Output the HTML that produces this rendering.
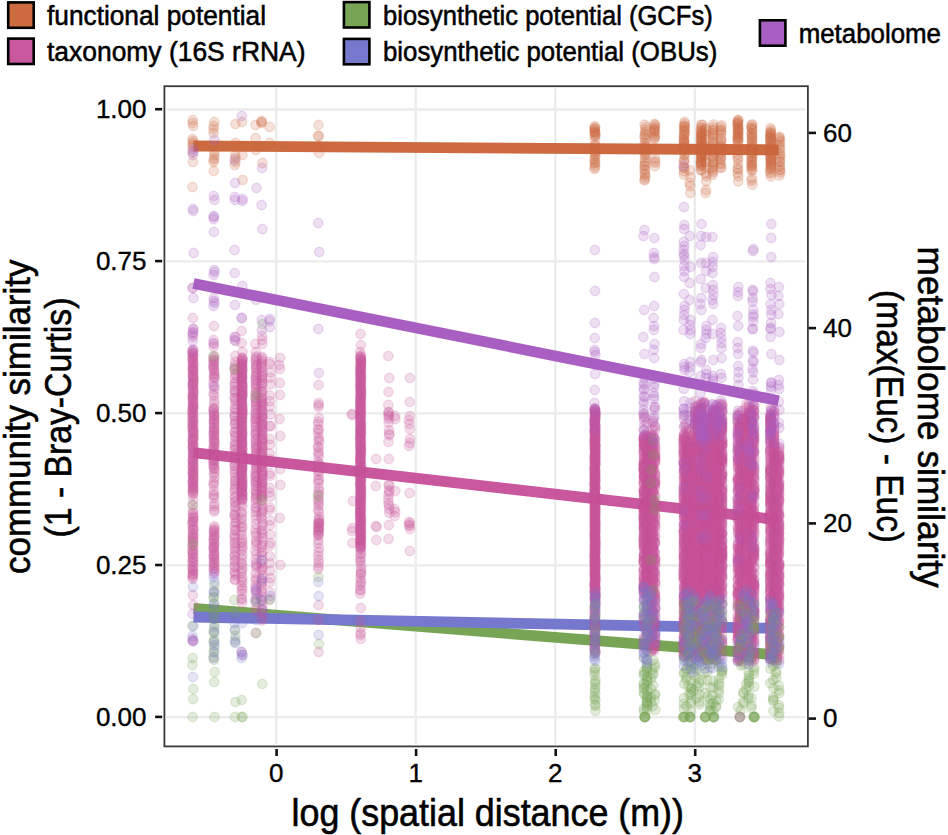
<!DOCTYPE html>
<html><head><meta charset="utf-8"><style>
html,body{margin:0;padding:0;background:#fff;width:948px;height:835px;overflow:hidden}
svg{display:block;font-family:"Liberation Sans",sans-serif}
circle{stroke-width:1.4px;}
.o circle{fill:#CB6B3F;stroke:#CB6B3F}
.m circle{fill:#C8579D;stroke:#C8579D}
.g circle{fill:#78A456;stroke:#78A456}
.b circle{fill:#7678CE;stroke:#7678CE}
.p circle{fill:#A95EC1;stroke:#A95EC1}
.pt{fill-opacity:.2;stroke-opacity:.2}
</style></head><body>
<svg width="948" height="835" viewBox="0 0 948 835">
<rect width="948" height="835" fill="#fff"/>
<g stroke="#EBEBEB" stroke-width="2.3"><line x1="276.2" y1="88.5" x2="276.2" y2="743.5"/><line x1="415.7" y1="88.5" x2="415.7" y2="743.5"/><line x1="555.3" y1="88.5" x2="555.3" y2="743.5"/><line x1="694.8" y1="88.5" x2="694.8" y2="743.5"/><line x1="166.5" y1="717.2" x2="805.5" y2="717.2"/><line x1="166.5" y1="565.3" x2="805.5" y2="565.3"/><line x1="166.5" y1="413.4" x2="805.5" y2="413.4"/><line x1="166.5" y1="261.4" x2="805.5" y2="261.4"/><line x1="166.5" y1="109.5" x2="805.5" y2="109.5"/></g>
<g><line x1="193.5" y1="146.0" x2="778.7" y2="149.86" stroke="#CB6B3F" stroke-width="10.8"/><line x1="193.5" y1="452.68" x2="778.7" y2="519.86" stroke="#C8579D" stroke-width="10.8"/><line x1="193.5" y1="608.48" x2="778.7" y2="655.12" stroke="#78A456" stroke-width="10.8"/><line x1="193.5" y1="617.0" x2="778.7" y2="628.47" stroke="#7678CE" stroke-width="10.8"/></g>
<g class="pt o"><circle cx="192.8" cy="120.0" r="4.75"/><circle cx="192.6" cy="123.0" r="4.75"/><circle cx="193.2" cy="126.0" r="4.75"/><circle cx="192.5" cy="139.0" r="4.75"/><circle cx="193.0" cy="141.0" r="4.75"/><circle cx="192.8" cy="143.0" r="4.75"/><circle cx="192.5" cy="145.0" r="4.75"/><circle cx="193.0" cy="147.0" r="4.75"/><circle cx="192.4" cy="152.0" r="4.75"/><circle cx="192.9" cy="162.0" r="4.75"/><circle cx="192.5" cy="187.0" r="4.75"/><circle cx="214.3" cy="122.0" r="4.75"/><circle cx="213.7" cy="126.0" r="4.75"/><circle cx="213.6" cy="129.0" r="4.75"/><circle cx="213.5" cy="133.0" r="4.75"/><circle cx="214.4" cy="152.0" r="4.75"/><circle cx="214.4" cy="155.0" r="4.75"/><circle cx="214.2" cy="158.0" r="4.75"/><circle cx="213.7" cy="160.0" r="4.75"/><circle cx="213.7" cy="162.0" r="4.75"/><circle cx="213.8" cy="171.0" r="4.75"/><circle cx="235.5" cy="124.0" r="4.75"/><circle cx="235.5" cy="143.0" r="4.75"/><circle cx="235.3" cy="155.0" r="4.75"/><circle cx="235.6" cy="158.0" r="4.75"/><circle cx="235.5" cy="162.0" r="4.75"/><circle cx="234.8" cy="165.0" r="4.75"/><circle cx="242.0" cy="122.0" r="4.75"/><circle cx="242.4" cy="155.0" r="4.75"/><circle cx="242.6" cy="180.0" r="4.75"/><circle cx="255.5" cy="125.0" r="4.75"/><circle cx="255.6" cy="138.0" r="4.75"/><circle cx="255.9" cy="150.0" r="4.75"/><circle cx="261.8" cy="121.0" r="4.75"/><circle cx="261.4" cy="122.0" r="4.75"/><circle cx="261.6" cy="123.0" r="4.75"/><circle cx="262.5" cy="163.0" r="4.75"/><circle cx="269.6" cy="127.0" r="4.75"/><circle cx="269.7" cy="143.0" r="4.75"/><circle cx="318.5" cy="125.0" r="4.75"/><circle cx="318.9" cy="136.0" r="4.75"/><circle cx="318.1" cy="136.0" r="4.75"/><circle cx="319.0" cy="146.0" r="4.75"/><circle cx="319.1" cy="153.0" r="4.75"/><circle cx="594.7" cy="126.3" r="4.75"/><circle cx="595.3" cy="127.4" r="4.75"/><circle cx="594.6" cy="128.6" r="4.75"/><circle cx="594.6" cy="129.0" r="4.75"/><circle cx="594.7" cy="130.8" r="4.75"/><circle cx="594.8" cy="131.6" r="4.75"/><circle cx="594.9" cy="132.7" r="4.75"/><circle cx="595.4" cy="133.1" r="4.75"/><circle cx="595.2" cy="134.5" r="4.75"/><circle cx="595.4" cy="135.8" r="4.75"/><circle cx="594.8" cy="136.0" r="4.75"/><circle cx="595.0" cy="139.7" r="4.75"/><circle cx="595.3" cy="145.2" r="4.75"/><circle cx="594.7" cy="145.7" r="4.75"/><circle cx="595.2" cy="151.4" r="4.75"/><circle cx="595.0" cy="152.7" r="4.75"/><circle cx="595.3" cy="154.1" r="4.75"/><circle cx="595.4" cy="156.3" r="4.75"/><circle cx="594.6" cy="158.5" r="4.75"/><circle cx="594.7" cy="159.8" r="4.75"/><circle cx="595.1" cy="162.6" r="4.75"/><circle cx="594.7" cy="162.9" r="4.75"/><circle cx="595.0" cy="165.2" r="4.75"/><circle cx="594.9" cy="167.4" r="4.75"/><circle cx="594.5" cy="168.8" r="4.75"/><circle cx="739.8" cy="717.0" r="4.75"/><circle cx="644.6" cy="124.7" r="4.75"/><circle cx="645.5" cy="127.0" r="4.75"/><circle cx="645.4" cy="129.5" r="4.75"/><circle cx="645.3" cy="131.8" r="4.75"/><circle cx="645.3" cy="134.3" r="4.75"/><circle cx="644.7" cy="134.9" r="4.75"/><circle cx="644.5" cy="137.3" r="4.75"/><circle cx="645.4" cy="139.0" r="4.75"/><circle cx="644.8" cy="142.5" r="4.75"/><circle cx="645.3" cy="144.2" r="4.75"/><circle cx="645.3" cy="146.6" r="4.75"/><circle cx="644.6" cy="147.9" r="4.75"/><circle cx="644.8" cy="150.6" r="4.75"/><circle cx="644.9" cy="152.2" r="4.75"/><circle cx="645.5" cy="154.1" r="4.75"/><circle cx="645.0" cy="155.4" r="4.75"/><circle cx="645.0" cy="158.5" r="4.75"/><circle cx="644.9" cy="161.2" r="4.75"/><circle cx="645.2" cy="163.2" r="4.75"/><circle cx="644.6" cy="165.4" r="4.75"/><circle cx="644.8" cy="165.9" r="4.75"/><circle cx="644.5" cy="169.4" r="4.75"/><circle cx="645.2" cy="170.1" r="4.75"/><circle cx="644.7" cy="173.7" r="4.75"/><circle cx="645.2" cy="174.6" r="4.75"/><circle cx="645.2" cy="177.2" r="4.75"/><circle cx="644.7" cy="179.4" r="4.75"/><circle cx="644.5" cy="180.5" r="4.75"/><circle cx="654.4" cy="124.0" r="4.75"/><circle cx="655.2" cy="124.8" r="4.75"/><circle cx="654.8" cy="126.7" r="4.75"/><circle cx="654.8" cy="128.2" r="4.75"/><circle cx="654.5" cy="129.7" r="4.75"/><circle cx="654.3" cy="130.2" r="4.75"/><circle cx="654.6" cy="131.5" r="4.75"/><circle cx="654.3" cy="133.1" r="4.75"/><circle cx="655.2" cy="135.0" r="4.75"/><circle cx="654.5" cy="136.7" r="4.75"/><circle cx="654.4" cy="138.3" r="4.75"/><circle cx="654.5" cy="138.7" r="4.75"/><circle cx="654.9" cy="158.1" r="4.75"/><circle cx="654.9" cy="161.0" r="4.75"/><circle cx="655.1" cy="162.8" r="4.75"/><circle cx="655.0" cy="166.2" r="4.75"/><circle cx="684.6" cy="122.0" r="4.75"/><circle cx="684.7" cy="123.6" r="4.75"/><circle cx="684.5" cy="125.6" r="4.75"/><circle cx="683.8" cy="126.2" r="4.75"/><circle cx="684.7" cy="127.3" r="4.75"/><circle cx="684.5" cy="128.6" r="4.75"/><circle cx="684.5" cy="130.4" r="4.75"/><circle cx="683.9" cy="131.1" r="4.75"/><circle cx="684.8" cy="132.3" r="4.75"/><circle cx="684.5" cy="133.9" r="4.75"/><circle cx="684.0" cy="135.5" r="4.75"/><circle cx="683.8" cy="136.1" r="4.75"/><circle cx="683.9" cy="138.4" r="4.75"/><circle cx="684.2" cy="139.8" r="4.75"/><circle cx="683.9" cy="140.7" r="4.75"/><circle cx="684.1" cy="142.1" r="4.75"/><circle cx="684.3" cy="142.8" r="4.75"/><circle cx="684.0" cy="143.8" r="4.75"/><circle cx="684.1" cy="145.9" r="4.75"/><circle cx="684.6" cy="146.7" r="4.75"/><circle cx="684.0" cy="147.7" r="4.75"/><circle cx="684.2" cy="149.0" r="4.75"/><circle cx="684.4" cy="150.9" r="4.75"/><circle cx="684.7" cy="153.8" r="4.75"/><circle cx="684.5" cy="155.3" r="4.75"/><circle cx="684.0" cy="160.0" r="4.75"/><circle cx="684.2" cy="160.5" r="4.75"/><circle cx="684.3" cy="163.3" r="4.75"/><circle cx="683.9" cy="167.4" r="4.75"/><circle cx="684.3" cy="168.5" r="4.75"/><circle cx="684.0" cy="171.3" r="4.75"/><circle cx="683.9" cy="174.5" r="4.75"/><circle cx="689.9" cy="170.3" r="4.75"/><circle cx="690.4" cy="177.3" r="4.75"/><circle cx="689.6" cy="182.8" r="4.75"/><circle cx="690.2" cy="186.1" r="4.75"/><circle cx="690.4" cy="192.8" r="4.75"/><circle cx="701.8" cy="124.7" r="4.75"/><circle cx="701.8" cy="124.9" r="4.75"/><circle cx="701.1" cy="127.4" r="4.75"/><circle cx="701.8" cy="128.5" r="4.75"/><circle cx="701.0" cy="130.2" r="4.75"/><circle cx="701.8" cy="131.1" r="4.75"/><circle cx="701.6" cy="132.2" r="4.75"/><circle cx="701.4" cy="132.8" r="4.75"/><circle cx="701.1" cy="133.9" r="4.75"/><circle cx="701.3" cy="135.1" r="4.75"/><circle cx="701.9" cy="135.5" r="4.75"/><circle cx="701.1" cy="136.7" r="4.75"/><circle cx="701.6" cy="137.2" r="4.75"/><circle cx="700.9" cy="138.6" r="4.75"/><circle cx="701.6" cy="139.4" r="4.75"/><circle cx="701.1" cy="140.4" r="4.75"/><circle cx="701.5" cy="141.2" r="4.75"/><circle cx="701.0" cy="142.3" r="4.75"/><circle cx="701.8" cy="143.3" r="4.75"/><circle cx="701.8" cy="144.2" r="4.75"/><circle cx="701.8" cy="144.7" r="4.75"/><circle cx="701.1" cy="145.5" r="4.75"/><circle cx="701.8" cy="146.7" r="4.75"/><circle cx="701.1" cy="147.2" r="4.75"/><circle cx="701.3" cy="148.0" r="4.75"/><circle cx="701.1" cy="149.0" r="4.75"/><circle cx="701.5" cy="150.5" r="4.75"/><circle cx="701.3" cy="151.5" r="4.75"/><circle cx="700.9" cy="152.2" r="4.75"/><circle cx="701.1" cy="153.4" r="4.75"/><circle cx="701.4" cy="153.8" r="4.75"/><circle cx="701.4" cy="155.2" r="4.75"/><circle cx="701.5" cy="156.1" r="4.75"/><circle cx="701.7" cy="156.3" r="4.75"/><circle cx="701.9" cy="157.2" r="4.75"/><circle cx="701.1" cy="158.3" r="4.75"/><circle cx="701.2" cy="159.7" r="4.75"/><circle cx="701.2" cy="160.1" r="4.75"/><circle cx="700.9" cy="161.2" r="4.75"/><circle cx="701.1" cy="161.8" r="4.75"/><circle cx="700.9" cy="163.1" r="4.75"/><circle cx="701.2" cy="163.8" r="4.75"/><circle cx="701.5" cy="164.6" r="4.75"/><circle cx="701.0" cy="165.7" r="4.75"/><circle cx="701.0" cy="166.5" r="4.75"/><circle cx="701.0" cy="169.9" r="4.75"/><circle cx="701.4" cy="170.3" r="4.75"/><circle cx="706.4" cy="128.3" r="4.75"/><circle cx="705.7" cy="130.2" r="4.75"/><circle cx="706.1" cy="134.7" r="4.75"/><circle cx="705.9" cy="139.8" r="4.75"/><circle cx="706.2" cy="145.6" r="4.75"/><circle cx="706.5" cy="149.4" r="4.75"/><circle cx="706.4" cy="151.1" r="4.75"/><circle cx="705.6" cy="155.6" r="4.75"/><circle cx="705.6" cy="161.7" r="4.75"/><circle cx="705.8" cy="162.1" r="4.75"/><circle cx="706.5" cy="167.2" r="4.75"/><circle cx="705.9" cy="173.5" r="4.75"/><circle cx="706.3" cy="176.1" r="4.75"/><circle cx="706.2" cy="181.2" r="4.75"/><circle cx="706.0" cy="190.0" r="4.75"/><circle cx="705.5" cy="193.0" r="4.75"/><circle cx="713.2" cy="124.5" r="4.75"/><circle cx="713.3" cy="127.2" r="4.75"/><circle cx="713.5" cy="129.8" r="4.75"/><circle cx="712.6" cy="130.4" r="4.75"/><circle cx="713.1" cy="133.8" r="4.75"/><circle cx="713.2" cy="134.4" r="4.75"/><circle cx="712.7" cy="136.5" r="4.75"/><circle cx="713.0" cy="138.7" r="4.75"/><circle cx="712.6" cy="141.4" r="4.75"/><circle cx="713.1" cy="143.5" r="4.75"/><circle cx="713.2" cy="144.9" r="4.75"/><circle cx="712.5" cy="147.6" r="4.75"/><circle cx="713.2" cy="149.0" r="4.75"/><circle cx="713.1" cy="151.4" r="4.75"/><circle cx="713.5" cy="152.4" r="4.75"/><circle cx="712.7" cy="155.6" r="4.75"/><circle cx="713.5" cy="156.9" r="4.75"/><circle cx="712.9" cy="158.4" r="4.75"/><circle cx="713.4" cy="161.9" r="4.75"/><circle cx="713.2" cy="162.5" r="4.75"/><circle cx="713.2" cy="164.7" r="4.75"/><circle cx="712.6" cy="167.5" r="4.75"/><circle cx="712.7" cy="168.4" r="4.75"/><circle cx="712.5" cy="170.5" r="4.75"/><circle cx="712.9" cy="172.3" r="4.75"/><circle cx="712.6" cy="174.8" r="4.75"/><circle cx="721.4" cy="125.2" r="4.75"/><circle cx="720.9" cy="127.3" r="4.75"/><circle cx="720.9" cy="129.7" r="4.75"/><circle cx="721.0" cy="130.6" r="4.75"/><circle cx="721.2" cy="132.4" r="4.75"/><circle cx="720.9" cy="134.8" r="4.75"/><circle cx="721.3" cy="138.6" r="4.75"/><circle cx="721.1" cy="140.4" r="4.75"/><circle cx="721.2" cy="142.1" r="4.75"/><circle cx="720.7" cy="144.8" r="4.75"/><circle cx="720.8" cy="146.5" r="4.75"/><circle cx="721.3" cy="147.5" r="4.75"/><circle cx="721.3" cy="150.3" r="4.75"/><circle cx="721.1" cy="153.0" r="4.75"/><circle cx="720.5" cy="153.7" r="4.75"/><circle cx="721.2" cy="156.5" r="4.75"/><circle cx="720.6" cy="158.0" r="4.75"/><circle cx="720.7" cy="159.6" r="4.75"/><circle cx="720.5" cy="163.1" r="4.75"/><circle cx="720.8" cy="164.2" r="4.75"/><circle cx="721.5" cy="167.3" r="4.75"/><circle cx="720.6" cy="167.9" r="4.75"/><circle cx="738.5" cy="120.0" r="4.75"/><circle cx="737.8" cy="120.2" r="4.75"/><circle cx="737.8" cy="121.6" r="4.75"/><circle cx="738.0" cy="122.6" r="4.75"/><circle cx="737.6" cy="123.5" r="4.75"/><circle cx="737.7" cy="124.3" r="4.75"/><circle cx="738.1" cy="125.4" r="4.75"/><circle cx="737.8" cy="127.0" r="4.75"/><circle cx="738.2" cy="128.2" r="4.75"/><circle cx="738.0" cy="128.8" r="4.75"/><circle cx="738.4" cy="129.7" r="4.75"/><circle cx="737.6" cy="131.1" r="4.75"/><circle cx="738.2" cy="131.7" r="4.75"/><circle cx="738.2" cy="133.0" r="4.75"/><circle cx="738.3" cy="133.9" r="4.75"/><circle cx="737.6" cy="135.5" r="4.75"/><circle cx="737.7" cy="136.3" r="4.75"/><circle cx="738.3" cy="137.5" r="4.75"/><circle cx="737.7" cy="138.6" r="4.75"/><circle cx="738.2" cy="139.0" r="4.75"/><circle cx="737.6" cy="140.5" r="4.75"/><circle cx="738.1" cy="141.2" r="4.75"/><circle cx="738.1" cy="142.4" r="4.75"/><circle cx="737.8" cy="146.1" r="4.75"/><circle cx="738.0" cy="150.1" r="4.75"/><circle cx="737.5" cy="154.4" r="4.75"/><circle cx="737.7" cy="157.7" r="4.75"/><circle cx="738.1" cy="159.6" r="4.75"/><circle cx="738.1" cy="164.3" r="4.75"/><circle cx="737.7" cy="168.3" r="4.75"/><circle cx="738.2" cy="169.7" r="4.75"/><circle cx="737.7" cy="172.9" r="4.75"/><circle cx="738.3" cy="176.1" r="4.75"/><circle cx="738.2" cy="181.4" r="4.75"/><circle cx="752.3" cy="124.4" r="4.75"/><circle cx="751.8" cy="124.9" r="4.75"/><circle cx="751.6" cy="126.9" r="4.75"/><circle cx="751.6" cy="128.2" r="4.75"/><circle cx="752.0" cy="128.8" r="4.75"/><circle cx="752.4" cy="130.4" r="4.75"/><circle cx="752.0" cy="132.9" r="4.75"/><circle cx="751.6" cy="133.4" r="4.75"/><circle cx="752.0" cy="135.3" r="4.75"/><circle cx="752.2" cy="136.5" r="4.75"/><circle cx="752.3" cy="138.2" r="4.75"/><circle cx="751.6" cy="139.0" r="4.75"/><circle cx="752.0" cy="140.9" r="4.75"/><circle cx="752.2" cy="142.1" r="4.75"/><circle cx="751.8" cy="143.5" r="4.75"/><circle cx="752.2" cy="145.3" r="4.75"/><circle cx="751.9" cy="147.2" r="4.75"/><circle cx="752.4" cy="148.1" r="4.75"/><circle cx="752.1" cy="150.3" r="4.75"/><circle cx="752.0" cy="150.5" r="4.75"/><circle cx="751.8" cy="152.7" r="4.75"/><circle cx="752.5" cy="153.3" r="4.75"/><circle cx="751.6" cy="156.0" r="4.75"/><circle cx="752.1" cy="156.8" r="4.75"/><circle cx="751.6" cy="158.0" r="4.75"/><circle cx="752.3" cy="160.1" r="4.75"/><circle cx="751.6" cy="161.1" r="4.75"/><circle cx="751.6" cy="162.5" r="4.75"/><circle cx="751.6" cy="164.7" r="4.75"/><circle cx="752.3" cy="165.2" r="4.75"/><circle cx="751.6" cy="166.4" r="4.75"/><circle cx="751.7" cy="167.8" r="4.75"/><circle cx="752.3" cy="169.9" r="4.75"/><circle cx="751.7" cy="170.8" r="4.75"/><circle cx="751.9" cy="178.3" r="4.75"/><circle cx="751.6" cy="180.8" r="4.75"/><circle cx="752.5" cy="184.7" r="4.75"/><circle cx="770.4" cy="128.2" r="4.75"/><circle cx="771.0" cy="130.3" r="4.75"/><circle cx="770.6" cy="131.9" r="4.75"/><circle cx="770.7" cy="133.0" r="4.75"/><circle cx="770.6" cy="133.4" r="4.75"/><circle cx="770.8" cy="134.9" r="4.75"/><circle cx="770.3" cy="135.3" r="4.75"/><circle cx="770.2" cy="137.2" r="4.75"/><circle cx="770.4" cy="138.1" r="4.75"/><circle cx="770.4" cy="138.6" r="4.75"/><circle cx="771.1" cy="139.9" r="4.75"/><circle cx="771.0" cy="140.6" r="4.75"/><circle cx="770.3" cy="141.8" r="4.75"/><circle cx="770.4" cy="143.3" r="4.75"/><circle cx="770.5" cy="143.8" r="4.75"/><circle cx="771.0" cy="145.5" r="4.75"/><circle cx="770.1" cy="146.3" r="4.75"/><circle cx="770.7" cy="147.6" r="4.75"/><circle cx="771.1" cy="148.8" r="4.75"/><circle cx="770.9" cy="149.2" r="4.75"/><circle cx="770.4" cy="150.8" r="4.75"/><circle cx="770.5" cy="151.4" r="4.75"/><circle cx="770.5" cy="152.4" r="4.75"/><circle cx="770.3" cy="153.2" r="4.75"/><circle cx="770.5" cy="155.1" r="4.75"/><circle cx="771.0" cy="155.9" r="4.75"/><circle cx="770.3" cy="157.1" r="4.75"/><circle cx="770.9" cy="158.3" r="4.75"/><circle cx="770.8" cy="159.4" r="4.75"/><circle cx="770.9" cy="160.2" r="4.75"/><circle cx="770.8" cy="160.8" r="4.75"/><circle cx="770.9" cy="162.0" r="4.75"/><circle cx="770.6" cy="162.8" r="4.75"/><circle cx="770.9" cy="164.0" r="4.75"/><circle cx="770.9" cy="165.1" r="4.75"/><circle cx="771.0" cy="166.7" r="4.75"/><circle cx="771.0" cy="167.0" r="4.75"/><circle cx="770.8" cy="168.7" r="4.75"/><circle cx="770.1" cy="169.6" r="4.75"/><circle cx="770.6" cy="172.0" r="4.75"/><circle cx="770.4" cy="173.4" r="4.75"/><circle cx="770.9" cy="176.5" r="4.75"/><circle cx="779.5" cy="136.8" r="4.75"/><circle cx="779.5" cy="137.7" r="4.75"/><circle cx="779.6" cy="139.3" r="4.75"/><circle cx="780.1" cy="141.2" r="4.75"/><circle cx="779.4" cy="143.7" r="4.75"/><circle cx="780.0" cy="145.4" r="4.75"/><circle cx="779.8" cy="147.7" r="4.75"/><circle cx="780.1" cy="150.2" r="4.75"/><circle cx="779.6" cy="153.4" r="4.75"/><circle cx="780.2" cy="154.7" r="4.75"/><circle cx="780.2" cy="156.5" r="4.75"/><circle cx="779.6" cy="159.1" r="4.75"/><circle cx="779.9" cy="161.4" r="4.75"/><circle cx="779.9" cy="161.9" r="4.75"/><circle cx="779.8" cy="165.4" r="4.75"/><circle cx="779.7" cy="166.7" r="4.75"/><circle cx="780.0" cy="169.6" r="4.75"/><circle cx="779.7" cy="170.3" r="4.75"/><circle cx="780.3" cy="172.6" r="4.75"/><circle cx="779.4" cy="175.4" r="4.75"/></g>
<g class="pt m"><circle cx="192.5" cy="288.0" r="4.75"/><circle cx="192.9" cy="318.0" r="4.75"/><circle cx="193.4" cy="329.0" r="4.75"/><circle cx="192.5" cy="333.0" r="4.75"/><circle cx="192.7" cy="337.0" r="4.75"/><circle cx="193.4" cy="349.7" r="4.75"/><circle cx="192.9" cy="350.8" r="4.75"/><circle cx="192.5" cy="352.3" r="4.75"/><circle cx="192.8" cy="353.3" r="4.75"/><circle cx="192.6" cy="353.7" r="4.75"/><circle cx="193.3" cy="355.0" r="4.75"/><circle cx="193.1" cy="355.9" r="4.75"/><circle cx="192.9" cy="357.6" r="4.75"/><circle cx="192.6" cy="358.6" r="4.75"/><circle cx="192.7" cy="359.2" r="4.75"/><circle cx="192.9" cy="361.0" r="4.75"/><circle cx="193.1" cy="361.7" r="4.75"/><circle cx="192.8" cy="363.0" r="4.75"/><circle cx="193.2" cy="364.5" r="4.75"/><circle cx="193.1" cy="365.0" r="4.75"/><circle cx="193.4" cy="366.4" r="4.75"/><circle cx="192.8" cy="367.8" r="4.75"/><circle cx="192.6" cy="369.2" r="4.75"/><circle cx="193.3" cy="369.7" r="4.75"/><circle cx="193.0" cy="370.5" r="4.75"/><circle cx="193.2" cy="371.5" r="4.75"/><circle cx="193.1" cy="373.4" r="4.75"/><circle cx="192.8" cy="374.7" r="4.75"/><circle cx="193.1" cy="375.6" r="4.75"/><circle cx="193.0" cy="376.6" r="4.75"/><circle cx="193.4" cy="378.0" r="4.75"/><circle cx="193.2" cy="378.7" r="4.75"/><circle cx="193.2" cy="379.4" r="4.75"/><circle cx="193.5" cy="381.2" r="4.75"/><circle cx="192.8" cy="382.5" r="4.75"/><circle cx="193.2" cy="383.1" r="4.75"/><circle cx="193.0" cy="383.8" r="4.75"/><circle cx="192.6" cy="385.1" r="4.75"/><circle cx="193.3" cy="386.1" r="4.75"/><circle cx="192.7" cy="387.3" r="4.75"/><circle cx="193.4" cy="388.7" r="4.75"/><circle cx="192.9" cy="389.5" r="4.75"/><circle cx="193.4" cy="391.2" r="4.75"/><circle cx="193.4" cy="392.6" r="4.75"/><circle cx="192.9" cy="393.1" r="4.75"/><circle cx="193.4" cy="394.3" r="4.75"/><circle cx="192.7" cy="396.1" r="4.75"/><circle cx="192.7" cy="396.4" r="4.75"/><circle cx="193.0" cy="397.6" r="4.75"/><circle cx="192.8" cy="399.1" r="4.75"/><circle cx="192.9" cy="399.5" r="4.75"/><circle cx="193.1" cy="401.1" r="4.75"/><circle cx="193.2" cy="402.9" r="4.75"/><circle cx="193.1" cy="403.5" r="4.75"/><circle cx="192.6" cy="404.8" r="4.75"/><circle cx="193.3" cy="406.2" r="4.75"/><circle cx="193.3" cy="407.3" r="4.75"/><circle cx="192.9" cy="407.8" r="4.75"/><circle cx="193.1" cy="408.6" r="4.75"/><circle cx="192.6" cy="409.7" r="4.75"/><circle cx="192.7" cy="411.0" r="4.75"/><circle cx="192.6" cy="412.3" r="4.75"/><circle cx="192.7" cy="413.0" r="4.75"/><circle cx="192.9" cy="414.3" r="4.75"/><circle cx="193.4" cy="415.3" r="4.75"/><circle cx="192.6" cy="417.1" r="4.75"/><circle cx="192.8" cy="417.8" r="4.75"/><circle cx="192.6" cy="419.0" r="4.75"/><circle cx="193.5" cy="420.7" r="4.75"/><circle cx="193.0" cy="421.4" r="4.75"/><circle cx="192.6" cy="422.1" r="4.75"/><circle cx="192.8" cy="423.5" r="4.75"/><circle cx="192.7" cy="425.2" r="4.75"/><circle cx="193.5" cy="425.4" r="4.75"/><circle cx="192.6" cy="427.1" r="4.75"/><circle cx="192.5" cy="428.2" r="4.75"/><circle cx="193.5" cy="429.3" r="4.75"/><circle cx="193.2" cy="430.8" r="4.75"/><circle cx="192.9" cy="431.3" r="4.75"/><circle cx="193.3" cy="432.3" r="4.75"/><circle cx="193.3" cy="433.8" r="4.75"/><circle cx="192.7" cy="434.7" r="4.75"/><circle cx="193.5" cy="436.4" r="4.75"/><circle cx="193.3" cy="437.6" r="4.75"/><circle cx="193.2" cy="438.6" r="4.75"/><circle cx="193.0" cy="439.1" r="4.75"/><circle cx="192.5" cy="440.4" r="4.75"/><circle cx="192.8" cy="441.1" r="4.75"/><circle cx="193.2" cy="442.5" r="4.75"/><circle cx="192.9" cy="444.4" r="4.75"/><circle cx="193.5" cy="445.5" r="4.75"/><circle cx="192.9" cy="446.7" r="4.75"/><circle cx="192.7" cy="447.0" r="4.75"/><circle cx="192.7" cy="448.1" r="4.75"/><circle cx="193.4" cy="449.7" r="4.75"/><circle cx="193.0" cy="451.0" r="4.75"/><circle cx="193.3" cy="451.9" r="4.75"/><circle cx="193.2" cy="452.4" r="4.75"/><circle cx="193.3" cy="454.5" r="4.75"/><circle cx="193.0" cy="455.4" r="4.75"/><circle cx="193.3" cy="455.9" r="4.75"/><circle cx="193.3" cy="457.2" r="4.75"/><circle cx="192.9" cy="459.0" r="4.75"/><circle cx="193.4" cy="459.5" r="4.75"/><circle cx="192.7" cy="461.0" r="4.75"/><circle cx="192.7" cy="461.5" r="4.75"/><circle cx="193.3" cy="463.4" r="4.75"/><circle cx="193.3" cy="463.7" r="4.75"/><circle cx="193.2" cy="465.8" r="4.75"/><circle cx="193.0" cy="466.2" r="4.75"/><circle cx="192.5" cy="467.1" r="4.75"/><circle cx="193.1" cy="469.1" r="4.75"/><circle cx="193.4" cy="469.8" r="4.75"/><circle cx="193.4" cy="470.8" r="4.75"/><circle cx="192.7" cy="472.3" r="4.75"/><circle cx="192.8" cy="472.8" r="4.75"/><circle cx="193.1" cy="473.9" r="4.75"/><circle cx="192.9" cy="475.1" r="4.75"/><circle cx="193.4" cy="476.1" r="4.75"/><circle cx="193.0" cy="477.4" r="4.75"/><circle cx="193.4" cy="478.8" r="4.75"/><circle cx="193.4" cy="479.7" r="4.75"/><circle cx="193.0" cy="481.0" r="4.75"/><circle cx="192.5" cy="482.1" r="4.75"/><circle cx="192.7" cy="483.1" r="4.75"/><circle cx="193.3" cy="483.8" r="4.75"/><circle cx="193.0" cy="485.1" r="4.75"/><circle cx="193.1" cy="486.8" r="4.75"/><circle cx="193.0" cy="487.5" r="4.75"/><circle cx="193.3" cy="488.9" r="4.75"/><circle cx="193.1" cy="489.5" r="4.75"/><circle cx="192.8" cy="490.8" r="4.75"/><circle cx="193.0" cy="492.5" r="4.75"/><circle cx="193.3" cy="493.4" r="4.75"/><circle cx="192.9" cy="494.9" r="4.75"/><circle cx="193.1" cy="500.0" r="4.75"/><circle cx="193.0" cy="505.0" r="4.75"/><circle cx="193.0" cy="510.0" r="4.75"/><circle cx="193.0" cy="513.0" r="4.75"/><circle cx="193.0" cy="514.3" r="4.75"/><circle cx="193.2" cy="516.4" r="4.75"/><circle cx="193.4" cy="517.9" r="4.75"/><circle cx="193.1" cy="518.4" r="4.75"/><circle cx="193.3" cy="521.0" r="4.75"/><circle cx="192.6" cy="521.3" r="4.75"/><circle cx="192.6" cy="523.2" r="4.75"/><circle cx="192.6" cy="524.5" r="4.75"/><circle cx="193.3" cy="526.6" r="4.75"/><circle cx="192.7" cy="528.5" r="4.75"/><circle cx="193.2" cy="529.7" r="4.75"/><circle cx="193.4" cy="530.3" r="4.75"/><circle cx="192.7" cy="533.1" r="4.75"/><circle cx="192.9" cy="534.6" r="4.75"/><circle cx="193.5" cy="535.4" r="4.75"/><circle cx="192.7" cy="537.4" r="4.75"/><circle cx="193.0" cy="538.3" r="4.75"/><circle cx="192.7" cy="539.7" r="4.75"/><circle cx="193.2" cy="541.2" r="4.75"/><circle cx="193.1" cy="542.3" r="4.75"/><circle cx="192.5" cy="544.4" r="4.75"/><circle cx="193.1" cy="545.7" r="4.75"/><circle cx="192.6" cy="547.5" r="4.75"/><circle cx="193.3" cy="549.8" r="4.75"/><circle cx="192.6" cy="551.2" r="4.75"/><circle cx="192.5" cy="551.7" r="4.75"/><circle cx="192.8" cy="554.0" r="4.75"/><circle cx="192.9" cy="554.5" r="4.75"/><circle cx="193.3" cy="557.2" r="4.75"/><circle cx="192.6" cy="557.7" r="4.75"/><circle cx="193.1" cy="560.2" r="4.75"/><circle cx="192.6" cy="561.4" r="4.75"/><circle cx="193.2" cy="562.0" r="4.75"/><circle cx="192.6" cy="564.0" r="4.75"/><circle cx="193.1" cy="566.3" r="4.75"/><circle cx="192.6" cy="567.6" r="4.75"/><circle cx="192.6" cy="569.2" r="4.75"/><circle cx="193.0" cy="570.7" r="4.75"/><circle cx="193.1" cy="571.4" r="4.75"/><circle cx="192.8" cy="573.8" r="4.75"/><circle cx="193.0" cy="574.2" r="4.75"/><circle cx="192.6" cy="575.8" r="4.75"/><circle cx="192.6" cy="577.2" r="4.75"/><circle cx="192.8" cy="578.8" r="4.75"/><circle cx="192.8" cy="595.0" r="4.75"/><circle cx="193.3" cy="605.0" r="4.75"/><circle cx="192.7" cy="639.0" r="4.75"/><circle cx="193.0" cy="641.0" r="4.75"/><circle cx="214.0" cy="326.0" r="4.75"/><circle cx="213.6" cy="340.0" r="4.75"/><circle cx="213.9" cy="344.0" r="4.75"/><circle cx="213.7" cy="347.0" r="4.75"/><circle cx="214.5" cy="356.5" r="4.75"/><circle cx="213.7" cy="357.4" r="4.75"/><circle cx="213.8" cy="359.6" r="4.75"/><circle cx="213.5" cy="360.2" r="4.75"/><circle cx="214.0" cy="361.8" r="4.75"/><circle cx="213.7" cy="363.6" r="4.75"/><circle cx="213.5" cy="365.2" r="4.75"/><circle cx="213.6" cy="366.4" r="4.75"/><circle cx="213.5" cy="368.1" r="4.75"/><circle cx="213.8" cy="369.1" r="4.75"/><circle cx="214.1" cy="371.0" r="4.75"/><circle cx="214.3" cy="373.0" r="4.75"/><circle cx="214.2" cy="374.8" r="4.75"/><circle cx="213.9" cy="376.7" r="4.75"/><circle cx="214.5" cy="377.4" r="4.75"/><circle cx="214.2" cy="378.7" r="4.75"/><circle cx="213.5" cy="382.3" r="4.75"/><circle cx="214.4" cy="386.4" r="4.75"/><circle cx="214.2" cy="389.2" r="4.75"/><circle cx="213.6" cy="393.3" r="4.75"/><circle cx="214.0" cy="395.8" r="4.75"/><circle cx="214.3" cy="400.4" r="4.75"/><circle cx="214.1" cy="403.9" r="4.75"/><circle cx="214.2" cy="407.6" r="4.75"/><circle cx="213.7" cy="409.0" r="4.75"/><circle cx="213.6" cy="409.4" r="4.75"/><circle cx="213.6" cy="411.3" r="4.75"/><circle cx="214.1" cy="413.3" r="4.75"/><circle cx="214.1" cy="414.4" r="4.75"/><circle cx="214.0" cy="415.8" r="4.75"/><circle cx="214.3" cy="416.3" r="4.75"/><circle cx="214.0" cy="418.7" r="4.75"/><circle cx="214.2" cy="419.8" r="4.75"/><circle cx="214.2" cy="420.5" r="4.75"/><circle cx="213.6" cy="422.1" r="4.75"/><circle cx="214.2" cy="423.5" r="4.75"/><circle cx="214.2" cy="424.8" r="4.75"/><circle cx="214.0" cy="427.3" r="4.75"/><circle cx="214.0" cy="427.8" r="4.75"/><circle cx="214.3" cy="429.6" r="4.75"/><circle cx="214.1" cy="430.9" r="4.75"/><circle cx="213.6" cy="431.5" r="4.75"/><circle cx="214.2" cy="433.1" r="4.75"/><circle cx="214.1" cy="434.6" r="4.75"/><circle cx="213.6" cy="435.6" r="4.75"/><circle cx="214.2" cy="437.3" r="4.75"/><circle cx="214.2" cy="439.3" r="4.75"/><circle cx="214.0" cy="440.1" r="4.75"/><circle cx="214.0" cy="441.7" r="4.75"/><circle cx="214.4" cy="442.6" r="4.75"/><circle cx="214.5" cy="444.1" r="4.75"/><circle cx="213.5" cy="446.5" r="4.75"/><circle cx="214.3" cy="447.2" r="4.75"/><circle cx="213.9" cy="449.3" r="4.75"/><circle cx="213.7" cy="449.7" r="4.75"/><circle cx="213.7" cy="452.0" r="4.75"/><circle cx="213.6" cy="452.9" r="4.75"/><circle cx="214.5" cy="454.2" r="4.75"/><circle cx="214.3" cy="455.0" r="4.75"/><circle cx="214.4" cy="456.9" r="4.75"/><circle cx="213.7" cy="458.6" r="4.75"/><circle cx="214.0" cy="460.2" r="4.75"/><circle cx="213.5" cy="460.4" r="4.75"/><circle cx="214.0" cy="462.4" r="4.75"/><circle cx="213.6" cy="463.5" r="4.75"/><circle cx="213.8" cy="465.0" r="4.75"/><circle cx="213.5" cy="467.0" r="4.75"/><circle cx="214.3" cy="468.3" r="4.75"/><circle cx="214.4" cy="468.8" r="4.75"/><circle cx="214.4" cy="472.2" r="4.75"/><circle cx="213.9" cy="474.0" r="4.75"/><circle cx="214.5" cy="477.3" r="4.75"/><circle cx="213.9" cy="481.0" r="4.75"/><circle cx="213.8" cy="483.6" r="4.75"/><circle cx="213.6" cy="485.5" r="4.75"/><circle cx="213.8" cy="491.0" r="4.75"/><circle cx="213.7" cy="494.4" r="4.75"/><circle cx="214.0" cy="495.4" r="4.75"/><circle cx="213.9" cy="498.2" r="4.75"/><circle cx="214.4" cy="503.7" r="4.75"/><circle cx="214.1" cy="506.3" r="4.75"/><circle cx="214.4" cy="509.7" r="4.75"/><circle cx="214.2" cy="511.6" r="4.75"/><circle cx="214.2" cy="526.1" r="4.75"/><circle cx="214.3" cy="528.1" r="4.75"/><circle cx="213.8" cy="529.9" r="4.75"/><circle cx="214.4" cy="530.5" r="4.75"/><circle cx="214.0" cy="532.1" r="4.75"/><circle cx="213.8" cy="533.8" r="4.75"/><circle cx="214.5" cy="535.9" r="4.75"/><circle cx="214.2" cy="536.7" r="4.75"/><circle cx="214.1" cy="538.2" r="4.75"/><circle cx="213.7" cy="539.8" r="4.75"/><circle cx="213.7" cy="540.9" r="4.75"/><circle cx="214.0" cy="543.5" r="4.75"/><circle cx="214.4" cy="543.9" r="4.75"/><circle cx="213.9" cy="546.6" r="4.75"/><circle cx="213.7" cy="546.8" r="4.75"/><circle cx="213.8" cy="548.2" r="4.75"/><circle cx="213.7" cy="549.6" r="4.75"/><circle cx="214.1" cy="551.3" r="4.75"/><circle cx="214.2" cy="553.7" r="4.75"/><circle cx="213.9" cy="554.5" r="4.75"/><circle cx="213.9" cy="556.1" r="4.75"/><circle cx="213.6" cy="557.3" r="4.75"/><circle cx="214.5" cy="558.7" r="4.75"/><circle cx="214.0" cy="560.0" r="4.75"/><circle cx="214.4" cy="562.2" r="4.75"/><circle cx="213.8" cy="563.0" r="4.75"/><circle cx="213.9" cy="564.6" r="4.75"/><circle cx="214.5" cy="566.3" r="4.75"/><circle cx="214.4" cy="568.4" r="4.75"/><circle cx="213.5" cy="568.6" r="4.75"/><circle cx="214.4" cy="571.1" r="4.75"/><circle cx="214.1" cy="572.2" r="4.75"/><circle cx="234.6" cy="337.0" r="4.75"/><circle cx="235.5" cy="341.0" r="4.75"/><circle cx="235.3" cy="356.0" r="4.75"/><circle cx="235.2" cy="362.1" r="4.75"/><circle cx="234.9" cy="365.6" r="4.75"/><circle cx="234.7" cy="368.0" r="4.75"/><circle cx="234.8" cy="369.8" r="4.75"/><circle cx="235.5" cy="373.3" r="4.75"/><circle cx="235.5" cy="375.3" r="4.75"/><circle cx="234.9" cy="378.1" r="4.75"/><circle cx="235.3" cy="382.2" r="4.75"/><circle cx="234.5" cy="383.8" r="4.75"/><circle cx="234.9" cy="386.5" r="4.75"/><circle cx="234.7" cy="390.3" r="4.75"/><circle cx="235.4" cy="391.4" r="4.75"/><circle cx="234.9" cy="393.1" r="4.75"/><circle cx="235.3" cy="397.7" r="4.75"/><circle cx="234.5" cy="398.3" r="4.75"/><circle cx="235.4" cy="401.0" r="4.75"/><circle cx="235.2" cy="404.1" r="4.75"/><circle cx="234.8" cy="408.3" r="4.75"/><circle cx="235.5" cy="409.3" r="4.75"/><circle cx="234.8" cy="412.8" r="4.75"/><circle cx="234.8" cy="415.6" r="4.75"/><circle cx="234.5" cy="417.1" r="4.75"/><circle cx="235.4" cy="420.9" r="4.75"/><circle cx="235.4" cy="423.2" r="4.75"/><circle cx="234.7" cy="424.2" r="4.75"/><circle cx="235.5" cy="427.9" r="4.75"/><circle cx="234.9" cy="431.8" r="4.75"/><circle cx="234.9" cy="432.5" r="4.75"/><circle cx="235.4" cy="435.7" r="4.75"/><circle cx="235.3" cy="437.5" r="4.75"/><circle cx="235.3" cy="441.6" r="4.75"/><circle cx="235.1" cy="444.2" r="4.75"/><circle cx="234.8" cy="445.7" r="4.75"/><circle cx="235.3" cy="448.3" r="4.75"/><circle cx="234.7" cy="450.2" r="4.75"/><circle cx="234.7" cy="454.5" r="4.75"/><circle cx="234.5" cy="455.3" r="4.75"/><circle cx="234.8" cy="459.2" r="4.75"/><circle cx="235.4" cy="462.9" r="4.75"/><circle cx="234.8" cy="465.5" r="4.75"/><circle cx="234.6" cy="465.7" r="4.75"/><circle cx="235.2" cy="469.4" r="4.75"/><circle cx="234.7" cy="471.9" r="4.75"/><circle cx="235.1" cy="474.4" r="4.75"/><circle cx="235.2" cy="477.6" r="4.75"/><circle cx="235.2" cy="480.7" r="4.75"/><circle cx="235.3" cy="481.4" r="4.75"/><circle cx="235.1" cy="484.4" r="4.75"/><circle cx="235.2" cy="487.2" r="4.75"/><circle cx="234.7" cy="489.3" r="4.75"/><circle cx="234.7" cy="492.0" r="4.75"/><circle cx="235.1" cy="496.3" r="4.75"/><circle cx="234.9" cy="497.4" r="4.75"/><circle cx="235.0" cy="501.7" r="4.75"/><circle cx="235.3" cy="502.4" r="4.75"/><circle cx="235.5" cy="506.0" r="4.75"/><circle cx="235.0" cy="507.2" r="4.75"/><circle cx="235.3" cy="511.6" r="4.75"/><circle cx="234.5" cy="514.5" r="4.75"/><circle cx="234.6" cy="515.5" r="4.75"/><circle cx="235.5" cy="517.8" r="4.75"/><circle cx="235.4" cy="521.4" r="4.75"/><circle cx="235.4" cy="523.4" r="4.75"/><circle cx="234.8" cy="526.2" r="4.75"/><circle cx="235.4" cy="529.7" r="4.75"/><circle cx="235.1" cy="530.5" r="4.75"/><circle cx="234.7" cy="534.4" r="4.75"/><circle cx="234.6" cy="536.4" r="4.75"/><circle cx="234.8" cy="538.5" r="4.75"/><circle cx="235.2" cy="542.1" r="4.75"/><circle cx="234.5" cy="543.7" r="4.75"/><circle cx="235.2" cy="546.6" r="4.75"/><circle cx="234.8" cy="548.8" r="4.75"/><circle cx="235.3" cy="551.5" r="4.75"/><circle cx="234.6" cy="554.9" r="4.75"/><circle cx="234.9" cy="556.4" r="4.75"/><circle cx="235.1" cy="560.1" r="4.75"/><circle cx="234.7" cy="561.5" r="4.75"/><circle cx="234.9" cy="565.7" r="4.75"/><circle cx="234.8" cy="567.2" r="4.75"/><circle cx="234.8" cy="571.5" r="4.75"/><circle cx="234.9" cy="573.1" r="4.75"/><circle cx="235.4" cy="575.3" r="4.75"/><circle cx="234.9" cy="579.4" r="4.75"/><circle cx="235.2" cy="579.9" r="4.75"/><circle cx="241.6" cy="331.0" r="4.75"/><circle cx="241.6" cy="343.0" r="4.75"/><circle cx="242.5" cy="352.0" r="4.75"/><circle cx="242.0" cy="357.9" r="4.75"/><circle cx="242.4" cy="358.0" r="4.75"/><circle cx="242.4" cy="359.3" r="4.75"/><circle cx="242.3" cy="360.5" r="4.75"/><circle cx="242.3" cy="361.0" r="4.75"/><circle cx="241.9" cy="362.0" r="4.75"/><circle cx="242.3" cy="363.5" r="4.75"/><circle cx="241.7" cy="363.8" r="4.75"/><circle cx="242.0" cy="365.0" r="4.75"/><circle cx="241.6" cy="365.9" r="4.75"/><circle cx="242.2" cy="366.8" r="4.75"/><circle cx="241.5" cy="368.3" r="4.75"/><circle cx="242.3" cy="369.0" r="4.75"/><circle cx="242.3" cy="369.4" r="4.75"/><circle cx="242.1" cy="370.5" r="4.75"/><circle cx="242.1" cy="371.8" r="4.75"/><circle cx="241.9" cy="372.5" r="4.75"/><circle cx="241.9" cy="373.8" r="4.75"/><circle cx="241.9" cy="374.8" r="4.75"/><circle cx="241.5" cy="375.5" r="4.75"/><circle cx="242.0" cy="376.7" r="4.75"/><circle cx="242.3" cy="377.2" r="4.75"/><circle cx="242.0" cy="378.7" r="4.75"/><circle cx="242.0" cy="379.1" r="4.75"/><circle cx="241.6" cy="380.0" r="4.75"/><circle cx="241.6" cy="381.2" r="4.75"/><circle cx="242.0" cy="382.2" r="4.75"/><circle cx="242.1" cy="382.8" r="4.75"/><circle cx="242.2" cy="383.8" r="4.75"/><circle cx="242.0" cy="385.4" r="4.75"/><circle cx="242.0" cy="385.7" r="4.75"/><circle cx="242.5" cy="386.9" r="4.75"/><circle cx="242.4" cy="387.6" r="4.75"/><circle cx="242.2" cy="389.4" r="4.75"/><circle cx="241.7" cy="390.2" r="4.75"/><circle cx="242.0" cy="391.3" r="4.75"/><circle cx="242.4" cy="392.2" r="4.75"/><circle cx="242.3" cy="392.4" r="4.75"/><circle cx="241.6" cy="394.1" r="4.75"/><circle cx="242.3" cy="394.5" r="4.75"/><circle cx="242.4" cy="395.3" r="4.75"/><circle cx="242.3" cy="396.3" r="4.75"/><circle cx="242.0" cy="397.2" r="4.75"/><circle cx="241.7" cy="398.9" r="4.75"/><circle cx="242.0" cy="399.2" r="4.75"/><circle cx="241.5" cy="400.2" r="4.75"/><circle cx="241.7" cy="401.0" r="4.75"/><circle cx="242.2" cy="402.7" r="4.75"/><circle cx="241.7" cy="403.6" r="4.75"/><circle cx="241.6" cy="404.5" r="4.75"/><circle cx="242.1" cy="405.2" r="4.75"/><circle cx="242.4" cy="406.0" r="4.75"/><circle cx="242.1" cy="407.1" r="4.75"/><circle cx="241.6" cy="408.4" r="4.75"/><circle cx="242.1" cy="409.4" r="4.75"/><circle cx="242.3" cy="409.8" r="4.75"/><circle cx="242.5" cy="410.6" r="4.75"/><circle cx="241.9" cy="411.9" r="4.75"/><circle cx="241.9" cy="413.0" r="4.75"/><circle cx="242.2" cy="413.4" r="4.75"/><circle cx="242.3" cy="414.2" r="4.75"/><circle cx="242.1" cy="415.4" r="4.75"/><circle cx="242.1" cy="417.0" r="4.75"/><circle cx="241.8" cy="417.7" r="4.75"/><circle cx="241.5" cy="418.0" r="4.75"/><circle cx="242.1" cy="419.1" r="4.75"/><circle cx="242.0" cy="420.3" r="4.75"/><circle cx="241.6" cy="421.7" r="4.75"/><circle cx="242.2" cy="422.0" r="4.75"/><circle cx="241.5" cy="422.8" r="4.75"/><circle cx="241.6" cy="424.1" r="4.75"/><circle cx="241.7" cy="425.0" r="4.75"/><circle cx="242.1" cy="426.2" r="4.75"/><circle cx="242.1" cy="426.8" r="4.75"/><circle cx="241.6" cy="428.0" r="4.75"/><circle cx="241.7" cy="429.4" r="4.75"/><circle cx="241.6" cy="429.6" r="4.75"/><circle cx="242.4" cy="431.0" r="4.75"/><circle cx="241.9" cy="432.1" r="4.75"/><circle cx="241.5" cy="432.6" r="4.75"/><circle cx="242.1" cy="433.9" r="4.75"/><circle cx="242.1" cy="434.6" r="4.75"/><circle cx="242.4" cy="435.6" r="4.75"/><circle cx="241.7" cy="436.8" r="4.75"/><circle cx="241.5" cy="437.9" r="4.75"/><circle cx="241.9" cy="438.5" r="4.75"/><circle cx="241.6" cy="439.2" r="4.75"/><circle cx="241.5" cy="440.7" r="4.75"/><circle cx="242.4" cy="441.4" r="4.75"/><circle cx="241.7" cy="442.0" r="4.75"/><circle cx="242.0" cy="443.4" r="4.75"/><circle cx="242.3" cy="444.4" r="4.75"/><circle cx="241.8" cy="444.9" r="4.75"/><circle cx="241.5" cy="445.9" r="4.75"/><circle cx="242.3" cy="447.5" r="4.75"/><circle cx="241.5" cy="448.2" r="4.75"/><circle cx="242.2" cy="449.3" r="4.75"/><circle cx="242.2" cy="449.9" r="4.75"/><circle cx="241.7" cy="450.9" r="4.75"/><circle cx="241.7" cy="451.5" r="4.75"/><circle cx="241.8" cy="452.4" r="4.75"/><circle cx="242.2" cy="454.0" r="4.75"/><circle cx="242.2" cy="455.0" r="4.75"/><circle cx="242.1" cy="455.4" r="4.75"/><circle cx="242.3" cy="456.6" r="4.75"/><circle cx="241.8" cy="457.6" r="4.75"/><circle cx="242.5" cy="458.7" r="4.75"/><circle cx="242.4" cy="459.2" r="4.75"/><circle cx="241.8" cy="460.0" r="4.75"/><circle cx="242.2" cy="461.1" r="4.75"/><circle cx="242.2" cy="462.8" r="4.75"/><circle cx="242.4" cy="463.1" r="4.75"/><circle cx="241.7" cy="464.1" r="4.75"/><circle cx="242.1" cy="465.6" r="4.75"/><circle cx="242.2" cy="466.3" r="4.75"/><circle cx="242.0" cy="467.6" r="4.75"/><circle cx="242.2" cy="468.4" r="4.75"/><circle cx="241.9" cy="469.4" r="4.75"/><circle cx="242.1" cy="470.2" r="4.75"/><circle cx="241.7" cy="470.7" r="4.75"/><circle cx="241.6" cy="472.0" r="4.75"/><circle cx="241.6" cy="473.2" r="4.75"/><circle cx="241.6" cy="473.3" r="4.75"/><circle cx="241.8" cy="475.1" r="4.75"/><circle cx="241.5" cy="475.3" r="4.75"/><circle cx="242.2" cy="476.2" r="4.75"/><circle cx="242.2" cy="477.7" r="4.75"/><circle cx="241.6" cy="478.8" r="4.75"/><circle cx="241.9" cy="479.6" r="4.75"/><circle cx="242.3" cy="480.8" r="4.75"/><circle cx="241.6" cy="481.8" r="4.75"/><circle cx="242.4" cy="482.7" r="4.75"/><circle cx="241.6" cy="483.7" r="4.75"/><circle cx="241.6" cy="484.0" r="4.75"/><circle cx="242.3" cy="484.8" r="4.75"/><circle cx="242.1" cy="486.5" r="4.75"/><circle cx="242.1" cy="487.4" r="4.75"/><circle cx="241.6" cy="487.9" r="4.75"/><circle cx="242.3" cy="488.7" r="4.75"/><circle cx="241.8" cy="489.7" r="4.75"/><circle cx="241.5" cy="490.9" r="4.75"/><circle cx="241.8" cy="491.7" r="4.75"/><circle cx="241.9" cy="493.1" r="4.75"/><circle cx="242.5" cy="493.6" r="4.75"/><circle cx="242.4" cy="494.8" r="4.75"/><circle cx="241.5" cy="495.8" r="4.75"/><circle cx="241.9" cy="496.6" r="4.75"/><circle cx="241.8" cy="497.9" r="4.75"/><circle cx="242.0" cy="498.8" r="4.75"/><circle cx="242.4" cy="499.3" r="4.75"/><circle cx="242.3" cy="500.3" r="4.75"/><circle cx="241.5" cy="503.5" r="4.75"/><circle cx="242.3" cy="506.6" r="4.75"/><circle cx="241.5" cy="511.9" r="4.75"/><circle cx="242.0" cy="513.5" r="4.75"/><circle cx="241.7" cy="517.4" r="4.75"/><circle cx="241.8" cy="519.5" r="4.75"/><circle cx="241.8" cy="523.5" r="4.75"/><circle cx="241.8" cy="526.8" r="4.75"/><circle cx="242.2" cy="527.6" r="4.75"/><circle cx="241.6" cy="531.5" r="4.75"/><circle cx="241.6" cy="534.9" r="4.75"/><circle cx="242.2" cy="538.4" r="4.75"/><circle cx="242.1" cy="541.4" r="4.75"/><circle cx="241.9" cy="543.1" r="4.75"/><circle cx="242.4" cy="546.2" r="4.75"/><circle cx="242.4" cy="548.3" r="4.75"/><circle cx="241.7" cy="551.1" r="4.75"/><circle cx="242.4" cy="554.8" r="4.75"/><circle cx="241.9" cy="558.5" r="4.75"/><circle cx="241.7" cy="562.7" r="4.75"/><circle cx="242.0" cy="564.4" r="4.75"/><circle cx="242.3" cy="568.3" r="4.75"/><circle cx="241.8" cy="570.9" r="4.75"/><circle cx="241.7" cy="573.0" r="4.75"/><circle cx="242.2" cy="577.5" r="4.75"/><circle cx="241.7" cy="580.2" r="4.75"/><circle cx="242.3" cy="582.3" r="4.75"/><circle cx="241.6" cy="585.7" r="4.75"/><circle cx="242.4" cy="588.4" r="4.75"/><circle cx="241.7" cy="590.7" r="4.75"/><circle cx="242.2" cy="593.9" r="4.75"/><circle cx="241.7" cy="598.5" r="4.75"/><circle cx="241.7" cy="599.5" r="4.75"/><circle cx="242.0" cy="603.0" r="4.75"/><circle cx="241.6" cy="652.0" r="4.75"/><circle cx="255.4" cy="344.0" r="4.75"/><circle cx="255.9" cy="352.0" r="4.75"/><circle cx="256.2" cy="356.5" r="4.75"/><circle cx="256.1" cy="357.9" r="4.75"/><circle cx="255.6" cy="359.8" r="4.75"/><circle cx="255.9" cy="362.0" r="4.75"/><circle cx="256.4" cy="364.2" r="4.75"/><circle cx="256.1" cy="365.5" r="4.75"/><circle cx="255.9" cy="368.0" r="4.75"/><circle cx="256.2" cy="369.0" r="4.75"/><circle cx="256.3" cy="372.2" r="4.75"/><circle cx="256.4" cy="373.8" r="4.75"/><circle cx="256.1" cy="375.6" r="4.75"/><circle cx="255.8" cy="377.1" r="4.75"/><circle cx="255.6" cy="379.4" r="4.75"/><circle cx="256.3" cy="380.9" r="4.75"/><circle cx="256.1" cy="383.4" r="4.75"/><circle cx="255.9" cy="384.5" r="4.75"/><circle cx="256.1" cy="386.8" r="4.75"/><circle cx="256.2" cy="388.7" r="4.75"/><circle cx="255.7" cy="391.6" r="4.75"/><circle cx="256.3" cy="393.0" r="4.75"/><circle cx="256.0" cy="394.4" r="4.75"/><circle cx="255.5" cy="397.5" r="4.75"/><circle cx="255.7" cy="398.6" r="4.75"/><circle cx="256.4" cy="401.0" r="4.75"/><circle cx="255.6" cy="402.4" r="4.75"/><circle cx="256.0" cy="404.4" r="4.75"/><circle cx="256.0" cy="406.7" r="4.75"/><circle cx="256.3" cy="408.4" r="4.75"/><circle cx="255.9" cy="410.1" r="4.75"/><circle cx="255.7" cy="412.9" r="4.75"/><circle cx="255.9" cy="414.3" r="4.75"/><circle cx="255.6" cy="416.4" r="4.75"/><circle cx="255.9" cy="418.8" r="4.75"/><circle cx="255.8" cy="418.9" r="4.75"/><circle cx="255.5" cy="421.5" r="4.75"/><circle cx="255.9" cy="423.5" r="4.75"/><circle cx="255.9" cy="425.9" r="4.75"/><circle cx="255.7" cy="427.0" r="4.75"/><circle cx="256.4" cy="429.9" r="4.75"/><circle cx="255.7" cy="431.4" r="4.75"/><circle cx="255.9" cy="433.9" r="4.75"/><circle cx="255.6" cy="434.7" r="4.75"/><circle cx="256.3" cy="437.7" r="4.75"/><circle cx="256.0" cy="439.4" r="4.75"/><circle cx="255.7" cy="441.2" r="4.75"/><circle cx="255.9" cy="443.9" r="4.75"/><circle cx="256.3" cy="445.2" r="4.75"/><circle cx="256.0" cy="447.4" r="4.75"/><circle cx="256.0" cy="448.4" r="4.75"/><circle cx="256.3" cy="450.0" r="4.75"/><circle cx="256.4" cy="452.4" r="4.75"/><circle cx="255.9" cy="454.1" r="4.75"/><circle cx="255.9" cy="456.0" r="4.75"/><circle cx="255.5" cy="457.8" r="4.75"/><circle cx="255.8" cy="460.8" r="4.75"/><circle cx="255.8" cy="461.8" r="4.75"/><circle cx="255.9" cy="464.2" r="4.75"/><circle cx="256.2" cy="466.4" r="4.75"/><circle cx="256.4" cy="467.8" r="4.75"/><circle cx="255.6" cy="470.7" r="4.75"/><circle cx="256.4" cy="472.6" r="4.75"/><circle cx="255.6" cy="474.4" r="4.75"/><circle cx="256.1" cy="476.5" r="4.75"/><circle cx="255.5" cy="476.8" r="4.75"/><circle cx="256.2" cy="480.6" r="4.75"/><circle cx="255.6" cy="481.2" r="4.75"/><circle cx="255.7" cy="482.9" r="4.75"/><circle cx="255.8" cy="486.0" r="4.75"/><circle cx="256.4" cy="486.8" r="4.75"/><circle cx="255.7" cy="489.9" r="4.75"/><circle cx="256.1" cy="492.1" r="4.75"/><circle cx="256.2" cy="493.8" r="4.75"/><circle cx="256.3" cy="495.9" r="4.75"/><circle cx="255.7" cy="497.8" r="4.75"/><circle cx="256.0" cy="499.4" r="4.75"/><circle cx="255.9" cy="502.8" r="4.75"/><circle cx="256.1" cy="507.0" r="4.75"/><circle cx="255.7" cy="508.5" r="4.75"/><circle cx="256.0" cy="511.7" r="4.75"/><circle cx="256.0" cy="515.2" r="4.75"/><circle cx="256.0" cy="519.2" r="4.75"/><circle cx="256.0" cy="524.3" r="4.75"/><circle cx="255.5" cy="529.4" r="4.75"/><circle cx="256.0" cy="533.0" r="4.75"/><circle cx="256.2" cy="535.7" r="4.75"/><circle cx="255.9" cy="540.5" r="4.75"/><circle cx="256.5" cy="542.6" r="4.75"/><circle cx="256.1" cy="545.1" r="4.75"/><circle cx="255.5" cy="550.9" r="4.75"/><circle cx="256.2" cy="554.5" r="4.75"/><circle cx="255.8" cy="559.5" r="4.75"/><circle cx="256.0" cy="563.4" r="4.75"/><circle cx="256.4" cy="565.3" r="4.75"/><circle cx="256.2" cy="567.3" r="4.75"/><circle cx="255.8" cy="573.3" r="4.75"/><circle cx="255.9" cy="577.9" r="4.75"/><circle cx="256.0" cy="580.2" r="4.75"/><circle cx="255.7" cy="585.0" r="4.75"/><circle cx="255.9" cy="587.5" r="4.75"/><circle cx="256.3" cy="591.7" r="4.75"/><circle cx="256.3" cy="594.4" r="4.75"/><circle cx="256.0" cy="598.6" r="4.75"/><circle cx="256.0" cy="601.8" r="4.75"/><circle cx="256.2" cy="608.2" r="4.75"/><circle cx="255.8" cy="611.2" r="4.75"/><circle cx="255.8" cy="633.0" r="4.75"/><circle cx="262.1" cy="336.0" r="4.75"/><circle cx="262.2" cy="340.0" r="4.75"/><circle cx="262.3" cy="344.0" r="4.75"/><circle cx="262.1" cy="356.9" r="4.75"/><circle cx="262.1" cy="358.3" r="4.75"/><circle cx="262.1" cy="360.5" r="4.75"/><circle cx="261.7" cy="362.5" r="4.75"/><circle cx="262.0" cy="364.5" r="4.75"/><circle cx="261.6" cy="366.8" r="4.75"/><circle cx="261.5" cy="367.6" r="4.75"/><circle cx="262.4" cy="370.9" r="4.75"/><circle cx="261.9" cy="372.7" r="4.75"/><circle cx="262.3" cy="375.1" r="4.75"/><circle cx="261.8" cy="376.6" r="4.75"/><circle cx="261.9" cy="378.1" r="4.75"/><circle cx="261.9" cy="380.2" r="4.75"/><circle cx="262.4" cy="382.9" r="4.75"/><circle cx="262.1" cy="383.7" r="4.75"/><circle cx="261.6" cy="385.8" r="4.75"/><circle cx="262.1" cy="389.4" r="4.75"/><circle cx="261.9" cy="391.7" r="4.75"/><circle cx="261.9" cy="391.8" r="4.75"/><circle cx="262.4" cy="395.1" r="4.75"/><circle cx="262.0" cy="397.9" r="4.75"/><circle cx="261.6" cy="398.8" r="4.75"/><circle cx="261.7" cy="400.9" r="4.75"/><circle cx="261.5" cy="401.6" r="4.75"/><circle cx="262.2" cy="402.9" r="4.75"/><circle cx="262.5" cy="404.5" r="4.75"/><circle cx="262.4" cy="405.8" r="4.75"/><circle cx="261.5" cy="407.3" r="4.75"/><circle cx="261.7" cy="409.6" r="4.75"/><circle cx="261.7" cy="411.0" r="4.75"/><circle cx="262.3" cy="411.5" r="4.75"/><circle cx="262.4" cy="413.9" r="4.75"/><circle cx="261.6" cy="415.3" r="4.75"/><circle cx="262.2" cy="416.6" r="4.75"/><circle cx="262.4" cy="417.8" r="4.75"/><circle cx="262.5" cy="418.9" r="4.75"/><circle cx="261.5" cy="421.0" r="4.75"/><circle cx="262.2" cy="421.4" r="4.75"/><circle cx="261.6" cy="424.0" r="4.75"/><circle cx="262.2" cy="424.7" r="4.75"/><circle cx="262.4" cy="426.0" r="4.75"/><circle cx="261.6" cy="427.8" r="4.75"/><circle cx="262.1" cy="429.1" r="4.75"/><circle cx="262.2" cy="430.6" r="4.75"/><circle cx="262.3" cy="431.6" r="4.75"/><circle cx="262.1" cy="433.4" r="4.75"/><circle cx="261.9" cy="435.2" r="4.75"/><circle cx="262.3" cy="436.3" r="4.75"/><circle cx="262.3" cy="438.5" r="4.75"/><circle cx="261.8" cy="439.4" r="4.75"/><circle cx="262.5" cy="440.1" r="4.75"/><circle cx="262.3" cy="442.4" r="4.75"/><circle cx="262.1" cy="443.3" r="4.75"/><circle cx="262.3" cy="445.7" r="4.75"/><circle cx="261.8" cy="446.6" r="4.75"/><circle cx="262.4" cy="447.8" r="4.75"/><circle cx="262.2" cy="449.1" r="4.75"/><circle cx="262.4" cy="450.9" r="4.75"/><circle cx="261.8" cy="452.6" r="4.75"/><circle cx="261.8" cy="452.9" r="4.75"/><circle cx="262.1" cy="454.9" r="4.75"/><circle cx="262.4" cy="456.9" r="4.75"/><circle cx="262.3" cy="457.2" r="4.75"/><circle cx="262.4" cy="459.7" r="4.75"/><circle cx="261.8" cy="460.8" r="4.75"/><circle cx="262.3" cy="462.6" r="4.75"/><circle cx="262.4" cy="463.8" r="4.75"/><circle cx="261.6" cy="464.8" r="4.75"/><circle cx="262.3" cy="466.5" r="4.75"/><circle cx="262.3" cy="467.4" r="4.75"/><circle cx="261.7" cy="469.9" r="4.75"/><circle cx="262.2" cy="470.9" r="4.75"/><circle cx="261.7" cy="472.1" r="4.75"/><circle cx="262.3" cy="473.2" r="4.75"/><circle cx="262.0" cy="475.4" r="4.75"/><circle cx="262.3" cy="475.8" r="4.75"/><circle cx="261.7" cy="478.2" r="4.75"/><circle cx="262.4" cy="479.4" r="4.75"/><circle cx="262.0" cy="481.3" r="4.75"/><circle cx="262.1" cy="482.1" r="4.75"/><circle cx="261.7" cy="483.1" r="4.75"/><circle cx="262.2" cy="484.5" r="4.75"/><circle cx="262.1" cy="486.2" r="4.75"/><circle cx="262.0" cy="487.7" r="4.75"/><circle cx="261.5" cy="488.8" r="4.75"/><circle cx="261.9" cy="491.4" r="4.75"/><circle cx="262.1" cy="491.6" r="4.75"/><circle cx="261.7" cy="494.0" r="4.75"/><circle cx="261.8" cy="495.1" r="4.75"/><circle cx="261.5" cy="496.5" r="4.75"/><circle cx="262.5" cy="497.2" r="4.75"/><circle cx="262.0" cy="499.8" r="4.75"/><circle cx="261.8" cy="501.7" r="4.75"/><circle cx="261.9" cy="505.4" r="4.75"/><circle cx="262.3" cy="509.0" r="4.75"/><circle cx="262.5" cy="511.6" r="4.75"/><circle cx="261.5" cy="513.0" r="4.75"/><circle cx="261.7" cy="515.9" r="4.75"/><circle cx="261.6" cy="518.6" r="4.75"/><circle cx="262.4" cy="523.1" r="4.75"/><circle cx="262.4" cy="525.8" r="4.75"/><circle cx="261.6" cy="530.2" r="4.75"/><circle cx="261.9" cy="532.3" r="4.75"/><circle cx="262.5" cy="533.9" r="4.75"/><circle cx="262.1" cy="537.4" r="4.75"/><circle cx="262.5" cy="541.6" r="4.75"/><circle cx="261.9" cy="544.7" r="4.75"/><circle cx="261.7" cy="547.1" r="4.75"/><circle cx="262.5" cy="551.7" r="4.75"/><circle cx="261.5" cy="552.5" r="4.75"/><circle cx="261.9" cy="555.7" r="4.75"/><circle cx="262.4" cy="560.7" r="4.75"/><circle cx="261.5" cy="563.6" r="4.75"/><circle cx="262.2" cy="566.4" r="4.75"/><circle cx="262.5" cy="569.1" r="4.75"/><circle cx="261.6" cy="570.3" r="4.75"/><circle cx="262.4" cy="575.5" r="4.75"/><circle cx="261.8" cy="578.3" r="4.75"/><circle cx="262.3" cy="581.1" r="4.75"/><circle cx="261.8" cy="582.7" r="4.75"/><circle cx="261.6" cy="586.2" r="4.75"/><circle cx="261.7" cy="589.9" r="4.75"/><circle cx="261.6" cy="592.2" r="4.75"/><circle cx="261.5" cy="596.6" r="4.75"/><circle cx="261.7" cy="599.8" r="4.75"/><circle cx="262.4" cy="600.8" r="4.75"/><circle cx="262.4" cy="604.4" r="4.75"/><circle cx="262.4" cy="609.4" r="4.75"/><circle cx="261.9" cy="610.2" r="4.75"/><circle cx="262.4" cy="613.1" r="4.75"/><circle cx="262.1" cy="618.5" r="4.75"/><circle cx="261.8" cy="620.3" r="4.75"/><circle cx="269.8" cy="361.9" r="4.75"/><circle cx="270.0" cy="364.1" r="4.75"/><circle cx="270.4" cy="372.2" r="4.75"/><circle cx="270.5" cy="377.7" r="4.75"/><circle cx="270.4" cy="384.3" r="4.75"/><circle cx="269.7" cy="395.5" r="4.75"/><circle cx="269.8" cy="401.2" r="4.75"/><circle cx="269.7" cy="406.6" r="4.75"/><circle cx="270.5" cy="414.3" r="4.75"/><circle cx="270.4" cy="425.7" r="4.75"/><circle cx="269.8" cy="426.4" r="4.75"/><circle cx="269.6" cy="438.9" r="4.75"/><circle cx="269.8" cy="444.7" r="4.75"/><circle cx="269.5" cy="453.5" r="4.75"/><circle cx="269.8" cy="459.2" r="4.75"/><circle cx="269.5" cy="461.5" r="4.75"/><circle cx="270.0" cy="473.3" r="4.75"/><circle cx="269.9" cy="475.8" r="4.75"/><circle cx="269.7" cy="487.8" r="4.75"/><circle cx="269.6" cy="492.4" r="4.75"/><circle cx="270.3" cy="496.7" r="4.75"/><circle cx="269.7" cy="507.4" r="4.75"/><circle cx="269.6" cy="509.9" r="4.75"/><circle cx="270.0" cy="520.6" r="4.75"/><circle cx="269.7" cy="525.2" r="4.75"/><circle cx="270.2" cy="534.6" r="4.75"/><circle cx="270.1" cy="542.9" r="4.75"/><circle cx="269.6" cy="545.6" r="4.75"/><circle cx="269.9" cy="556.3" r="4.75"/><circle cx="269.6" cy="563.2" r="4.75"/><circle cx="269.8" cy="570.8" r="4.75"/><circle cx="270.4" cy="578.0" r="4.75"/><circle cx="269.5" cy="582.5" r="4.75"/><circle cx="270.0" cy="592.4" r="4.75"/><circle cx="269.8" cy="599.1" r="4.75"/><circle cx="280.1" cy="358.0" r="4.75"/><circle cx="279.4" cy="365.0" r="4.75"/><circle cx="280.0" cy="369.0" r="4.75"/><circle cx="279.9" cy="383.0" r="4.75"/><circle cx="280.0" cy="395.0" r="4.75"/><circle cx="279.5" cy="419.0" r="4.75"/><circle cx="280.3" cy="436.0" r="4.75"/><circle cx="280.4" cy="469.0" r="4.75"/><circle cx="280.4" cy="485.0" r="4.75"/><circle cx="279.8" cy="518.0" r="4.75"/><circle cx="280.3" cy="565.0" r="4.75"/><circle cx="318.6" cy="385.0" r="4.75"/><circle cx="318.6" cy="403.0" r="4.75"/><circle cx="318.6" cy="405.0" r="4.75"/><circle cx="318.6" cy="407.0" r="4.75"/><circle cx="319.1" cy="418.1" r="4.75"/><circle cx="318.3" cy="421.6" r="4.75"/><circle cx="318.4" cy="424.2" r="4.75"/><circle cx="318.1" cy="429.2" r="4.75"/><circle cx="318.8" cy="430.0" r="4.75"/><circle cx="318.1" cy="433.2" r="4.75"/><circle cx="318.7" cy="437.3" r="4.75"/><circle cx="318.8" cy="440.0" r="4.75"/><circle cx="319.0" cy="441.7" r="4.75"/><circle cx="318.1" cy="446.4" r="4.75"/><circle cx="318.6" cy="447.6" r="4.75"/><circle cx="318.4" cy="451.6" r="4.75"/><circle cx="318.5" cy="453.5" r="4.75"/><circle cx="318.7" cy="456.4" r="4.75"/><circle cx="318.2" cy="461.5" r="4.75"/><circle cx="318.8" cy="463.6" r="4.75"/><circle cx="318.9" cy="465.3" r="4.75"/><circle cx="318.5" cy="470.5" r="4.75"/><circle cx="318.9" cy="471.9" r="4.75"/><circle cx="318.5" cy="475.1" r="4.75"/><circle cx="318.9" cy="479.3" r="4.75"/><circle cx="318.3" cy="480.4" r="4.75"/><circle cx="318.5" cy="483.3" r="4.75"/><circle cx="318.9" cy="488.1" r="4.75"/><circle cx="318.9" cy="490.9" r="4.75"/><circle cx="318.2" cy="493.6" r="4.75"/><circle cx="319.1" cy="495.6" r="4.75"/><circle cx="318.3" cy="499.7" r="4.75"/><circle cx="318.7" cy="501.1" r="4.75"/><circle cx="318.6" cy="503.9" r="4.75"/><circle cx="318.5" cy="506.0" r="4.75"/><circle cx="318.1" cy="510.2" r="4.75"/><circle cx="319.1" cy="512.0" r="4.75"/><circle cx="319.0" cy="516.8" r="4.75"/><circle cx="318.9" cy="519.3" r="4.75"/><circle cx="319.0" cy="523.0" r="4.75"/><circle cx="318.7" cy="523.4" r="4.75"/><circle cx="318.8" cy="527.0" r="4.75"/><circle cx="318.6" cy="529.9" r="4.75"/><circle cx="318.7" cy="534.8" r="4.75"/><circle cx="318.6" cy="520.5" r="4.75"/><circle cx="319.1" cy="522.7" r="4.75"/><circle cx="318.4" cy="524.3" r="4.75"/><circle cx="318.2" cy="526.8" r="4.75"/><circle cx="319.1" cy="528.6" r="4.75"/><circle cx="318.4" cy="530.3" r="4.75"/><circle cx="318.6" cy="532.1" r="4.75"/><circle cx="318.2" cy="533.4" r="4.75"/><circle cx="318.4" cy="535.5" r="4.75"/><circle cx="318.4" cy="540.2" r="4.75"/><circle cx="318.2" cy="543.3" r="4.75"/><circle cx="318.9" cy="548.1" r="4.75"/><circle cx="318.7" cy="552.1" r="4.75"/><circle cx="318.3" cy="555.9" r="4.75"/><circle cx="318.6" cy="559.8" r="4.75"/><circle cx="318.7" cy="562.9" r="4.75"/><circle cx="318.4" cy="566.3" r="4.75"/><circle cx="318.3" cy="569.2" r="4.75"/><circle cx="318.6" cy="605.0" r="4.75"/><circle cx="318.5" cy="620.0" r="4.75"/><circle cx="318.7" cy="652.0" r="4.75"/><circle cx="352.1" cy="414.0" r="4.75"/><circle cx="352.0" cy="415.0" r="4.75"/><circle cx="352.9" cy="501.0" r="4.75"/><circle cx="352.4" cy="528.0" r="4.75"/><circle cx="352.0" cy="531.0" r="4.75"/><circle cx="352.4" cy="543.0" r="4.75"/><circle cx="360.5" cy="334.0" r="4.75"/><circle cx="360.9" cy="345.0" r="4.75"/><circle cx="360.1" cy="352.0" r="4.75"/><circle cx="361.1" cy="355.2" r="4.75"/><circle cx="360.3" cy="356.5" r="4.75"/><circle cx="360.5" cy="357.0" r="4.75"/><circle cx="360.7" cy="358.1" r="4.75"/><circle cx="360.9" cy="359.1" r="4.75"/><circle cx="360.8" cy="359.7" r="4.75"/><circle cx="360.9" cy="360.7" r="4.75"/><circle cx="360.9" cy="361.3" r="4.75"/><circle cx="361.0" cy="362.3" r="4.75"/><circle cx="361.0" cy="362.7" r="4.75"/><circle cx="360.9" cy="363.4" r="4.75"/><circle cx="360.6" cy="364.8" r="4.75"/><circle cx="360.7" cy="365.9" r="4.75"/><circle cx="360.9" cy="366.3" r="4.75"/><circle cx="360.7" cy="367.5" r="4.75"/><circle cx="360.6" cy="368.0" r="4.75"/><circle cx="360.8" cy="368.9" r="4.75"/><circle cx="360.5" cy="369.6" r="4.75"/><circle cx="360.5" cy="370.7" r="4.75"/><circle cx="360.9" cy="371.3" r="4.75"/><circle cx="360.6" cy="372.6" r="4.75"/><circle cx="360.3" cy="373.1" r="4.75"/><circle cx="360.2" cy="373.8" r="4.75"/><circle cx="360.7" cy="374.9" r="4.75"/><circle cx="361.0" cy="375.3" r="4.75"/><circle cx="360.9" cy="376.4" r="4.75"/><circle cx="361.1" cy="377.6" r="4.75"/><circle cx="360.5" cy="377.9" r="4.75"/><circle cx="360.1" cy="379.4" r="4.75"/><circle cx="360.7" cy="379.5" r="4.75"/><circle cx="361.0" cy="380.7" r="4.75"/><circle cx="360.6" cy="381.8" r="4.75"/><circle cx="360.6" cy="382.8" r="4.75"/><circle cx="360.8" cy="383.3" r="4.75"/><circle cx="360.5" cy="384.0" r="4.75"/><circle cx="360.5" cy="385.0" r="4.75"/><circle cx="360.8" cy="386.2" r="4.75"/><circle cx="360.2" cy="386.7" r="4.75"/><circle cx="360.5" cy="387.4" r="4.75"/><circle cx="360.7" cy="388.4" r="4.75"/><circle cx="361.1" cy="389.5" r="4.75"/><circle cx="360.5" cy="390.0" r="4.75"/><circle cx="361.1" cy="391.0" r="4.75"/><circle cx="360.6" cy="391.6" r="4.75"/><circle cx="360.3" cy="392.8" r="4.75"/><circle cx="361.1" cy="393.2" r="4.75"/><circle cx="360.6" cy="394.5" r="4.75"/><circle cx="361.0" cy="394.7" r="4.75"/><circle cx="360.9" cy="396.1" r="4.75"/><circle cx="361.0" cy="397.2" r="4.75"/><circle cx="360.3" cy="397.5" r="4.75"/><circle cx="360.6" cy="398.3" r="4.75"/><circle cx="360.3" cy="399.3" r="4.75"/><circle cx="360.7" cy="399.9" r="4.75"/><circle cx="360.5" cy="401.1" r="4.75"/><circle cx="360.7" cy="402.2" r="4.75"/><circle cx="360.5" cy="402.3" r="4.75"/><circle cx="360.4" cy="403.7" r="4.75"/><circle cx="360.1" cy="404.5" r="4.75"/><circle cx="360.9" cy="405.0" r="4.75"/><circle cx="360.8" cy="406.1" r="4.75"/><circle cx="360.6" cy="406.6" r="4.75"/><circle cx="360.4" cy="407.8" r="4.75"/><circle cx="360.6" cy="408.7" r="4.75"/><circle cx="360.7" cy="409.8" r="4.75"/><circle cx="360.2" cy="410.2" r="4.75"/><circle cx="360.9" cy="410.8" r="4.75"/><circle cx="360.2" cy="411.6" r="4.75"/><circle cx="360.6" cy="412.5" r="4.75"/><circle cx="360.7" cy="413.9" r="4.75"/><circle cx="360.2" cy="414.7" r="4.75"/><circle cx="360.9" cy="414.9" r="4.75"/><circle cx="360.8" cy="416.0" r="4.75"/><circle cx="360.3" cy="416.9" r="4.75"/><circle cx="360.2" cy="417.6" r="4.75"/><circle cx="360.7" cy="419.0" r="4.75"/><circle cx="360.5" cy="419.4" r="4.75"/><circle cx="360.2" cy="420.3" r="4.75"/><circle cx="360.7" cy="421.5" r="4.75"/><circle cx="360.5" cy="422.4" r="4.75"/><circle cx="360.3" cy="423.0" r="4.75"/><circle cx="361.0" cy="423.4" r="4.75"/><circle cx="360.4" cy="424.9" r="4.75"/><circle cx="360.9" cy="425.8" r="4.75"/><circle cx="360.7" cy="426.1" r="4.75"/><circle cx="360.6" cy="427.5" r="4.75"/><circle cx="360.3" cy="428.3" r="4.75"/><circle cx="360.8" cy="428.7" r="4.75"/><circle cx="360.4" cy="429.4" r="4.75"/><circle cx="360.6" cy="430.8" r="4.75"/><circle cx="360.3" cy="431.6" r="4.75"/><circle cx="360.5" cy="431.9" r="4.75"/><circle cx="361.1" cy="432.8" r="4.75"/><circle cx="360.7" cy="433.7" r="4.75"/><circle cx="360.6" cy="434.4" r="4.75"/><circle cx="360.5" cy="435.5" r="4.75"/><circle cx="360.2" cy="436.0" r="4.75"/><circle cx="360.5" cy="437.5" r="4.75"/><circle cx="360.3" cy="437.9" r="4.75"/><circle cx="360.3" cy="438.7" r="4.75"/><circle cx="360.8" cy="439.4" r="4.75"/><circle cx="360.3" cy="440.5" r="4.75"/><circle cx="360.2" cy="441.6" r="4.75"/><circle cx="360.9" cy="442.1" r="4.75"/><circle cx="360.5" cy="442.8" r="4.75"/><circle cx="360.9" cy="444.3" r="4.75"/><circle cx="360.5" cy="444.5" r="4.75"/><circle cx="360.5" cy="445.9" r="4.75"/><circle cx="360.3" cy="446.9" r="4.75"/><circle cx="360.6" cy="447.7" r="4.75"/><circle cx="360.6" cy="448.0" r="4.75"/><circle cx="360.8" cy="448.7" r="4.75"/><circle cx="361.0" cy="449.7" r="4.75"/><circle cx="360.5" cy="450.8" r="4.75"/><circle cx="360.7" cy="451.4" r="4.75"/><circle cx="361.0" cy="452.2" r="4.75"/><circle cx="360.6" cy="452.9" r="4.75"/><circle cx="360.4" cy="454.1" r="4.75"/><circle cx="360.5" cy="455.2" r="4.75"/><circle cx="360.7" cy="455.9" r="4.75"/><circle cx="360.5" cy="456.5" r="4.75"/><circle cx="360.3" cy="457.1" r="4.75"/><circle cx="360.4" cy="458.6" r="4.75"/><circle cx="360.2" cy="459.3" r="4.75"/><circle cx="360.5" cy="460.1" r="4.75"/><circle cx="360.4" cy="460.9" r="4.75"/><circle cx="360.4" cy="461.3" r="4.75"/><circle cx="360.2" cy="462.3" r="4.75"/><circle cx="360.4" cy="463.6" r="4.75"/><circle cx="361.0" cy="464.1" r="4.75"/><circle cx="361.0" cy="465.3" r="4.75"/><circle cx="360.2" cy="466.2" r="4.75"/><circle cx="360.1" cy="466.6" r="4.75"/><circle cx="360.8" cy="467.8" r="4.75"/><circle cx="360.5" cy="468.3" r="4.75"/><circle cx="360.8" cy="469.4" r="4.75"/><circle cx="360.9" cy="469.9" r="4.75"/><circle cx="360.7" cy="470.9" r="4.75"/><circle cx="360.2" cy="471.6" r="4.75"/><circle cx="360.8" cy="473.0" r="4.75"/><circle cx="360.1" cy="473.7" r="4.75"/><circle cx="360.3" cy="474.0" r="4.75"/><circle cx="360.4" cy="474.9" r="4.75"/><circle cx="360.1" cy="475.9" r="4.75"/><circle cx="360.7" cy="476.7" r="4.75"/><circle cx="360.9" cy="477.5" r="4.75"/><circle cx="360.8" cy="478.6" r="4.75"/><circle cx="360.5" cy="479.2" r="4.75"/><circle cx="360.4" cy="480.4" r="4.75"/><circle cx="360.9" cy="480.7" r="4.75"/><circle cx="360.4" cy="482.2" r="4.75"/><circle cx="361.0" cy="482.4" r="4.75"/><circle cx="360.1" cy="483.7" r="4.75"/><circle cx="360.2" cy="484.3" r="4.75"/><circle cx="360.3" cy="485.6" r="4.75"/><circle cx="360.8" cy="486.5" r="4.75"/><circle cx="360.8" cy="486.7" r="4.75"/><circle cx="360.8" cy="487.8" r="4.75"/><circle cx="360.4" cy="489.0" r="4.75"/><circle cx="361.0" cy="489.2" r="4.75"/><circle cx="361.0" cy="490.3" r="4.75"/><circle cx="360.8" cy="491.4" r="4.75"/><circle cx="360.7" cy="492.3" r="4.75"/><circle cx="360.2" cy="492.9" r="4.75"/><circle cx="360.5" cy="493.9" r="4.75"/><circle cx="361.0" cy="494.6" r="4.75"/><circle cx="360.9" cy="495.1" r="4.75"/><circle cx="360.8" cy="495.9" r="4.75"/><circle cx="360.4" cy="497.4" r="4.75"/><circle cx="361.1" cy="498.0" r="4.75"/><circle cx="360.6" cy="498.9" r="4.75"/><circle cx="360.2" cy="499.4" r="4.75"/><circle cx="360.5" cy="500.4" r="4.75"/><circle cx="360.4" cy="501.1" r="4.75"/><circle cx="360.8" cy="501.9" r="4.75"/><circle cx="360.3" cy="503.2" r="4.75"/><circle cx="360.6" cy="503.7" r="4.75"/><circle cx="361.0" cy="504.7" r="4.75"/><circle cx="360.4" cy="505.4" r="4.75"/><circle cx="360.2" cy="506.7" r="4.75"/><circle cx="360.4" cy="507.3" r="4.75"/><circle cx="360.6" cy="508.4" r="4.75"/><circle cx="360.3" cy="509.2" r="4.75"/><circle cx="360.7" cy="509.9" r="4.75"/><circle cx="360.9" cy="510.6" r="4.75"/><circle cx="360.2" cy="511.7" r="4.75"/><circle cx="360.5" cy="512.1" r="4.75"/><circle cx="360.2" cy="512.9" r="4.75"/><circle cx="360.3" cy="513.8" r="4.75"/><circle cx="360.5" cy="515.0" r="4.75"/><circle cx="360.4" cy="515.4" r="4.75"/><circle cx="360.5" cy="516.5" r="4.75"/><circle cx="360.2" cy="517.1" r="4.75"/><circle cx="361.1" cy="517.8" r="4.75"/><circle cx="360.2" cy="519.3" r="4.75"/><circle cx="361.1" cy="520.1" r="4.75"/><circle cx="360.2" cy="520.8" r="4.75"/><circle cx="360.5" cy="521.6" r="4.75"/><circle cx="360.6" cy="522.2" r="4.75"/><circle cx="361.0" cy="522.9" r="4.75"/><circle cx="360.7" cy="524.2" r="4.75"/><circle cx="360.8" cy="525.3" r="4.75"/><circle cx="360.3" cy="525.6" r="4.75"/><circle cx="360.1" cy="526.3" r="4.75"/><circle cx="360.9" cy="527.7" r="4.75"/><circle cx="360.3" cy="528.2" r="4.75"/><circle cx="360.9" cy="529.3" r="4.75"/><circle cx="360.3" cy="530.4" r="4.75"/><circle cx="360.9" cy="531.1" r="4.75"/><circle cx="360.4" cy="531.9" r="4.75"/><circle cx="360.9" cy="532.3" r="4.75"/><circle cx="360.5" cy="533.2" r="4.75"/><circle cx="360.5" cy="534.3" r="4.75"/><circle cx="360.3" cy="535.4" r="4.75"/><circle cx="360.7" cy="535.5" r="4.75"/><circle cx="360.9" cy="536.9" r="4.75"/><circle cx="361.0" cy="537.8" r="4.75"/><circle cx="360.6" cy="538.8" r="4.75"/><circle cx="360.3" cy="539.3" r="4.75"/><circle cx="360.7" cy="540.0" r="4.75"/><circle cx="360.8" cy="540.6" r="4.75"/><circle cx="360.5" cy="541.5" r="4.75"/><circle cx="360.2" cy="543.1" r="4.75"/><circle cx="360.5" cy="543.1" r="4.75"/><circle cx="360.8" cy="544.1" r="4.75"/><circle cx="360.9" cy="544.8" r="4.75"/><circle cx="360.9" cy="546.3" r="4.75"/><circle cx="360.4" cy="546.8" r="4.75"/><circle cx="360.6" cy="547.9" r="4.75"/><circle cx="360.4" cy="548.5" r="4.75"/><circle cx="360.8" cy="550.1" r="4.75"/><circle cx="361.0" cy="553.7" r="4.75"/><circle cx="360.4" cy="554.5" r="4.75"/><circle cx="360.7" cy="557.8" r="4.75"/><circle cx="360.3" cy="560.1" r="4.75"/><circle cx="360.4" cy="562.0" r="4.75"/><circle cx="361.1" cy="565.5" r="4.75"/><circle cx="361.0" cy="569.2" r="4.75"/><circle cx="361.1" cy="571.9" r="4.75"/><circle cx="360.9" cy="573.6" r="4.75"/><circle cx="360.8" cy="574.7" r="4.75"/><circle cx="360.4" cy="578.7" r="4.75"/><circle cx="361.1" cy="581.1" r="4.75"/><circle cx="360.7" cy="583.5" r="4.75"/><circle cx="360.4" cy="585.5" r="4.75"/><circle cx="360.1" cy="589.6" r="4.75"/><circle cx="360.8" cy="590.4" r="4.75"/><circle cx="360.2" cy="593.6" r="4.75"/><circle cx="360.8" cy="608.0" r="4.75"/><circle cx="360.4" cy="621.0" r="4.75"/><circle cx="360.7" cy="628.0" r="4.75"/><circle cx="360.5" cy="635.0" r="4.75"/><circle cx="360.6" cy="633.0" r="4.75"/><circle cx="360.7" cy="639.0" r="4.75"/><circle cx="376.1" cy="459.0" r="4.75"/><circle cx="375.7" cy="486.0" r="4.75"/><circle cx="375.8" cy="526.0" r="4.75"/><circle cx="376.7" cy="527.0" r="4.75"/><circle cx="376.3" cy="540.0" r="4.75"/><circle cx="388.3" cy="356.0" r="4.75"/><circle cx="389.2" cy="378.0" r="4.75"/><circle cx="388.5" cy="392.0" r="4.75"/><circle cx="388.3" cy="405.0" r="4.75"/><circle cx="388.8" cy="412.0" r="4.75"/><circle cx="388.5" cy="415.0" r="4.75"/><circle cx="388.8" cy="459.0" r="4.75"/><circle cx="388.9" cy="525.0" r="4.75"/><circle cx="388.5" cy="539.0" r="4.75"/><circle cx="388.4" cy="412.4" r="4.75"/><circle cx="388.9" cy="416.2" r="4.75"/><circle cx="388.7" cy="418.6" r="4.75"/><circle cx="388.7" cy="422.7" r="4.75"/><circle cx="388.9" cy="430.1" r="4.75"/><circle cx="389.1" cy="433.6" r="4.75"/><circle cx="389.3" cy="435.2" r="4.75"/><circle cx="388.4" cy="441.9" r="4.75"/><circle cx="388.7" cy="484.7" r="4.75"/><circle cx="389.3" cy="485.7" r="4.75"/><circle cx="389.1" cy="490.2" r="4.75"/><circle cx="389.1" cy="492.0" r="4.75"/><circle cx="388.5" cy="495.0" r="4.75"/><circle cx="388.3" cy="499.2" r="4.75"/><circle cx="388.5" cy="503.1" r="4.75"/><circle cx="389.0" cy="505.4" r="4.75"/><circle cx="389.2" cy="509.0" r="4.75"/><circle cx="389.2" cy="512.8" r="4.75"/><circle cx="395.0" cy="416.0" r="4.75"/><circle cx="395.4" cy="419.0" r="4.75"/><circle cx="395.3" cy="491.0" r="4.75"/><circle cx="394.5" cy="509.0" r="4.75"/><circle cx="395.2" cy="512.0" r="4.75"/><circle cx="394.7" cy="516.0" r="4.75"/><circle cx="409.8" cy="378.0" r="4.75"/><circle cx="409.7" cy="402.0" r="4.75"/><circle cx="409.9" cy="416.0" r="4.75"/><circle cx="409.0" cy="420.0" r="4.75"/><circle cx="409.3" cy="424.0" r="4.75"/><circle cx="409.8" cy="429.0" r="4.75"/><circle cx="410.0" cy="439.0" r="4.75"/><circle cx="409.8" cy="443.0" r="4.75"/><circle cx="409.0" cy="446.0" r="4.75"/><circle cx="409.6" cy="493.0" r="4.75"/><circle cx="409.0" cy="522.0" r="4.75"/><circle cx="409.6" cy="526.0" r="4.75"/><circle cx="409.9" cy="523.0" r="4.75"/><circle cx="409.0" cy="525.0" r="4.75"/><circle cx="410.0" cy="529.0" r="4.75"/><circle cx="409.7" cy="551.0" r="4.75"/><circle cx="594.8" cy="408.4" r="4.75"/><circle cx="595.0" cy="408.7" r="4.75"/><circle cx="594.5" cy="409.9" r="4.75"/><circle cx="595.2" cy="410.0" r="4.75"/><circle cx="594.8" cy="410.7" r="4.75"/><circle cx="594.8" cy="411.5" r="4.75"/><circle cx="595.0" cy="412.2" r="4.75"/><circle cx="595.5" cy="413.1" r="4.75"/><circle cx="595.1" cy="413.1" r="4.75"/><circle cx="595.4" cy="414.3" r="4.75"/><circle cx="595.1" cy="414.9" r="4.75"/><circle cx="594.9" cy="415.4" r="4.75"/><circle cx="595.3" cy="415.9" r="4.75"/><circle cx="595.4" cy="416.9" r="4.75"/><circle cx="594.8" cy="417.4" r="4.75"/><circle cx="595.2" cy="418.1" r="4.75"/><circle cx="595.1" cy="418.6" r="4.75"/><circle cx="595.1" cy="419.1" r="4.75"/><circle cx="594.6" cy="419.8" r="4.75"/><circle cx="594.8" cy="420.4" r="4.75"/><circle cx="595.0" cy="421.4" r="4.75"/><circle cx="594.7" cy="421.7" r="4.75"/><circle cx="594.8" cy="422.2" r="4.75"/><circle cx="594.5" cy="422.8" r="4.75"/><circle cx="595.0" cy="423.9" r="4.75"/><circle cx="595.1" cy="424.3" r="4.75"/><circle cx="594.7" cy="424.8" r="4.75"/><circle cx="594.8" cy="425.3" r="4.75"/><circle cx="595.2" cy="426.1" r="4.75"/><circle cx="595.4" cy="426.9" r="4.75"/><circle cx="595.4" cy="427.4" r="4.75"/><circle cx="594.6" cy="428.2" r="4.75"/><circle cx="595.1" cy="428.6" r="4.75"/><circle cx="594.9" cy="429.8" r="4.75"/><circle cx="594.9" cy="430.3" r="4.75"/><circle cx="594.6" cy="431.0" r="4.75"/><circle cx="595.4" cy="431.4" r="4.75"/><circle cx="594.8" cy="431.9" r="4.75"/><circle cx="594.7" cy="432.3" r="4.75"/><circle cx="595.2" cy="433.1" r="4.75"/><circle cx="594.9" cy="433.7" r="4.75"/><circle cx="595.1" cy="434.4" r="4.75"/><circle cx="595.1" cy="435.4" r="4.75"/><circle cx="595.2" cy="435.6" r="4.75"/><circle cx="595.1" cy="436.8" r="4.75"/><circle cx="595.3" cy="436.9" r="4.75"/><circle cx="594.8" cy="438.0" r="4.75"/><circle cx="594.7" cy="438.2" r="4.75"/><circle cx="595.4" cy="439.1" r="4.75"/><circle cx="595.4" cy="439.8" r="4.75"/><circle cx="594.8" cy="440.1" r="4.75"/><circle cx="595.1" cy="441.1" r="4.75"/><circle cx="595.2" cy="441.5" r="4.75"/><circle cx="594.6" cy="442.1" r="4.75"/><circle cx="594.5" cy="442.8" r="4.75"/><circle cx="594.8" cy="443.6" r="4.75"/><circle cx="595.1" cy="444.2" r="4.75"/><circle cx="595.0" cy="444.6" r="4.75"/><circle cx="595.4" cy="445.1" r="4.75"/><circle cx="595.5" cy="446.1" r="4.75"/><circle cx="595.1" cy="446.4" r="4.75"/><circle cx="594.8" cy="447.5" r="4.75"/><circle cx="594.7" cy="447.7" r="4.75"/><circle cx="595.3" cy="448.4" r="4.75"/><circle cx="595.3" cy="449.0" r="4.75"/><circle cx="595.0" cy="449.9" r="4.75"/><circle cx="595.1" cy="450.6" r="4.75"/><circle cx="595.1" cy="451.3" r="4.75"/><circle cx="595.2" cy="451.7" r="4.75"/><circle cx="595.2" cy="452.3" r="4.75"/><circle cx="595.3" cy="453.3" r="4.75"/><circle cx="595.3" cy="453.6" r="4.75"/><circle cx="595.0" cy="454.7" r="4.75"/><circle cx="595.0" cy="454.9" r="4.75"/><circle cx="594.6" cy="456.0" r="4.75"/><circle cx="595.0" cy="456.0" r="4.75"/><circle cx="595.3" cy="457.1" r="4.75"/><circle cx="595.5" cy="457.5" r="4.75"/><circle cx="595.3" cy="458.1" r="4.75"/><circle cx="594.5" cy="458.6" r="4.75"/><circle cx="594.6" cy="459.3" r="4.75"/><circle cx="595.1" cy="460.2" r="4.75"/><circle cx="595.4" cy="460.6" r="4.75"/><circle cx="594.6" cy="461.4" r="4.75"/><circle cx="595.2" cy="461.9" r="4.75"/><circle cx="594.7" cy="463.0" r="4.75"/><circle cx="595.3" cy="463.1" r="4.75"/><circle cx="595.5" cy="463.8" r="4.75"/><circle cx="595.1" cy="464.6" r="4.75"/><circle cx="595.3" cy="465.2" r="4.75"/><circle cx="594.8" cy="465.9" r="4.75"/><circle cx="594.6" cy="466.8" r="4.75"/><circle cx="594.6" cy="467.3" r="4.75"/><circle cx="594.9" cy="467.9" r="4.75"/><circle cx="594.6" cy="468.7" r="4.75"/><circle cx="594.9" cy="469.2" r="4.75"/><circle cx="595.4" cy="470.0" r="4.75"/><circle cx="594.7" cy="470.5" r="4.75"/><circle cx="594.8" cy="470.9" r="4.75"/><circle cx="594.7" cy="471.6" r="4.75"/><circle cx="595.3" cy="472.1" r="4.75"/><circle cx="594.8" cy="473.1" r="4.75"/><circle cx="594.7" cy="473.9" r="4.75"/><circle cx="594.7" cy="474.3" r="4.75"/><circle cx="595.4" cy="475.1" r="4.75"/><circle cx="595.3" cy="475.4" r="4.75"/><circle cx="594.8" cy="476.4" r="4.75"/><circle cx="595.0" cy="476.7" r="4.75"/><circle cx="594.7" cy="477.7" r="4.75"/><circle cx="595.1" cy="478.2" r="4.75"/><circle cx="595.1" cy="478.7" r="4.75"/><circle cx="594.7" cy="479.6" r="4.75"/><circle cx="594.9" cy="480.2" r="4.75"/><circle cx="595.4" cy="480.8" r="4.75"/><circle cx="595.4" cy="481.1" r="4.75"/><circle cx="594.8" cy="482.2" r="4.75"/><circle cx="594.6" cy="482.3" r="4.75"/><circle cx="594.5" cy="483.5" r="4.75"/><circle cx="594.7" cy="484.1" r="4.75"/><circle cx="594.6" cy="484.6" r="4.75"/><circle cx="595.2" cy="484.9" r="4.75"/><circle cx="594.8" cy="485.5" r="4.75"/><circle cx="595.2" cy="486.7" r="4.75"/><circle cx="595.5" cy="487.3" r="4.75"/><circle cx="594.7" cy="487.4" r="4.75"/><circle cx="595.2" cy="488.5" r="4.75"/><circle cx="595.0" cy="488.7" r="4.75"/><circle cx="594.9" cy="489.4" r="4.75"/><circle cx="594.5" cy="490.0" r="4.75"/><circle cx="594.8" cy="491.2" r="4.75"/><circle cx="594.6" cy="491.8" r="4.75"/><circle cx="594.6" cy="492.2" r="4.75"/><circle cx="594.7" cy="492.8" r="4.75"/><circle cx="594.6" cy="493.6" r="4.75"/><circle cx="595.0" cy="494.2" r="4.75"/><circle cx="594.9" cy="494.5" r="4.75"/><circle cx="595.4" cy="495.4" r="4.75"/><circle cx="594.7" cy="495.9" r="4.75"/><circle cx="595.4" cy="496.9" r="4.75"/><circle cx="594.8" cy="497.4" r="4.75"/><circle cx="594.8" cy="497.7" r="4.75"/><circle cx="594.5" cy="498.3" r="4.75"/><circle cx="594.9" cy="499.2" r="4.75"/><circle cx="594.9" cy="499.9" r="4.75"/><circle cx="595.2" cy="500.2" r="4.75"/><circle cx="595.0" cy="501.2" r="4.75"/><circle cx="595.2" cy="501.8" r="4.75"/><circle cx="595.4" cy="502.7" r="4.75"/><circle cx="594.9" cy="503.2" r="4.75"/><circle cx="594.9" cy="503.6" r="4.75"/><circle cx="594.9" cy="504.6" r="4.75"/><circle cx="594.9" cy="504.9" r="4.75"/><circle cx="595.5" cy="505.4" r="4.75"/><circle cx="595.1" cy="505.9" r="4.75"/><circle cx="594.8" cy="507.2" r="4.75"/><circle cx="594.9" cy="507.6" r="4.75"/><circle cx="594.7" cy="508.0" r="4.75"/><circle cx="595.3" cy="508.6" r="4.75"/><circle cx="595.4" cy="509.6" r="4.75"/><circle cx="595.2" cy="509.8" r="4.75"/><circle cx="595.1" cy="510.6" r="4.75"/><circle cx="594.8" cy="511.4" r="4.75"/><circle cx="594.5" cy="512.3" r="4.75"/><circle cx="595.4" cy="512.8" r="4.75"/><circle cx="595.1" cy="513.3" r="4.75"/><circle cx="594.7" cy="514.2" r="4.75"/><circle cx="595.2" cy="514.6" r="4.75"/><circle cx="595.2" cy="515.1" r="4.75"/><circle cx="595.0" cy="515.8" r="4.75"/><circle cx="595.2" cy="516.6" r="4.75"/><circle cx="595.1" cy="517.0" r="4.75"/><circle cx="594.7" cy="517.8" r="4.75"/><circle cx="594.8" cy="518.5" r="4.75"/><circle cx="595.0" cy="519.3" r="4.75"/><circle cx="595.0" cy="519.8" r="4.75"/><circle cx="594.7" cy="520.3" r="4.75"/><circle cx="595.4" cy="520.7" r="4.75"/><circle cx="595.0" cy="521.6" r="4.75"/><circle cx="595.3" cy="522.3" r="4.75"/><circle cx="594.7" cy="522.7" r="4.75"/><circle cx="595.0" cy="523.7" r="4.75"/><circle cx="595.3" cy="524.2" r="4.75"/><circle cx="595.4" cy="525.1" r="4.75"/><circle cx="594.9" cy="525.1" r="4.75"/><circle cx="595.3" cy="526.3" r="4.75"/><circle cx="594.7" cy="526.5" r="4.75"/><circle cx="594.6" cy="527.2" r="4.75"/><circle cx="595.3" cy="527.9" r="4.75"/><circle cx="595.0" cy="528.7" r="4.75"/><circle cx="594.9" cy="529.0" r="4.75"/><circle cx="595.2" cy="530.2" r="4.75"/><circle cx="595.0" cy="530.5" r="4.75"/><circle cx="595.3" cy="531.4" r="4.75"/><circle cx="595.2" cy="531.6" r="4.75"/><circle cx="595.0" cy="532.4" r="4.75"/><circle cx="594.9" cy="533.0" r="4.75"/><circle cx="594.9" cy="533.7" r="4.75"/><circle cx="594.7" cy="534.1" r="4.75"/><circle cx="594.6" cy="535.1" r="4.75"/><circle cx="595.2" cy="535.5" r="4.75"/><circle cx="594.8" cy="536.2" r="4.75"/><circle cx="595.3" cy="536.8" r="4.75"/><circle cx="595.1" cy="537.3" r="4.75"/><circle cx="594.7" cy="538.5" r="4.75"/><circle cx="595.3" cy="538.8" r="4.75"/><circle cx="594.9" cy="539.6" r="4.75"/><circle cx="594.9" cy="539.9" r="4.75"/><circle cx="595.2" cy="540.7" r="4.75"/><circle cx="594.9" cy="541.3" r="4.75"/><circle cx="595.3" cy="542.2" r="4.75"/><circle cx="594.9" cy="542.6" r="4.75"/><circle cx="595.4" cy="543.4" r="4.75"/><circle cx="595.5" cy="543.8" r="4.75"/><circle cx="594.9" cy="544.8" r="4.75"/><circle cx="594.8" cy="545.4" r="4.75"/><circle cx="595.3" cy="545.6" r="4.75"/><circle cx="595.0" cy="546.5" r="4.75"/><circle cx="595.4" cy="547.2" r="4.75"/><circle cx="594.5" cy="548.0" r="4.75"/><circle cx="595.0" cy="548.5" r="4.75"/><circle cx="595.3" cy="549.1" r="4.75"/><circle cx="595.0" cy="549.7" r="4.75"/><circle cx="594.9" cy="550.6" r="4.75"/><circle cx="595.0" cy="551.0" r="4.75"/><circle cx="595.2" cy="551.9" r="4.75"/><circle cx="594.9" cy="552.5" r="4.75"/><circle cx="595.2" cy="552.7" r="4.75"/><circle cx="595.3" cy="553.6" r="4.75"/><circle cx="594.6" cy="554.4" r="4.75"/><circle cx="594.6" cy="554.7" r="4.75"/><circle cx="594.6" cy="555.7" r="4.75"/><circle cx="595.3" cy="555.9" r="4.75"/><circle cx="594.6" cy="556.8" r="4.75"/><circle cx="595.2" cy="557.6" r="4.75"/><circle cx="594.6" cy="558.1" r="4.75"/><circle cx="594.9" cy="558.8" r="4.75"/><circle cx="595.5" cy="559.4" r="4.75"/><circle cx="595.4" cy="560.2" r="4.75"/><circle cx="594.8" cy="560.4" r="4.75"/><circle cx="594.5" cy="561.3" r="4.75"/><circle cx="594.8" cy="562.2" r="4.75"/><circle cx="594.8" cy="562.4" r="4.75"/><circle cx="595.4" cy="563.0" r="4.75"/><circle cx="595.0" cy="563.9" r="4.75"/><circle cx="594.6" cy="564.4" r="4.75"/><circle cx="595.4" cy="565.0" r="4.75"/><circle cx="595.4" cy="566.0" r="4.75"/><circle cx="594.7" cy="566.2" r="4.75"/><circle cx="595.0" cy="566.8" r="4.75"/><circle cx="595.0" cy="567.6" r="4.75"/><circle cx="595.1" cy="568.3" r="4.75"/><circle cx="595.3" cy="568.9" r="4.75"/><circle cx="595.4" cy="569.4" r="4.75"/><circle cx="594.6" cy="570.3" r="4.75"/><circle cx="595.0" cy="570.8" r="4.75"/><circle cx="595.1" cy="571.5" r="4.75"/><circle cx="594.8" cy="572.0" r="4.75"/><circle cx="594.8" cy="573.0" r="4.75"/><circle cx="595.3" cy="573.6" r="4.75"/><circle cx="595.0" cy="574.1" r="4.75"/><circle cx="594.9" cy="575.0" r="4.75"/><circle cx="594.6" cy="575.6" r="4.75"/><circle cx="595.1" cy="576.0" r="4.75"/><circle cx="595.4" cy="576.4" r="4.75"/><circle cx="595.1" cy="577.0" r="4.75"/><circle cx="595.4" cy="577.7" r="4.75"/><circle cx="595.3" cy="578.6" r="4.75"/><circle cx="595.2" cy="579.2" r="4.75"/><circle cx="594.8" cy="580.0" r="4.75"/><circle cx="595.3" cy="580.3" r="4.75"/><circle cx="595.4" cy="580.9" r="4.75"/><circle cx="594.6" cy="581.6" r="4.75"/><circle cx="595.3" cy="582.1" r="4.75"/><circle cx="594.9" cy="583.3" r="4.75"/><circle cx="594.8" cy="583.8" r="4.75"/><circle cx="595.2" cy="584.6" r="4.75"/><circle cx="594.6" cy="584.7" r="4.75"/><circle cx="594.5" cy="585.7" r="4.75"/><circle cx="594.8" cy="586.5" r="4.75"/><circle cx="595.1" cy="586.7" r="4.75"/><circle cx="595.1" cy="587.4" r="4.75"/><circle cx="595.4" cy="587.9" r="4.75"/><circle cx="595.3" cy="588.7" r="4.75"/><circle cx="595.3" cy="589.2" r="4.75"/><circle cx="594.9" cy="590.4" r="4.75"/><circle cx="594.9" cy="590.4" r="4.75"/><circle cx="594.7" cy="591.5" r="4.75"/><circle cx="594.6" cy="592.0" r="4.75"/><circle cx="595.2" cy="592.6" r="4.75"/><circle cx="595.2" cy="593.2" r="4.75"/><circle cx="595.3" cy="593.7" r="4.75"/><circle cx="595.4" cy="594.3" r="4.75"/><circle cx="595.4" cy="595.5" r="4.75"/><circle cx="594.8" cy="595.9" r="4.75"/><circle cx="595.3" cy="596.4" r="4.75"/><circle cx="595.4" cy="597.1" r="4.75"/><circle cx="595.0" cy="597.5" r="4.75"/><circle cx="595.1" cy="598.6" r="4.75"/><circle cx="594.6" cy="599.1" r="4.75"/><circle cx="594.8" cy="599.4" r="4.75"/><circle cx="595.3" cy="601.2" r="4.75"/><circle cx="595.4" cy="601.7" r="4.75"/><circle cx="595.1" cy="602.8" r="4.75"/><circle cx="594.8" cy="605.5" r="4.75"/><circle cx="595.2" cy="606.8" r="4.75"/><circle cx="594.8" cy="606.9" r="4.75"/><circle cx="594.7" cy="608.9" r="4.75"/><circle cx="594.7" cy="610.6" r="4.75"/><circle cx="594.8" cy="612.1" r="4.75"/><circle cx="595.1" cy="612.5" r="4.75"/><circle cx="595.1" cy="613.9" r="4.75"/><circle cx="595.1" cy="616.2" r="4.75"/><circle cx="594.5" cy="617.1" r="4.75"/><circle cx="594.6" cy="618.6" r="4.75"/><circle cx="594.6" cy="620.1" r="4.75"/><circle cx="594.9" cy="621.4" r="4.75"/><circle cx="595.2" cy="622.5" r="4.75"/><circle cx="594.7" cy="623.6" r="4.75"/><circle cx="594.8" cy="626.0" r="4.75"/><circle cx="595.4" cy="627.3" r="4.75"/><circle cx="594.6" cy="628.2" r="4.75"/><circle cx="595.4" cy="629.0" r="4.75"/><circle cx="595.0" cy="630.4" r="4.75"/><circle cx="594.6" cy="632.4" r="4.75"/><circle cx="594.7" cy="633.6" r="4.75"/><circle cx="595.0" cy="635.1" r="4.75"/><circle cx="594.7" cy="636.3" r="4.75"/><circle cx="594.7" cy="637.7" r="4.75"/><circle cx="594.7" cy="638.7" r="4.75"/><circle cx="595.0" cy="641.1" r="4.75"/><circle cx="594.5" cy="642.5" r="4.75"/><circle cx="595.0" cy="643.9" r="4.75"/><circle cx="595.1" cy="645.1" r="4.75"/><circle cx="594.7" cy="646.3" r="4.75"/><circle cx="594.7" cy="647.8" r="4.75"/><circle cx="594.5" cy="648.5" r="4.75"/><circle cx="595.0" cy="650.0" r="4.75"/><circle cx="595.4" cy="651.3" r="4.75"/><circle cx="595.1" cy="652.4" r="4.75"/><circle cx="595.1" cy="653.9" r="4.75"/><circle cx="644.0" cy="413.8" r="4.75"/><circle cx="644.1" cy="416.5" r="4.75"/><circle cx="643.8" cy="420.1" r="4.75"/><circle cx="646.8" cy="423.7" r="4.75"/><circle cx="643.8" cy="430.0" r="4.75"/><circle cx="646.8" cy="434.5" r="4.75"/><circle cx="644.3" cy="435.3" r="4.75"/><circle cx="647.3" cy="435.6" r="4.75"/><circle cx="644.0" cy="436.3" r="4.75"/><circle cx="644.1" cy="437.0" r="4.75"/><circle cx="647.3" cy="437.2" r="4.75"/><circle cx="643.8" cy="437.9" r="4.75"/><circle cx="644.2" cy="438.7" r="4.75"/><circle cx="643.8" cy="438.9" r="4.75"/><circle cx="644.0" cy="439.3" r="4.75"/><circle cx="643.8" cy="440.3" r="4.75"/><circle cx="644.0" cy="440.6" r="4.75"/><circle cx="647.1" cy="441.1" r="4.75"/><circle cx="644.0" cy="441.5" r="4.75"/><circle cx="644.2" cy="442.1" r="4.75"/><circle cx="644.1" cy="442.8" r="4.75"/><circle cx="646.8" cy="443.1" r="4.75"/><circle cx="644.1" cy="443.9" r="4.75"/><circle cx="644.3" cy="444.5" r="4.75"/><circle cx="644.1" cy="444.9" r="4.75"/><circle cx="643.9" cy="445.4" r="4.75"/><circle cx="644.0" cy="446.0" r="4.75"/><circle cx="644.2" cy="446.1" r="4.75"/><circle cx="646.8" cy="447.1" r="4.75"/><circle cx="644.3" cy="447.4" r="4.75"/><circle cx="644.3" cy="447.9" r="4.75"/><circle cx="646.9" cy="448.4" r="4.75"/><circle cx="646.8" cy="449.0" r="4.75"/><circle cx="643.8" cy="449.4" r="4.75"/><circle cx="644.0" cy="450.2" r="4.75"/><circle cx="647.2" cy="450.5" r="4.75"/><circle cx="647.0" cy="451.3" r="4.75"/><circle cx="644.0" cy="451.6" r="4.75"/><circle cx="643.8" cy="452.2" r="4.75"/><circle cx="647.3" cy="452.7" r="4.75"/><circle cx="647.1" cy="453.2" r="4.75"/><circle cx="647.1" cy="453.7" r="4.75"/><circle cx="643.7" cy="454.3" r="4.75"/><circle cx="646.9" cy="455.0" r="4.75"/><circle cx="647.3" cy="455.5" r="4.75"/><circle cx="644.0" cy="456.0" r="4.75"/><circle cx="644.3" cy="456.6" r="4.75"/><circle cx="647.1" cy="456.8" r="4.75"/><circle cx="647.1" cy="457.5" r="4.75"/><circle cx="647.2" cy="458.1" r="4.75"/><circle cx="647.1" cy="458.4" r="4.75"/><circle cx="644.2" cy="459.0" r="4.75"/><circle cx="644.1" cy="459.8" r="4.75"/><circle cx="647.0" cy="460.3" r="4.75"/><circle cx="643.9" cy="460.6" r="4.75"/><circle cx="647.1" cy="461.3" r="4.75"/><circle cx="646.9" cy="461.8" r="4.75"/><circle cx="646.7" cy="462.4" r="4.75"/><circle cx="643.9" cy="463.0" r="4.75"/><circle cx="643.9" cy="463.6" r="4.75"/><circle cx="646.8" cy="463.8" r="4.75"/><circle cx="643.7" cy="464.5" r="4.75"/><circle cx="643.8" cy="464.8" r="4.75"/><circle cx="644.0" cy="465.3" r="4.75"/><circle cx="644.3" cy="465.8" r="4.75"/><circle cx="644.2" cy="466.6" r="4.75"/><circle cx="643.7" cy="466.9" r="4.75"/><circle cx="647.0" cy="467.6" r="4.75"/><circle cx="644.1" cy="468.2" r="4.75"/><circle cx="643.8" cy="468.9" r="4.75"/><circle cx="643.7" cy="469.0" r="4.75"/><circle cx="643.8" cy="469.8" r="4.75"/><circle cx="643.8" cy="470.1" r="4.75"/><circle cx="643.9" cy="470.7" r="4.75"/><circle cx="646.9" cy="471.6" r="4.75"/><circle cx="646.8" cy="471.8" r="4.75"/><circle cx="643.8" cy="472.6" r="4.75"/><circle cx="647.1" cy="473.1" r="4.75"/><circle cx="647.0" cy="473.5" r="4.75"/><circle cx="644.2" cy="474.1" r="4.75"/><circle cx="644.0" cy="474.5" r="4.75"/><circle cx="647.1" cy="475.2" r="4.75"/><circle cx="644.2" cy="475.6" r="4.75"/><circle cx="644.0" cy="476.3" r="4.75"/><circle cx="644.1" cy="476.7" r="4.75"/><circle cx="644.2" cy="476.9" r="4.75"/><circle cx="644.0" cy="477.6" r="4.75"/><circle cx="646.9" cy="478.3" r="4.75"/><circle cx="643.9" cy="478.7" r="4.75"/><circle cx="647.3" cy="479.2" r="4.75"/><circle cx="644.3" cy="479.6" r="4.75"/><circle cx="647.1" cy="480.4" r="4.75"/><circle cx="646.8" cy="480.9" r="4.75"/><circle cx="647.3" cy="481.6" r="4.75"/><circle cx="644.0" cy="482.1" r="4.75"/><circle cx="643.8" cy="482.6" r="4.75"/><circle cx="647.2" cy="483.1" r="4.75"/><circle cx="647.1" cy="483.5" r="4.75"/><circle cx="643.8" cy="483.8" r="4.75"/><circle cx="644.1" cy="484.4" r="4.75"/><circle cx="646.7" cy="485.1" r="4.75"/><circle cx="646.8" cy="485.6" r="4.75"/><circle cx="646.8" cy="486.1" r="4.75"/><circle cx="647.2" cy="486.8" r="4.75"/><circle cx="647.2" cy="487.0" r="4.75"/><circle cx="647.0" cy="487.8" r="4.75"/><circle cx="647.1" cy="488.5" r="4.75"/><circle cx="643.7" cy="488.9" r="4.75"/><circle cx="646.7" cy="489.5" r="4.75"/><circle cx="643.9" cy="490.1" r="4.75"/><circle cx="643.9" cy="490.6" r="4.75"/><circle cx="647.0" cy="490.9" r="4.75"/><circle cx="643.8" cy="491.2" r="4.75"/><circle cx="644.1" cy="492.0" r="4.75"/><circle cx="644.3" cy="492.4" r="4.75"/><circle cx="644.1" cy="493.1" r="4.75"/><circle cx="646.9" cy="493.7" r="4.75"/><circle cx="644.0" cy="493.9" r="4.75"/><circle cx="646.9" cy="494.8" r="4.75"/><circle cx="644.2" cy="494.9" r="4.75"/><circle cx="644.1" cy="495.7" r="4.75"/><circle cx="646.8" cy="496.2" r="4.75"/><circle cx="647.2" cy="496.7" r="4.75"/><circle cx="646.8" cy="497.4" r="4.75"/><circle cx="644.3" cy="497.8" r="4.75"/><circle cx="644.0" cy="498.2" r="4.75"/><circle cx="644.2" cy="498.8" r="4.75"/><circle cx="647.0" cy="499.6" r="4.75"/><circle cx="646.8" cy="499.8" r="4.75"/><circle cx="646.8" cy="500.5" r="4.75"/><circle cx="646.9" cy="501.2" r="4.75"/><circle cx="644.0" cy="501.3" r="4.75"/><circle cx="646.9" cy="501.9" r="4.75"/><circle cx="647.2" cy="502.6" r="4.75"/><circle cx="646.8" cy="503.0" r="4.75"/><circle cx="647.0" cy="503.5" r="4.75"/><circle cx="647.0" cy="504.4" r="4.75"/><circle cx="644.0" cy="504.9" r="4.75"/><circle cx="643.9" cy="505.4" r="4.75"/><circle cx="646.9" cy="505.8" r="4.75"/><circle cx="644.0" cy="506.4" r="4.75"/><circle cx="643.8" cy="506.7" r="4.75"/><circle cx="644.2" cy="507.3" r="4.75"/><circle cx="644.1" cy="507.7" r="4.75"/><circle cx="644.1" cy="508.6" r="4.75"/><circle cx="643.9" cy="509.0" r="4.75"/><circle cx="644.3" cy="509.7" r="4.75"/><circle cx="644.0" cy="509.9" r="4.75"/><circle cx="643.7" cy="510.4" r="4.75"/><circle cx="644.2" cy="510.9" r="4.75"/><circle cx="644.3" cy="511.4" r="4.75"/><circle cx="647.1" cy="512.0" r="4.75"/><circle cx="643.7" cy="512.6" r="4.75"/><circle cx="646.8" cy="513.4" r="4.75"/><circle cx="647.0" cy="513.8" r="4.75"/><circle cx="644.3" cy="514.2" r="4.75"/><circle cx="647.1" cy="515.0" r="4.75"/><circle cx="643.9" cy="515.4" r="4.75"/><circle cx="643.9" cy="515.8" r="4.75"/><circle cx="647.0" cy="516.6" r="4.75"/><circle cx="643.8" cy="516.7" r="4.75"/><circle cx="643.8" cy="517.5" r="4.75"/><circle cx="644.0" cy="517.9" r="4.75"/><circle cx="644.1" cy="518.4" r="4.75"/><circle cx="643.8" cy="518.9" r="4.75"/><circle cx="644.2" cy="519.7" r="4.75"/><circle cx="644.2" cy="520.0" r="4.75"/><circle cx="646.9" cy="520.6" r="4.75"/><circle cx="644.3" cy="521.3" r="4.75"/><circle cx="644.0" cy="521.9" r="4.75"/><circle cx="644.1" cy="522.2" r="4.75"/><circle cx="643.9" cy="522.5" r="4.75"/><circle cx="643.9" cy="523.4" r="4.75"/><circle cx="646.7" cy="523.6" r="4.75"/><circle cx="646.8" cy="524.5" r="4.75"/><circle cx="647.0" cy="524.7" r="4.75"/><circle cx="644.1" cy="525.6" r="4.75"/><circle cx="644.1" cy="525.9" r="4.75"/><circle cx="644.2" cy="526.4" r="4.75"/><circle cx="647.0" cy="527.1" r="4.75"/><circle cx="644.0" cy="527.4" r="4.75"/><circle cx="644.0" cy="528.1" r="4.75"/><circle cx="644.0" cy="528.4" r="4.75"/><circle cx="643.8" cy="529.2" r="4.75"/><circle cx="644.1" cy="529.6" r="4.75"/><circle cx="646.8" cy="529.9" r="4.75"/><circle cx="646.9" cy="530.8" r="4.75"/><circle cx="646.8" cy="531.1" r="4.75"/><circle cx="646.7" cy="531.7" r="4.75"/><circle cx="644.0" cy="532.0" r="4.75"/><circle cx="643.9" cy="533.0" r="4.75"/><circle cx="646.8" cy="533.4" r="4.75"/><circle cx="647.0" cy="533.9" r="4.75"/><circle cx="644.3" cy="534.3" r="4.75"/><circle cx="646.8" cy="535.1" r="4.75"/><circle cx="646.8" cy="535.2" r="4.75"/><circle cx="644.0" cy="536.1" r="4.75"/><circle cx="644.2" cy="536.7" r="4.75"/><circle cx="643.8" cy="537.2" r="4.75"/><circle cx="643.8" cy="537.5" r="4.75"/><circle cx="646.9" cy="538.3" r="4.75"/><circle cx="646.9" cy="538.7" r="4.75"/><circle cx="644.3" cy="539.3" r="4.75"/><circle cx="643.8" cy="539.6" r="4.75"/><circle cx="647.2" cy="540.2" r="4.75"/><circle cx="644.1" cy="540.8" r="4.75"/><circle cx="643.8" cy="541.1" r="4.75"/><circle cx="643.7" cy="541.7" r="4.75"/><circle cx="646.8" cy="542.1" r="4.75"/><circle cx="647.2" cy="542.8" r="4.75"/><circle cx="647.3" cy="543.5" r="4.75"/><circle cx="643.9" cy="544.0" r="4.75"/><circle cx="646.8" cy="544.3" r="4.75"/><circle cx="644.1" cy="544.9" r="4.75"/><circle cx="644.0" cy="545.6" r="4.75"/><circle cx="643.7" cy="546.0" r="4.75"/><circle cx="644.2" cy="546.5" r="4.75"/><circle cx="647.0" cy="547.2" r="4.75"/><circle cx="647.0" cy="547.5" r="4.75"/><circle cx="644.2" cy="548.0" r="4.75"/><circle cx="644.1" cy="548.7" r="4.75"/><circle cx="647.0" cy="549.4" r="4.75"/><circle cx="647.1" cy="549.5" r="4.75"/><circle cx="644.3" cy="550.1" r="4.75"/><circle cx="647.1" cy="550.8" r="4.75"/><circle cx="647.0" cy="551.4" r="4.75"/><circle cx="646.7" cy="551.8" r="4.75"/><circle cx="647.2" cy="552.6" r="4.75"/><circle cx="647.0" cy="552.8" r="4.75"/><circle cx="644.0" cy="553.6" r="4.75"/><circle cx="647.2" cy="553.9" r="4.75"/><circle cx="644.2" cy="554.3" r="4.75"/><circle cx="646.9" cy="555.2" r="4.75"/><circle cx="644.3" cy="555.4" r="4.75"/><circle cx="643.9" cy="555.9" r="4.75"/><circle cx="643.9" cy="556.4" r="4.75"/><circle cx="644.0" cy="557.4" r="4.75"/><circle cx="647.0" cy="557.5" r="4.75"/><circle cx="647.0" cy="558.0" r="4.75"/><circle cx="647.3" cy="558.7" r="4.75"/><circle cx="643.9" cy="559.2" r="4.75"/><circle cx="646.8" cy="559.6" r="4.75"/><circle cx="644.1" cy="560.3" r="4.75"/><circle cx="643.8" cy="560.9" r="4.75"/><circle cx="643.9" cy="561.4" r="4.75"/><circle cx="643.8" cy="561.8" r="4.75"/><circle cx="646.8" cy="562.5" r="4.75"/><circle cx="644.0" cy="563.0" r="4.75"/><circle cx="644.0" cy="563.3" r="4.75"/><circle cx="646.7" cy="564.3" r="4.75"/><circle cx="647.3" cy="564.4" r="4.75"/><circle cx="646.8" cy="565.0" r="4.75"/><circle cx="647.1" cy="565.7" r="4.75"/><circle cx="646.9" cy="566.2" r="4.75"/><circle cx="647.0" cy="566.9" r="4.75"/><circle cx="647.0" cy="567.0" r="4.75"/><circle cx="644.2" cy="567.8" r="4.75"/><circle cx="646.8" cy="568.5" r="4.75"/><circle cx="647.2" cy="569.1" r="4.75"/><circle cx="643.9" cy="569.5" r="4.75"/><circle cx="643.7" cy="570.1" r="4.75"/><circle cx="643.9" cy="570.6" r="4.75"/><circle cx="646.9" cy="570.9" r="4.75"/><circle cx="647.3" cy="571.6" r="4.75"/><circle cx="646.8" cy="571.8" r="4.75"/><circle cx="643.8" cy="572.4" r="4.75"/><circle cx="647.1" cy="573.0" r="4.75"/><circle cx="646.9" cy="573.6" r="4.75"/><circle cx="647.2" cy="573.9" r="4.75"/><circle cx="646.8" cy="574.6" r="4.75"/><circle cx="643.9" cy="575.3" r="4.75"/><circle cx="646.8" cy="575.7" r="4.75"/><circle cx="644.1" cy="576.0" r="4.75"/><circle cx="646.9" cy="576.7" r="4.75"/><circle cx="646.8" cy="577.1" r="4.75"/><circle cx="643.7" cy="578.1" r="4.75"/><circle cx="647.1" cy="578.2" r="4.75"/><circle cx="647.0" cy="579.0" r="4.75"/><circle cx="643.7" cy="579.6" r="4.75"/><circle cx="643.9" cy="579.8" r="4.75"/><circle cx="644.1" cy="580.6" r="4.75"/><circle cx="646.9" cy="581.2" r="4.75"/><circle cx="647.1" cy="581.6" r="4.75"/><circle cx="646.9" cy="581.9" r="4.75"/><circle cx="644.1" cy="582.7" r="4.75"/><circle cx="647.0" cy="583.3" r="4.75"/><circle cx="647.0" cy="583.8" r="4.75"/><circle cx="644.2" cy="584.2" r="4.75"/><circle cx="643.7" cy="584.8" r="4.75"/><circle cx="643.9" cy="585.3" r="4.75"/><circle cx="644.2" cy="586.0" r="4.75"/><circle cx="643.7" cy="586.6" r="4.75"/><circle cx="646.8" cy="587.1" r="4.75"/><circle cx="647.0" cy="587.5" r="4.75"/><circle cx="643.9" cy="588.1" r="4.75"/><circle cx="643.8" cy="588.5" r="4.75"/><circle cx="643.7" cy="588.9" r="4.75"/><circle cx="643.8" cy="589.6" r="4.75"/><circle cx="646.9" cy="589.9" r="4.75"/><circle cx="644.2" cy="590.7" r="4.75"/><circle cx="647.1" cy="591.3" r="4.75"/><circle cx="644.2" cy="591.9" r="4.75"/><circle cx="643.9" cy="592.3" r="4.75"/><circle cx="647.1" cy="592.9" r="4.75"/><circle cx="643.9" cy="593.4" r="4.75"/><circle cx="647.2" cy="593.8" r="4.75"/><circle cx="644.3" cy="594.9" r="4.75"/><circle cx="647.1" cy="596.3" r="4.75"/><circle cx="643.8" cy="599.3" r="4.75"/><circle cx="643.8" cy="600.2" r="4.75"/><circle cx="647.0" cy="601.9" r="4.75"/><circle cx="646.7" cy="604.0" r="4.75"/><circle cx="646.9" cy="606.6" r="4.75"/><circle cx="647.1" cy="607.4" r="4.75"/><circle cx="646.8" cy="610.2" r="4.75"/><circle cx="647.3" cy="612.2" r="4.75"/><circle cx="644.2" cy="613.5" r="4.75"/><circle cx="643.9" cy="614.9" r="4.75"/><circle cx="643.9" cy="617.9" r="4.75"/><circle cx="644.0" cy="618.9" r="4.75"/><circle cx="643.9" cy="620.8" r="4.75"/><circle cx="646.9" cy="623.5" r="4.75"/><circle cx="644.1" cy="625.4" r="4.75"/><circle cx="644.2" cy="626.1" r="4.75"/><circle cx="647.0" cy="628.9" r="4.75"/><circle cx="646.8" cy="630.7" r="4.75"/><circle cx="646.8" cy="631.5" r="4.75"/><circle cx="646.8" cy="634.9" r="4.75"/><circle cx="646.9" cy="636.7" r="4.75"/><circle cx="643.8" cy="637.1" r="4.75"/><circle cx="644.0" cy="639.9" r="4.75"/><circle cx="643.7" cy="641.6" r="4.75"/><circle cx="644.0" cy="644.3" r="4.75"/><circle cx="644.0" cy="646.1" r="4.75"/><circle cx="647.1" cy="646.7" r="4.75"/><circle cx="644.1" cy="649.2" r="4.75"/><circle cx="655.1" cy="407.0" r="4.75"/><circle cx="653.1" cy="420.7" r="4.75"/><circle cx="652.8" cy="422.7" r="4.75"/><circle cx="655.2" cy="426.9" r="4.75"/><circle cx="652.7" cy="429.6" r="4.75"/><circle cx="655.1" cy="429.9" r="4.75"/><circle cx="651.2" cy="434.2" r="4.75"/><circle cx="653.2" cy="435.6" r="4.75"/><circle cx="652.9" cy="436.1" r="4.75"/><circle cx="651.2" cy="436.7" r="4.75"/><circle cx="650.8" cy="437.7" r="4.75"/><circle cx="654.8" cy="438.5" r="4.75"/><circle cx="651.0" cy="438.9" r="4.75"/><circle cx="654.8" cy="439.4" r="4.75"/><circle cx="653.3" cy="440.7" r="4.75"/><circle cx="650.9" cy="441.0" r="4.75"/><circle cx="651.3" cy="441.8" r="4.75"/><circle cx="652.7" cy="442.4" r="4.75"/><circle cx="653.2" cy="443.6" r="4.75"/><circle cx="650.9" cy="443.7" r="4.75"/><circle cx="654.8" cy="444.6" r="4.75"/><circle cx="655.1" cy="445.6" r="4.75"/><circle cx="652.9" cy="445.9" r="4.75"/><circle cx="653.0" cy="447.3" r="4.75"/><circle cx="651.2" cy="447.3" r="4.75"/><circle cx="655.1" cy="448.4" r="4.75"/><circle cx="655.0" cy="449.3" r="4.75"/><circle cx="652.8" cy="449.6" r="4.75"/><circle cx="652.9" cy="450.6" r="4.75"/><circle cx="651.1" cy="451.0" r="4.75"/><circle cx="655.1" cy="452.1" r="4.75"/><circle cx="651.2" cy="452.8" r="4.75"/><circle cx="652.7" cy="453.5" r="4.75"/><circle cx="654.8" cy="454.2" r="4.75"/><circle cx="655.1" cy="454.8" r="4.75"/><circle cx="653.1" cy="455.9" r="4.75"/><circle cx="655.0" cy="456.7" r="4.75"/><circle cx="654.9" cy="457.0" r="4.75"/><circle cx="654.8" cy="457.5" r="4.75"/><circle cx="655.1" cy="458.2" r="4.75"/><circle cx="650.8" cy="459.5" r="4.75"/><circle cx="654.9" cy="459.7" r="4.75"/><circle cx="655.0" cy="461.0" r="4.75"/><circle cx="655.2" cy="461.6" r="4.75"/><circle cx="650.8" cy="462.4" r="4.75"/><circle cx="652.7" cy="462.5" r="4.75"/><circle cx="654.9" cy="463.8" r="4.75"/><circle cx="652.8" cy="464.6" r="4.75"/><circle cx="651.1" cy="464.8" r="4.75"/><circle cx="653.1" cy="465.6" r="4.75"/><circle cx="651.1" cy="466.4" r="4.75"/><circle cx="652.7" cy="467.2" r="4.75"/><circle cx="652.8" cy="468.1" r="4.75"/><circle cx="650.7" cy="468.5" r="4.75"/><circle cx="653.2" cy="469.6" r="4.75"/><circle cx="653.3" cy="470.1" r="4.75"/><circle cx="654.9" cy="471.0" r="4.75"/><circle cx="653.1" cy="471.4" r="4.75"/><circle cx="651.0" cy="472.2" r="4.75"/><circle cx="651.0" cy="473.0" r="4.75"/><circle cx="651.0" cy="473.6" r="4.75"/><circle cx="655.1" cy="474.4" r="4.75"/><circle cx="655.0" cy="474.9" r="4.75"/><circle cx="652.7" cy="476.1" r="4.75"/><circle cx="655.1" cy="476.9" r="4.75"/><circle cx="651.2" cy="477.4" r="4.75"/><circle cx="650.9" cy="478.3" r="4.75"/><circle cx="650.9" cy="478.7" r="4.75"/><circle cx="654.7" cy="479.7" r="4.75"/><circle cx="651.3" cy="480.1" r="4.75"/><circle cx="655.2" cy="481.0" r="4.75"/><circle cx="653.0" cy="481.8" r="4.75"/><circle cx="655.0" cy="482.4" r="4.75"/><circle cx="655.0" cy="482.8" r="4.75"/><circle cx="654.7" cy="483.9" r="4.75"/><circle cx="654.7" cy="484.4" r="4.75"/><circle cx="654.7" cy="485.1" r="4.75"/><circle cx="651.2" cy="486.2" r="4.75"/><circle cx="652.8" cy="486.5" r="4.75"/><circle cx="651.1" cy="487.4" r="4.75"/><circle cx="655.2" cy="488.3" r="4.75"/><circle cx="651.3" cy="489.0" r="4.75"/><circle cx="650.8" cy="489.8" r="4.75"/><circle cx="653.3" cy="490.3" r="4.75"/><circle cx="652.8" cy="490.8" r="4.75"/><circle cx="653.3" cy="491.8" r="4.75"/><circle cx="653.2" cy="492.2" r="4.75"/><circle cx="650.8" cy="492.9" r="4.75"/><circle cx="653.2" cy="494.2" r="4.75"/><circle cx="654.7" cy="494.8" r="4.75"/><circle cx="650.9" cy="495.3" r="4.75"/><circle cx="655.1" cy="496.4" r="4.75"/><circle cx="651.2" cy="496.9" r="4.75"/><circle cx="651.0" cy="497.5" r="4.75"/><circle cx="650.8" cy="498.5" r="4.75"/><circle cx="652.8" cy="499.3" r="4.75"/><circle cx="652.8" cy="499.4" r="4.75"/><circle cx="653.1" cy="500.7" r="4.75"/><circle cx="653.3" cy="501.4" r="4.75"/><circle cx="650.9" cy="501.6" r="4.75"/><circle cx="654.8" cy="502.8" r="4.75"/><circle cx="652.9" cy="503.5" r="4.75"/><circle cx="654.8" cy="503.9" r="4.75"/><circle cx="653.2" cy="504.9" r="4.75"/><circle cx="654.7" cy="505.3" r="4.75"/><circle cx="651.2" cy="506.5" r="4.75"/><circle cx="652.9" cy="507.2" r="4.75"/><circle cx="655.0" cy="507.9" r="4.75"/><circle cx="651.0" cy="508.6" r="4.75"/><circle cx="653.2" cy="508.8" r="4.75"/><circle cx="651.3" cy="509.6" r="4.75"/><circle cx="654.9" cy="510.2" r="4.75"/><circle cx="653.1" cy="511.0" r="4.75"/><circle cx="653.1" cy="512.3" r="4.75"/><circle cx="652.9" cy="512.5" r="4.75"/><circle cx="653.1" cy="513.3" r="4.75"/><circle cx="654.9" cy="514.4" r="4.75"/><circle cx="652.7" cy="515.2" r="4.75"/><circle cx="653.1" cy="515.6" r="4.75"/><circle cx="653.0" cy="516.2" r="4.75"/><circle cx="655.2" cy="516.9" r="4.75"/><circle cx="655.3" cy="517.7" r="4.75"/><circle cx="652.7" cy="518.9" r="4.75"/><circle cx="652.9" cy="519.2" r="4.75"/><circle cx="650.8" cy="519.8" r="4.75"/><circle cx="654.8" cy="520.9" r="4.75"/><circle cx="651.0" cy="521.4" r="4.75"/><circle cx="652.9" cy="522.1" r="4.75"/><circle cx="655.1" cy="522.6" r="4.75"/><circle cx="653.1" cy="523.3" r="4.75"/><circle cx="654.8" cy="524.2" r="4.75"/><circle cx="652.9" cy="524.9" r="4.75"/><circle cx="655.0" cy="526.0" r="4.75"/><circle cx="650.8" cy="526.8" r="4.75"/><circle cx="655.2" cy="527.0" r="4.75"/><circle cx="650.9" cy="527.9" r="4.75"/><circle cx="652.9" cy="528.7" r="4.75"/><circle cx="651.0" cy="529.6" r="4.75"/><circle cx="653.1" cy="529.8" r="4.75"/><circle cx="655.1" cy="531.0" r="4.75"/><circle cx="650.9" cy="531.3" r="4.75"/><circle cx="653.0" cy="532.1" r="4.75"/><circle cx="653.1" cy="533.3" r="4.75"/><circle cx="650.8" cy="533.6" r="4.75"/><circle cx="651.0" cy="534.3" r="4.75"/><circle cx="653.1" cy="535.1" r="4.75"/><circle cx="654.8" cy="536.0" r="4.75"/><circle cx="655.0" cy="536.9" r="4.75"/><circle cx="652.9" cy="537.7" r="4.75"/><circle cx="653.1" cy="537.9" r="4.75"/><circle cx="653.0" cy="538.5" r="4.75"/><circle cx="651.2" cy="539.3" r="4.75"/><circle cx="653.2" cy="539.9" r="4.75"/><circle cx="651.0" cy="541.2" r="4.75"/><circle cx="654.9" cy="541.5" r="4.75"/><circle cx="654.7" cy="542.1" r="4.75"/><circle cx="654.8" cy="543.3" r="4.75"/><circle cx="655.2" cy="543.6" r="4.75"/><circle cx="650.8" cy="544.4" r="4.75"/><circle cx="652.8" cy="545.2" r="4.75"/><circle cx="652.9" cy="545.7" r="4.75"/><circle cx="653.1" cy="547.0" r="4.75"/><circle cx="653.3" cy="547.3" r="4.75"/><circle cx="652.8" cy="548.0" r="4.75"/><circle cx="653.3" cy="549.2" r="4.75"/><circle cx="651.1" cy="549.9" r="4.75"/><circle cx="653.2" cy="550.5" r="4.75"/><circle cx="653.3" cy="550.8" r="4.75"/><circle cx="654.8" cy="551.9" r="4.75"/><circle cx="654.9" cy="552.8" r="4.75"/><circle cx="652.7" cy="553.1" r="4.75"/><circle cx="653.2" cy="553.9" r="4.75"/><circle cx="653.0" cy="554.9" r="4.75"/><circle cx="650.9" cy="555.5" r="4.75"/><circle cx="653.0" cy="556.3" r="4.75"/><circle cx="653.2" cy="556.9" r="4.75"/><circle cx="652.7" cy="558.0" r="4.75"/><circle cx="655.2" cy="558.6" r="4.75"/><circle cx="655.1" cy="558.7" r="4.75"/><circle cx="654.9" cy="559.9" r="4.75"/><circle cx="655.0" cy="560.3" r="4.75"/><circle cx="653.3" cy="561.4" r="4.75"/><circle cx="650.9" cy="561.9" r="4.75"/><circle cx="654.9" cy="562.9" r="4.75"/><circle cx="651.1" cy="563.5" r="4.75"/><circle cx="655.1" cy="564.1" r="4.75"/><circle cx="653.0" cy="565.1" r="4.75"/><circle cx="655.2" cy="565.6" r="4.75"/><circle cx="652.9" cy="566.6" r="4.75"/><circle cx="653.2" cy="566.7" r="4.75"/><circle cx="650.8" cy="567.5" r="4.75"/><circle cx="650.9" cy="568.6" r="4.75"/><circle cx="650.9" cy="569.2" r="4.75"/><circle cx="652.9" cy="570.1" r="4.75"/><circle cx="653.2" cy="570.9" r="4.75"/><circle cx="654.9" cy="571.5" r="4.75"/><circle cx="654.7" cy="572.2" r="4.75"/><circle cx="653.2" cy="572.7" r="4.75"/><circle cx="653.2" cy="573.7" r="4.75"/><circle cx="654.9" cy="573.9" r="4.75"/><circle cx="652.8" cy="574.6" r="4.75"/><circle cx="654.9" cy="575.6" r="4.75"/><circle cx="651.0" cy="576.1" r="4.75"/><circle cx="653.0" cy="576.8" r="4.75"/><circle cx="655.2" cy="577.8" r="4.75"/><circle cx="653.0" cy="578.7" r="4.75"/><circle cx="653.0" cy="579.4" r="4.75"/><circle cx="653.2" cy="580.0" r="4.75"/><circle cx="653.1" cy="580.6" r="4.75"/><circle cx="651.2" cy="581.2" r="4.75"/><circle cx="655.0" cy="581.9" r="4.75"/><circle cx="655.2" cy="582.7" r="4.75"/><circle cx="652.9" cy="583.5" r="4.75"/><circle cx="655.1" cy="584.0" r="4.75"/><circle cx="652.8" cy="585.0" r="4.75"/><circle cx="650.8" cy="586.0" r="4.75"/><circle cx="652.8" cy="586.4" r="4.75"/><circle cx="651.3" cy="587.3" r="4.75"/><circle cx="655.1" cy="588.1" r="4.75"/><circle cx="650.9" cy="589.0" r="4.75"/><circle cx="653.0" cy="589.5" r="4.75"/><circle cx="653.2" cy="590.5" r="4.75"/><circle cx="652.7" cy="590.7" r="4.75"/><circle cx="652.8" cy="591.6" r="4.75"/><circle cx="651.1" cy="592.4" r="4.75"/><circle cx="654.8" cy="593.0" r="4.75"/><circle cx="653.3" cy="594.0" r="4.75"/><circle cx="655.1" cy="594.2" r="4.75"/><circle cx="654.7" cy="595.1" r="4.75"/><circle cx="654.7" cy="595.7" r="4.75"/><circle cx="653.2" cy="597.0" r="4.75"/><circle cx="653.2" cy="597.4" r="4.75"/><circle cx="655.2" cy="598.0" r="4.75"/><circle cx="650.7" cy="598.6" r="4.75"/><circle cx="655.0" cy="599.8" r="4.75"/><circle cx="655.3" cy="600.1" r="4.75"/><circle cx="651.0" cy="601.3" r="4.75"/><circle cx="651.1" cy="602.0" r="4.75"/><circle cx="653.0" cy="602.1" r="4.75"/><circle cx="652.9" cy="603.2" r="4.75"/><circle cx="654.9" cy="603.6" r="4.75"/><circle cx="651.0" cy="604.3" r="4.75"/><circle cx="650.8" cy="605.1" r="4.75"/><circle cx="655.1" cy="605.7" r="4.75"/><circle cx="651.0" cy="606.9" r="4.75"/><circle cx="651.0" cy="607.4" r="4.75"/><circle cx="655.3" cy="608.4" r="4.75"/><circle cx="655.2" cy="608.7" r="4.75"/><circle cx="650.9" cy="609.9" r="4.75"/><circle cx="652.8" cy="610.1" r="4.75"/><circle cx="653.2" cy="611.3" r="4.75"/><circle cx="652.9" cy="611.6" r="4.75"/><circle cx="651.0" cy="612.3" r="4.75"/><circle cx="654.8" cy="613.4" r="4.75"/><circle cx="655.0" cy="614.3" r="4.75"/><circle cx="650.8" cy="615.1" r="4.75"/><circle cx="650.9" cy="615.2" r="4.75"/><circle cx="652.8" cy="615.9" r="4.75"/><circle cx="653.0" cy="616.6" r="4.75"/><circle cx="655.2" cy="617.9" r="4.75"/><circle cx="652.9" cy="618.2" r="4.75"/><circle cx="650.8" cy="619.3" r="4.75"/><circle cx="653.2" cy="619.9" r="4.75"/><circle cx="653.0" cy="620.3" r="4.75"/><circle cx="653.3" cy="621.0" r="4.75"/><circle cx="651.0" cy="621.7" r="4.75"/><circle cx="655.1" cy="622.4" r="4.75"/><circle cx="655.0" cy="623.5" r="4.75"/><circle cx="655.1" cy="623.9" r="4.75"/><circle cx="654.7" cy="625.0" r="4.75"/><circle cx="653.0" cy="625.7" r="4.75"/><circle cx="653.1" cy="626.1" r="4.75"/><circle cx="651.0" cy="626.7" r="4.75"/><circle cx="652.8" cy="627.7" r="4.75"/><circle cx="653.3" cy="628.3" r="4.75"/><circle cx="650.9" cy="628.9" r="4.75"/><circle cx="653.0" cy="629.7" r="4.75"/><circle cx="652.7" cy="630.7" r="4.75"/><circle cx="651.2" cy="631.4" r="4.75"/><circle cx="653.2" cy="632.4" r="4.75"/><circle cx="651.2" cy="633.0" r="4.75"/><circle cx="654.8" cy="633.4" r="4.75"/><circle cx="655.2" cy="634.1" r="4.75"/><circle cx="652.9" cy="635.3" r="4.75"/><circle cx="652.8" cy="635.5" r="4.75"/><circle cx="655.1" cy="636.5" r="4.75"/><circle cx="651.3" cy="637.1" r="4.75"/><circle cx="650.7" cy="637.8" r="4.75"/><circle cx="655.0" cy="638.8" r="4.75"/><circle cx="654.8" cy="639.6" r="4.75"/><circle cx="651.0" cy="640.2" r="4.75"/><circle cx="655.1" cy="640.6" r="4.75"/><circle cx="651.0" cy="641.2" r="4.75"/><circle cx="652.8" cy="642.0" r="4.75"/><circle cx="651.1" cy="643.0" r="4.75"/><circle cx="655.3" cy="643.7" r="4.75"/><circle cx="654.7" cy="644.3" r="4.75"/><circle cx="654.8" cy="644.9" r="4.75"/><circle cx="651.0" cy="645.9" r="4.75"/><circle cx="650.8" cy="646.4" r="4.75"/><circle cx="654.8" cy="647.2" r="4.75"/><circle cx="652.9" cy="648.4" r="4.75"/><circle cx="653.0" cy="648.8" r="4.75"/><circle cx="652.9" cy="649.6" r="4.75"/><circle cx="654.8" cy="650.1" r="4.75"/><circle cx="651.2" cy="650.7" r="4.75"/><circle cx="650.9" cy="651.8" r="4.75"/><circle cx="684.1" cy="419.1" r="4.75"/><circle cx="685.8" cy="424.3" r="4.75"/><circle cx="684.0" cy="427.1" r="4.75"/><circle cx="686.2" cy="428.3" r="4.75"/><circle cx="686.1" cy="431.3" r="4.75"/><circle cx="683.9" cy="434.1" r="4.75"/><circle cx="684.3" cy="434.8" r="4.75"/><circle cx="684.1" cy="435.9" r="4.75"/><circle cx="686.3" cy="436.6" r="4.75"/><circle cx="685.8" cy="436.8" r="4.75"/><circle cx="683.7" cy="437.5" r="4.75"/><circle cx="684.3" cy="438.1" r="4.75"/><circle cx="683.9" cy="438.7" r="4.75"/><circle cx="683.8" cy="439.5" r="4.75"/><circle cx="684.0" cy="440.3" r="4.75"/><circle cx="683.8" cy="441.1" r="4.75"/><circle cx="686.2" cy="441.5" r="4.75"/><circle cx="683.8" cy="442.4" r="4.75"/><circle cx="683.7" cy="442.8" r="4.75"/><circle cx="686.1" cy="443.5" r="4.75"/><circle cx="685.9" cy="444.3" r="4.75"/><circle cx="683.7" cy="445.4" r="4.75"/><circle cx="683.9" cy="445.7" r="4.75"/><circle cx="686.3" cy="446.4" r="4.75"/><circle cx="683.7" cy="447.2" r="4.75"/><circle cx="685.7" cy="448.0" r="4.75"/><circle cx="685.9" cy="448.2" r="4.75"/><circle cx="686.2" cy="449.2" r="4.75"/><circle cx="683.9" cy="449.5" r="4.75"/><circle cx="683.9" cy="450.4" r="4.75"/><circle cx="683.9" cy="451.3" r="4.75"/><circle cx="686.2" cy="451.6" r="4.75"/><circle cx="683.9" cy="452.7" r="4.75"/><circle cx="683.7" cy="453.2" r="4.75"/><circle cx="685.9" cy="454.0" r="4.75"/><circle cx="685.8" cy="454.4" r="4.75"/><circle cx="684.1" cy="455.0" r="4.75"/><circle cx="683.8" cy="455.9" r="4.75"/><circle cx="683.9" cy="456.5" r="4.75"/><circle cx="686.3" cy="457.2" r="4.75"/><circle cx="686.0" cy="457.8" r="4.75"/><circle cx="685.7" cy="458.5" r="4.75"/><circle cx="685.9" cy="458.8" r="4.75"/><circle cx="683.8" cy="459.7" r="4.75"/><circle cx="685.9" cy="460.2" r="4.75"/><circle cx="683.8" cy="461.0" r="4.75"/><circle cx="686.1" cy="461.5" r="4.75"/><circle cx="683.7" cy="462.6" r="4.75"/><circle cx="684.1" cy="463.1" r="4.75"/><circle cx="684.1" cy="463.5" r="4.75"/><circle cx="683.8" cy="464.2" r="4.75"/><circle cx="683.9" cy="465.4" r="4.75"/><circle cx="685.9" cy="466.2" r="4.75"/><circle cx="685.7" cy="466.3" r="4.75"/><circle cx="686.2" cy="466.9" r="4.75"/><circle cx="685.8" cy="467.6" r="4.75"/><circle cx="684.2" cy="468.4" r="4.75"/><circle cx="684.2" cy="469.3" r="4.75"/><circle cx="684.2" cy="470.1" r="4.75"/><circle cx="686.3" cy="470.6" r="4.75"/><circle cx="683.9" cy="471.2" r="4.75"/><circle cx="684.0" cy="472.2" r="4.75"/><circle cx="686.1" cy="472.4" r="4.75"/><circle cx="686.3" cy="473.2" r="4.75"/><circle cx="683.8" cy="473.8" r="4.75"/><circle cx="686.1" cy="474.4" r="4.75"/><circle cx="686.0" cy="475.0" r="4.75"/><circle cx="685.8" cy="475.6" r="4.75"/><circle cx="684.2" cy="476.3" r="4.75"/><circle cx="684.3" cy="477.4" r="4.75"/><circle cx="686.0" cy="478.2" r="4.75"/><circle cx="683.7" cy="478.7" r="4.75"/><circle cx="685.9" cy="479.2" r="4.75"/><circle cx="686.0" cy="479.7" r="4.75"/><circle cx="684.1" cy="480.5" r="4.75"/><circle cx="686.3" cy="481.2" r="4.75"/><circle cx="685.8" cy="482.2" r="4.75"/><circle cx="686.0" cy="482.9" r="4.75"/><circle cx="684.1" cy="483.0" r="4.75"/><circle cx="685.9" cy="484.1" r="4.75"/><circle cx="683.9" cy="484.8" r="4.75"/><circle cx="686.0" cy="485.2" r="4.75"/><circle cx="686.0" cy="486.1" r="4.75"/><circle cx="685.7" cy="486.7" r="4.75"/><circle cx="684.0" cy="487.2" r="4.75"/><circle cx="686.2" cy="488.0" r="4.75"/><circle cx="683.9" cy="488.9" r="4.75"/><circle cx="685.9" cy="489.6" r="4.75"/><circle cx="683.8" cy="490.0" r="4.75"/><circle cx="684.3" cy="490.5" r="4.75"/><circle cx="686.3" cy="491.5" r="4.75"/><circle cx="684.1" cy="492.2" r="4.75"/><circle cx="683.7" cy="492.7" r="4.75"/><circle cx="683.9" cy="493.6" r="4.75"/><circle cx="686.0" cy="494.0" r="4.75"/><circle cx="685.8" cy="494.9" r="4.75"/><circle cx="684.0" cy="495.6" r="4.75"/><circle cx="686.0" cy="495.8" r="4.75"/><circle cx="683.8" cy="497.0" r="4.75"/><circle cx="683.9" cy="497.5" r="4.75"/><circle cx="683.8" cy="498.1" r="4.75"/><circle cx="686.2" cy="499.0" r="4.75"/><circle cx="686.1" cy="499.6" r="4.75"/><circle cx="684.2" cy="500.1" r="4.75"/><circle cx="686.2" cy="500.4" r="4.75"/><circle cx="686.0" cy="501.6" r="4.75"/><circle cx="683.7" cy="502.1" r="4.75"/><circle cx="684.0" cy="502.6" r="4.75"/><circle cx="685.9" cy="503.2" r="4.75"/><circle cx="684.1" cy="503.8" r="4.75"/><circle cx="686.2" cy="504.7" r="4.75"/><circle cx="686.3" cy="505.5" r="4.75"/><circle cx="684.2" cy="505.9" r="4.75"/><circle cx="683.9" cy="506.7" r="4.75"/><circle cx="684.3" cy="507.7" r="4.75"/><circle cx="686.0" cy="508.1" r="4.75"/><circle cx="686.0" cy="508.5" r="4.75"/><circle cx="686.2" cy="509.4" r="4.75"/><circle cx="684.3" cy="510.3" r="4.75"/><circle cx="684.2" cy="510.6" r="4.75"/><circle cx="684.1" cy="511.7" r="4.75"/><circle cx="685.8" cy="511.8" r="4.75"/><circle cx="685.8" cy="513.1" r="4.75"/><circle cx="683.9" cy="513.5" r="4.75"/><circle cx="686.1" cy="514.2" r="4.75"/><circle cx="684.0" cy="514.7" r="4.75"/><circle cx="686.0" cy="515.5" r="4.75"/><circle cx="685.8" cy="516.0" r="4.75"/><circle cx="684.2" cy="516.6" r="4.75"/><circle cx="684.2" cy="517.7" r="4.75"/><circle cx="684.2" cy="518.0" r="4.75"/><circle cx="685.8" cy="518.8" r="4.75"/><circle cx="686.0" cy="519.2" r="4.75"/><circle cx="686.1" cy="520.2" r="4.75"/><circle cx="686.3" cy="521.1" r="4.75"/><circle cx="683.8" cy="521.4" r="4.75"/><circle cx="685.9" cy="522.4" r="4.75"/><circle cx="685.7" cy="523.2" r="4.75"/><circle cx="684.1" cy="523.8" r="4.75"/><circle cx="686.3" cy="524.2" r="4.75"/><circle cx="684.2" cy="525.1" r="4.75"/><circle cx="683.8" cy="525.2" r="4.75"/><circle cx="686.1" cy="526.1" r="4.75"/><circle cx="685.8" cy="527.0" r="4.75"/><circle cx="685.9" cy="527.6" r="4.75"/><circle cx="686.0" cy="528.0" r="4.75"/><circle cx="686.2" cy="529.1" r="4.75"/><circle cx="684.2" cy="529.7" r="4.75"/><circle cx="684.0" cy="530.0" r="4.75"/><circle cx="683.8" cy="530.8" r="4.75"/><circle cx="683.9" cy="531.9" r="4.75"/><circle cx="684.2" cy="532.2" r="4.75"/><circle cx="683.7" cy="532.7" r="4.75"/><circle cx="685.9" cy="533.3" r="4.75"/><circle cx="686.3" cy="534.3" r="4.75"/><circle cx="684.0" cy="534.9" r="4.75"/><circle cx="683.9" cy="535.6" r="4.75"/><circle cx="685.7" cy="536.4" r="4.75"/><circle cx="686.3" cy="537.2" r="4.75"/><circle cx="684.0" cy="537.3" r="4.75"/><circle cx="684.3" cy="538.0" r="4.75"/><circle cx="685.7" cy="539.0" r="4.75"/><circle cx="684.3" cy="539.4" r="4.75"/><circle cx="683.7" cy="540.4" r="4.75"/><circle cx="686.2" cy="541.3" r="4.75"/><circle cx="684.2" cy="542.0" r="4.75"/><circle cx="683.8" cy="542.3" r="4.75"/><circle cx="685.8" cy="543.2" r="4.75"/><circle cx="683.9" cy="543.8" r="4.75"/><circle cx="684.1" cy="544.3" r="4.75"/><circle cx="686.0" cy="545.3" r="4.75"/><circle cx="686.2" cy="545.3" r="4.75"/><circle cx="683.9" cy="546.5" r="4.75"/><circle cx="684.3" cy="547.3" r="4.75"/><circle cx="684.1" cy="547.6" r="4.75"/><circle cx="686.3" cy="548.6" r="4.75"/><circle cx="686.1" cy="548.9" r="4.75"/><circle cx="683.7" cy="549.7" r="4.75"/><circle cx="686.1" cy="550.0" r="4.75"/><circle cx="683.8" cy="551.0" r="4.75"/><circle cx="683.8" cy="551.9" r="4.75"/><circle cx="686.2" cy="552.3" r="4.75"/><circle cx="686.3" cy="552.7" r="4.75"/><circle cx="686.0" cy="553.7" r="4.75"/><circle cx="684.2" cy="554.3" r="4.75"/><circle cx="684.0" cy="555.0" r="4.75"/><circle cx="684.1" cy="555.6" r="4.75"/><circle cx="683.9" cy="556.4" r="4.75"/><circle cx="684.0" cy="557.0" r="4.75"/><circle cx="683.8" cy="558.0" r="4.75"/><circle cx="684.0" cy="558.5" r="4.75"/><circle cx="685.9" cy="558.9" r="4.75"/><circle cx="684.2" cy="559.7" r="4.75"/><circle cx="685.9" cy="560.4" r="4.75"/><circle cx="686.2" cy="561.2" r="4.75"/><circle cx="685.9" cy="561.6" r="4.75"/><circle cx="683.8" cy="562.4" r="4.75"/><circle cx="683.9" cy="562.8" r="4.75"/><circle cx="684.0" cy="564.0" r="4.75"/><circle cx="686.3" cy="564.1" r="4.75"/><circle cx="685.8" cy="565.0" r="4.75"/><circle cx="684.2" cy="566.1" r="4.75"/><circle cx="684.1" cy="566.2" r="4.75"/><circle cx="685.9" cy="566.8" r="4.75"/><circle cx="684.2" cy="567.9" r="4.75"/><circle cx="683.9" cy="568.5" r="4.75"/><circle cx="683.7" cy="568.8" r="4.75"/><circle cx="686.3" cy="569.7" r="4.75"/><circle cx="684.2" cy="570.6" r="4.75"/><circle cx="685.9" cy="571.0" r="4.75"/><circle cx="683.8" cy="571.5" r="4.75"/><circle cx="683.7" cy="572.7" r="4.75"/><circle cx="686.2" cy="573.3" r="4.75"/><circle cx="683.8" cy="573.9" r="4.75"/><circle cx="683.8" cy="574.2" r="4.75"/><circle cx="684.1" cy="575.3" r="4.75"/><circle cx="685.8" cy="575.6" r="4.75"/><circle cx="686.0" cy="576.5" r="4.75"/><circle cx="683.8" cy="576.9" r="4.75"/><circle cx="684.0" cy="578.1" r="4.75"/><circle cx="683.8" cy="578.5" r="4.75"/><circle cx="683.9" cy="578.9" r="4.75"/><circle cx="684.2" cy="579.5" r="4.75"/><circle cx="685.8" cy="580.6" r="4.75"/><circle cx="686.1" cy="581.4" r="4.75"/><circle cx="686.1" cy="581.7" r="4.75"/><circle cx="685.8" cy="582.8" r="4.75"/><circle cx="683.8" cy="583.1" r="4.75"/><circle cx="686.1" cy="584.1" r="4.75"/><circle cx="686.0" cy="584.4" r="4.75"/><circle cx="684.3" cy="585.3" r="4.75"/><circle cx="686.0" cy="585.7" r="4.75"/><circle cx="686.2" cy="586.3" r="4.75"/><circle cx="684.1" cy="587.1" r="4.75"/><circle cx="684.3" cy="587.7" r="4.75"/><circle cx="684.1" cy="588.7" r="4.75"/><circle cx="686.1" cy="589.6" r="4.75"/><circle cx="685.7" cy="589.8" r="4.75"/><circle cx="683.9" cy="590.8" r="4.75"/><circle cx="686.2" cy="591.4" r="4.75"/><circle cx="685.8" cy="591.6" r="4.75"/><circle cx="684.0" cy="592.8" r="4.75"/><circle cx="686.0" cy="593.5" r="4.75"/><circle cx="686.1" cy="594.1" r="4.75"/><circle cx="684.3" cy="594.6" r="4.75"/><circle cx="684.2" cy="595.3" r="4.75"/><circle cx="684.0" cy="596.1" r="4.75"/><circle cx="684.3" cy="596.7" r="4.75"/><circle cx="685.8" cy="597.2" r="4.75"/><circle cx="683.9" cy="597.9" r="4.75"/><circle cx="683.7" cy="598.6" r="4.75"/><circle cx="686.2" cy="599.5" r="4.75"/><circle cx="685.9" cy="599.8" r="4.75"/><circle cx="686.1" cy="600.6" r="4.75"/><circle cx="684.1" cy="601.1" r="4.75"/><circle cx="684.2" cy="601.9" r="4.75"/><circle cx="684.2" cy="602.5" r="4.75"/><circle cx="684.1" cy="603.5" r="4.75"/><circle cx="684.0" cy="603.7" r="4.75"/><circle cx="685.8" cy="604.8" r="4.75"/><circle cx="686.0" cy="605.6" r="4.75"/><circle cx="684.2" cy="605.7" r="4.75"/><circle cx="683.8" cy="606.4" r="4.75"/><circle cx="686.2" cy="607.4" r="4.75"/><circle cx="686.2" cy="607.7" r="4.75"/><circle cx="684.1" cy="608.6" r="4.75"/><circle cx="685.9" cy="609.2" r="4.75"/><circle cx="686.2" cy="610.2" r="4.75"/><circle cx="683.8" cy="610.8" r="4.75"/><circle cx="683.9" cy="611.5" r="4.75"/><circle cx="686.1" cy="611.7" r="4.75"/><circle cx="686.2" cy="612.2" r="4.75"/><circle cx="685.9" cy="613.2" r="4.75"/><circle cx="685.9" cy="613.5" r="4.75"/><circle cx="684.1" cy="614.3" r="4.75"/><circle cx="684.3" cy="615.1" r="4.75"/><circle cx="685.7" cy="615.5" r="4.75"/><circle cx="686.3" cy="616.6" r="4.75"/><circle cx="684.2" cy="616.9" r="4.75"/><circle cx="684.1" cy="617.5" r="4.75"/><circle cx="684.2" cy="618.5" r="4.75"/><circle cx="683.8" cy="619.0" r="4.75"/><circle cx="684.1" cy="619.8" r="4.75"/><circle cx="684.1" cy="620.3" r="4.75"/><circle cx="685.7" cy="620.8" r="4.75"/><circle cx="685.8" cy="621.3" r="4.75"/><circle cx="684.1" cy="622.5" r="4.75"/><circle cx="684.2" cy="622.8" r="4.75"/><circle cx="685.8" cy="623.4" r="4.75"/><circle cx="683.9" cy="624.2" r="4.75"/><circle cx="683.7" cy="625.1" r="4.75"/><circle cx="684.1" cy="625.7" r="4.75"/><circle cx="685.9" cy="626.1" r="4.75"/><circle cx="684.0" cy="626.8" r="4.75"/><circle cx="683.8" cy="627.4" r="4.75"/><circle cx="684.0" cy="628.1" r="4.75"/><circle cx="686.2" cy="628.7" r="4.75"/><circle cx="684.1" cy="629.4" r="4.75"/><circle cx="685.9" cy="629.8" r="4.75"/><circle cx="684.0" cy="630.5" r="4.75"/><circle cx="684.1" cy="631.2" r="4.75"/><circle cx="685.8" cy="631.9" r="4.75"/><circle cx="686.0" cy="632.7" r="4.75"/><circle cx="686.1" cy="633.0" r="4.75"/><circle cx="686.0" cy="633.9" r="4.75"/><circle cx="686.2" cy="634.5" r="4.75"/><circle cx="685.8" cy="635.5" r="4.75"/><circle cx="683.7" cy="635.8" r="4.75"/><circle cx="684.1" cy="636.4" r="4.75"/><circle cx="685.8" cy="637.2" r="4.75"/><circle cx="683.9" cy="637.7" r="4.75"/><circle cx="684.2" cy="638.2" r="4.75"/><circle cx="686.2" cy="639.4" r="4.75"/><circle cx="685.8" cy="639.6" r="4.75"/><circle cx="684.0" cy="640.7" r="4.75"/><circle cx="686.2" cy="640.8" r="4.75"/><circle cx="684.1" cy="641.8" r="4.75"/><circle cx="684.1" cy="642.5" r="4.75"/><circle cx="683.8" cy="643.2" r="4.75"/><circle cx="684.2" cy="643.5" r="4.75"/><circle cx="683.8" cy="644.5" r="4.75"/><circle cx="683.9" cy="644.8" r="4.75"/><circle cx="684.1" cy="645.9" r="4.75"/><circle cx="685.8" cy="646.0" r="4.75"/><circle cx="686.2" cy="647.1" r="4.75"/><circle cx="683.7" cy="647.5" r="4.75"/><circle cx="684.0" cy="648.3" r="4.75"/><circle cx="683.9" cy="649.0" r="4.75"/><circle cx="683.8" cy="649.6" r="4.75"/><circle cx="684.1" cy="650.3" r="4.75"/><circle cx="684.2" cy="651.0" r="4.75"/><circle cx="683.8" cy="651.6" r="4.75"/><circle cx="686.1" cy="651.8" r="4.75"/><circle cx="686.2" cy="652.5" r="4.75"/><circle cx="686.3" cy="653.2" r="4.75"/><circle cx="686.2" cy="654.2" r="4.75"/><circle cx="683.8" cy="654.7" r="4.75"/><circle cx="683.9" cy="655.4" r="4.75"/><circle cx="684.2" cy="656.0" r="4.75"/><circle cx="684.2" cy="656.9" r="4.75"/><circle cx="688.8" cy="429.4" r="4.75"/><circle cx="689.2" cy="431.6" r="4.75"/><circle cx="689.3" cy="435.2" r="4.75"/><circle cx="692.1" cy="439.1" r="4.75"/><circle cx="688.7" cy="440.2" r="4.75"/><circle cx="692.1" cy="440.8" r="4.75"/><circle cx="689.2" cy="441.8" r="4.75"/><circle cx="688.8" cy="442.1" r="4.75"/><circle cx="692.3" cy="442.7" r="4.75"/><circle cx="692.1" cy="444.0" r="4.75"/><circle cx="688.9" cy="444.6" r="4.75"/><circle cx="692.0" cy="444.7" r="4.75"/><circle cx="692.1" cy="445.3" r="4.75"/><circle cx="689.2" cy="446.0" r="4.75"/><circle cx="689.1" cy="447.0" r="4.75"/><circle cx="692.0" cy="447.8" r="4.75"/><circle cx="688.8" cy="448.5" r="4.75"/><circle cx="692.3" cy="448.9" r="4.75"/><circle cx="692.0" cy="449.6" r="4.75"/><circle cx="688.7" cy="450.3" r="4.75"/><circle cx="688.8" cy="450.6" r="4.75"/><circle cx="689.3" cy="451.8" r="4.75"/><circle cx="692.0" cy="452.3" r="4.75"/><circle cx="688.8" cy="452.6" r="4.75"/><circle cx="688.8" cy="453.3" r="4.75"/><circle cx="692.2" cy="454.2" r="4.75"/><circle cx="688.7" cy="455.0" r="4.75"/><circle cx="689.2" cy="455.6" r="4.75"/><circle cx="692.3" cy="455.9" r="4.75"/><circle cx="689.1" cy="456.7" r="4.75"/><circle cx="691.9" cy="457.3" r="4.75"/><circle cx="689.0" cy="458.2" r="4.75"/><circle cx="691.8" cy="458.5" r="4.75"/><circle cx="692.2" cy="459.2" r="4.75"/><circle cx="691.7" cy="460.3" r="4.75"/><circle cx="689.1" cy="460.9" r="4.75"/><circle cx="689.3" cy="461.1" r="4.75"/><circle cx="688.7" cy="462.0" r="4.75"/><circle cx="688.8" cy="463.0" r="4.75"/><circle cx="689.3" cy="463.3" r="4.75"/><circle cx="688.7" cy="464.1" r="4.75"/><circle cx="692.2" cy="464.9" r="4.75"/><circle cx="688.7" cy="465.2" r="4.75"/><circle cx="691.8" cy="466.0" r="4.75"/><circle cx="688.9" cy="466.8" r="4.75"/><circle cx="692.3" cy="467.6" r="4.75"/><circle cx="688.8" cy="468.3" r="4.75"/><circle cx="689.3" cy="468.8" r="4.75"/><circle cx="692.0" cy="469.4" r="4.75"/><circle cx="692.0" cy="470.3" r="4.75"/><circle cx="691.8" cy="470.4" r="4.75"/><circle cx="692.1" cy="471.6" r="4.75"/><circle cx="692.1" cy="471.9" r="4.75"/><circle cx="692.0" cy="472.4" r="4.75"/><circle cx="689.0" cy="473.3" r="4.75"/><circle cx="689.3" cy="474.0" r="4.75"/><circle cx="692.2" cy="474.8" r="4.75"/><circle cx="692.1" cy="475.6" r="4.75"/><circle cx="689.1" cy="476.0" r="4.75"/><circle cx="688.8" cy="476.7" r="4.75"/><circle cx="692.1" cy="477.6" r="4.75"/><circle cx="691.7" cy="478.2" r="4.75"/><circle cx="689.1" cy="478.7" r="4.75"/><circle cx="692.3" cy="479.1" r="4.75"/><circle cx="689.0" cy="479.6" r="4.75"/><circle cx="689.1" cy="480.5" r="4.75"/><circle cx="691.9" cy="481.2" r="4.75"/><circle cx="692.1" cy="482.2" r="4.75"/><circle cx="689.2" cy="482.4" r="4.75"/><circle cx="692.3" cy="483.2" r="4.75"/><circle cx="691.8" cy="484.2" r="4.75"/><circle cx="691.8" cy="484.2" r="4.75"/><circle cx="692.0" cy="485.3" r="4.75"/><circle cx="692.0" cy="485.6" r="4.75"/><circle cx="689.0" cy="486.3" r="4.75"/><circle cx="692.3" cy="487.0" r="4.75"/><circle cx="692.2" cy="487.6" r="4.75"/><circle cx="691.7" cy="488.4" r="4.75"/><circle cx="692.1" cy="489.0" r="4.75"/><circle cx="689.1" cy="489.7" r="4.75"/><circle cx="689.2" cy="490.7" r="4.75"/><circle cx="692.0" cy="490.9" r="4.75"/><circle cx="691.8" cy="491.6" r="4.75"/><circle cx="688.8" cy="492.6" r="4.75"/><circle cx="691.7" cy="492.9" r="4.75"/><circle cx="691.8" cy="493.6" r="4.75"/><circle cx="688.9" cy="494.3" r="4.75"/><circle cx="689.0" cy="495.1" r="4.75"/><circle cx="688.7" cy="495.6" r="4.75"/><circle cx="689.1" cy="496.4" r="4.75"/><circle cx="689.2" cy="496.9" r="4.75"/><circle cx="689.0" cy="497.9" r="4.75"/><circle cx="691.9" cy="498.5" r="4.75"/><circle cx="691.7" cy="498.9" r="4.75"/><circle cx="689.1" cy="500.0" r="4.75"/><circle cx="689.1" cy="500.7" r="4.75"/><circle cx="688.8" cy="501.1" r="4.75"/><circle cx="692.0" cy="501.8" r="4.75"/><circle cx="688.9" cy="502.1" r="4.75"/><circle cx="692.1" cy="502.9" r="4.75"/><circle cx="691.9" cy="503.9" r="4.75"/><circle cx="688.9" cy="504.5" r="4.75"/><circle cx="691.9" cy="505.2" r="4.75"/><circle cx="688.8" cy="505.8" r="4.75"/><circle cx="692.2" cy="506.1" r="4.75"/><circle cx="689.1" cy="506.9" r="4.75"/><circle cx="689.0" cy="507.5" r="4.75"/><circle cx="692.1" cy="508.1" r="4.75"/><circle cx="689.0" cy="509.1" r="4.75"/><circle cx="689.2" cy="509.5" r="4.75"/><circle cx="688.9" cy="510.3" r="4.75"/><circle cx="688.8" cy="511.2" r="4.75"/><circle cx="689.0" cy="511.9" r="4.75"/><circle cx="689.3" cy="512.3" r="4.75"/><circle cx="691.7" cy="512.9" r="4.75"/><circle cx="688.9" cy="513.9" r="4.75"/><circle cx="692.0" cy="514.3" r="4.75"/><circle cx="689.1" cy="515.1" r="4.75"/><circle cx="688.8" cy="515.8" r="4.75"/><circle cx="692.3" cy="516.0" r="4.75"/><circle cx="691.7" cy="517.1" r="4.75"/><circle cx="688.9" cy="517.4" r="4.75"/><circle cx="689.1" cy="518.4" r="4.75"/><circle cx="691.9" cy="518.8" r="4.75"/><circle cx="688.9" cy="519.6" r="4.75"/><circle cx="691.9" cy="520.2" r="4.75"/><circle cx="691.9" cy="521.0" r="4.75"/><circle cx="691.8" cy="521.6" r="4.75"/><circle cx="689.1" cy="522.5" r="4.75"/><circle cx="688.9" cy="522.8" r="4.75"/><circle cx="688.9" cy="523.6" r="4.75"/><circle cx="691.9" cy="524.0" r="4.75"/><circle cx="692.3" cy="524.5" r="4.75"/><circle cx="689.0" cy="525.2" r="4.75"/><circle cx="692.1" cy="526.0" r="4.75"/><circle cx="692.1" cy="526.8" r="4.75"/><circle cx="692.0" cy="527.2" r="4.75"/><circle cx="691.9" cy="528.0" r="4.75"/><circle cx="689.0" cy="529.0" r="4.75"/><circle cx="692.2" cy="529.5" r="4.75"/><circle cx="692.1" cy="530.1" r="4.75"/><circle cx="688.8" cy="531.1" r="4.75"/><circle cx="691.7" cy="531.5" r="4.75"/><circle cx="692.0" cy="531.9" r="4.75"/><circle cx="688.9" cy="532.4" r="4.75"/><circle cx="691.8" cy="533.7" r="4.75"/><circle cx="689.0" cy="533.9" r="4.75"/><circle cx="689.1" cy="534.9" r="4.75"/><circle cx="691.9" cy="535.1" r="4.75"/><circle cx="691.8" cy="535.8" r="4.75"/><circle cx="689.0" cy="536.7" r="4.75"/><circle cx="689.0" cy="537.4" r="4.75"/><circle cx="689.2" cy="537.8" r="4.75"/><circle cx="688.8" cy="538.4" r="4.75"/><circle cx="689.2" cy="539.7" r="4.75"/><circle cx="691.7" cy="539.7" r="4.75"/><circle cx="691.9" cy="540.8" r="4.75"/><circle cx="689.3" cy="541.2" r="4.75"/><circle cx="692.1" cy="542.0" r="4.75"/><circle cx="691.9" cy="542.4" r="4.75"/><circle cx="692.1" cy="543.1" r="4.75"/><circle cx="689.3" cy="543.9" r="4.75"/><circle cx="688.9" cy="544.6" r="4.75"/><circle cx="692.2" cy="545.2" r="4.75"/><circle cx="689.3" cy="546.1" r="4.75"/><circle cx="691.8" cy="546.9" r="4.75"/><circle cx="691.9" cy="547.1" r="4.75"/><circle cx="688.9" cy="547.6" r="4.75"/><circle cx="689.1" cy="548.9" r="4.75"/><circle cx="689.1" cy="549.4" r="4.75"/><circle cx="692.2" cy="550.0" r="4.75"/><circle cx="692.2" cy="550.3" r="4.75"/><circle cx="692.0" cy="551.0" r="4.75"/><circle cx="692.1" cy="551.9" r="4.75"/><circle cx="691.9" cy="552.8" r="4.75"/><circle cx="692.1" cy="553.4" r="4.75"/><circle cx="689.2" cy="554.1" r="4.75"/><circle cx="688.9" cy="554.8" r="4.75"/><circle cx="692.2" cy="555.1" r="4.75"/><circle cx="692.3" cy="555.9" r="4.75"/><circle cx="689.3" cy="556.2" r="4.75"/><circle cx="689.2" cy="557.3" r="4.75"/><circle cx="688.8" cy="557.8" r="4.75"/><circle cx="689.1" cy="558.5" r="4.75"/><circle cx="692.0" cy="558.9" r="4.75"/><circle cx="692.2" cy="560.1" r="4.75"/><circle cx="692.1" cy="560.4" r="4.75"/><circle cx="688.8" cy="561.4" r="4.75"/><circle cx="691.9" cy="561.5" r="4.75"/><circle cx="692.2" cy="562.5" r="4.75"/><circle cx="688.9" cy="563.3" r="4.75"/><circle cx="689.0" cy="563.4" r="4.75"/><circle cx="692.0" cy="564.5" r="4.75"/><circle cx="692.1" cy="565.0" r="4.75"/><circle cx="692.2" cy="565.9" r="4.75"/><circle cx="691.8" cy="566.3" r="4.75"/><circle cx="688.8" cy="566.9" r="4.75"/><circle cx="692.3" cy="567.4" r="4.75"/><circle cx="692.2" cy="568.1" r="4.75"/><circle cx="691.8" cy="569.2" r="4.75"/><circle cx="692.1" cy="569.7" r="4.75"/><circle cx="689.2" cy="570.5" r="4.75"/><circle cx="691.8" cy="571.1" r="4.75"/><circle cx="692.1" cy="571.7" r="4.75"/><circle cx="692.3" cy="572.4" r="4.75"/><circle cx="691.8" cy="572.8" r="4.75"/><circle cx="689.0" cy="573.7" r="4.75"/><circle cx="691.7" cy="574.4" r="4.75"/><circle cx="691.9" cy="575.3" r="4.75"/><circle cx="692.1" cy="575.5" r="4.75"/><circle cx="688.9" cy="576.0" r="4.75"/><circle cx="689.0" cy="577.0" r="4.75"/><circle cx="688.9" cy="577.4" r="4.75"/><circle cx="688.9" cy="578.0" r="4.75"/><circle cx="689.0" cy="578.8" r="4.75"/><circle cx="689.1" cy="579.3" r="4.75"/><circle cx="688.9" cy="580.2" r="4.75"/><circle cx="692.1" cy="580.9" r="4.75"/><circle cx="688.9" cy="581.3" r="4.75"/><circle cx="692.3" cy="582.1" r="4.75"/><circle cx="688.9" cy="583.0" r="4.75"/><circle cx="689.2" cy="583.7" r="4.75"/><circle cx="689.2" cy="584.5" r="4.75"/><circle cx="692.1" cy="585.0" r="4.75"/><circle cx="692.3" cy="585.5" r="4.75"/><circle cx="692.2" cy="586.5" r="4.75"/><circle cx="691.9" cy="586.9" r="4.75"/><circle cx="692.2" cy="587.5" r="4.75"/><circle cx="689.1" cy="587.9" r="4.75"/><circle cx="689.0" cy="588.6" r="4.75"/><circle cx="689.1" cy="589.7" r="4.75"/><circle cx="689.1" cy="590.2" r="4.75"/><circle cx="689.0" cy="590.9" r="4.75"/><circle cx="692.3" cy="591.5" r="4.75"/><circle cx="691.9" cy="592.4" r="4.75"/><circle cx="689.1" cy="592.8" r="4.75"/><circle cx="691.8" cy="593.5" r="4.75"/><circle cx="689.2" cy="594.0" r="4.75"/><circle cx="692.0" cy="594.9" r="4.75"/><circle cx="692.2" cy="595.2" r="4.75"/><circle cx="692.0" cy="596.2" r="4.75"/><circle cx="689.3" cy="596.6" r="4.75"/><circle cx="689.0" cy="597.7" r="4.75"/><circle cx="689.3" cy="598.0" r="4.75"/><circle cx="688.8" cy="599.0" r="4.75"/><circle cx="692.2" cy="599.1" r="4.75"/><circle cx="689.2" cy="600.0" r="4.75"/><circle cx="689.0" cy="600.6" r="4.75"/><circle cx="689.2" cy="601.6" r="4.75"/><circle cx="689.0" cy="601.9" r="4.75"/><circle cx="688.8" cy="602.7" r="4.75"/><circle cx="688.8" cy="603.1" r="4.75"/><circle cx="689.1" cy="603.8" r="4.75"/><circle cx="688.7" cy="604.8" r="4.75"/><circle cx="691.8" cy="605.8" r="4.75"/><circle cx="689.2" cy="605.9" r="4.75"/><circle cx="692.0" cy="607.6" r="4.75"/><circle cx="689.2" cy="608.0" r="4.75"/><circle cx="691.8" cy="609.1" r="4.75"/><circle cx="689.2" cy="609.4" r="4.75"/><circle cx="692.2" cy="611.0" r="4.75"/><circle cx="692.1" cy="611.2" r="4.75"/><circle cx="688.8" cy="612.7" r="4.75"/><circle cx="692.3" cy="613.5" r="4.75"/><circle cx="689.2" cy="614.5" r="4.75"/><circle cx="691.7" cy="615.3" r="4.75"/><circle cx="688.9" cy="615.8" r="4.75"/><circle cx="688.9" cy="616.5" r="4.75"/><circle cx="688.9" cy="617.6" r="4.75"/><circle cx="689.1" cy="618.3" r="4.75"/><circle cx="689.1" cy="619.2" r="4.75"/><circle cx="689.0" cy="620.0" r="4.75"/><circle cx="692.1" cy="621.4" r="4.75"/><circle cx="691.7" cy="622.0" r="4.75"/><circle cx="688.9" cy="623.0" r="4.75"/><circle cx="691.8" cy="623.9" r="4.75"/><circle cx="692.3" cy="624.3" r="4.75"/><circle cx="692.0" cy="625.7" r="4.75"/><circle cx="692.1" cy="625.9" r="4.75"/><circle cx="692.2" cy="626.7" r="4.75"/><circle cx="688.9" cy="627.7" r="4.75"/><circle cx="688.9" cy="628.7" r="4.75"/><circle cx="689.3" cy="629.6" r="4.75"/><circle cx="691.7" cy="630.8" r="4.75"/><circle cx="692.2" cy="631.8" r="4.75"/><circle cx="689.3" cy="632.1" r="4.75"/><circle cx="689.1" cy="633.0" r="4.75"/><circle cx="689.1" cy="634.3" r="4.75"/><circle cx="689.0" cy="635.2" r="4.75"/><circle cx="688.9" cy="635.9" r="4.75"/><circle cx="688.9" cy="636.9" r="4.75"/><circle cx="691.9" cy="637.9" r="4.75"/><circle cx="692.3" cy="638.4" r="4.75"/><circle cx="692.0" cy="639.1" r="4.75"/><circle cx="689.1" cy="640.5" r="4.75"/><circle cx="689.3" cy="641.0" r="4.75"/><circle cx="691.8" cy="641.4" r="4.75"/><circle cx="691.8" cy="642.8" r="4.75"/><circle cx="692.2" cy="643.1" r="4.75"/><circle cx="692.0" cy="644.6" r="4.75"/><circle cx="689.0" cy="645.0" r="4.75"/><circle cx="689.1" cy="646.4" r="4.75"/><circle cx="692.1" cy="646.9" r="4.75"/><circle cx="692.0" cy="647.6" r="4.75"/><circle cx="692.1" cy="649.0" r="4.75"/><circle cx="691.9" cy="649.3" r="4.75"/><circle cx="688.8" cy="650.2" r="4.75"/><circle cx="689.0" cy="651.3" r="4.75"/><circle cx="692.1" cy="652.3" r="4.75"/><circle cx="688.8" cy="652.9" r="4.75"/><circle cx="688.8" cy="654.0" r="4.75"/><circle cx="692.1" cy="654.9" r="4.75"/><circle cx="691.9" cy="655.4" r="4.75"/><circle cx="689.2" cy="656.9" r="4.75"/><circle cx="695.1" cy="401.2" r="4.75"/><circle cx="704.3" cy="401.9" r="4.75"/><circle cx="704.1" cy="402.8" r="4.75"/><circle cx="703.7" cy="403.0" r="4.75"/><circle cx="704.2" cy="403.4" r="4.75"/><circle cx="700.8" cy="404.1" r="4.75"/><circle cx="701.0" cy="404.8" r="4.75"/><circle cx="698.2" cy="405.7" r="4.75"/><circle cx="695.1" cy="406.4" r="4.75"/><circle cx="703.8" cy="406.8" r="4.75"/><circle cx="695.1" cy="407.5" r="4.75"/><circle cx="700.9" cy="408.1" r="4.75"/><circle cx="700.8" cy="408.5" r="4.75"/><circle cx="701.0" cy="409.0" r="4.75"/><circle cx="701.1" cy="409.6" r="4.75"/><circle cx="704.2" cy="410.1" r="4.75"/><circle cx="697.9" cy="410.5" r="4.75"/><circle cx="694.9" cy="410.9" r="4.75"/><circle cx="695.0" cy="411.3" r="4.75"/><circle cx="695.2" cy="411.8" r="4.75"/><circle cx="704.2" cy="412.0" r="4.75"/><circle cx="704.2" cy="412.4" r="4.75"/><circle cx="698.1" cy="412.8" r="4.75"/><circle cx="698.1" cy="413.2" r="4.75"/><circle cx="701.1" cy="413.3" r="4.75"/><circle cx="695.3" cy="413.9" r="4.75"/><circle cx="700.9" cy="414.3" r="4.75"/><circle cx="701.2" cy="414.5" r="4.75"/><circle cx="697.8" cy="414.9" r="4.75"/><circle cx="698.3" cy="415.2" r="4.75"/><circle cx="694.7" cy="415.5" r="4.75"/><circle cx="703.9" cy="416.0" r="4.75"/><circle cx="695.0" cy="416.4" r="4.75"/><circle cx="698.0" cy="416.8" r="4.75"/><circle cx="695.1" cy="417.0" r="4.75"/><circle cx="704.2" cy="417.4" r="4.75"/><circle cx="697.9" cy="417.9" r="4.75"/><circle cx="703.9" cy="418.3" r="4.75"/><circle cx="700.8" cy="418.4" r="4.75"/><circle cx="695.1" cy="419.0" r="4.75"/><circle cx="704.1" cy="419.2" r="4.75"/><circle cx="704.0" cy="419.7" r="4.75"/><circle cx="695.3" cy="420.0" r="4.75"/><circle cx="700.8" cy="420.2" r="4.75"/><circle cx="703.7" cy="420.8" r="4.75"/><circle cx="698.0" cy="421.1" r="4.75"/><circle cx="694.8" cy="421.4" r="4.75"/><circle cx="698.2" cy="421.8" r="4.75"/><circle cx="701.0" cy="422.2" r="4.75"/><circle cx="697.9" cy="422.4" r="4.75"/><circle cx="698.2" cy="422.8" r="4.75"/><circle cx="697.7" cy="423.1" r="4.75"/><circle cx="694.8" cy="423.5" r="4.75"/><circle cx="694.9" cy="423.9" r="4.75"/><circle cx="697.7" cy="424.2" r="4.75"/><circle cx="695.2" cy="424.8" r="4.75"/><circle cx="697.9" cy="425.2" r="4.75"/><circle cx="701.2" cy="425.4" r="4.75"/><circle cx="695.2" cy="425.7" r="4.75"/><circle cx="700.9" cy="426.1" r="4.75"/><circle cx="698.2" cy="426.4" r="4.75"/><circle cx="701.1" cy="426.7" r="4.75"/><circle cx="704.0" cy="427.3" r="4.75"/><circle cx="701.0" cy="427.5" r="4.75"/><circle cx="703.8" cy="427.7" r="4.75"/><circle cx="704.1" cy="428.2" r="4.75"/><circle cx="704.1" cy="428.8" r="4.75"/><circle cx="697.9" cy="428.9" r="4.75"/><circle cx="704.0" cy="429.4" r="4.75"/><circle cx="697.7" cy="429.8" r="4.75"/><circle cx="701.2" cy="430.0" r="4.75"/><circle cx="694.9" cy="430.5" r="4.75"/><circle cx="703.7" cy="430.8" r="4.75"/><circle cx="697.8" cy="431.3" r="4.75"/><circle cx="704.1" cy="431.7" r="4.75"/><circle cx="703.8" cy="432.0" r="4.75"/><circle cx="694.7" cy="432.3" r="4.75"/><circle cx="697.7" cy="432.6" r="4.75"/><circle cx="704.2" cy="432.8" r="4.75"/><circle cx="695.0" cy="433.3" r="4.75"/><circle cx="701.0" cy="433.7" r="4.75"/><circle cx="704.2" cy="433.9" r="4.75"/><circle cx="703.9" cy="434.5" r="4.75"/><circle cx="698.2" cy="434.7" r="4.75"/><circle cx="704.1" cy="435.1" r="4.75"/><circle cx="698.1" cy="435.3" r="4.75"/><circle cx="704.1" cy="435.7" r="4.75"/><circle cx="695.0" cy="436.1" r="4.75"/><circle cx="703.9" cy="436.5" r="4.75"/><circle cx="703.9" cy="436.9" r="4.75"/><circle cx="701.0" cy="437.3" r="4.75"/><circle cx="698.0" cy="437.7" r="4.75"/><circle cx="701.0" cy="438.0" r="4.75"/><circle cx="703.9" cy="438.3" r="4.75"/><circle cx="698.2" cy="438.8" r="4.75"/><circle cx="697.8" cy="439.1" r="4.75"/><circle cx="694.9" cy="439.6" r="4.75"/><circle cx="700.9" cy="439.9" r="4.75"/><circle cx="695.2" cy="440.2" r="4.75"/><circle cx="703.9" cy="440.6" r="4.75"/><circle cx="704.1" cy="440.7" r="4.75"/><circle cx="700.7" cy="441.2" r="4.75"/><circle cx="701.1" cy="441.8" r="4.75"/><circle cx="697.7" cy="442.0" r="4.75"/><circle cx="701.0" cy="442.3" r="4.75"/><circle cx="701.1" cy="442.8" r="4.75"/><circle cx="703.7" cy="443.2" r="4.75"/><circle cx="704.2" cy="443.3" r="4.75"/><circle cx="703.9" cy="443.8" r="4.75"/><circle cx="695.0" cy="444.3" r="4.75"/><circle cx="703.9" cy="444.6" r="4.75"/><circle cx="698.1" cy="444.9" r="4.75"/><circle cx="698.3" cy="445.2" r="4.75"/><circle cx="701.1" cy="445.5" r="4.75"/><circle cx="697.8" cy="445.9" r="4.75"/><circle cx="700.9" cy="446.2" r="4.75"/><circle cx="698.2" cy="446.8" r="4.75"/><circle cx="695.2" cy="446.9" r="4.75"/><circle cx="703.8" cy="447.5" r="4.75"/><circle cx="694.9" cy="447.6" r="4.75"/><circle cx="704.1" cy="448.1" r="4.75"/><circle cx="695.2" cy="448.7" r="4.75"/><circle cx="694.8" cy="448.9" r="4.75"/><circle cx="703.8" cy="449.2" r="4.75"/><circle cx="703.9" cy="449.6" r="4.75"/><circle cx="697.8" cy="449.8" r="4.75"/><circle cx="701.1" cy="450.3" r="4.75"/><circle cx="695.1" cy="450.5" r="4.75"/><circle cx="698.2" cy="451.2" r="4.75"/><circle cx="698.1" cy="451.4" r="4.75"/><circle cx="704.2" cy="451.8" r="4.75"/><circle cx="695.0" cy="452.2" r="4.75"/><circle cx="698.1" cy="452.6" r="4.75"/><circle cx="697.8" cy="452.8" r="4.75"/><circle cx="703.8" cy="453.1" r="4.75"/><circle cx="698.1" cy="453.5" r="4.75"/><circle cx="694.8" cy="454.0" r="4.75"/><circle cx="694.8" cy="454.1" r="4.75"/><circle cx="704.3" cy="454.6" r="4.75"/><circle cx="697.9" cy="455.1" r="4.75"/><circle cx="695.0" cy="455.2" r="4.75"/><circle cx="703.7" cy="455.9" r="4.75"/><circle cx="701.3" cy="456.2" r="4.75"/><circle cx="698.1" cy="456.4" r="4.75"/><circle cx="704.3" cy="456.7" r="4.75"/><circle cx="704.3" cy="457.1" r="4.75"/><circle cx="701.0" cy="457.4" r="4.75"/><circle cx="701.1" cy="457.9" r="4.75"/><circle cx="703.9" cy="458.2" r="4.75"/><circle cx="701.2" cy="458.8" r="4.75"/><circle cx="700.8" cy="459.1" r="4.75"/><circle cx="704.0" cy="459.2" r="4.75"/><circle cx="698.1" cy="459.9" r="4.75"/><circle cx="703.8" cy="460.0" r="4.75"/><circle cx="704.2" cy="460.6" r="4.75"/><circle cx="698.3" cy="460.7" r="4.75"/><circle cx="695.1" cy="461.1" r="4.75"/><circle cx="698.2" cy="461.4" r="4.75"/><circle cx="704.2" cy="461.9" r="4.75"/><circle cx="704.3" cy="462.1" r="4.75"/><circle cx="695.1" cy="462.5" r="4.75"/><circle cx="701.0" cy="462.9" r="4.75"/><circle cx="704.1" cy="463.4" r="4.75"/><circle cx="703.8" cy="463.7" r="4.75"/><circle cx="703.9" cy="464.0" r="4.75"/><circle cx="704.0" cy="464.2" r="4.75"/><circle cx="694.7" cy="464.8" r="4.75"/><circle cx="695.1" cy="465.0" r="4.75"/><circle cx="704.3" cy="465.5" r="4.75"/><circle cx="704.0" cy="466.0" r="4.75"/><circle cx="701.2" cy="466.2" r="4.75"/><circle cx="695.1" cy="466.6" r="4.75"/><circle cx="704.3" cy="466.9" r="4.75"/><circle cx="704.3" cy="467.2" r="4.75"/><circle cx="695.1" cy="467.8" r="4.75"/><circle cx="698.2" cy="468.1" r="4.75"/><circle cx="700.9" cy="468.3" r="4.75"/><circle cx="694.7" cy="468.8" r="4.75"/><circle cx="697.9" cy="469.0" r="4.75"/><circle cx="698.1" cy="469.6" r="4.75"/><circle cx="694.8" cy="469.7" r="4.75"/><circle cx="700.9" cy="470.3" r="4.75"/><circle cx="701.1" cy="470.7" r="4.75"/><circle cx="704.1" cy="470.8" r="4.75"/><circle cx="698.2" cy="471.3" r="4.75"/><circle cx="695.3" cy="471.5" r="4.75"/><circle cx="703.8" cy="472.0" r="4.75"/><circle cx="703.8" cy="472.4" r="4.75"/><circle cx="698.1" cy="472.9" r="4.75"/><circle cx="701.0" cy="473.2" r="4.75"/><circle cx="701.0" cy="473.6" r="4.75"/><circle cx="698.0" cy="473.8" r="4.75"/><circle cx="697.7" cy="474.0" r="4.75"/><circle cx="704.1" cy="474.6" r="4.75"/><circle cx="703.9" cy="474.9" r="4.75"/><circle cx="697.8" cy="475.2" r="4.75"/><circle cx="700.9" cy="475.5" r="4.75"/><circle cx="703.9" cy="475.9" r="4.75"/><circle cx="697.7" cy="476.4" r="4.75"/><circle cx="701.2" cy="476.8" r="4.75"/><circle cx="697.8" cy="477.2" r="4.75"/><circle cx="704.1" cy="477.3" r="4.75"/><circle cx="700.8" cy="477.8" r="4.75"/><circle cx="704.0" cy="478.0" r="4.75"/><circle cx="697.8" cy="478.4" r="4.75"/><circle cx="704.3" cy="479.0" r="4.75"/><circle cx="697.9" cy="479.1" r="4.75"/><circle cx="695.0" cy="479.6" r="4.75"/><circle cx="700.9" cy="479.9" r="4.75"/><circle cx="704.0" cy="480.2" r="4.75"/><circle cx="697.9" cy="480.6" r="4.75"/><circle cx="704.2" cy="481.0" r="4.75"/><circle cx="704.0" cy="481.2" r="4.75"/><circle cx="694.8" cy="481.7" r="4.75"/><circle cx="697.9" cy="482.2" r="4.75"/><circle cx="698.2" cy="482.6" r="4.75"/><circle cx="700.9" cy="482.7" r="4.75"/><circle cx="694.8" cy="483.2" r="4.75"/><circle cx="700.8" cy="483.5" r="4.75"/><circle cx="701.0" cy="484.0" r="4.75"/><circle cx="701.1" cy="484.2" r="4.75"/><circle cx="703.9" cy="484.5" r="4.75"/><circle cx="704.3" cy="484.9" r="4.75"/><circle cx="698.3" cy="485.3" r="4.75"/><circle cx="694.9" cy="485.9" r="4.75"/><circle cx="695.3" cy="486.1" r="4.75"/><circle cx="698.1" cy="486.4" r="4.75"/><circle cx="701.2" cy="486.8" r="4.75"/><circle cx="703.8" cy="487.2" r="4.75"/><circle cx="704.2" cy="487.7" r="4.75"/><circle cx="704.2" cy="487.9" r="4.75"/><circle cx="695.1" cy="488.3" r="4.75"/><circle cx="700.9" cy="488.7" r="4.75"/><circle cx="704.1" cy="488.8" r="4.75"/><circle cx="698.0" cy="489.3" r="4.75"/><circle cx="698.1" cy="489.7" r="4.75"/><circle cx="700.8" cy="490.0" r="4.75"/><circle cx="698.2" cy="490.4" r="4.75"/><circle cx="703.8" cy="490.8" r="4.75"/><circle cx="704.1" cy="491.2" r="4.75"/><circle cx="698.1" cy="491.7" r="4.75"/><circle cx="701.1" cy="491.8" r="4.75"/><circle cx="700.9" cy="492.3" r="4.75"/><circle cx="700.9" cy="492.7" r="4.75"/><circle cx="701.0" cy="493.1" r="4.75"/><circle cx="704.1" cy="493.2" r="4.75"/><circle cx="701.1" cy="493.8" r="4.75"/><circle cx="701.1" cy="493.9" r="4.75"/><circle cx="694.8" cy="494.3" r="4.75"/><circle cx="701.2" cy="494.7" r="4.75"/><circle cx="698.1" cy="495.0" r="4.75"/><circle cx="694.9" cy="495.5" r="4.75"/><circle cx="695.2" cy="496.0" r="4.75"/><circle cx="704.1" cy="496.0" r="4.75"/><circle cx="700.8" cy="496.7" r="4.75"/><circle cx="694.9" cy="497.0" r="4.75"/><circle cx="698.3" cy="497.4" r="4.75"/><circle cx="701.3" cy="497.7" r="4.75"/><circle cx="703.9" cy="498.0" r="4.75"/><circle cx="700.9" cy="498.3" r="4.75"/><circle cx="695.0" cy="498.9" r="4.75"/><circle cx="695.0" cy="499.0" r="4.75"/><circle cx="704.3" cy="499.5" r="4.75"/><circle cx="701.0" cy="500.0" r="4.75"/><circle cx="701.1" cy="500.3" r="4.75"/><circle cx="700.9" cy="500.5" r="4.75"/><circle cx="697.8" cy="500.8" r="4.75"/><circle cx="703.9" cy="501.4" r="4.75"/><circle cx="701.0" cy="501.5" r="4.75"/><circle cx="694.8" cy="502.1" r="4.75"/><circle cx="698.0" cy="502.3" r="4.75"/><circle cx="703.8" cy="502.8" r="4.75"/><circle cx="698.2" cy="503.2" r="4.75"/><circle cx="703.9" cy="503.6" r="4.75"/><circle cx="704.2" cy="503.8" r="4.75"/><circle cx="697.9" cy="504.0" r="4.75"/><circle cx="698.3" cy="504.7" r="4.75"/><circle cx="695.3" cy="504.8" r="4.75"/><circle cx="695.2" cy="505.4" r="4.75"/><circle cx="700.9" cy="505.5" r="4.75"/><circle cx="698.3" cy="506.0" r="4.75"/><circle cx="701.2" cy="506.4" r="4.75"/><circle cx="701.1" cy="506.6" r="4.75"/><circle cx="703.7" cy="507.1" r="4.75"/><circle cx="700.8" cy="507.4" r="4.75"/><circle cx="694.8" cy="507.7" r="4.75"/><circle cx="700.7" cy="508.1" r="4.75"/><circle cx="704.0" cy="508.5" r="4.75"/><circle cx="703.7" cy="508.9" r="4.75"/><circle cx="700.8" cy="509.2" r="4.75"/><circle cx="697.8" cy="509.7" r="4.75"/><circle cx="695.0" cy="509.9" r="4.75"/><circle cx="694.8" cy="510.2" r="4.75"/><circle cx="701.1" cy="510.7" r="4.75"/><circle cx="701.1" cy="511.0" r="4.75"/><circle cx="700.8" cy="511.3" r="4.75"/><circle cx="697.9" cy="511.7" r="4.75"/><circle cx="703.8" cy="512.2" r="4.75"/><circle cx="703.7" cy="512.4" r="4.75"/><circle cx="703.9" cy="512.8" r="4.75"/><circle cx="698.3" cy="513.3" r="4.75"/><circle cx="694.8" cy="513.5" r="4.75"/><circle cx="701.1" cy="513.9" r="4.75"/><circle cx="697.8" cy="514.2" r="4.75"/><circle cx="703.9" cy="514.6" r="4.75"/><circle cx="695.1" cy="514.9" r="4.75"/><circle cx="695.2" cy="515.5" r="4.75"/><circle cx="694.9" cy="515.8" r="4.75"/><circle cx="701.1" cy="515.9" r="4.75"/><circle cx="703.8" cy="516.5" r="4.75"/><circle cx="701.0" cy="516.7" r="4.75"/><circle cx="695.1" cy="517.4" r="4.75"/><circle cx="704.3" cy="517.6" r="4.75"/><circle cx="698.3" cy="518.0" r="4.75"/><circle cx="704.1" cy="518.2" r="4.75"/><circle cx="698.0" cy="518.8" r="4.75"/><circle cx="698.1" cy="518.9" r="4.75"/><circle cx="698.0" cy="519.5" r="4.75"/><circle cx="704.0" cy="519.6" r="4.75"/><circle cx="698.2" cy="519.9" r="4.75"/><circle cx="698.0" cy="520.3" r="4.75"/><circle cx="703.7" cy="520.9" r="4.75"/><circle cx="694.8" cy="521.0" r="4.75"/><circle cx="701.1" cy="521.6" r="4.75"/><circle cx="700.9" cy="521.9" r="4.75"/><circle cx="703.9" cy="522.3" r="4.75"/><circle cx="698.1" cy="522.6" r="4.75"/><circle cx="703.8" cy="523.1" r="4.75"/><circle cx="697.7" cy="523.3" r="4.75"/><circle cx="697.8" cy="523.6" r="4.75"/><circle cx="704.2" cy="524.0" r="4.75"/><circle cx="695.3" cy="524.4" r="4.75"/><circle cx="700.8" cy="524.8" r="4.75"/><circle cx="694.8" cy="525.0" r="4.75"/><circle cx="704.1" cy="525.4" r="4.75"/><circle cx="698.2" cy="525.8" r="4.75"/><circle cx="700.9" cy="526.3" r="4.75"/><circle cx="697.7" cy="526.7" r="4.75"/><circle cx="695.3" cy="526.8" r="4.75"/><circle cx="697.9" cy="527.3" r="4.75"/><circle cx="704.3" cy="527.6" r="4.75"/><circle cx="704.0" cy="528.2" r="4.75"/><circle cx="703.8" cy="528.4" r="4.75"/><circle cx="701.0" cy="528.7" r="4.75"/><circle cx="697.8" cy="529.3" r="4.75"/><circle cx="694.8" cy="529.6" r="4.75"/><circle cx="701.0" cy="530.0" r="4.75"/><circle cx="704.0" cy="530.3" r="4.75"/><circle cx="700.8" cy="530.6" r="4.75"/><circle cx="701.2" cy="530.9" r="4.75"/><circle cx="697.8" cy="531.2" r="4.75"/><circle cx="695.3" cy="531.8" r="4.75"/><circle cx="697.8" cy="532.1" r="4.75"/><circle cx="695.2" cy="532.5" r="4.75"/><circle cx="704.1" cy="532.6" r="4.75"/><circle cx="697.9" cy="533.2" r="4.75"/><circle cx="703.9" cy="533.5" r="4.75"/><circle cx="700.8" cy="533.7" r="4.75"/><circle cx="704.2" cy="534.0" r="4.75"/><circle cx="698.2" cy="534.5" r="4.75"/><circle cx="698.3" cy="535.0" r="4.75"/><circle cx="704.3" cy="535.1" r="4.75"/><circle cx="695.2" cy="535.7" r="4.75"/><circle cx="700.9" cy="536.1" r="4.75"/><circle cx="701.1" cy="536.3" r="4.75"/><circle cx="700.9" cy="536.8" r="4.75"/><circle cx="698.2" cy="537.2" r="4.75"/><circle cx="695.2" cy="537.5" r="4.75"/><circle cx="704.1" cy="537.8" r="4.75"/><circle cx="700.8" cy="538.2" r="4.75"/><circle cx="695.3" cy="538.6" r="4.75"/><circle cx="703.9" cy="539.0" r="4.75"/><circle cx="698.3" cy="539.3" r="4.75"/><circle cx="704.1" cy="539.7" r="4.75"/><circle cx="701.0" cy="540.1" r="4.75"/><circle cx="695.0" cy="540.3" r="4.75"/><circle cx="694.9" cy="540.9" r="4.75"/><circle cx="704.1" cy="541.1" r="4.75"/><circle cx="703.9" cy="541.3" r="4.75"/><circle cx="694.9" cy="541.9" r="4.75"/><circle cx="697.8" cy="542.2" r="4.75"/><circle cx="704.1" cy="542.6" r="4.75"/><circle cx="704.2" cy="543.0" r="4.75"/><circle cx="704.1" cy="543.3" r="4.75"/><circle cx="704.0" cy="543.5" r="4.75"/><circle cx="701.1" cy="543.9" r="4.75"/><circle cx="695.1" cy="544.2" r="4.75"/><circle cx="701.3" cy="544.7" r="4.75"/><circle cx="704.1" cy="545.0" r="4.75"/><circle cx="701.0" cy="545.4" r="4.75"/><circle cx="698.1" cy="545.7" r="4.75"/><circle cx="698.1" cy="546.1" r="4.75"/><circle cx="703.8" cy="546.3" r="4.75"/><circle cx="700.9" cy="546.9" r="4.75"/><circle cx="703.9" cy="547.1" r="4.75"/><circle cx="703.8" cy="547.6" r="4.75"/><circle cx="698.1" cy="548.0" r="4.75"/><circle cx="703.9" cy="548.3" r="4.75"/><circle cx="701.1" cy="548.7" r="4.75"/><circle cx="704.0" cy="549.2" r="4.75"/><circle cx="703.8" cy="549.4" r="4.75"/><circle cx="701.0" cy="549.7" r="4.75"/><circle cx="704.0" cy="549.9" r="4.75"/><circle cx="697.8" cy="550.5" r="4.75"/><circle cx="703.9" cy="550.9" r="4.75"/><circle cx="697.8" cy="551.2" r="4.75"/><circle cx="694.9" cy="551.6" r="4.75"/><circle cx="703.7" cy="551.9" r="4.75"/><circle cx="701.3" cy="552.3" r="4.75"/><circle cx="700.9" cy="552.8" r="4.75"/><circle cx="694.8" cy="552.9" r="4.75"/><circle cx="697.9" cy="553.4" r="4.75"/><circle cx="694.8" cy="553.6" r="4.75"/><circle cx="698.0" cy="554.0" r="4.75"/><circle cx="697.8" cy="554.6" r="4.75"/><circle cx="695.0" cy="554.7" r="4.75"/><circle cx="697.9" cy="555.1" r="4.75"/><circle cx="697.9" cy="555.5" r="4.75"/><circle cx="695.2" cy="555.8" r="4.75"/><circle cx="698.3" cy="556.3" r="4.75"/><circle cx="703.9" cy="556.6" r="4.75"/><circle cx="694.7" cy="557.1" r="4.75"/><circle cx="698.0" cy="557.4" r="4.75"/><circle cx="695.2" cy="557.9" r="4.75"/><circle cx="700.9" cy="558.2" r="4.75"/><circle cx="697.8" cy="558.4" r="4.75"/><circle cx="704.1" cy="558.8" r="4.75"/><circle cx="704.2" cy="559.3" r="4.75"/><circle cx="698.0" cy="559.4" r="4.75"/><circle cx="703.7" cy="560.0" r="4.75"/><circle cx="700.8" cy="560.1" r="4.75"/><circle cx="703.9" cy="560.5" r="4.75"/><circle cx="695.1" cy="561.0" r="4.75"/><circle cx="703.8" cy="561.4" r="4.75"/><circle cx="697.9" cy="561.5" r="4.75"/><circle cx="697.7" cy="561.9" r="4.75"/><circle cx="701.1" cy="562.3" r="4.75"/><circle cx="700.9" cy="562.7" r="4.75"/><circle cx="695.2" cy="563.1" r="4.75"/><circle cx="697.9" cy="563.6" r="4.75"/><circle cx="703.7" cy="563.7" r="4.75"/><circle cx="698.2" cy="564.3" r="4.75"/><circle cx="695.0" cy="564.7" r="4.75"/><circle cx="701.0" cy="564.9" r="4.75"/><circle cx="704.3" cy="565.4" r="4.75"/><circle cx="703.9" cy="565.5" r="4.75"/><circle cx="701.1" cy="566.0" r="4.75"/><circle cx="700.8" cy="566.2" r="4.75"/><circle cx="694.8" cy="566.8" r="4.75"/><circle cx="704.3" cy="567.0" r="4.75"/><circle cx="697.9" cy="567.3" r="4.75"/><circle cx="704.1" cy="567.9" r="4.75"/><circle cx="701.2" cy="568.0" r="4.75"/><circle cx="697.8" cy="568.6" r="4.75"/><circle cx="694.7" cy="568.8" r="4.75"/><circle cx="694.9" cy="569.1" r="4.75"/><circle cx="695.1" cy="569.5" r="4.75"/><circle cx="701.2" cy="570.1" r="4.75"/><circle cx="703.8" cy="570.2" r="4.75"/><circle cx="704.1" cy="570.7" r="4.75"/><circle cx="700.8" cy="571.1" r="4.75"/><circle cx="704.2" cy="571.5" r="4.75"/><circle cx="698.0" cy="571.6" r="4.75"/><circle cx="701.2" cy="572.1" r="4.75"/><circle cx="698.2" cy="572.4" r="4.75"/><circle cx="697.9" cy="572.7" r="4.75"/><circle cx="700.9" cy="573.3" r="4.75"/><circle cx="697.8" cy="573.7" r="4.75"/><circle cx="703.8" cy="574.0" r="4.75"/><circle cx="697.8" cy="574.3" r="4.75"/><circle cx="700.9" cy="574.6" r="4.75"/><circle cx="697.8" cy="575.0" r="4.75"/><circle cx="703.8" cy="575.3" r="4.75"/><circle cx="694.8" cy="575.8" r="4.75"/><circle cx="698.1" cy="576.0" r="4.75"/><circle cx="698.3" cy="576.5" r="4.75"/><circle cx="695.3" cy="576.8" r="4.75"/><circle cx="698.3" cy="577.1" r="4.75"/><circle cx="697.9" cy="577.7" r="4.75"/><circle cx="704.0" cy="577.9" r="4.75"/><circle cx="697.8" cy="578.4" r="4.75"/><circle cx="694.9" cy="578.6" r="4.75"/><circle cx="701.2" cy="579.0" r="4.75"/><circle cx="698.0" cy="579.4" r="4.75"/><circle cx="704.0" cy="579.6" r="4.75"/><circle cx="697.8" cy="580.1" r="4.75"/><circle cx="704.3" cy="580.6" r="4.75"/><circle cx="698.1" cy="580.9" r="4.75"/><circle cx="695.3" cy="581.1" r="4.75"/><circle cx="700.8" cy="581.6" r="4.75"/><circle cx="703.7" cy="581.8" r="4.75"/><circle cx="704.0" cy="582.4" r="4.75"/><circle cx="697.9" cy="582.6" r="4.75"/><circle cx="694.9" cy="583.0" r="4.75"/><circle cx="697.8" cy="583.4" r="4.75"/><circle cx="704.1" cy="583.7" r="4.75"/><circle cx="703.7" cy="583.9" r="4.75"/><circle cx="694.9" cy="584.3" r="4.75"/><circle cx="700.9" cy="584.8" r="4.75"/><circle cx="697.8" cy="585.0" r="4.75"/><circle cx="703.8" cy="585.6" r="4.75"/><circle cx="695.2" cy="585.7" r="4.75"/><circle cx="694.8" cy="586.3" r="4.75"/><circle cx="703.9" cy="586.7" r="4.75"/><circle cx="700.8" cy="587.1" r="4.75"/><circle cx="701.0" cy="587.2" r="4.75"/><circle cx="698.1" cy="587.7" r="4.75"/><circle cx="695.1" cy="588.2" r="4.75"/><circle cx="697.8" cy="588.5" r="4.75"/><circle cx="701.3" cy="588.8" r="4.75"/><circle cx="695.0" cy="589.0" r="4.75"/><circle cx="704.2" cy="589.5" r="4.75"/><circle cx="698.1" cy="590.0" r="4.75"/><circle cx="695.1" cy="590.1" r="4.75"/><circle cx="695.1" cy="590.7" r="4.75"/><circle cx="695.2" cy="591.0" r="4.75"/><circle cx="703.7" cy="591.2" r="4.75"/><circle cx="698.2" cy="591.8" r="4.75"/><circle cx="697.7" cy="592.1" r="4.75"/><circle cx="704.1" cy="592.4" r="4.75"/><circle cx="694.9" cy="592.7" r="4.75"/><circle cx="704.0" cy="593.0" r="4.75"/><circle cx="695.0" cy="593.4" r="4.75"/><circle cx="703.7" cy="593.7" r="4.75"/><circle cx="701.0" cy="594.1" r="4.75"/><circle cx="698.2" cy="594.7" r="4.75"/><circle cx="695.1" cy="595.0" r="4.75"/><circle cx="698.1" cy="595.5" r="4.75"/><circle cx="703.8" cy="595.5" r="4.75"/><circle cx="703.9" cy="596.1" r="4.75"/><circle cx="697.8" cy="596.4" r="4.75"/><circle cx="697.9" cy="596.7" r="4.75"/><circle cx="701.2" cy="597.2" r="4.75"/><circle cx="698.2" cy="597.5" r="4.75"/><circle cx="701.3" cy="597.8" r="4.75"/><circle cx="700.7" cy="598.0" r="4.75"/><circle cx="698.0" cy="599.2" r="4.75"/><circle cx="701.2" cy="599.7" r="4.75"/><circle cx="700.8" cy="600.3" r="4.75"/><circle cx="698.1" cy="601.1" r="4.75"/><circle cx="701.0" cy="601.6" r="4.75"/><circle cx="698.3" cy="602.7" r="4.75"/><circle cx="695.0" cy="603.3" r="4.75"/><circle cx="697.7" cy="603.8" r="4.75"/><circle cx="694.9" cy="604.8" r="4.75"/><circle cx="703.7" cy="604.9" r="4.75"/><circle cx="695.3" cy="605.7" r="4.75"/><circle cx="700.8" cy="606.4" r="4.75"/><circle cx="701.2" cy="607.1" r="4.75"/><circle cx="704.1" cy="608.2" r="4.75"/><circle cx="697.9" cy="608.4" r="4.75"/><circle cx="694.9" cy="609.2" r="4.75"/><circle cx="695.1" cy="609.9" r="4.75"/><circle cx="700.9" cy="610.9" r="4.75"/><circle cx="704.2" cy="611.1" r="4.75"/><circle cx="698.0" cy="612.3" r="4.75"/><circle cx="694.7" cy="612.5" r="4.75"/><circle cx="697.9" cy="613.8" r="4.75"/><circle cx="694.7" cy="614.5" r="4.75"/><circle cx="703.7" cy="614.7" r="4.75"/><circle cx="694.8" cy="615.4" r="4.75"/><circle cx="703.7" cy="616.5" r="4.75"/><circle cx="697.8" cy="617.3" r="4.75"/><circle cx="697.9" cy="617.5" r="4.75"/><circle cx="701.1" cy="618.6" r="4.75"/><circle cx="695.1" cy="618.8" r="4.75"/><circle cx="704.1" cy="619.6" r="4.75"/><circle cx="698.1" cy="620.1" r="4.75"/><circle cx="694.8" cy="621.4" r="4.75"/><circle cx="695.1" cy="621.8" r="4.75"/><circle cx="701.1" cy="622.5" r="4.75"/><circle cx="704.0" cy="623.0" r="4.75"/><circle cx="698.1" cy="624.0" r="4.75"/><circle cx="695.2" cy="624.6" r="4.75"/><circle cx="695.2" cy="625.0" r="4.75"/><circle cx="695.1" cy="626.0" r="4.75"/><circle cx="697.9" cy="626.8" r="4.75"/><circle cx="695.0" cy="627.3" r="4.75"/><circle cx="704.2" cy="628.0" r="4.75"/><circle cx="700.8" cy="628.5" r="4.75"/><circle cx="698.0" cy="629.4" r="4.75"/><circle cx="698.1" cy="629.9" r="4.75"/><circle cx="701.2" cy="630.7" r="4.75"/><circle cx="694.7" cy="631.7" r="4.75"/><circle cx="697.9" cy="631.8" r="4.75"/><circle cx="698.0" cy="632.7" r="4.75"/><circle cx="697.9" cy="633.4" r="4.75"/><circle cx="698.2" cy="634.5" r="4.75"/><circle cx="698.1" cy="634.5" r="4.75"/><circle cx="695.0" cy="635.4" r="4.75"/><circle cx="701.1" cy="636.2" r="4.75"/><circle cx="698.2" cy="637.1" r="4.75"/><circle cx="700.7" cy="637.4" r="4.75"/><circle cx="700.9" cy="638.2" r="4.75"/><circle cx="704.0" cy="639.0" r="4.75"/><circle cx="698.2" cy="639.6" r="4.75"/><circle cx="698.0" cy="640.3" r="4.75"/><circle cx="695.1" cy="641.4" r="4.75"/><circle cx="701.2" cy="641.7" r="4.75"/><circle cx="697.8" cy="642.4" r="4.75"/><circle cx="704.0" cy="643.4" r="4.75"/><circle cx="695.0" cy="643.6" r="4.75"/><circle cx="704.2" cy="644.4" r="4.75"/><circle cx="694.9" cy="645.1" r="4.75"/><circle cx="700.8" cy="645.7" r="4.75"/><circle cx="694.8" cy="646.7" r="4.75"/><circle cx="695.1" cy="647.4" r="4.75"/><circle cx="697.8" cy="648.0" r="4.75"/><circle cx="701.2" cy="648.3" r="4.75"/><circle cx="698.0" cy="649.4" r="4.75"/><circle cx="694.9" cy="649.8" r="4.75"/><circle cx="701.2" cy="650.5" r="4.75"/><circle cx="700.9" cy="651.7" r="4.75"/><circle cx="703.9" cy="652.2" r="4.75"/><circle cx="698.0" cy="652.5" r="4.75"/><circle cx="700.8" cy="653.2" r="4.75"/><circle cx="698.1" cy="654.3" r="4.75"/><circle cx="701.0" cy="654.7" r="4.75"/><circle cx="701.1" cy="655.4" r="4.75"/><circle cx="697.8" cy="656.0" r="4.75"/><circle cx="704.3" cy="657.2" r="4.75"/><circle cx="695.3" cy="657.9" r="4.75"/><circle cx="694.8" cy="658.0" r="4.75"/><circle cx="704.0" cy="659.3" r="4.75"/><circle cx="704.0" cy="659.4" r="4.75"/><circle cx="710.0" cy="416.1" r="4.75"/><circle cx="706.6" cy="416.3" r="4.75"/><circle cx="709.9" cy="418.0" r="4.75"/><circle cx="710.0" cy="419.3" r="4.75"/><circle cx="706.5" cy="420.2" r="4.75"/><circle cx="706.5" cy="422.1" r="4.75"/><circle cx="710.2" cy="423.5" r="4.75"/><circle cx="710.0" cy="424.9" r="4.75"/><circle cx="709.8" cy="425.0" r="4.75"/><circle cx="706.5" cy="425.7" r="4.75"/><circle cx="706.7" cy="426.2" r="4.75"/><circle cx="710.3" cy="427.3" r="4.75"/><circle cx="710.1" cy="427.6" r="4.75"/><circle cx="706.3" cy="428.1" r="4.75"/><circle cx="709.8" cy="429.0" r="4.75"/><circle cx="710.3" cy="429.3" r="4.75"/><circle cx="706.3" cy="429.8" r="4.75"/><circle cx="706.8" cy="430.3" r="4.75"/><circle cx="706.3" cy="431.1" r="4.75"/><circle cx="706.3" cy="431.9" r="4.75"/><circle cx="706.5" cy="432.3" r="4.75"/><circle cx="706.3" cy="432.7" r="4.75"/><circle cx="706.5" cy="433.1" r="4.75"/><circle cx="709.7" cy="433.8" r="4.75"/><circle cx="710.2" cy="434.5" r="4.75"/><circle cx="710.0" cy="435.1" r="4.75"/><circle cx="706.3" cy="435.6" r="4.75"/><circle cx="709.9" cy="436.1" r="4.75"/><circle cx="706.3" cy="437.1" r="4.75"/><circle cx="710.1" cy="437.4" r="4.75"/><circle cx="710.0" cy="438.0" r="4.75"/><circle cx="706.3" cy="438.4" r="4.75"/><circle cx="709.9" cy="439.0" r="4.75"/><circle cx="710.0" cy="439.5" r="4.75"/><circle cx="709.8" cy="440.5" r="4.75"/><circle cx="706.2" cy="440.7" r="4.75"/><circle cx="709.9" cy="441.6" r="4.75"/><circle cx="710.2" cy="441.8" r="4.75"/><circle cx="709.8" cy="442.8" r="4.75"/><circle cx="706.3" cy="442.9" r="4.75"/><circle cx="706.8" cy="443.8" r="4.75"/><circle cx="709.9" cy="444.2" r="4.75"/><circle cx="709.8" cy="444.7" r="4.75"/><circle cx="710.2" cy="445.6" r="4.75"/><circle cx="706.7" cy="446.0" r="4.75"/><circle cx="710.2" cy="446.9" r="4.75"/><circle cx="706.6" cy="447.3" r="4.75"/><circle cx="706.6" cy="448.0" r="4.75"/><circle cx="706.5" cy="448.2" r="4.75"/><circle cx="710.0" cy="449.1" r="4.75"/><circle cx="710.0" cy="449.6" r="4.75"/><circle cx="710.3" cy="450.1" r="4.75"/><circle cx="706.4" cy="450.6" r="4.75"/><circle cx="706.7" cy="451.2" r="4.75"/><circle cx="706.4" cy="451.9" r="4.75"/><circle cx="710.2" cy="452.5" r="4.75"/><circle cx="706.4" cy="452.9" r="4.75"/><circle cx="706.5" cy="453.5" r="4.75"/><circle cx="709.9" cy="454.0" r="4.75"/><circle cx="709.9" cy="454.8" r="4.75"/><circle cx="706.4" cy="455.3" r="4.75"/><circle cx="706.7" cy="456.1" r="4.75"/><circle cx="706.7" cy="456.7" r="4.75"/><circle cx="706.3" cy="456.9" r="4.75"/><circle cx="710.1" cy="457.5" r="4.75"/><circle cx="710.2" cy="458.0" r="4.75"/><circle cx="706.5" cy="459.0" r="4.75"/><circle cx="706.6" cy="459.3" r="4.75"/><circle cx="709.9" cy="460.0" r="4.75"/><circle cx="709.7" cy="460.3" r="4.75"/><circle cx="706.2" cy="461.1" r="4.75"/><circle cx="706.3" cy="461.3" r="4.75"/><circle cx="709.9" cy="462.2" r="4.75"/><circle cx="710.1" cy="462.9" r="4.75"/><circle cx="706.7" cy="463.4" r="4.75"/><circle cx="709.8" cy="464.2" r="4.75"/><circle cx="706.5" cy="464.3" r="4.75"/><circle cx="709.9" cy="464.9" r="4.75"/><circle cx="706.8" cy="465.5" r="4.75"/><circle cx="709.8" cy="466.4" r="4.75"/><circle cx="706.4" cy="467.1" r="4.75"/><circle cx="709.8" cy="467.5" r="4.75"/><circle cx="710.2" cy="468.2" r="4.75"/><circle cx="709.8" cy="468.6" r="4.75"/><circle cx="706.5" cy="469.0" r="4.75"/><circle cx="706.8" cy="470.0" r="4.75"/><circle cx="706.3" cy="470.1" r="4.75"/><circle cx="706.5" cy="471.0" r="4.75"/><circle cx="706.4" cy="471.3" r="4.75"/><circle cx="706.3" cy="472.3" r="4.75"/><circle cx="706.7" cy="472.3" r="4.75"/><circle cx="706.6" cy="472.9" r="4.75"/><circle cx="710.0" cy="473.7" r="4.75"/><circle cx="706.5" cy="474.2" r="4.75"/><circle cx="706.4" cy="474.9" r="4.75"/><circle cx="710.0" cy="475.7" r="4.75"/><circle cx="710.0" cy="475.8" r="4.75"/><circle cx="706.7" cy="476.9" r="4.75"/><circle cx="706.6" cy="477.1" r="4.75"/><circle cx="706.2" cy="477.5" r="4.75"/><circle cx="706.5" cy="478.3" r="4.75"/><circle cx="706.4" cy="478.7" r="4.75"/><circle cx="706.5" cy="479.2" r="4.75"/><circle cx="709.8" cy="479.9" r="4.75"/><circle cx="709.9" cy="480.7" r="4.75"/><circle cx="709.8" cy="481.1" r="4.75"/><circle cx="706.5" cy="481.8" r="4.75"/><circle cx="706.3" cy="482.1" r="4.75"/><circle cx="709.9" cy="482.8" r="4.75"/><circle cx="709.8" cy="483.6" r="4.75"/><circle cx="710.2" cy="484.0" r="4.75"/><circle cx="709.9" cy="484.5" r="4.75"/><circle cx="706.5" cy="485.4" r="4.75"/><circle cx="706.6" cy="485.8" r="4.75"/><circle cx="709.9" cy="486.4" r="4.75"/><circle cx="709.9" cy="486.8" r="4.75"/><circle cx="710.0" cy="487.5" r="4.75"/><circle cx="709.9" cy="488.4" r="4.75"/><circle cx="706.6" cy="488.7" r="4.75"/><circle cx="710.0" cy="489.5" r="4.75"/><circle cx="710.1" cy="489.6" r="4.75"/><circle cx="706.3" cy="490.7" r="4.75"/><circle cx="710.1" cy="491.0" r="4.75"/><circle cx="709.8" cy="491.3" r="4.75"/><circle cx="706.6" cy="492.4" r="4.75"/><circle cx="710.1" cy="492.6" r="4.75"/><circle cx="709.9" cy="493.1" r="4.75"/><circle cx="710.1" cy="494.1" r="4.75"/><circle cx="706.6" cy="494.7" r="4.75"/><circle cx="710.0" cy="495.0" r="4.75"/><circle cx="706.7" cy="495.9" r="4.75"/><circle cx="706.7" cy="496.1" r="4.75"/><circle cx="706.3" cy="496.5" r="4.75"/><circle cx="710.0" cy="497.4" r="4.75"/><circle cx="709.9" cy="497.7" r="4.75"/><circle cx="706.7" cy="498.5" r="4.75"/><circle cx="710.0" cy="499.2" r="4.75"/><circle cx="710.0" cy="499.7" r="4.75"/><circle cx="706.3" cy="500.4" r="4.75"/><circle cx="706.7" cy="500.8" r="4.75"/><circle cx="710.2" cy="501.3" r="4.75"/><circle cx="710.1" cy="501.8" r="4.75"/><circle cx="710.2" cy="502.8" r="4.75"/><circle cx="710.1" cy="503.1" r="4.75"/><circle cx="710.3" cy="503.5" r="4.75"/><circle cx="710.0" cy="504.5" r="4.75"/><circle cx="706.6" cy="504.9" r="4.75"/><circle cx="706.4" cy="505.5" r="4.75"/><circle cx="706.8" cy="505.9" r="4.75"/><circle cx="706.5" cy="506.4" r="4.75"/><circle cx="710.0" cy="507.0" r="4.75"/><circle cx="710.0" cy="507.8" r="4.75"/><circle cx="709.7" cy="508.3" r="4.75"/><circle cx="710.1" cy="508.7" r="4.75"/><circle cx="709.8" cy="509.7" r="4.75"/><circle cx="709.9" cy="509.9" r="4.75"/><circle cx="709.9" cy="510.5" r="4.75"/><circle cx="709.8" cy="511.1" r="4.75"/><circle cx="709.8" cy="511.7" r="4.75"/><circle cx="710.2" cy="512.1" r="4.75"/><circle cx="709.7" cy="512.8" r="4.75"/><circle cx="710.2" cy="513.6" r="4.75"/><circle cx="709.8" cy="514.2" r="4.75"/><circle cx="706.6" cy="514.5" r="4.75"/><circle cx="710.3" cy="515.4" r="4.75"/><circle cx="710.2" cy="516.0" r="4.75"/><circle cx="706.4" cy="516.5" r="4.75"/><circle cx="706.5" cy="517.2" r="4.75"/><circle cx="709.8" cy="517.8" r="4.75"/><circle cx="710.0" cy="518.1" r="4.75"/><circle cx="706.3" cy="518.9" r="4.75"/><circle cx="710.0" cy="519.0" r="4.75"/><circle cx="706.5" cy="519.6" r="4.75"/><circle cx="710.1" cy="520.3" r="4.75"/><circle cx="706.5" cy="520.8" r="4.75"/><circle cx="706.8" cy="521.5" r="4.75"/><circle cx="706.3" cy="522.3" r="4.75"/><circle cx="710.0" cy="522.7" r="4.75"/><circle cx="706.6" cy="523.4" r="4.75"/><circle cx="710.1" cy="524.1" r="4.75"/><circle cx="706.5" cy="524.5" r="4.75"/><circle cx="709.9" cy="524.9" r="4.75"/><circle cx="710.0" cy="525.6" r="4.75"/><circle cx="706.7" cy="525.9" r="4.75"/><circle cx="710.0" cy="527.1" r="4.75"/><circle cx="706.5" cy="527.2" r="4.75"/><circle cx="706.6" cy="527.8" r="4.75"/><circle cx="710.2" cy="528.3" r="4.75"/><circle cx="706.5" cy="528.9" r="4.75"/><circle cx="710.3" cy="529.6" r="4.75"/><circle cx="709.9" cy="530.3" r="4.75"/><circle cx="706.4" cy="530.8" r="4.75"/><circle cx="706.7" cy="531.5" r="4.75"/><circle cx="706.6" cy="532.1" r="4.75"/><circle cx="710.1" cy="532.7" r="4.75"/><circle cx="709.8" cy="533.4" r="4.75"/><circle cx="706.5" cy="534.0" r="4.75"/><circle cx="709.8" cy="534.5" r="4.75"/><circle cx="709.9" cy="534.9" r="4.75"/><circle cx="706.2" cy="535.5" r="4.75"/><circle cx="709.8" cy="535.8" r="4.75"/><circle cx="706.6" cy="536.5" r="4.75"/><circle cx="709.9" cy="537.1" r="4.75"/><circle cx="706.2" cy="538.0" r="4.75"/><circle cx="706.5" cy="538.3" r="4.75"/><circle cx="706.3" cy="539.1" r="4.75"/><circle cx="710.1" cy="539.4" r="4.75"/><circle cx="710.3" cy="540.2" r="4.75"/><circle cx="710.0" cy="540.8" r="4.75"/><circle cx="706.6" cy="541.1" r="4.75"/><circle cx="706.3" cy="541.7" r="4.75"/><circle cx="706.7" cy="542.4" r="4.75"/><circle cx="706.3" cy="542.8" r="4.75"/><circle cx="706.2" cy="543.5" r="4.75"/><circle cx="706.8" cy="543.8" r="4.75"/><circle cx="706.4" cy="544.9" r="4.75"/><circle cx="706.7" cy="545.3" r="4.75"/><circle cx="706.2" cy="545.9" r="4.75"/><circle cx="706.6" cy="546.2" r="4.75"/><circle cx="710.2" cy="547.2" r="4.75"/><circle cx="706.2" cy="547.4" r="4.75"/><circle cx="710.0" cy="548.1" r="4.75"/><circle cx="709.8" cy="548.4" r="4.75"/><circle cx="706.5" cy="549.3" r="4.75"/><circle cx="710.1" cy="549.9" r="4.75"/><circle cx="706.4" cy="550.5" r="4.75"/><circle cx="706.2" cy="551.0" r="4.75"/><circle cx="706.6" cy="551.8" r="4.75"/><circle cx="706.3" cy="552.3" r="4.75"/><circle cx="706.7" cy="552.9" r="4.75"/><circle cx="706.5" cy="553.5" r="4.75"/><circle cx="710.1" cy="553.6" r="4.75"/><circle cx="710.2" cy="554.4" r="4.75"/><circle cx="710.3" cy="555.3" r="4.75"/><circle cx="706.5" cy="555.7" r="4.75"/><circle cx="706.3" cy="556.2" r="4.75"/><circle cx="706.6" cy="556.6" r="4.75"/><circle cx="709.9" cy="557.2" r="4.75"/><circle cx="706.3" cy="558.1" r="4.75"/><circle cx="706.4" cy="558.7" r="4.75"/><circle cx="706.5" cy="559.2" r="4.75"/><circle cx="706.7" cy="559.7" r="4.75"/><circle cx="706.5" cy="560.2" r="4.75"/><circle cx="710.2" cy="561.0" r="4.75"/><circle cx="710.1" cy="561.4" r="4.75"/><circle cx="709.8" cy="561.9" r="4.75"/><circle cx="710.2" cy="562.7" r="4.75"/><circle cx="706.5" cy="562.9" r="4.75"/><circle cx="709.9" cy="563.7" r="4.75"/><circle cx="706.7" cy="564.5" r="4.75"/><circle cx="710.0" cy="564.7" r="4.75"/><circle cx="710.1" cy="565.5" r="4.75"/><circle cx="706.6" cy="566.1" r="4.75"/><circle cx="706.6" cy="566.8" r="4.75"/><circle cx="706.5" cy="567.1" r="4.75"/><circle cx="706.5" cy="567.6" r="4.75"/><circle cx="706.7" cy="568.4" r="4.75"/><circle cx="709.8" cy="568.8" r="4.75"/><circle cx="710.0" cy="569.3" r="4.75"/><circle cx="710.2" cy="569.9" r="4.75"/><circle cx="706.5" cy="570.5" r="4.75"/><circle cx="709.8" cy="571.0" r="4.75"/><circle cx="706.7" cy="571.8" r="4.75"/><circle cx="706.8" cy="572.1" r="4.75"/><circle cx="710.0" cy="572.9" r="4.75"/><circle cx="706.5" cy="573.7" r="4.75"/><circle cx="706.7" cy="574.3" r="4.75"/><circle cx="706.4" cy="574.5" r="4.75"/><circle cx="706.6" cy="575.1" r="4.75"/><circle cx="706.4" cy="575.5" r="4.75"/><circle cx="706.3" cy="576.6" r="4.75"/><circle cx="706.4" cy="577.1" r="4.75"/><circle cx="710.1" cy="577.6" r="4.75"/><circle cx="706.4" cy="577.9" r="4.75"/><circle cx="706.8" cy="578.4" r="4.75"/><circle cx="710.0" cy="579.3" r="4.75"/><circle cx="710.0" cy="580.1" r="4.75"/><circle cx="709.8" cy="580.2" r="4.75"/><circle cx="710.0" cy="581.2" r="4.75"/><circle cx="710.3" cy="581.6" r="4.75"/><circle cx="710.0" cy="582.1" r="4.75"/><circle cx="709.9" cy="582.5" r="4.75"/><circle cx="706.3" cy="583.5" r="4.75"/><circle cx="706.2" cy="583.8" r="4.75"/><circle cx="706.8" cy="584.7" r="4.75"/><circle cx="706.8" cy="584.9" r="4.75"/><circle cx="706.3" cy="585.3" r="4.75"/><circle cx="706.3" cy="585.9" r="4.75"/><circle cx="710.1" cy="586.9" r="4.75"/><circle cx="706.5" cy="587.2" r="4.75"/><circle cx="709.8" cy="587.8" r="4.75"/><circle cx="706.5" cy="588.6" r="4.75"/><circle cx="710.2" cy="588.9" r="4.75"/><circle cx="710.0" cy="589.8" r="4.75"/><circle cx="710.3" cy="590.0" r="4.75"/><circle cx="709.9" cy="590.7" r="4.75"/><circle cx="710.1" cy="591.3" r="4.75"/><circle cx="709.9" cy="591.7" r="4.75"/><circle cx="709.8" cy="592.3" r="4.75"/><circle cx="710.2" cy="593.3" r="4.75"/><circle cx="710.0" cy="593.7" r="4.75"/><circle cx="706.8" cy="594.5" r="4.75"/><circle cx="709.8" cy="594.6" r="4.75"/><circle cx="706.2" cy="595.5" r="4.75"/><circle cx="706.3" cy="595.8" r="4.75"/><circle cx="709.7" cy="596.6" r="4.75"/><circle cx="709.7" cy="596.9" r="4.75"/><circle cx="710.0" cy="598.0" r="4.75"/><circle cx="706.7" cy="598.5" r="4.75"/><circle cx="710.3" cy="599.5" r="4.75"/><circle cx="706.6" cy="600.1" r="4.75"/><circle cx="706.3" cy="601.6" r="4.75"/><circle cx="710.1" cy="602.6" r="4.75"/><circle cx="709.7" cy="603.8" r="4.75"/><circle cx="710.0" cy="604.9" r="4.75"/><circle cx="706.3" cy="605.6" r="4.75"/><circle cx="706.7" cy="607.0" r="4.75"/><circle cx="709.7" cy="607.5" r="4.75"/><circle cx="706.7" cy="609.2" r="4.75"/><circle cx="709.8" cy="609.8" r="4.75"/><circle cx="710.3" cy="611.1" r="4.75"/><circle cx="706.3" cy="611.9" r="4.75"/><circle cx="706.7" cy="612.5" r="4.75"/><circle cx="706.6" cy="614.0" r="4.75"/><circle cx="709.8" cy="615.2" r="4.75"/><circle cx="706.7" cy="616.1" r="4.75"/><circle cx="709.8" cy="616.8" r="4.75"/><circle cx="706.4" cy="618.6" r="4.75"/><circle cx="706.5" cy="619.5" r="4.75"/><circle cx="710.2" cy="620.5" r="4.75"/><circle cx="710.1" cy="621.0" r="4.75"/><circle cx="706.4" cy="622.3" r="4.75"/><circle cx="710.3" cy="623.3" r="4.75"/><circle cx="706.6" cy="624.7" r="4.75"/><circle cx="706.6" cy="625.0" r="4.75"/><circle cx="706.3" cy="626.0" r="4.75"/><circle cx="710.2" cy="627.3" r="4.75"/><circle cx="709.9" cy="628.8" r="4.75"/><circle cx="706.5" cy="630.0" r="4.75"/><circle cx="710.1" cy="630.2" r="4.75"/><circle cx="710.1" cy="631.2" r="4.75"/><circle cx="710.0" cy="632.5" r="4.75"/><circle cx="706.8" cy="633.7" r="4.75"/><circle cx="706.7" cy="634.5" r="4.75"/><circle cx="710.2" cy="636.1" r="4.75"/><circle cx="706.5" cy="636.9" r="4.75"/><circle cx="709.8" cy="637.5" r="4.75"/><circle cx="706.4" cy="638.8" r="4.75"/><circle cx="709.7" cy="640.1" r="4.75"/><circle cx="710.1" cy="640.9" r="4.75"/><circle cx="706.8" cy="642.3" r="4.75"/><circle cx="710.0" cy="642.5" r="4.75"/><circle cx="710.0" cy="643.9" r="4.75"/><circle cx="709.7" cy="644.8" r="4.75"/><circle cx="710.0" cy="646.2" r="4.75"/><circle cx="706.6" cy="647.0" r="4.75"/><circle cx="706.2" cy="647.8" r="4.75"/><circle cx="706.5" cy="648.7" r="4.75"/><circle cx="710.3" cy="650.2" r="4.75"/><circle cx="706.2" cy="651.2" r="4.75"/><circle cx="706.8" cy="652.3" r="4.75"/><circle cx="706.3" cy="653.4" r="4.75"/><circle cx="710.2" cy="654.1" r="4.75"/><circle cx="709.8" cy="655.5" r="4.75"/><circle cx="709.9" cy="656.3" r="4.75"/><circle cx="709.9" cy="657.3" r="4.75"/><circle cx="710.1" cy="658.3" r="4.75"/><circle cx="706.6" cy="659.7" r="4.75"/><circle cx="721.7" cy="403.4" r="4.75"/><circle cx="719.0" cy="404.1" r="4.75"/><circle cx="722.1" cy="404.6" r="4.75"/><circle cx="722.0" cy="405.4" r="4.75"/><circle cx="716.4" cy="406.0" r="4.75"/><circle cx="722.3" cy="406.6" r="4.75"/><circle cx="713.6" cy="407.8" r="4.75"/><circle cx="719.5" cy="408.1" r="4.75"/><circle cx="722.0" cy="409.1" r="4.75"/><circle cx="713.6" cy="409.7" r="4.75"/><circle cx="716.5" cy="410.0" r="4.75"/><circle cx="713.4" cy="410.6" r="4.75"/><circle cx="716.2" cy="410.8" r="4.75"/><circle cx="722.2" cy="411.1" r="4.75"/><circle cx="713.7" cy="411.5" r="4.75"/><circle cx="713.6" cy="411.7" r="4.75"/><circle cx="722.2" cy="412.1" r="4.75"/><circle cx="719.2" cy="412.3" r="4.75"/><circle cx="713.7" cy="412.6" r="4.75"/><circle cx="721.9" cy="413.0" r="4.75"/><circle cx="719.0" cy="413.3" r="4.75"/><circle cx="716.1" cy="413.6" r="4.75"/><circle cx="716.6" cy="414.0" r="4.75"/><circle cx="713.2" cy="414.2" r="4.75"/><circle cx="713.6" cy="414.6" r="4.75"/><circle cx="713.6" cy="414.8" r="4.75"/><circle cx="713.2" cy="415.3" r="4.75"/><circle cx="713.7" cy="415.4" r="4.75"/><circle cx="716.1" cy="415.7" r="4.75"/><circle cx="713.6" cy="416.2" r="4.75"/><circle cx="713.3" cy="416.4" r="4.75"/><circle cx="719.5" cy="416.7" r="4.75"/><circle cx="713.8" cy="417.0" r="4.75"/><circle cx="713.7" cy="417.5" r="4.75"/><circle cx="722.1" cy="417.8" r="4.75"/><circle cx="713.4" cy="418.0" r="4.75"/><circle cx="719.4" cy="418.5" r="4.75"/><circle cx="716.0" cy="418.8" r="4.75"/><circle cx="721.9" cy="419.1" r="4.75"/><circle cx="722.0" cy="419.2" r="4.75"/><circle cx="716.5" cy="419.5" r="4.75"/><circle cx="713.3" cy="420.0" r="4.75"/><circle cx="719.3" cy="420.3" r="4.75"/><circle cx="718.9" cy="420.6" r="4.75"/><circle cx="716.3" cy="420.8" r="4.75"/><circle cx="716.6" cy="421.1" r="4.75"/><circle cx="719.4" cy="421.6" r="4.75"/><circle cx="713.5" cy="421.8" r="4.75"/><circle cx="722.0" cy="422.1" r="4.75"/><circle cx="716.6" cy="422.5" r="4.75"/><circle cx="722.2" cy="422.7" r="4.75"/><circle cx="721.9" cy="423.2" r="4.75"/><circle cx="716.3" cy="423.6" r="4.75"/><circle cx="716.3" cy="423.6" r="4.75"/><circle cx="721.8" cy="424.1" r="4.75"/><circle cx="719.2" cy="424.5" r="4.75"/><circle cx="719.2" cy="424.9" r="4.75"/><circle cx="713.7" cy="425.0" r="4.75"/><circle cx="722.2" cy="425.4" r="4.75"/><circle cx="716.4" cy="425.5" r="4.75"/><circle cx="713.4" cy="426.0" r="4.75"/><circle cx="721.9" cy="426.2" r="4.75"/><circle cx="713.6" cy="426.8" r="4.75"/><circle cx="721.9" cy="426.8" r="4.75"/><circle cx="721.9" cy="427.2" r="4.75"/><circle cx="716.3" cy="427.6" r="4.75"/><circle cx="719.4" cy="427.9" r="4.75"/><circle cx="716.2" cy="428.1" r="4.75"/><circle cx="719.2" cy="428.5" r="4.75"/><circle cx="719.4" cy="428.8" r="4.75"/><circle cx="721.8" cy="429.0" r="4.75"/><circle cx="722.0" cy="429.5" r="4.75"/><circle cx="721.8" cy="429.8" r="4.75"/><circle cx="722.0" cy="430.0" r="4.75"/><circle cx="713.6" cy="430.5" r="4.75"/><circle cx="713.5" cy="430.6" r="4.75"/><circle cx="716.4" cy="431.0" r="4.75"/><circle cx="721.8" cy="431.5" r="4.75"/><circle cx="713.4" cy="431.7" r="4.75"/><circle cx="721.8" cy="432.0" r="4.75"/><circle cx="716.5" cy="432.3" r="4.75"/><circle cx="721.8" cy="432.8" r="4.75"/><circle cx="716.4" cy="433.0" r="4.75"/><circle cx="716.6" cy="433.2" r="4.75"/><circle cx="713.6" cy="433.7" r="4.75"/><circle cx="719.0" cy="434.0" r="4.75"/><circle cx="713.6" cy="434.3" r="4.75"/><circle cx="716.5" cy="434.5" r="4.75"/><circle cx="719.1" cy="434.7" r="4.75"/><circle cx="713.5" cy="435.2" r="4.75"/><circle cx="721.8" cy="435.6" r="4.75"/><circle cx="713.3" cy="435.8" r="4.75"/><circle cx="721.9" cy="436.0" r="4.75"/><circle cx="716.2" cy="436.6" r="4.75"/><circle cx="719.4" cy="436.7" r="4.75"/><circle cx="713.7" cy="437.1" r="4.75"/><circle cx="713.4" cy="437.3" r="4.75"/><circle cx="713.8" cy="437.8" r="4.75"/><circle cx="716.0" cy="438.0" r="4.75"/><circle cx="713.4" cy="438.2" r="4.75"/><circle cx="716.2" cy="438.5" r="4.75"/><circle cx="722.2" cy="439.1" r="4.75"/><circle cx="718.9" cy="439.2" r="4.75"/><circle cx="716.2" cy="439.5" r="4.75"/><circle cx="716.2" cy="439.9" r="4.75"/><circle cx="716.6" cy="440.1" r="4.75"/><circle cx="722.2" cy="440.4" r="4.75"/><circle cx="713.4" cy="440.8" r="4.75"/><circle cx="722.2" cy="441.1" r="4.75"/><circle cx="713.7" cy="441.4" r="4.75"/><circle cx="722.1" cy="441.9" r="4.75"/><circle cx="713.6" cy="442.3" r="4.75"/><circle cx="718.9" cy="442.3" r="4.75"/><circle cx="721.9" cy="442.7" r="4.75"/><circle cx="719.2" cy="443.1" r="4.75"/><circle cx="713.3" cy="443.4" r="4.75"/><circle cx="722.1" cy="443.8" r="4.75"/><circle cx="716.2" cy="444.0" r="4.75"/><circle cx="719.1" cy="444.2" r="4.75"/><circle cx="722.2" cy="444.8" r="4.75"/><circle cx="721.9" cy="445.0" r="4.75"/><circle cx="721.7" cy="445.2" r="4.75"/><circle cx="722.1" cy="445.5" r="4.75"/><circle cx="721.9" cy="446.1" r="4.75"/><circle cx="713.8" cy="446.1" r="4.75"/><circle cx="716.6" cy="446.5" r="4.75"/><circle cx="716.5" cy="446.8" r="4.75"/><circle cx="716.1" cy="447.2" r="4.75"/><circle cx="722.2" cy="447.4" r="4.75"/><circle cx="719.2" cy="447.7" r="4.75"/><circle cx="713.6" cy="448.1" r="4.75"/><circle cx="719.2" cy="448.6" r="4.75"/><circle cx="716.6" cy="448.8" r="4.75"/><circle cx="713.7" cy="449.2" r="4.75"/><circle cx="713.4" cy="449.4" r="4.75"/><circle cx="713.3" cy="449.9" r="4.75"/><circle cx="719.4" cy="449.9" r="4.75"/><circle cx="721.8" cy="450.5" r="4.75"/><circle cx="713.6" cy="450.7" r="4.75"/><circle cx="718.9" cy="451.1" r="4.75"/><circle cx="713.3" cy="451.4" r="4.75"/><circle cx="722.1" cy="451.8" r="4.75"/><circle cx="713.4" cy="451.9" r="4.75"/><circle cx="716.5" cy="452.4" r="4.75"/><circle cx="718.9" cy="452.6" r="4.75"/><circle cx="722.0" cy="452.8" r="4.75"/><circle cx="713.8" cy="453.1" r="4.75"/><circle cx="716.1" cy="453.5" r="4.75"/><circle cx="719.4" cy="453.8" r="4.75"/><circle cx="713.8" cy="454.3" r="4.75"/><circle cx="721.9" cy="454.3" r="4.75"/><circle cx="713.5" cy="454.8" r="4.75"/><circle cx="722.1" cy="455.2" r="4.75"/><circle cx="713.7" cy="455.6" r="4.75"/><circle cx="721.9" cy="455.6" r="4.75"/><circle cx="716.2" cy="456.1" r="4.75"/><circle cx="722.3" cy="456.5" r="4.75"/><circle cx="716.2" cy="456.8" r="4.75"/><circle cx="719.3" cy="457.0" r="4.75"/><circle cx="719.4" cy="457.2" r="4.75"/><circle cx="719.0" cy="457.7" r="4.75"/><circle cx="722.1" cy="457.9" r="4.75"/><circle cx="719.4" cy="458.4" r="4.75"/><circle cx="716.5" cy="458.6" r="4.75"/><circle cx="721.7" cy="459.0" r="4.75"/><circle cx="722.0" cy="459.1" r="4.75"/><circle cx="719.1" cy="459.7" r="4.75"/><circle cx="722.2" cy="459.9" r="4.75"/><circle cx="721.8" cy="460.3" r="4.75"/><circle cx="716.4" cy="460.6" r="4.75"/><circle cx="722.1" cy="461.0" r="4.75"/><circle cx="719.4" cy="461.2" r="4.75"/><circle cx="722.2" cy="461.4" r="4.75"/><circle cx="719.3" cy="461.7" r="4.75"/><circle cx="716.2" cy="462.1" r="4.75"/><circle cx="721.8" cy="462.4" r="4.75"/><circle cx="718.9" cy="462.7" r="4.75"/><circle cx="713.3" cy="463.1" r="4.75"/><circle cx="716.1" cy="463.4" r="4.75"/><circle cx="722.0" cy="463.6" r="4.75"/><circle cx="716.3" cy="463.9" r="4.75"/><circle cx="713.5" cy="464.4" r="4.75"/><circle cx="716.3" cy="464.5" r="4.75"/><circle cx="722.1" cy="464.9" r="4.75"/><circle cx="716.4" cy="465.1" r="4.75"/><circle cx="718.9" cy="465.7" r="4.75"/><circle cx="716.4" cy="466.0" r="4.75"/><circle cx="722.0" cy="466.1" r="4.75"/><circle cx="719.2" cy="466.6" r="4.75"/><circle cx="713.5" cy="466.8" r="4.75"/><circle cx="719.3" cy="467.2" r="4.75"/><circle cx="716.4" cy="467.4" r="4.75"/><circle cx="716.1" cy="467.6" r="4.75"/><circle cx="719.4" cy="468.2" r="4.75"/><circle cx="716.6" cy="468.3" r="4.75"/><circle cx="719.1" cy="468.8" r="4.75"/><circle cx="719.4" cy="469.1" r="4.75"/><circle cx="719.3" cy="469.3" r="4.75"/><circle cx="722.2" cy="469.8" r="4.75"/><circle cx="716.3" cy="470.1" r="4.75"/><circle cx="713.6" cy="470.5" r="4.75"/><circle cx="716.1" cy="470.6" r="4.75"/><circle cx="713.6" cy="470.9" r="4.75"/><circle cx="716.3" cy="471.4" r="4.75"/><circle cx="716.4" cy="471.5" r="4.75"/><circle cx="721.8" cy="472.0" r="4.75"/><circle cx="716.6" cy="472.2" r="4.75"/><circle cx="716.6" cy="472.4" r="4.75"/><circle cx="716.3" cy="473.0" r="4.75"/><circle cx="719.1" cy="473.2" r="4.75"/><circle cx="713.6" cy="473.6" r="4.75"/><circle cx="713.7" cy="473.8" r="4.75"/><circle cx="722.2" cy="474.1" r="4.75"/><circle cx="722.2" cy="474.3" r="4.75"/><circle cx="722.1" cy="474.7" r="4.75"/><circle cx="718.9" cy="475.0" r="4.75"/><circle cx="719.4" cy="475.4" r="4.75"/><circle cx="721.9" cy="475.7" r="4.75"/><circle cx="721.7" cy="476.1" r="4.75"/><circle cx="716.6" cy="476.3" r="4.75"/><circle cx="716.6" cy="476.6" r="4.75"/><circle cx="716.1" cy="477.0" r="4.75"/><circle cx="721.8" cy="477.3" r="4.75"/><circle cx="713.4" cy="477.6" r="4.75"/><circle cx="719.4" cy="477.8" r="4.75"/><circle cx="713.3" cy="478.3" r="4.75"/><circle cx="721.7" cy="478.4" r="4.75"/><circle cx="716.2" cy="478.9" r="4.75"/><circle cx="716.4" cy="479.2" r="4.75"/><circle cx="721.8" cy="479.5" r="4.75"/><circle cx="716.4" cy="479.7" r="4.75"/><circle cx="713.3" cy="480.2" r="4.75"/><circle cx="721.9" cy="480.5" r="4.75"/><circle cx="716.4" cy="480.9" r="4.75"/><circle cx="721.9" cy="480.9" r="4.75"/><circle cx="716.4" cy="481.4" r="4.75"/><circle cx="719.1" cy="481.8" r="4.75"/><circle cx="719.1" cy="482.0" r="4.75"/><circle cx="719.1" cy="482.2" r="4.75"/><circle cx="713.2" cy="482.7" r="4.75"/><circle cx="716.1" cy="482.9" r="4.75"/><circle cx="716.4" cy="483.3" r="4.75"/><circle cx="713.2" cy="483.7" r="4.75"/><circle cx="716.1" cy="483.9" r="4.75"/><circle cx="713.6" cy="484.3" r="4.75"/><circle cx="719.1" cy="484.5" r="4.75"/><circle cx="722.2" cy="485.0" r="4.75"/><circle cx="716.2" cy="485.3" r="4.75"/><circle cx="716.4" cy="485.6" r="4.75"/><circle cx="713.3" cy="485.9" r="4.75"/><circle cx="722.0" cy="486.2" r="4.75"/><circle cx="719.2" cy="486.4" r="4.75"/><circle cx="716.5" cy="486.9" r="4.75"/><circle cx="719.0" cy="487.1" r="4.75"/><circle cx="719.4" cy="487.6" r="4.75"/><circle cx="716.1" cy="487.6" r="4.75"/><circle cx="713.4" cy="488.0" r="4.75"/><circle cx="719.3" cy="488.5" r="4.75"/><circle cx="722.3" cy="488.5" r="4.75"/><circle cx="721.8" cy="488.9" r="4.75"/><circle cx="716.5" cy="489.3" r="4.75"/><circle cx="716.5" cy="489.8" r="4.75"/><circle cx="713.5" cy="489.9" r="4.75"/><circle cx="722.2" cy="490.2" r="4.75"/><circle cx="713.7" cy="490.6" r="4.75"/><circle cx="713.8" cy="491.1" r="4.75"/><circle cx="722.0" cy="491.1" r="4.75"/><circle cx="716.4" cy="491.6" r="4.75"/><circle cx="722.0" cy="491.8" r="4.75"/><circle cx="722.0" cy="492.3" r="4.75"/><circle cx="716.2" cy="492.5" r="4.75"/><circle cx="713.6" cy="492.7" r="4.75"/><circle cx="716.1" cy="493.2" r="4.75"/><circle cx="716.6" cy="493.4" r="4.75"/><circle cx="713.4" cy="493.8" r="4.75"/><circle cx="716.3" cy="494.1" r="4.75"/><circle cx="713.5" cy="494.3" r="4.75"/><circle cx="722.1" cy="494.6" r="4.75"/><circle cx="719.1" cy="494.9" r="4.75"/><circle cx="719.0" cy="495.2" r="4.75"/><circle cx="719.1" cy="495.7" r="4.75"/><circle cx="719.0" cy="496.0" r="4.75"/><circle cx="722.1" cy="496.4" r="4.75"/><circle cx="721.9" cy="496.6" r="4.75"/><circle cx="718.9" cy="497.0" r="4.75"/><circle cx="713.2" cy="497.4" r="4.75"/><circle cx="713.6" cy="497.4" r="4.75"/><circle cx="721.7" cy="497.8" r="4.75"/><circle cx="713.3" cy="498.3" r="4.75"/><circle cx="721.7" cy="498.5" r="4.75"/><circle cx="719.2" cy="498.9" r="4.75"/><circle cx="722.1" cy="499.1" r="4.75"/><circle cx="721.8" cy="499.4" r="4.75"/><circle cx="716.6" cy="499.7" r="4.75"/><circle cx="719.0" cy="500.1" r="4.75"/><circle cx="719.1" cy="500.3" r="4.75"/><circle cx="719.0" cy="500.6" r="4.75"/><circle cx="713.8" cy="500.9" r="4.75"/><circle cx="722.1" cy="501.3" r="4.75"/><circle cx="716.3" cy="501.6" r="4.75"/><circle cx="713.7" cy="502.1" r="4.75"/><circle cx="716.4" cy="502.3" r="4.75"/><circle cx="721.9" cy="502.6" r="4.75"/><circle cx="718.9" cy="502.8" r="4.75"/><circle cx="719.1" cy="503.2" r="4.75"/><circle cx="721.8" cy="503.7" r="4.75"/><circle cx="713.2" cy="503.9" r="4.75"/><circle cx="718.9" cy="504.1" r="4.75"/><circle cx="722.1" cy="504.4" r="4.75"/><circle cx="713.3" cy="504.7" r="4.75"/><circle cx="713.3" cy="505.1" r="4.75"/><circle cx="722.0" cy="505.6" r="4.75"/><circle cx="713.4" cy="505.9" r="4.75"/><circle cx="719.3" cy="506.1" r="4.75"/><circle cx="716.0" cy="506.4" r="4.75"/><circle cx="713.3" cy="506.7" r="4.75"/><circle cx="713.8" cy="507.0" r="4.75"/><circle cx="721.9" cy="507.3" r="4.75"/><circle cx="713.7" cy="507.8" r="4.75"/><circle cx="719.1" cy="508.0" r="4.75"/><circle cx="719.3" cy="508.4" r="4.75"/><circle cx="713.8" cy="508.5" r="4.75"/><circle cx="713.3" cy="508.8" r="4.75"/><circle cx="722.2" cy="509.2" r="4.75"/><circle cx="716.3" cy="509.6" r="4.75"/><circle cx="716.1" cy="509.9" r="4.75"/><circle cx="719.3" cy="510.2" r="4.75"/><circle cx="722.1" cy="510.4" r="4.75"/><circle cx="713.8" cy="510.7" r="4.75"/><circle cx="722.1" cy="511.2" r="4.75"/><circle cx="713.6" cy="511.5" r="4.75"/><circle cx="716.1" cy="512.0" r="4.75"/><circle cx="716.6" cy="512.1" r="4.75"/><circle cx="718.9" cy="512.6" r="4.75"/><circle cx="722.0" cy="512.6" r="4.75"/><circle cx="721.9" cy="513.0" r="4.75"/><circle cx="716.3" cy="513.4" r="4.75"/><circle cx="721.7" cy="513.6" r="4.75"/><circle cx="716.1" cy="513.9" r="4.75"/><circle cx="721.8" cy="514.4" r="4.75"/><circle cx="716.4" cy="514.7" r="4.75"/><circle cx="719.1" cy="514.8" r="4.75"/><circle cx="716.5" cy="515.3" r="4.75"/><circle cx="713.3" cy="515.6" r="4.75"/><circle cx="713.6" cy="516.0" r="4.75"/><circle cx="713.4" cy="516.4" r="4.75"/><circle cx="721.7" cy="516.4" r="4.75"/><circle cx="721.9" cy="516.8" r="4.75"/><circle cx="713.8" cy="517.1" r="4.75"/><circle cx="719.4" cy="517.5" r="4.75"/><circle cx="719.3" cy="517.7" r="4.75"/><circle cx="722.2" cy="518.3" r="4.75"/><circle cx="713.6" cy="518.5" r="4.75"/><circle cx="716.1" cy="518.6" r="4.75"/><circle cx="719.5" cy="518.9" r="4.75"/><circle cx="713.7" cy="519.3" r="4.75"/><circle cx="716.5" cy="519.7" r="4.75"/><circle cx="722.0" cy="520.1" r="4.75"/><circle cx="713.7" cy="520.3" r="4.75"/><circle cx="716.2" cy="520.6" r="4.75"/><circle cx="713.6" cy="521.0" r="4.75"/><circle cx="713.4" cy="521.4" r="4.75"/><circle cx="716.3" cy="521.7" r="4.75"/><circle cx="719.1" cy="522.0" r="4.75"/><circle cx="722.1" cy="522.2" r="4.75"/><circle cx="719.4" cy="522.7" r="4.75"/><circle cx="713.5" cy="522.8" r="4.75"/><circle cx="713.8" cy="523.3" r="4.75"/><circle cx="713.7" cy="523.5" r="4.75"/><circle cx="721.8" cy="523.7" r="4.75"/><circle cx="722.1" cy="524.1" r="4.75"/><circle cx="719.3" cy="524.5" r="4.75"/><circle cx="721.8" cy="524.8" r="4.75"/><circle cx="716.3" cy="525.2" r="4.75"/><circle cx="719.4" cy="525.3" r="4.75"/><circle cx="716.1" cy="525.8" r="4.75"/><circle cx="716.1" cy="526.1" r="4.75"/><circle cx="713.8" cy="526.3" r="4.75"/><circle cx="716.1" cy="526.6" r="4.75"/><circle cx="721.8" cy="527.1" r="4.75"/><circle cx="716.2" cy="527.2" r="4.75"/><circle cx="719.1" cy="527.8" r="4.75"/><circle cx="716.1" cy="528.0" r="4.75"/><circle cx="722.1" cy="528.3" r="4.75"/><circle cx="716.5" cy="528.4" r="4.75"/><circle cx="713.8" cy="529.0" r="4.75"/><circle cx="713.4" cy="529.2" r="4.75"/><circle cx="713.7" cy="529.4" r="4.75"/><circle cx="713.6" cy="529.9" r="4.75"/><circle cx="713.3" cy="530.1" r="4.75"/><circle cx="722.0" cy="530.5" r="4.75"/><circle cx="719.2" cy="531.0" r="4.75"/><circle cx="719.2" cy="531.0" r="4.75"/><circle cx="713.5" cy="531.5" r="4.75"/><circle cx="719.1" cy="531.7" r="4.75"/><circle cx="719.1" cy="532.0" r="4.75"/><circle cx="716.6" cy="532.4" r="4.75"/><circle cx="719.2" cy="532.8" r="4.75"/><circle cx="722.2" cy="533.0" r="4.75"/><circle cx="721.8" cy="533.4" r="4.75"/><circle cx="721.8" cy="533.7" r="4.75"/><circle cx="721.9" cy="533.8" r="4.75"/><circle cx="722.0" cy="534.2" r="4.75"/><circle cx="716.2" cy="534.7" r="4.75"/><circle cx="713.6" cy="534.8" r="4.75"/><circle cx="718.9" cy="535.2" r="4.75"/><circle cx="719.1" cy="535.4" r="4.75"/><circle cx="721.7" cy="536.0" r="4.75"/><circle cx="719.3" cy="536.1" r="4.75"/><circle cx="719.3" cy="536.4" r="4.75"/><circle cx="719.0" cy="536.9" r="4.75"/><circle cx="713.5" cy="537.0" r="4.75"/><circle cx="716.3" cy="537.5" r="4.75"/><circle cx="716.4" cy="537.8" r="4.75"/><circle cx="713.4" cy="538.1" r="4.75"/><circle cx="716.2" cy="538.5" r="4.75"/><circle cx="716.1" cy="538.7" r="4.75"/><circle cx="722.1" cy="539.1" r="4.75"/><circle cx="716.1" cy="539.3" r="4.75"/><circle cx="722.0" cy="539.8" r="4.75"/><circle cx="716.2" cy="540.1" r="4.75"/><circle cx="721.9" cy="540.4" r="4.75"/><circle cx="716.3" cy="540.8" r="4.75"/><circle cx="719.2" cy="541.0" r="4.75"/><circle cx="716.6" cy="541.2" r="4.75"/><circle cx="719.4" cy="541.5" r="4.75"/><circle cx="719.0" cy="541.9" r="4.75"/><circle cx="722.0" cy="542.1" r="4.75"/><circle cx="718.9" cy="542.6" r="4.75"/><circle cx="722.0" cy="542.7" r="4.75"/><circle cx="713.3" cy="543.1" r="4.75"/><circle cx="713.2" cy="543.6" r="4.75"/><circle cx="716.3" cy="543.9" r="4.75"/><circle cx="713.6" cy="544.0" r="4.75"/><circle cx="716.4" cy="544.4" r="4.75"/><circle cx="721.7" cy="544.8" r="4.75"/><circle cx="713.2" cy="545.1" r="4.75"/><circle cx="721.8" cy="545.5" r="4.75"/><circle cx="719.0" cy="545.6" r="4.75"/><circle cx="713.7" cy="545.9" r="4.75"/><circle cx="716.2" cy="546.2" r="4.75"/><circle cx="722.0" cy="546.6" r="4.75"/><circle cx="719.1" cy="547.1" r="4.75"/><circle cx="722.1" cy="547.4" r="4.75"/><circle cx="721.9" cy="547.5" r="4.75"/><circle cx="713.3" cy="548.0" r="4.75"/><circle cx="721.9" cy="548.3" r="4.75"/><circle cx="716.6" cy="548.5" r="4.75"/><circle cx="722.0" cy="548.8" r="4.75"/><circle cx="718.9" cy="549.1" r="4.75"/><circle cx="713.8" cy="549.6" r="4.75"/><circle cx="716.2" cy="549.9" r="4.75"/><circle cx="719.0" cy="550.0" r="4.75"/><circle cx="721.7" cy="550.5" r="4.75"/><circle cx="716.6" cy="550.6" r="4.75"/><circle cx="716.5" cy="551.2" r="4.75"/><circle cx="721.9" cy="551.2" r="4.75"/><circle cx="713.5" cy="551.7" r="4.75"/><circle cx="722.3" cy="552.1" r="4.75"/><circle cx="719.4" cy="552.3" r="4.75"/><circle cx="722.2" cy="552.6" r="4.75"/><circle cx="719.2" cy="552.9" r="4.75"/><circle cx="719.3" cy="553.4" r="4.75"/><circle cx="721.8" cy="553.7" r="4.75"/><circle cx="719.1" cy="554.0" r="4.75"/><circle cx="722.1" cy="554.4" r="4.75"/><circle cx="722.2" cy="554.5" r="4.75"/><circle cx="713.7" cy="554.9" r="4.75"/><circle cx="713.8" cy="555.3" r="4.75"/><circle cx="718.9" cy="555.4" r="4.75"/><circle cx="722.0" cy="555.8" r="4.75"/><circle cx="721.8" cy="556.1" r="4.75"/><circle cx="713.7" cy="556.4" r="4.75"/><circle cx="721.9" cy="556.8" r="4.75"/><circle cx="719.4" cy="557.0" r="4.75"/><circle cx="721.8" cy="557.3" r="4.75"/><circle cx="722.2" cy="557.7" r="4.75"/><circle cx="721.7" cy="558.1" r="4.75"/><circle cx="713.5" cy="558.3" r="4.75"/><circle cx="718.9" cy="558.5" r="4.75"/><circle cx="716.3" cy="559.1" r="4.75"/><circle cx="713.6" cy="559.4" r="4.75"/><circle cx="722.0" cy="559.6" r="4.75"/><circle cx="713.5" cy="560.0" r="4.75"/><circle cx="722.0" cy="560.3" r="4.75"/><circle cx="722.0" cy="560.6" r="4.75"/><circle cx="718.9" cy="561.0" r="4.75"/><circle cx="719.1" cy="561.3" r="4.75"/><circle cx="719.3" cy="561.5" r="4.75"/><circle cx="713.6" cy="561.9" r="4.75"/><circle cx="713.3" cy="562.2" r="4.75"/><circle cx="719.1" cy="562.5" r="4.75"/><circle cx="713.4" cy="562.7" r="4.75"/><circle cx="716.4" cy="563.1" r="4.75"/><circle cx="713.2" cy="563.5" r="4.75"/><circle cx="713.6" cy="563.9" r="4.75"/><circle cx="716.3" cy="564.2" r="4.75"/><circle cx="722.0" cy="564.2" r="4.75"/><circle cx="719.4" cy="564.8" r="4.75"/><circle cx="713.7" cy="564.9" r="4.75"/><circle cx="721.9" cy="565.3" r="4.75"/><circle cx="719.2" cy="565.8" r="4.75"/><circle cx="722.0" cy="565.9" r="4.75"/><circle cx="722.0" cy="566.2" r="4.75"/><circle cx="713.2" cy="566.5" r="4.75"/><circle cx="722.0" cy="566.9" r="4.75"/><circle cx="716.3" cy="567.2" r="4.75"/><circle cx="713.7" cy="567.6" r="4.75"/><circle cx="722.0" cy="567.9" r="4.75"/><circle cx="716.4" cy="568.2" r="4.75"/><circle cx="716.4" cy="568.4" r="4.75"/><circle cx="719.3" cy="569.0" r="4.75"/><circle cx="719.2" cy="569.0" r="4.75"/><circle cx="716.1" cy="569.6" r="4.75"/><circle cx="718.9" cy="569.8" r="4.75"/><circle cx="713.7" cy="570.1" r="4.75"/><circle cx="721.8" cy="570.4" r="4.75"/><circle cx="721.8" cy="570.7" r="4.75"/><circle cx="719.2" cy="571.1" r="4.75"/><circle cx="716.5" cy="571.5" r="4.75"/><circle cx="713.3" cy="571.5" r="4.75"/><circle cx="721.7" cy="571.9" r="4.75"/><circle cx="713.7" cy="572.3" r="4.75"/><circle cx="713.6" cy="572.7" r="4.75"/><circle cx="719.1" cy="572.8" r="4.75"/><circle cx="721.8" cy="573.1" r="4.75"/><circle cx="713.3" cy="573.5" r="4.75"/><circle cx="716.3" cy="573.9" r="4.75"/><circle cx="716.1" cy="574.2" r="4.75"/><circle cx="713.4" cy="574.5" r="4.75"/><circle cx="719.1" cy="574.9" r="4.75"/><circle cx="713.8" cy="575.3" r="4.75"/><circle cx="722.3" cy="575.4" r="4.75"/><circle cx="721.8" cy="575.6" r="4.75"/><circle cx="721.9" cy="576.0" r="4.75"/><circle cx="713.8" cy="576.3" r="4.75"/><circle cx="716.4" cy="576.8" r="4.75"/><circle cx="722.0" cy="577.1" r="4.75"/><circle cx="713.2" cy="577.3" r="4.75"/><circle cx="716.4" cy="577.6" r="4.75"/><circle cx="719.1" cy="577.9" r="4.75"/><circle cx="721.8" cy="578.2" r="4.75"/><circle cx="722.1" cy="578.8" r="4.75"/><circle cx="713.4" cy="578.9" r="4.75"/><circle cx="716.2" cy="579.3" r="4.75"/><circle cx="719.3" cy="579.5" r="4.75"/><circle cx="716.4" cy="579.9" r="4.75"/><circle cx="716.4" cy="580.1" r="4.75"/><circle cx="716.4" cy="580.4" r="4.75"/><circle cx="719.0" cy="581.0" r="4.75"/><circle cx="713.6" cy="581.0" r="4.75"/><circle cx="716.5" cy="581.4" r="4.75"/><circle cx="713.5" cy="581.7" r="4.75"/><circle cx="713.8" cy="582.0" r="4.75"/><circle cx="716.1" cy="582.4" r="4.75"/><circle cx="719.0" cy="582.8" r="4.75"/><circle cx="722.1" cy="583.1" r="4.75"/><circle cx="719.0" cy="583.4" r="4.75"/><circle cx="719.2" cy="583.5" r="4.75"/><circle cx="713.5" cy="584.0" r="4.75"/><circle cx="719.4" cy="584.3" r="4.75"/><circle cx="713.6" cy="584.7" r="4.75"/><circle cx="713.7" cy="585.1" r="4.75"/><circle cx="722.1" cy="585.3" r="4.75"/><circle cx="713.2" cy="585.5" r="4.75"/><circle cx="721.9" cy="585.8" r="4.75"/><circle cx="721.8" cy="586.1" r="4.75"/><circle cx="713.4" cy="586.5" r="4.75"/><circle cx="719.2" cy="586.9" r="4.75"/><circle cx="716.5" cy="587.3" r="4.75"/><circle cx="719.1" cy="587.5" r="4.75"/><circle cx="713.7" cy="587.9" r="4.75"/><circle cx="721.8" cy="588.2" r="4.75"/><circle cx="716.3" cy="588.6" r="4.75"/><circle cx="719.2" cy="588.7" r="4.75"/><circle cx="713.3" cy="589.1" r="4.75"/><circle cx="716.3" cy="589.4" r="4.75"/><circle cx="719.0" cy="589.7" r="4.75"/><circle cx="716.5" cy="590.1" r="4.75"/><circle cx="713.4" cy="590.3" r="4.75"/><circle cx="721.7" cy="590.7" r="4.75"/><circle cx="716.6" cy="591.0" r="4.75"/><circle cx="716.4" cy="591.3" r="4.75"/><circle cx="716.3" cy="591.5" r="4.75"/><circle cx="713.4" cy="591.9" r="4.75"/><circle cx="719.2" cy="592.4" r="4.75"/><circle cx="721.9" cy="592.6" r="4.75"/><circle cx="713.3" cy="592.9" r="4.75"/><circle cx="716.6" cy="593.3" r="4.75"/><circle cx="719.4" cy="593.4" r="4.75"/><circle cx="722.3" cy="593.7" r="4.75"/><circle cx="722.0" cy="594.0" r="4.75"/><circle cx="718.9" cy="594.6" r="4.75"/><circle cx="716.2" cy="594.7" r="4.75"/><circle cx="713.5" cy="595.0" r="4.75"/><circle cx="719.0" cy="595.4" r="4.75"/><circle cx="719.3" cy="595.7" r="4.75"/><circle cx="716.3" cy="595.9" r="4.75"/><circle cx="716.6" cy="596.4" r="4.75"/><circle cx="716.3" cy="596.7" r="4.75"/><circle cx="719.1" cy="597.1" r="4.75"/><circle cx="719.4" cy="597.4" r="4.75"/><circle cx="713.8" cy="597.7" r="4.75"/><circle cx="713.3" cy="597.9" r="4.75"/><circle cx="722.1" cy="598.1" r="4.75"/><circle cx="719.2" cy="598.4" r="4.75"/><circle cx="713.7" cy="598.8" r="4.75"/><circle cx="719.3" cy="599.1" r="4.75"/><circle cx="719.3" cy="599.6" r="4.75"/><circle cx="719.2" cy="599.9" r="4.75"/><circle cx="719.0" cy="600.6" r="4.75"/><circle cx="716.2" cy="601.5" r="4.75"/><circle cx="713.3" cy="601.8" r="4.75"/><circle cx="722.2" cy="602.9" r="4.75"/><circle cx="719.4" cy="603.1" r="4.75"/><circle cx="722.1" cy="604.0" r="4.75"/><circle cx="716.5" cy="604.9" r="4.75"/><circle cx="719.0" cy="605.4" r="4.75"/><circle cx="716.1" cy="606.1" r="4.75"/><circle cx="713.5" cy="607.3" r="4.75"/><circle cx="716.3" cy="607.6" r="4.75"/><circle cx="719.2" cy="608.7" r="4.75"/><circle cx="716.4" cy="609.5" r="4.75"/><circle cx="713.2" cy="609.9" r="4.75"/><circle cx="721.9" cy="611.0" r="4.75"/><circle cx="716.1" cy="611.3" r="4.75"/><circle cx="719.3" cy="612.0" r="4.75"/><circle cx="718.9" cy="613.5" r="4.75"/><circle cx="713.6" cy="614.1" r="4.75"/><circle cx="719.3" cy="614.3" r="4.75"/><circle cx="713.5" cy="615.1" r="4.75"/><circle cx="716.3" cy="615.9" r="4.75"/><circle cx="713.5" cy="617.0" r="4.75"/><circle cx="716.3" cy="617.4" r="4.75"/><circle cx="713.2" cy="618.2" r="4.75"/><circle cx="716.2" cy="619.2" r="4.75"/><circle cx="719.1" cy="619.7" r="4.75"/><circle cx="721.9" cy="620.6" r="4.75"/><circle cx="722.2" cy="621.4" r="4.75"/><circle cx="716.3" cy="622.1" r="4.75"/><circle cx="722.0" cy="623.1" r="4.75"/><circle cx="719.0" cy="623.3" r="4.75"/><circle cx="716.6" cy="624.7" r="4.75"/><circle cx="719.2" cy="625.1" r="4.75"/><circle cx="713.4" cy="625.7" r="4.75"/><circle cx="719.0" cy="627.0" r="4.75"/><circle cx="713.7" cy="627.0" r="4.75"/><circle cx="721.8" cy="627.8" r="4.75"/><circle cx="722.1" cy="629.0" r="4.75"/><circle cx="713.4" cy="629.5" r="4.75"/><circle cx="713.4" cy="630.6" r="4.75"/><circle cx="716.5" cy="631.2" r="4.75"/><circle cx="718.9" cy="632.1" r="4.75"/><circle cx="716.6" cy="632.3" r="4.75"/><circle cx="713.8" cy="633.2" r="4.75"/><circle cx="716.1" cy="634.4" r="4.75"/><circle cx="722.0" cy="634.6" r="4.75"/><circle cx="716.6" cy="635.4" r="4.75"/><circle cx="716.6" cy="636.0" r="4.75"/><circle cx="716.2" cy="636.8" r="4.75"/><circle cx="713.4" cy="638.1" r="4.75"/><circle cx="713.6" cy="638.3" r="4.75"/><circle cx="721.9" cy="639.5" r="4.75"/><circle cx="722.1" cy="639.8" r="4.75"/><circle cx="719.2" cy="640.6" r="4.75"/><circle cx="719.2" cy="641.5" r="4.75"/><circle cx="722.0" cy="642.2" r="4.75"/><circle cx="716.4" cy="643.0" r="4.75"/><circle cx="721.9" cy="643.6" r="4.75"/><circle cx="722.2" cy="644.5" r="4.75"/><circle cx="716.5" cy="645.1" r="4.75"/><circle cx="716.3" cy="645.9" r="4.75"/><circle cx="716.3" cy="646.6" r="4.75"/><circle cx="719.2" cy="647.5" r="4.75"/><circle cx="718.9" cy="648.2" r="4.75"/><circle cx="719.4" cy="649.1" r="4.75"/><circle cx="713.6" cy="650.2" r="4.75"/><circle cx="713.5" cy="650.7" r="4.75"/><circle cx="722.1" cy="651.6" r="4.75"/><circle cx="716.6" cy="652.3" r="4.75"/><circle cx="716.1" cy="652.9" r="4.75"/><circle cx="716.0" cy="653.5" r="4.75"/><circle cx="716.5" cy="654.0" r="4.75"/><circle cx="721.9" cy="655.2" r="4.75"/><circle cx="713.5" cy="655.8" r="4.75"/><circle cx="713.7" cy="657.0" r="4.75"/><circle cx="713.5" cy="657.7" r="4.75"/><circle cx="719.4" cy="658.4" r="4.75"/><circle cx="713.3" cy="658.7" r="4.75"/><circle cx="716.4" cy="660.0" r="4.75"/><circle cx="742.2" cy="411.0" r="4.75"/><circle cx="739.9" cy="412.5" r="4.75"/><circle cx="737.9" cy="414.3" r="4.75"/><circle cx="739.7" cy="415.1" r="4.75"/><circle cx="738.1" cy="415.8" r="4.75"/><circle cx="737.8" cy="417.3" r="4.75"/><circle cx="742.2" cy="418.6" r="4.75"/><circle cx="742.2" cy="419.1" r="4.75"/><circle cx="742.2" cy="419.4" r="4.75"/><circle cx="742.2" cy="420.3" r="4.75"/><circle cx="741.7" cy="420.3" r="4.75"/><circle cx="737.8" cy="421.2" r="4.75"/><circle cx="740.2" cy="422.0" r="4.75"/><circle cx="737.9" cy="422.3" r="4.75"/><circle cx="738.1" cy="423.1" r="4.75"/><circle cx="742.1" cy="423.2" r="4.75"/><circle cx="742.1" cy="424.2" r="4.75"/><circle cx="740.3" cy="424.3" r="4.75"/><circle cx="740.1" cy="425.0" r="4.75"/><circle cx="739.7" cy="425.9" r="4.75"/><circle cx="738.2" cy="426.5" r="4.75"/><circle cx="742.2" cy="426.8" r="4.75"/><circle cx="738.0" cy="427.2" r="4.75"/><circle cx="739.7" cy="427.8" r="4.75"/><circle cx="740.2" cy="428.6" r="4.75"/><circle cx="742.1" cy="428.9" r="4.75"/><circle cx="740.0" cy="429.9" r="4.75"/><circle cx="737.8" cy="430.2" r="4.75"/><circle cx="739.8" cy="430.8" r="4.75"/><circle cx="738.0" cy="431.8" r="4.75"/><circle cx="740.2" cy="432.0" r="4.75"/><circle cx="740.2" cy="432.5" r="4.75"/><circle cx="737.9" cy="433.4" r="4.75"/><circle cx="742.0" cy="433.8" r="4.75"/><circle cx="740.1" cy="434.6" r="4.75"/><circle cx="737.9" cy="435.0" r="4.75"/><circle cx="742.1" cy="435.3" r="4.75"/><circle cx="739.8" cy="436.2" r="4.75"/><circle cx="737.9" cy="436.6" r="4.75"/><circle cx="742.2" cy="437.5" r="4.75"/><circle cx="740.1" cy="437.9" r="4.75"/><circle cx="738.0" cy="438.4" r="4.75"/><circle cx="739.8" cy="439.0" r="4.75"/><circle cx="742.2" cy="439.7" r="4.75"/><circle cx="742.0" cy="440.4" r="4.75"/><circle cx="741.8" cy="440.5" r="4.75"/><circle cx="740.0" cy="441.4" r="4.75"/><circle cx="741.8" cy="441.9" r="4.75"/><circle cx="742.1" cy="442.4" r="4.75"/><circle cx="737.8" cy="442.9" r="4.75"/><circle cx="742.1" cy="443.5" r="4.75"/><circle cx="737.7" cy="444.2" r="4.75"/><circle cx="740.3" cy="444.7" r="4.75"/><circle cx="738.2" cy="445.1" r="4.75"/><circle cx="742.2" cy="445.8" r="4.75"/><circle cx="742.1" cy="446.7" r="4.75"/><circle cx="739.9" cy="446.8" r="4.75"/><circle cx="737.7" cy="447.4" r="4.75"/><circle cx="740.2" cy="448.4" r="4.75"/><circle cx="738.2" cy="448.9" r="4.75"/><circle cx="740.1" cy="449.5" r="4.75"/><circle cx="739.9" cy="449.8" r="4.75"/><circle cx="738.1" cy="450.3" r="4.75"/><circle cx="739.9" cy="451.0" r="4.75"/><circle cx="737.9" cy="451.6" r="4.75"/><circle cx="739.7" cy="452.1" r="4.75"/><circle cx="737.8" cy="452.5" r="4.75"/><circle cx="739.8" cy="453.4" r="4.75"/><circle cx="741.9" cy="453.9" r="4.75"/><circle cx="739.9" cy="454.3" r="4.75"/><circle cx="740.1" cy="455.0" r="4.75"/><circle cx="741.9" cy="455.4" r="4.75"/><circle cx="738.1" cy="456.3" r="4.75"/><circle cx="739.9" cy="456.6" r="4.75"/><circle cx="740.2" cy="457.2" r="4.75"/><circle cx="738.3" cy="458.0" r="4.75"/><circle cx="737.7" cy="458.3" r="4.75"/><circle cx="738.3" cy="459.2" r="4.75"/><circle cx="742.1" cy="459.5" r="4.75"/><circle cx="738.2" cy="460.3" r="4.75"/><circle cx="742.0" cy="460.7" r="4.75"/><circle cx="738.2" cy="461.2" r="4.75"/><circle cx="740.0" cy="461.7" r="4.75"/><circle cx="738.1" cy="462.5" r="4.75"/><circle cx="741.9" cy="462.9" r="4.75"/><circle cx="737.9" cy="463.7" r="4.75"/><circle cx="742.1" cy="464.3" r="4.75"/><circle cx="739.8" cy="464.7" r="4.75"/><circle cx="741.8" cy="465.5" r="4.75"/><circle cx="740.0" cy="466.0" r="4.75"/><circle cx="741.7" cy="466.3" r="4.75"/><circle cx="738.2" cy="467.2" r="4.75"/><circle cx="737.8" cy="467.4" r="4.75"/><circle cx="740.2" cy="468.3" r="4.75"/><circle cx="742.1" cy="469.1" r="4.75"/><circle cx="739.7" cy="469.7" r="4.75"/><circle cx="742.0" cy="469.9" r="4.75"/><circle cx="740.0" cy="470.3" r="4.75"/><circle cx="739.8" cy="471.4" r="4.75"/><circle cx="738.2" cy="471.9" r="4.75"/><circle cx="741.9" cy="472.3" r="4.75"/><circle cx="742.0" cy="472.8" r="4.75"/><circle cx="740.0" cy="473.3" r="4.75"/><circle cx="742.0" cy="473.8" r="4.75"/><circle cx="742.2" cy="474.6" r="4.75"/><circle cx="741.9" cy="475.4" r="4.75"/><circle cx="740.2" cy="475.8" r="4.75"/><circle cx="742.1" cy="476.4" r="4.75"/><circle cx="739.9" cy="476.8" r="4.75"/><circle cx="737.9" cy="477.2" r="4.75"/><circle cx="738.1" cy="478.3" r="4.75"/><circle cx="739.9" cy="478.5" r="4.75"/><circle cx="738.0" cy="479.4" r="4.75"/><circle cx="738.1" cy="479.6" r="4.75"/><circle cx="737.8" cy="480.3" r="4.75"/><circle cx="737.7" cy="480.9" r="4.75"/><circle cx="740.0" cy="481.2" r="4.75"/><circle cx="740.2" cy="482.0" r="4.75"/><circle cx="738.3" cy="482.3" r="4.75"/><circle cx="741.9" cy="482.9" r="4.75"/><circle cx="742.3" cy="484.0" r="4.75"/><circle cx="738.1" cy="484.6" r="4.75"/><circle cx="740.1" cy="485.1" r="4.75"/><circle cx="739.7" cy="485.7" r="4.75"/><circle cx="740.2" cy="486.0" r="4.75"/><circle cx="740.0" cy="486.5" r="4.75"/><circle cx="738.2" cy="487.1" r="4.75"/><circle cx="740.1" cy="487.5" r="4.75"/><circle cx="740.1" cy="488.4" r="4.75"/><circle cx="739.7" cy="488.9" r="4.75"/><circle cx="738.2" cy="489.6" r="4.75"/><circle cx="737.9" cy="490.1" r="4.75"/><circle cx="740.2" cy="490.5" r="4.75"/><circle cx="742.1" cy="491.2" r="4.75"/><circle cx="738.1" cy="491.6" r="4.75"/><circle cx="737.8" cy="492.1" r="4.75"/><circle cx="742.2" cy="492.7" r="4.75"/><circle cx="741.8" cy="493.8" r="4.75"/><circle cx="741.8" cy="494.0" r="4.75"/><circle cx="739.9" cy="494.8" r="4.75"/><circle cx="739.7" cy="495.4" r="4.75"/><circle cx="740.2" cy="495.9" r="4.75"/><circle cx="740.1" cy="496.2" r="4.75"/><circle cx="740.2" cy="497.1" r="4.75"/><circle cx="741.8" cy="497.3" r="4.75"/><circle cx="739.7" cy="498.0" r="4.75"/><circle cx="737.7" cy="498.7" r="4.75"/><circle cx="740.2" cy="499.0" r="4.75"/><circle cx="737.7" cy="500.1" r="4.75"/><circle cx="742.3" cy="500.4" r="4.75"/><circle cx="738.3" cy="501.0" r="4.75"/><circle cx="742.1" cy="501.4" r="4.75"/><circle cx="740.2" cy="502.0" r="4.75"/><circle cx="741.8" cy="502.6" r="4.75"/><circle cx="738.1" cy="503.2" r="4.75"/><circle cx="737.9" cy="504.0" r="4.75"/><circle cx="739.7" cy="504.3" r="4.75"/><circle cx="738.3" cy="504.8" r="4.75"/><circle cx="742.3" cy="505.5" r="4.75"/><circle cx="740.2" cy="506.3" r="4.75"/><circle cx="738.2" cy="506.4" r="4.75"/><circle cx="739.9" cy="507.1" r="4.75"/><circle cx="737.8" cy="508.1" r="4.75"/><circle cx="742.1" cy="508.6" r="4.75"/><circle cx="738.2" cy="509.1" r="4.75"/><circle cx="741.8" cy="509.6" r="4.75"/><circle cx="739.8" cy="510.2" r="4.75"/><circle cx="738.3" cy="511.0" r="4.75"/><circle cx="738.1" cy="511.3" r="4.75"/><circle cx="741.8" cy="512.0" r="4.75"/><circle cx="739.8" cy="512.3" r="4.75"/><circle cx="740.0" cy="512.9" r="4.75"/><circle cx="741.8" cy="513.9" r="4.75"/><circle cx="740.0" cy="514.2" r="4.75"/><circle cx="738.0" cy="515.0" r="4.75"/><circle cx="737.9" cy="515.5" r="4.75"/><circle cx="740.2" cy="516.0" r="4.75"/><circle cx="741.8" cy="516.5" r="4.75"/><circle cx="739.9" cy="517.1" r="4.75"/><circle cx="737.8" cy="517.8" r="4.75"/><circle cx="742.3" cy="518.3" r="4.75"/><circle cx="737.7" cy="518.6" r="4.75"/><circle cx="740.3" cy="519.1" r="4.75"/><circle cx="738.1" cy="520.0" r="4.75"/><circle cx="737.7" cy="520.3" r="4.75"/><circle cx="740.0" cy="521.0" r="4.75"/><circle cx="742.0" cy="521.9" r="4.75"/><circle cx="740.0" cy="522.5" r="4.75"/><circle cx="742.1" cy="522.9" r="4.75"/><circle cx="739.8" cy="523.6" r="4.75"/><circle cx="741.9" cy="524.1" r="4.75"/><circle cx="742.0" cy="524.7" r="4.75"/><circle cx="739.9" cy="525.1" r="4.75"/><circle cx="739.9" cy="525.7" r="4.75"/><circle cx="740.1" cy="526.3" r="4.75"/><circle cx="737.7" cy="526.9" r="4.75"/><circle cx="738.1" cy="527.6" r="4.75"/><circle cx="742.0" cy="528.0" r="4.75"/><circle cx="740.2" cy="528.4" r="4.75"/><circle cx="741.9" cy="529.0" r="4.75"/><circle cx="738.2" cy="530.0" r="4.75"/><circle cx="740.2" cy="530.4" r="4.75"/><circle cx="741.9" cy="530.6" r="4.75"/><circle cx="738.3" cy="531.7" r="4.75"/><circle cx="742.0" cy="532.0" r="4.75"/><circle cx="740.1" cy="532.3" r="4.75"/><circle cx="738.0" cy="533.4" r="4.75"/><circle cx="742.3" cy="533.6" r="4.75"/><circle cx="740.2" cy="534.5" r="4.75"/><circle cx="740.0" cy="535.0" r="4.75"/><circle cx="739.9" cy="535.2" r="4.75"/><circle cx="740.1" cy="536.2" r="4.75"/><circle cx="741.9" cy="536.7" r="4.75"/><circle cx="740.0" cy="537.1" r="4.75"/><circle cx="740.2" cy="537.5" r="4.75"/><circle cx="742.1" cy="538.4" r="4.75"/><circle cx="740.2" cy="538.9" r="4.75"/><circle cx="741.8" cy="539.2" r="4.75"/><circle cx="740.2" cy="539.9" r="4.75"/><circle cx="742.0" cy="540.4" r="4.75"/><circle cx="741.9" cy="541.0" r="4.75"/><circle cx="742.1" cy="541.6" r="4.75"/><circle cx="742.2" cy="542.6" r="4.75"/><circle cx="742.1" cy="543.0" r="4.75"/><circle cx="738.0" cy="543.3" r="4.75"/><circle cx="738.2" cy="544.3" r="4.75"/><circle cx="742.0" cy="544.4" r="4.75"/><circle cx="741.8" cy="545.4" r="4.75"/><circle cx="741.8" cy="545.7" r="4.75"/><circle cx="737.8" cy="546.3" r="4.75"/><circle cx="740.0" cy="546.8" r="4.75"/><circle cx="738.1" cy="547.7" r="4.75"/><circle cx="739.8" cy="547.9" r="4.75"/><circle cx="738.2" cy="548.4" r="4.75"/><circle cx="738.1" cy="549.3" r="4.75"/><circle cx="741.8" cy="550.0" r="4.75"/><circle cx="740.1" cy="550.3" r="4.75"/><circle cx="739.9" cy="550.8" r="4.75"/><circle cx="740.0" cy="551.7" r="4.75"/><circle cx="742.1" cy="552.2" r="4.75"/><circle cx="739.7" cy="552.7" r="4.75"/><circle cx="737.9" cy="553.4" r="4.75"/><circle cx="742.2" cy="554.0" r="4.75"/><circle cx="741.8" cy="554.2" r="4.75"/><circle cx="738.2" cy="554.8" r="4.75"/><circle cx="740.0" cy="555.7" r="4.75"/><circle cx="740.1" cy="556.0" r="4.75"/><circle cx="738.1" cy="556.8" r="4.75"/><circle cx="738.0" cy="557.3" r="4.75"/><circle cx="742.2" cy="557.9" r="4.75"/><circle cx="741.9" cy="558.4" r="4.75"/><circle cx="739.9" cy="558.9" r="4.75"/><circle cx="738.0" cy="559.4" r="4.75"/><circle cx="737.7" cy="560.4" r="4.75"/><circle cx="738.2" cy="560.9" r="4.75"/><circle cx="737.8" cy="561.4" r="4.75"/><circle cx="739.8" cy="561.9" r="4.75"/><circle cx="740.1" cy="562.2" r="4.75"/><circle cx="738.1" cy="562.8" r="4.75"/><circle cx="738.2" cy="563.9" r="4.75"/><circle cx="742.0" cy="564.3" r="4.75"/><circle cx="738.1" cy="565.0" r="4.75"/><circle cx="742.1" cy="565.6" r="4.75"/><circle cx="742.1" cy="565.9" r="4.75"/><circle cx="741.8" cy="566.4" r="4.75"/><circle cx="740.2" cy="566.7" r="4.75"/><circle cx="738.1" cy="567.5" r="4.75"/><circle cx="737.9" cy="568.2" r="4.75"/><circle cx="739.9" cy="568.6" r="4.75"/><circle cx="740.3" cy="569.5" r="4.75"/><circle cx="738.2" cy="569.7" r="4.75"/><circle cx="740.2" cy="570.5" r="4.75"/><circle cx="738.0" cy="570.8" r="4.75"/><circle cx="739.9" cy="571.4" r="4.75"/><circle cx="742.0" cy="571.9" r="4.75"/><circle cx="742.2" cy="573.0" r="4.75"/><circle cx="737.7" cy="573.6" r="4.75"/><circle cx="740.0" cy="574.0" r="4.75"/><circle cx="739.7" cy="574.5" r="4.75"/><circle cx="739.9" cy="574.9" r="4.75"/><circle cx="740.0" cy="575.5" r="4.75"/><circle cx="739.9" cy="576.5" r="4.75"/><circle cx="739.7" cy="577.0" r="4.75"/><circle cx="740.1" cy="577.3" r="4.75"/><circle cx="742.0" cy="577.8" r="4.75"/><circle cx="738.0" cy="578.5" r="4.75"/><circle cx="737.9" cy="578.9" r="4.75"/><circle cx="738.0" cy="579.9" r="4.75"/><circle cx="742.3" cy="580.3" r="4.75"/><circle cx="742.2" cy="581.0" r="4.75"/><circle cx="741.9" cy="581.2" r="4.75"/><circle cx="740.2" cy="581.9" r="4.75"/><circle cx="741.9" cy="582.8" r="4.75"/><circle cx="742.2" cy="583.2" r="4.75"/><circle cx="742.0" cy="583.6" r="4.75"/><circle cx="742.1" cy="584.0" r="4.75"/><circle cx="738.0" cy="585.0" r="4.75"/><circle cx="738.2" cy="585.2" r="4.75"/><circle cx="738.0" cy="586.1" r="4.75"/><circle cx="737.8" cy="586.8" r="4.75"/><circle cx="739.9" cy="587.2" r="4.75"/><circle cx="742.2" cy="587.7" r="4.75"/><circle cx="740.0" cy="588.4" r="4.75"/><circle cx="741.7" cy="588.9" r="4.75"/><circle cx="738.1" cy="589.3" r="4.75"/><circle cx="742.2" cy="589.8" r="4.75"/><circle cx="742.2" cy="590.6" r="4.75"/><circle cx="738.2" cy="590.9" r="4.75"/><circle cx="740.1" cy="592.0" r="4.75"/><circle cx="738.1" cy="592.4" r="4.75"/><circle cx="737.9" cy="593.1" r="4.75"/><circle cx="737.7" cy="593.5" r="4.75"/><circle cx="738.0" cy="594.0" r="4.75"/><circle cx="737.9" cy="594.7" r="4.75"/><circle cx="739.7" cy="595.1" r="4.75"/><circle cx="738.0" cy="595.6" r="4.75"/><circle cx="740.0" cy="596.4" r="4.75"/><circle cx="742.3" cy="596.6" r="4.75"/><circle cx="738.0" cy="597.2" r="4.75"/><circle cx="742.1" cy="598.0" r="4.75"/><circle cx="741.7" cy="598.7" r="4.75"/><circle cx="741.8" cy="599.4" r="4.75"/><circle cx="741.8" cy="599.6" r="4.75"/><circle cx="737.9" cy="600.1" r="4.75"/><circle cx="740.0" cy="600.8" r="4.75"/><circle cx="738.1" cy="601.5" r="4.75"/><circle cx="741.8" cy="602.2" r="4.75"/><circle cx="741.8" cy="602.5" r="4.75"/><circle cx="740.2" cy="603.1" r="4.75"/><circle cx="742.1" cy="603.8" r="4.75"/><circle cx="737.8" cy="604.4" r="4.75"/><circle cx="739.9" cy="605.0" r="4.75"/><circle cx="737.9" cy="605.6" r="4.75"/><circle cx="740.2" cy="605.9" r="4.75"/><circle cx="742.2" cy="606.4" r="4.75"/><circle cx="741.8" cy="607.2" r="4.75"/><circle cx="740.0" cy="608.0" r="4.75"/><circle cx="737.8" cy="608.5" r="4.75"/><circle cx="738.1" cy="608.9" r="4.75"/><circle cx="739.8" cy="609.3" r="4.75"/><circle cx="742.1" cy="610.3" r="4.75"/><circle cx="742.0" cy="610.6" r="4.75"/><circle cx="741.8" cy="611.3" r="4.75"/><circle cx="742.3" cy="612.1" r="4.75"/><circle cx="740.1" cy="612.2" r="4.75"/><circle cx="740.2" cy="613.2" r="4.75"/><circle cx="741.9" cy="613.4" r="4.75"/><circle cx="742.1" cy="614.3" r="4.75"/><circle cx="739.8" cy="614.4" r="4.75"/><circle cx="740.3" cy="615.3" r="4.75"/><circle cx="737.8" cy="615.8" r="4.75"/><circle cx="740.1" cy="616.2" r="4.75"/><circle cx="739.8" cy="616.9" r="4.75"/><circle cx="737.7" cy="617.8" r="4.75"/><circle cx="740.1" cy="618.0" r="4.75"/><circle cx="739.7" cy="618.8" r="4.75"/><circle cx="740.0" cy="619.1" r="4.75"/><circle cx="740.3" cy="620.0" r="4.75"/><circle cx="742.2" cy="620.3" r="4.75"/><circle cx="738.0" cy="620.9" r="4.75"/><circle cx="737.9" cy="621.4" r="4.75"/><circle cx="742.0" cy="621.8" r="4.75"/><circle cx="740.0" cy="622.6" r="4.75"/><circle cx="742.3" cy="622.9" r="4.75"/><circle cx="740.0" cy="623.3" r="4.75"/><circle cx="742.0" cy="624.0" r="4.75"/><circle cx="737.7" cy="624.7" r="4.75"/><circle cx="739.9" cy="624.9" r="4.75"/><circle cx="740.0" cy="625.5" r="4.75"/><circle cx="742.3" cy="626.5" r="4.75"/><circle cx="742.2" cy="627.1" r="4.75"/><circle cx="738.1" cy="627.4" r="4.75"/><circle cx="738.1" cy="627.7" r="4.75"/><circle cx="739.8" cy="628.1" r="4.75"/><circle cx="740.2" cy="629.0" r="4.75"/><circle cx="738.0" cy="629.4" r="4.75"/><circle cx="741.8" cy="630.2" r="4.75"/><circle cx="737.7" cy="630.3" r="4.75"/><circle cx="740.0" cy="631.1" r="4.75"/><circle cx="740.0" cy="631.4" r="4.75"/><circle cx="738.1" cy="632.0" r="4.75"/><circle cx="738.1" cy="632.9" r="4.75"/><circle cx="739.9" cy="633.4" r="4.75"/><circle cx="739.9" cy="634.0" r="4.75"/><circle cx="738.0" cy="634.5" r="4.75"/><circle cx="738.2" cy="634.7" r="4.75"/><circle cx="740.1" cy="635.6" r="4.75"/><circle cx="742.1" cy="635.8" r="4.75"/><circle cx="740.1" cy="636.5" r="4.75"/><circle cx="738.2" cy="636.8" r="4.75"/><circle cx="738.0" cy="637.6" r="4.75"/><circle cx="742.1" cy="638.2" r="4.75"/><circle cx="737.8" cy="638.8" r="4.75"/><circle cx="737.8" cy="639.4" r="4.75"/><circle cx="742.1" cy="639.7" r="4.75"/><circle cx="741.7" cy="640.2" r="4.75"/><circle cx="737.7" cy="640.7" r="4.75"/><circle cx="739.9" cy="641.3" r="4.75"/><circle cx="740.2" cy="642.1" r="4.75"/><circle cx="742.1" cy="642.5" r="4.75"/><circle cx="740.1" cy="642.8" r="4.75"/><circle cx="739.7" cy="643.6" r="4.75"/><circle cx="740.0" cy="644.1" r="4.75"/><circle cx="740.0" cy="644.7" r="4.75"/><circle cx="742.0" cy="645.2" r="4.75"/><circle cx="741.9" cy="645.7" r="4.75"/><circle cx="742.2" cy="646.1" r="4.75"/><circle cx="739.8" cy="646.8" r="4.75"/><circle cx="742.1" cy="647.4" r="4.75"/><circle cx="742.2" cy="647.7" r="4.75"/><circle cx="738.0" cy="648.1" r="4.75"/><circle cx="741.9" cy="649.0" r="4.75"/><circle cx="738.0" cy="649.3" r="4.75"/><circle cx="740.0" cy="649.7" r="4.75"/><circle cx="742.2" cy="650.7" r="4.75"/><circle cx="737.9" cy="651.2" r="4.75"/><circle cx="737.7" cy="651.5" r="4.75"/><circle cx="742.3" cy="652.2" r="4.75"/><circle cx="738.1" cy="652.8" r="4.75"/><circle cx="742.1" cy="653.4" r="4.75"/><circle cx="740.1" cy="653.7" r="4.75"/><circle cx="740.3" cy="654.5" r="4.75"/><circle cx="741.7" cy="654.7" r="4.75"/><circle cx="740.2" cy="655.4" r="4.75"/><circle cx="741.7" cy="656.0" r="4.75"/><circle cx="740.2" cy="656.2" r="4.75"/><circle cx="738.1" cy="656.9" r="4.75"/><circle cx="742.1" cy="657.4" r="4.75"/><circle cx="739.8" cy="658.0" r="4.75"/><circle cx="742.1" cy="658.3" r="4.75"/><circle cx="737.9" cy="659.2" r="4.75"/><circle cx="738.2" cy="659.4" r="4.75"/><circle cx="739.9" cy="660.0" r="4.75"/><circle cx="739.8" cy="660.7" r="4.75"/><circle cx="737.8" cy="661.2" r="4.75"/><circle cx="742.0" cy="661.9" r="4.75"/><circle cx="749.3" cy="403.7" r="4.75"/><circle cx="746.2" cy="404.4" r="4.75"/><circle cx="754.2" cy="405.0" r="4.75"/><circle cx="753.9" cy="406.1" r="4.75"/><circle cx="748.8" cy="406.6" r="4.75"/><circle cx="746.4" cy="407.9" r="4.75"/><circle cx="751.7" cy="408.5" r="4.75"/><circle cx="749.0" cy="409.6" r="4.75"/><circle cx="753.8" cy="410.1" r="4.75"/><circle cx="753.9" cy="410.4" r="4.75"/><circle cx="753.9" cy="411.1" r="4.75"/><circle cx="751.3" cy="411.3" r="4.75"/><circle cx="753.9" cy="411.7" r="4.75"/><circle cx="749.2" cy="412.1" r="4.75"/><circle cx="751.4" cy="412.6" r="4.75"/><circle cx="749.3" cy="412.9" r="4.75"/><circle cx="746.7" cy="413.6" r="4.75"/><circle cx="751.6" cy="413.8" r="4.75"/><circle cx="749.2" cy="414.1" r="4.75"/><circle cx="748.9" cy="414.6" r="4.75"/><circle cx="749.2" cy="415.2" r="4.75"/><circle cx="751.4" cy="415.3" r="4.75"/><circle cx="748.7" cy="415.8" r="4.75"/><circle cx="751.4" cy="416.2" r="4.75"/><circle cx="754.1" cy="416.6" r="4.75"/><circle cx="754.1" cy="416.9" r="4.75"/><circle cx="748.7" cy="417.4" r="4.75"/><circle cx="754.0" cy="417.9" r="4.75"/><circle cx="748.9" cy="418.4" r="4.75"/><circle cx="746.2" cy="418.7" r="4.75"/><circle cx="751.5" cy="419.2" r="4.75"/><circle cx="751.5" cy="419.6" r="4.75"/><circle cx="746.3" cy="419.7" r="4.75"/><circle cx="748.8" cy="420.2" r="4.75"/><circle cx="746.5" cy="420.6" r="4.75"/><circle cx="751.4" cy="421.2" r="4.75"/><circle cx="751.3" cy="421.4" r="4.75"/><circle cx="751.8" cy="422.0" r="4.75"/><circle cx="746.7" cy="422.2" r="4.75"/><circle cx="751.8" cy="422.5" r="4.75"/><circle cx="751.6" cy="422.9" r="4.75"/><circle cx="751.6" cy="423.5" r="4.75"/><circle cx="746.5" cy="423.8" r="4.75"/><circle cx="749.2" cy="424.1" r="4.75"/><circle cx="754.1" cy="424.7" r="4.75"/><circle cx="751.3" cy="425.2" r="4.75"/><circle cx="748.8" cy="425.5" r="4.75"/><circle cx="751.6" cy="425.9" r="4.75"/><circle cx="746.2" cy="426.2" r="4.75"/><circle cx="746.6" cy="426.6" r="4.75"/><circle cx="754.1" cy="427.1" r="4.75"/><circle cx="749.1" cy="427.5" r="4.75"/><circle cx="748.7" cy="428.0" r="4.75"/><circle cx="751.2" cy="428.4" r="4.75"/><circle cx="748.8" cy="428.7" r="4.75"/><circle cx="746.6" cy="428.9" r="4.75"/><circle cx="753.9" cy="429.4" r="4.75"/><circle cx="751.3" cy="430.1" r="4.75"/><circle cx="749.3" cy="430.3" r="4.75"/><circle cx="749.2" cy="430.8" r="4.75"/><circle cx="751.7" cy="430.9" r="4.75"/><circle cx="751.2" cy="431.5" r="4.75"/><circle cx="751.8" cy="431.9" r="4.75"/><circle cx="749.0" cy="432.1" r="4.75"/><circle cx="748.9" cy="432.9" r="4.75"/><circle cx="751.5" cy="433.0" r="4.75"/><circle cx="753.7" cy="433.5" r="4.75"/><circle cx="753.8" cy="433.8" r="4.75"/><circle cx="746.3" cy="434.4" r="4.75"/><circle cx="754.2" cy="434.6" r="4.75"/><circle cx="746.6" cy="435.0" r="4.75"/><circle cx="751.7" cy="435.5" r="4.75"/><circle cx="753.8" cy="435.8" r="4.75"/><circle cx="746.3" cy="436.3" r="4.75"/><circle cx="754.0" cy="436.5" r="4.75"/><circle cx="751.6" cy="437.1" r="4.75"/><circle cx="749.0" cy="437.4" r="4.75"/><circle cx="754.1" cy="438.1" r="4.75"/><circle cx="746.4" cy="438.2" r="4.75"/><circle cx="751.5" cy="438.8" r="4.75"/><circle cx="746.2" cy="439.1" r="4.75"/><circle cx="753.8" cy="439.5" r="4.75"/><circle cx="754.0" cy="439.8" r="4.75"/><circle cx="754.2" cy="440.5" r="4.75"/><circle cx="746.8" cy="440.9" r="4.75"/><circle cx="751.8" cy="441.0" r="4.75"/><circle cx="746.6" cy="441.7" r="4.75"/><circle cx="753.8" cy="442.1" r="4.75"/><circle cx="746.3" cy="442.3" r="4.75"/><circle cx="746.3" cy="442.9" r="4.75"/><circle cx="753.7" cy="443.3" r="4.75"/><circle cx="746.4" cy="443.7" r="4.75"/><circle cx="751.4" cy="444.1" r="4.75"/><circle cx="753.8" cy="444.6" r="4.75"/><circle cx="748.7" cy="444.8" r="4.75"/><circle cx="746.6" cy="445.1" r="4.75"/><circle cx="751.3" cy="445.5" r="4.75"/><circle cx="751.4" cy="445.8" r="4.75"/><circle cx="749.2" cy="446.4" r="4.75"/><circle cx="754.1" cy="446.8" r="4.75"/><circle cx="751.2" cy="447.3" r="4.75"/><circle cx="748.7" cy="447.6" r="4.75"/><circle cx="746.6" cy="447.9" r="4.75"/><circle cx="751.2" cy="448.5" r="4.75"/><circle cx="746.7" cy="448.7" r="4.75"/><circle cx="746.2" cy="449.2" r="4.75"/><circle cx="751.3" cy="449.7" r="4.75"/><circle cx="748.9" cy="450.1" r="4.75"/><circle cx="753.8" cy="450.4" r="4.75"/><circle cx="746.3" cy="451.0" r="4.75"/><circle cx="753.9" cy="451.0" r="4.75"/><circle cx="754.2" cy="451.7" r="4.75"/><circle cx="753.9" cy="452.1" r="4.75"/><circle cx="746.7" cy="452.5" r="4.75"/><circle cx="751.5" cy="452.6" r="4.75"/><circle cx="746.5" cy="453.2" r="4.75"/><circle cx="748.8" cy="453.6" r="4.75"/><circle cx="749.0" cy="454.1" r="4.75"/><circle cx="754.0" cy="454.4" r="4.75"/><circle cx="751.8" cy="454.7" r="4.75"/><circle cx="746.7" cy="455.3" r="4.75"/><circle cx="746.3" cy="455.5" r="4.75"/><circle cx="748.8" cy="456.1" r="4.75"/><circle cx="751.6" cy="456.4" r="4.75"/><circle cx="748.8" cy="456.8" r="4.75"/><circle cx="749.0" cy="457.1" r="4.75"/><circle cx="746.3" cy="457.6" r="4.75"/><circle cx="748.7" cy="457.9" r="4.75"/><circle cx="751.6" cy="458.5" r="4.75"/><circle cx="754.2" cy="458.7" r="4.75"/><circle cx="749.3" cy="459.1" r="4.75"/><circle cx="751.3" cy="459.7" r="4.75"/><circle cx="746.4" cy="460.2" r="4.75"/><circle cx="749.2" cy="460.5" r="4.75"/><circle cx="749.0" cy="460.9" r="4.75"/><circle cx="753.9" cy="461.3" r="4.75"/><circle cx="749.2" cy="461.8" r="4.75"/><circle cx="748.9" cy="462.1" r="4.75"/><circle cx="751.6" cy="462.3" r="4.75"/><circle cx="751.4" cy="462.9" r="4.75"/><circle cx="751.4" cy="463.4" r="4.75"/><circle cx="751.2" cy="463.6" r="4.75"/><circle cx="746.7" cy="464.2" r="4.75"/><circle cx="751.3" cy="464.5" r="4.75"/><circle cx="749.0" cy="464.7" r="4.75"/><circle cx="751.3" cy="465.1" r="4.75"/><circle cx="746.8" cy="465.8" r="4.75"/><circle cx="753.7" cy="466.2" r="4.75"/><circle cx="749.3" cy="466.3" r="4.75"/><circle cx="751.8" cy="466.8" r="4.75"/><circle cx="754.1" cy="467.4" r="4.75"/><circle cx="746.5" cy="467.6" r="4.75"/><circle cx="751.3" cy="468.1" r="4.75"/><circle cx="749.3" cy="468.5" r="4.75"/><circle cx="751.4" cy="468.9" r="4.75"/><circle cx="754.1" cy="469.4" r="4.75"/><circle cx="751.7" cy="469.9" r="4.75"/><circle cx="749.2" cy="470.2" r="4.75"/><circle cx="749.3" cy="470.6" r="4.75"/><circle cx="754.0" cy="470.8" r="4.75"/><circle cx="746.6" cy="471.1" r="4.75"/><circle cx="753.9" cy="471.5" r="4.75"/><circle cx="751.3" cy="472.0" r="4.75"/><circle cx="746.6" cy="472.6" r="4.75"/><circle cx="749.0" cy="473.0" r="4.75"/><circle cx="749.3" cy="473.2" r="4.75"/><circle cx="749.1" cy="473.6" r="4.75"/><circle cx="746.5" cy="474.3" r="4.75"/><circle cx="753.7" cy="474.5" r="4.75"/><circle cx="754.0" cy="474.7" r="4.75"/><circle cx="749.3" cy="475.5" r="4.75"/><circle cx="746.6" cy="475.9" r="4.75"/><circle cx="746.8" cy="476.2" r="4.75"/><circle cx="749.2" cy="476.6" r="4.75"/><circle cx="754.0" cy="476.8" r="4.75"/><circle cx="746.7" cy="477.2" r="4.75"/><circle cx="753.8" cy="477.9" r="4.75"/><circle cx="751.8" cy="478.1" r="4.75"/><circle cx="748.9" cy="478.6" r="4.75"/><circle cx="746.2" cy="478.9" r="4.75"/><circle cx="754.1" cy="479.3" r="4.75"/><circle cx="746.6" cy="479.8" r="4.75"/><circle cx="748.7" cy="480.0" r="4.75"/><circle cx="754.2" cy="480.4" r="4.75"/><circle cx="751.5" cy="480.9" r="4.75"/><circle cx="746.4" cy="481.2" r="4.75"/><circle cx="749.0" cy="481.9" r="4.75"/><circle cx="751.7" cy="482.3" r="4.75"/><circle cx="746.6" cy="482.4" r="4.75"/><circle cx="746.6" cy="483.1" r="4.75"/><circle cx="749.0" cy="483.5" r="4.75"/><circle cx="746.6" cy="483.8" r="4.75"/><circle cx="749.0" cy="484.2" r="4.75"/><circle cx="751.7" cy="484.4" r="4.75"/><circle cx="754.1" cy="485.1" r="4.75"/><circle cx="749.0" cy="485.3" r="4.75"/><circle cx="754.0" cy="485.7" r="4.75"/><circle cx="746.7" cy="486.3" r="4.75"/><circle cx="754.0" cy="486.4" r="4.75"/><circle cx="751.5" cy="486.8" r="4.75"/><circle cx="749.0" cy="487.4" r="4.75"/><circle cx="746.4" cy="487.8" r="4.75"/><circle cx="746.6" cy="488.2" r="4.75"/><circle cx="754.1" cy="488.8" r="4.75"/><circle cx="748.7" cy="488.8" r="4.75"/><circle cx="754.3" cy="489.5" r="4.75"/><circle cx="746.8" cy="489.7" r="4.75"/><circle cx="754.3" cy="490.3" r="4.75"/><circle cx="749.0" cy="490.5" r="4.75"/><circle cx="754.2" cy="490.9" r="4.75"/><circle cx="754.0" cy="491.5" r="4.75"/><circle cx="753.7" cy="491.7" r="4.75"/><circle cx="751.4" cy="492.1" r="4.75"/><circle cx="748.9" cy="492.7" r="4.75"/><circle cx="748.9" cy="493.1" r="4.75"/><circle cx="751.6" cy="493.5" r="4.75"/><circle cx="748.8" cy="494.0" r="4.75"/><circle cx="751.6" cy="494.2" r="4.75"/><circle cx="748.8" cy="494.7" r="4.75"/><circle cx="751.2" cy="495.1" r="4.75"/><circle cx="754.0" cy="495.4" r="4.75"/><circle cx="746.5" cy="495.8" r="4.75"/><circle cx="754.0" cy="496.2" r="4.75"/><circle cx="754.2" cy="496.5" r="4.75"/><circle cx="751.7" cy="496.9" r="4.75"/><circle cx="751.3" cy="497.3" r="4.75"/><circle cx="751.6" cy="497.7" r="4.75"/><circle cx="751.2" cy="498.1" r="4.75"/><circle cx="754.1" cy="498.5" r="4.75"/><circle cx="751.7" cy="498.9" r="4.75"/><circle cx="748.8" cy="499.3" r="4.75"/><circle cx="749.1" cy="499.9" r="4.75"/><circle cx="746.7" cy="500.4" r="4.75"/><circle cx="751.2" cy="500.6" r="4.75"/><circle cx="746.4" cy="501.0" r="4.75"/><circle cx="746.5" cy="501.3" r="4.75"/><circle cx="748.9" cy="501.7" r="4.75"/><circle cx="749.0" cy="502.1" r="4.75"/><circle cx="751.5" cy="502.6" r="4.75"/><circle cx="751.4" cy="503.1" r="4.75"/><circle cx="748.8" cy="503.3" r="4.75"/><circle cx="751.8" cy="504.0" r="4.75"/><circle cx="748.9" cy="504.1" r="4.75"/><circle cx="751.4" cy="504.6" r="4.75"/><circle cx="754.1" cy="504.9" r="4.75"/><circle cx="754.0" cy="505.5" r="4.75"/><circle cx="751.3" cy="505.7" r="4.75"/><circle cx="746.4" cy="506.1" r="4.75"/><circle cx="751.4" cy="506.5" r="4.75"/><circle cx="746.3" cy="507.2" r="4.75"/><circle cx="749.2" cy="507.6" r="4.75"/><circle cx="746.8" cy="508.0" r="4.75"/><circle cx="749.0" cy="508.1" r="4.75"/><circle cx="751.4" cy="508.9" r="4.75"/><circle cx="751.4" cy="509.0" r="4.75"/><circle cx="748.8" cy="509.6" r="4.75"/><circle cx="753.9" cy="509.8" r="4.75"/><circle cx="751.5" cy="510.5" r="4.75"/><circle cx="753.8" cy="510.7" r="4.75"/><circle cx="751.7" cy="511.0" r="4.75"/><circle cx="751.7" cy="511.5" r="4.75"/><circle cx="746.5" cy="511.8" r="4.75"/><circle cx="753.9" cy="512.5" r="4.75"/><circle cx="751.6" cy="512.5" r="4.75"/><circle cx="749.2" cy="513.2" r="4.75"/><circle cx="748.7" cy="513.3" r="4.75"/><circle cx="754.2" cy="513.8" r="4.75"/><circle cx="748.7" cy="514.2" r="4.75"/><circle cx="749.0" cy="514.6" r="4.75"/><circle cx="748.9" cy="515.0" r="4.75"/><circle cx="751.4" cy="515.3" r="4.75"/><circle cx="746.6" cy="515.7" r="4.75"/><circle cx="746.6" cy="516.4" r="4.75"/><circle cx="754.0" cy="516.5" r="4.75"/><circle cx="751.6" cy="517.2" r="4.75"/><circle cx="746.3" cy="517.5" r="4.75"/><circle cx="746.7" cy="517.8" r="4.75"/><circle cx="749.3" cy="518.5" r="4.75"/><circle cx="746.6" cy="518.8" r="4.75"/><circle cx="751.6" cy="519.2" r="4.75"/><circle cx="754.0" cy="519.4" r="4.75"/><circle cx="754.2" cy="519.9" r="4.75"/><circle cx="754.3" cy="520.2" r="4.75"/><circle cx="751.5" cy="520.6" r="4.75"/><circle cx="751.3" cy="521.2" r="4.75"/><circle cx="753.9" cy="521.7" r="4.75"/><circle cx="748.8" cy="521.9" r="4.75"/><circle cx="749.0" cy="522.2" r="4.75"/><circle cx="754.0" cy="522.8" r="4.75"/><circle cx="749.0" cy="523.2" r="4.75"/><circle cx="751.7" cy="523.6" r="4.75"/><circle cx="746.7" cy="523.8" r="4.75"/><circle cx="749.1" cy="524.2" r="4.75"/><circle cx="746.6" cy="524.9" r="4.75"/><circle cx="746.4" cy="525.3" r="4.75"/><circle cx="751.6" cy="525.7" r="4.75"/><circle cx="754.1" cy="525.9" r="4.75"/><circle cx="751.7" cy="526.4" r="4.75"/><circle cx="753.7" cy="526.7" r="4.75"/><circle cx="746.7" cy="527.3" r="4.75"/><circle cx="751.7" cy="527.6" r="4.75"/><circle cx="746.4" cy="527.9" r="4.75"/><circle cx="746.5" cy="528.5" r="4.75"/><circle cx="746.8" cy="528.8" r="4.75"/><circle cx="751.4" cy="529.0" r="4.75"/><circle cx="751.6" cy="529.5" r="4.75"/><circle cx="754.1" cy="529.8" r="4.75"/><circle cx="753.7" cy="530.3" r="4.75"/><circle cx="751.7" cy="531.0" r="4.75"/><circle cx="746.8" cy="531.4" r="4.75"/><circle cx="746.3" cy="531.7" r="4.75"/><circle cx="751.5" cy="531.8" r="4.75"/><circle cx="749.1" cy="532.2" r="4.75"/><circle cx="754.3" cy="532.9" r="4.75"/><circle cx="749.1" cy="533.3" r="4.75"/><circle cx="748.9" cy="533.7" r="4.75"/><circle cx="749.0" cy="533.9" r="4.75"/><circle cx="751.7" cy="534.3" r="4.75"/><circle cx="754.2" cy="535.0" r="4.75"/><circle cx="751.5" cy="535.1" r="4.75"/><circle cx="748.9" cy="535.6" r="4.75"/><circle cx="751.4" cy="536.1" r="4.75"/><circle cx="748.8" cy="536.3" r="4.75"/><circle cx="746.5" cy="536.9" r="4.75"/><circle cx="749.0" cy="537.4" r="4.75"/><circle cx="753.8" cy="537.8" r="4.75"/><circle cx="748.8" cy="538.0" r="4.75"/><circle cx="746.7" cy="538.4" r="4.75"/><circle cx="751.5" cy="538.8" r="4.75"/><circle cx="751.7" cy="539.4" r="4.75"/><circle cx="748.9" cy="539.8" r="4.75"/><circle cx="748.8" cy="540.0" r="4.75"/><circle cx="751.6" cy="540.4" r="4.75"/><circle cx="751.7" cy="541.0" r="4.75"/><circle cx="751.8" cy="541.2" r="4.75"/><circle cx="746.6" cy="541.7" r="4.75"/><circle cx="754.0" cy="542.0" r="4.75"/><circle cx="751.6" cy="542.6" r="4.75"/><circle cx="751.6" cy="542.9" r="4.75"/><circle cx="746.7" cy="543.2" r="4.75"/><circle cx="746.5" cy="543.5" r="4.75"/><circle cx="746.6" cy="543.9" r="4.75"/><circle cx="754.2" cy="544.3" r="4.75"/><circle cx="751.3" cy="544.7" r="4.75"/><circle cx="746.4" cy="545.3" r="4.75"/><circle cx="746.6" cy="545.5" r="4.75"/><circle cx="748.8" cy="546.0" r="4.75"/><circle cx="746.3" cy="546.4" r="4.75"/><circle cx="751.7" cy="546.9" r="4.75"/><circle cx="754.0" cy="547.4" r="4.75"/><circle cx="753.9" cy="547.8" r="4.75"/><circle cx="753.8" cy="548.1" r="4.75"/><circle cx="748.9" cy="548.6" r="4.75"/><circle cx="751.6" cy="548.9" r="4.75"/><circle cx="754.3" cy="549.5" r="4.75"/><circle cx="751.5" cy="549.7" r="4.75"/><circle cx="751.3" cy="550.1" r="4.75"/><circle cx="753.9" cy="550.6" r="4.75"/><circle cx="753.8" cy="550.9" r="4.75"/><circle cx="751.6" cy="551.2" r="4.75"/><circle cx="753.9" cy="551.8" r="4.75"/><circle cx="746.2" cy="552.2" r="4.75"/><circle cx="749.2" cy="552.6" r="4.75"/><circle cx="754.2" cy="552.9" r="4.75"/><circle cx="751.4" cy="553.3" r="4.75"/><circle cx="753.8" cy="553.6" r="4.75"/><circle cx="749.0" cy="554.0" r="4.75"/><circle cx="746.7" cy="554.4" r="4.75"/><circle cx="753.7" cy="554.9" r="4.75"/><circle cx="754.1" cy="555.1" r="4.75"/><circle cx="753.8" cy="555.8" r="4.75"/><circle cx="751.8" cy="556.1" r="4.75"/><circle cx="746.8" cy="556.4" r="4.75"/><circle cx="754.0" cy="556.9" r="4.75"/><circle cx="746.4" cy="557.5" r="4.75"/><circle cx="751.7" cy="557.7" r="4.75"/><circle cx="751.7" cy="558.2" r="4.75"/><circle cx="754.1" cy="558.7" r="4.75"/><circle cx="754.1" cy="558.8" r="4.75"/><circle cx="746.3" cy="559.5" r="4.75"/><circle cx="748.8" cy="559.9" r="4.75"/><circle cx="746.6" cy="560.2" r="4.75"/><circle cx="751.6" cy="560.4" r="4.75"/><circle cx="751.4" cy="560.8" r="4.75"/><circle cx="751.3" cy="561.2" r="4.75"/><circle cx="746.8" cy="561.7" r="4.75"/><circle cx="753.9" cy="561.9" r="4.75"/><circle cx="746.5" cy="562.3" r="4.75"/><circle cx="746.2" cy="562.8" r="4.75"/><circle cx="746.3" cy="563.5" r="4.75"/><circle cx="751.7" cy="563.7" r="4.75"/><circle cx="746.6" cy="564.2" r="4.75"/><circle cx="751.3" cy="564.3" r="4.75"/><circle cx="748.9" cy="564.8" r="4.75"/><circle cx="748.9" cy="565.3" r="4.75"/><circle cx="746.5" cy="565.6" r="4.75"/><circle cx="749.1" cy="566.1" r="4.75"/><circle cx="746.3" cy="566.7" r="4.75"/><circle cx="754.1" cy="566.8" r="4.75"/><circle cx="746.6" cy="567.5" r="4.75"/><circle cx="754.2" cy="567.7" r="4.75"/><circle cx="746.4" cy="568.0" r="4.75"/><circle cx="746.2" cy="568.4" r="4.75"/><circle cx="749.0" cy="569.0" r="4.75"/><circle cx="749.0" cy="569.2" r="4.75"/><circle cx="746.7" cy="569.8" r="4.75"/><circle cx="751.7" cy="570.2" r="4.75"/><circle cx="746.8" cy="570.6" r="4.75"/><circle cx="746.6" cy="571.1" r="4.75"/><circle cx="751.5" cy="571.6" r="4.75"/><circle cx="748.9" cy="571.9" r="4.75"/><circle cx="751.3" cy="572.1" r="4.75"/><circle cx="748.8" cy="572.6" r="4.75"/><circle cx="746.7" cy="572.9" r="4.75"/><circle cx="754.1" cy="573.3" r="4.75"/><circle cx="748.9" cy="573.9" r="4.75"/><circle cx="753.8" cy="574.2" r="4.75"/><circle cx="746.7" cy="574.5" r="4.75"/><circle cx="751.7" cy="574.8" r="4.75"/><circle cx="746.4" cy="575.5" r="4.75"/><circle cx="746.5" cy="575.6" r="4.75"/><circle cx="746.3" cy="576.3" r="4.75"/><circle cx="751.5" cy="576.4" r="4.75"/><circle cx="751.5" cy="576.8" r="4.75"/><circle cx="746.6" cy="577.4" r="4.75"/><circle cx="746.7" cy="577.8" r="4.75"/><circle cx="748.8" cy="578.0" r="4.75"/><circle cx="751.3" cy="578.5" r="4.75"/><circle cx="751.2" cy="579.0" r="4.75"/><circle cx="754.1" cy="579.3" r="4.75"/><circle cx="751.2" cy="579.8" r="4.75"/><circle cx="754.0" cy="580.2" r="4.75"/><circle cx="751.8" cy="580.7" r="4.75"/><circle cx="746.5" cy="580.9" r="4.75"/><circle cx="751.4" cy="581.5" r="4.75"/><circle cx="751.8" cy="581.9" r="4.75"/><circle cx="753.8" cy="582.2" r="4.75"/><circle cx="749.0" cy="582.6" r="4.75"/><circle cx="748.7" cy="583.2" r="4.75"/><circle cx="753.9" cy="583.6" r="4.75"/><circle cx="746.6" cy="583.7" r="4.75"/><circle cx="753.7" cy="584.2" r="4.75"/><circle cx="754.2" cy="584.6" r="4.75"/><circle cx="753.9" cy="585.2" r="4.75"/><circle cx="754.0" cy="585.4" r="4.75"/><circle cx="754.0" cy="585.9" r="4.75"/><circle cx="751.4" cy="586.3" r="4.75"/><circle cx="751.6" cy="586.5" r="4.75"/><circle cx="754.2" cy="586.9" r="4.75"/><circle cx="746.6" cy="587.6" r="4.75"/><circle cx="749.2" cy="587.9" r="4.75"/><circle cx="751.4" cy="588.1" r="4.75"/><circle cx="753.8" cy="588.7" r="4.75"/><circle cx="754.2" cy="589.1" r="4.75"/><circle cx="749.2" cy="589.6" r="4.75"/><circle cx="746.4" cy="589.7" r="4.75"/><circle cx="746.7" cy="590.3" r="4.75"/><circle cx="754.0" cy="590.7" r="4.75"/><circle cx="751.6" cy="590.9" r="4.75"/><circle cx="746.6" cy="591.5" r="4.75"/><circle cx="754.2" cy="591.8" r="4.75"/><circle cx="751.5" cy="592.2" r="4.75"/><circle cx="751.3" cy="592.8" r="4.75"/><circle cx="751.3" cy="593.1" r="4.75"/><circle cx="753.9" cy="593.7" r="4.75"/><circle cx="749.1" cy="594.0" r="4.75"/><circle cx="746.5" cy="594.2" r="4.75"/><circle cx="751.7" cy="594.7" r="4.75"/><circle cx="746.6" cy="595.1" r="4.75"/><circle cx="748.8" cy="595.4" r="4.75"/><circle cx="753.9" cy="595.9" r="4.75"/><circle cx="746.3" cy="596.1" r="4.75"/><circle cx="746.5" cy="596.7" r="4.75"/><circle cx="746.4" cy="597.0" r="4.75"/><circle cx="754.0" cy="597.3" r="4.75"/><circle cx="751.3" cy="598.0" r="4.75"/><circle cx="749.3" cy="598.1" r="4.75"/><circle cx="749.1" cy="598.7" r="4.75"/><circle cx="753.9" cy="599.2" r="4.75"/><circle cx="751.4" cy="599.3" r="4.75"/><circle cx="746.5" cy="600.1" r="4.75"/><circle cx="753.9" cy="600.2" r="4.75"/><circle cx="751.7" cy="600.7" r="4.75"/><circle cx="748.9" cy="600.9" r="4.75"/><circle cx="746.5" cy="601.6" r="4.75"/><circle cx="746.4" cy="602.0" r="4.75"/><circle cx="754.1" cy="602.2" r="4.75"/><circle cx="748.8" cy="602.8" r="4.75"/><circle cx="746.3" cy="602.9" r="4.75"/><circle cx="746.6" cy="603.4" r="4.75"/><circle cx="746.2" cy="604.0" r="4.75"/><circle cx="751.4" cy="604.4" r="4.75"/><circle cx="751.4" cy="604.8" r="4.75"/><circle cx="754.1" cy="605.1" r="4.75"/><circle cx="749.1" cy="605.4" r="4.75"/><circle cx="751.7" cy="606.0" r="4.75"/><circle cx="751.3" cy="606.5" r="4.75"/><circle cx="746.6" cy="606.7" r="4.75"/><circle cx="746.3" cy="607.2" r="4.75"/><circle cx="749.1" cy="607.4" r="4.75"/><circle cx="751.4" cy="608.1" r="4.75"/><circle cx="753.9" cy="608.5" r="4.75"/><circle cx="753.9" cy="608.6" r="4.75"/><circle cx="746.8" cy="609.2" r="4.75"/><circle cx="751.7" cy="609.7" r="4.75"/><circle cx="754.2" cy="609.8" r="4.75"/><circle cx="754.1" cy="610.5" r="4.75"/><circle cx="754.1" cy="610.8" r="4.75"/><circle cx="751.5" cy="611.0" r="4.75"/><circle cx="746.7" cy="611.7" r="4.75"/><circle cx="748.7" cy="611.9" r="4.75"/><circle cx="753.9" cy="612.5" r="4.75"/><circle cx="754.3" cy="612.8" r="4.75"/><circle cx="754.0" cy="613.1" r="4.75"/><circle cx="748.8" cy="613.5" r="4.75"/><circle cx="748.8" cy="614.0" r="4.75"/><circle cx="746.5" cy="614.3" r="4.75"/><circle cx="751.5" cy="614.6" r="4.75"/><circle cx="754.0" cy="615.1" r="4.75"/><circle cx="751.6" cy="615.6" r="4.75"/><circle cx="748.8" cy="616.0" r="4.75"/><circle cx="754.2" cy="616.4" r="4.75"/><circle cx="753.9" cy="616.7" r="4.75"/><circle cx="749.2" cy="617.0" r="4.75"/><circle cx="746.6" cy="617.5" r="4.75"/><circle cx="753.9" cy="618.1" r="4.75"/><circle cx="746.5" cy="618.3" r="4.75"/><circle cx="751.8" cy="618.8" r="4.75"/><circle cx="754.2" cy="619.1" r="4.75"/><circle cx="749.3" cy="619.8" r="4.75"/><circle cx="753.9" cy="620.9" r="4.75"/><circle cx="751.7" cy="621.3" r="4.75"/><circle cx="749.2" cy="622.5" r="4.75"/><circle cx="746.6" cy="623.2" r="4.75"/><circle cx="751.6" cy="623.4" r="4.75"/><circle cx="746.6" cy="624.7" r="4.75"/><circle cx="751.7" cy="625.2" r="4.75"/><circle cx="749.0" cy="626.1" r="4.75"/><circle cx="746.4" cy="626.6" r="4.75"/><circle cx="753.7" cy="627.1" r="4.75"/><circle cx="746.5" cy="628.2" r="4.75"/><circle cx="753.8" cy="628.5" r="4.75"/><circle cx="748.7" cy="629.4" r="4.75"/><circle cx="753.8" cy="629.8" r="4.75"/><circle cx="753.8" cy="630.8" r="4.75"/><circle cx="751.6" cy="631.7" r="4.75"/><circle cx="749.2" cy="632.1" r="4.75"/><circle cx="754.1" cy="632.8" r="4.75"/><circle cx="751.5" cy="633.9" r="4.75"/><circle cx="754.0" cy="634.5" r="4.75"/><circle cx="749.3" cy="635.4" r="4.75"/><circle cx="751.7" cy="636.0" r="4.75"/><circle cx="751.3" cy="636.6" r="4.75"/><circle cx="753.9" cy="637.0" r="4.75"/><circle cx="751.3" cy="637.8" r="4.75"/><circle cx="751.2" cy="638.8" r="4.75"/><circle cx="751.3" cy="639.4" r="4.75"/><circle cx="754.2" cy="640.4" r="4.75"/><circle cx="751.5" cy="641.1" r="4.75"/><circle cx="753.8" cy="641.9" r="4.75"/><circle cx="753.9" cy="642.0" r="4.75"/><circle cx="749.3" cy="642.9" r="4.75"/><circle cx="751.6" cy="644.0" r="4.75"/><circle cx="751.2" cy="644.8" r="4.75"/><circle cx="754.2" cy="645.1" r="4.75"/><circle cx="748.7" cy="645.8" r="4.75"/><circle cx="746.7" cy="646.8" r="4.75"/><circle cx="751.3" cy="647.4" r="4.75"/><circle cx="746.3" cy="648.0" r="4.75"/><circle cx="748.8" cy="648.5" r="4.75"/><circle cx="749.0" cy="649.2" r="4.75"/><circle cx="751.6" cy="650.1" r="4.75"/><circle cx="753.9" cy="651.0" r="4.75"/><circle cx="753.7" cy="651.4" r="4.75"/><circle cx="751.7" cy="652.0" r="4.75"/><circle cx="754.0" cy="653.2" r="4.75"/><circle cx="746.5" cy="653.6" r="4.75"/><circle cx="754.1" cy="654.2" r="4.75"/><circle cx="751.5" cy="655.3" r="4.75"/><circle cx="746.3" cy="656.1" r="4.75"/><circle cx="753.8" cy="657.0" r="4.75"/><circle cx="751.7" cy="657.0" r="4.75"/><circle cx="749.2" cy="657.9" r="4.75"/><circle cx="751.3" cy="659.0" r="4.75"/><circle cx="754.2" cy="659.3" r="4.75"/><circle cx="754.1" cy="660.5" r="4.75"/><circle cx="749.0" cy="661.2" r="4.75"/><circle cx="751.8" cy="661.7" r="4.75"/><circle cx="770.7" cy="408.2" r="4.75"/><circle cx="773.8" cy="410.3" r="4.75"/><circle cx="774.1" cy="410.8" r="4.75"/><circle cx="774.1" cy="412.1" r="4.75"/><circle cx="770.7" cy="413.6" r="4.75"/><circle cx="774.1" cy="414.8" r="4.75"/><circle cx="770.7" cy="415.3" r="4.75"/><circle cx="773.7" cy="415.9" r="4.75"/><circle cx="770.7" cy="416.5" r="4.75"/><circle cx="770.4" cy="416.9" r="4.75"/><circle cx="770.3" cy="417.8" r="4.75"/><circle cx="770.7" cy="418.1" r="4.75"/><circle cx="770.4" cy="418.8" r="4.75"/><circle cx="770.4" cy="419.2" r="4.75"/><circle cx="770.6" cy="420.1" r="4.75"/><circle cx="770.6" cy="420.6" r="4.75"/><circle cx="770.6" cy="421.1" r="4.75"/><circle cx="770.7" cy="421.7" r="4.75"/><circle cx="773.9" cy="422.4" r="4.75"/><circle cx="770.3" cy="422.9" r="4.75"/><circle cx="770.2" cy="423.4" r="4.75"/><circle cx="774.0" cy="424.2" r="4.75"/><circle cx="770.6" cy="424.8" r="4.75"/><circle cx="770.6" cy="425.5" r="4.75"/><circle cx="770.7" cy="425.7" r="4.75"/><circle cx="773.9" cy="426.1" r="4.75"/><circle cx="770.6" cy="427.1" r="4.75"/><circle cx="770.7" cy="427.4" r="4.75"/><circle cx="770.8" cy="428.1" r="4.75"/><circle cx="773.9" cy="429.0" r="4.75"/><circle cx="774.2" cy="429.6" r="4.75"/><circle cx="770.2" cy="430.1" r="4.75"/><circle cx="770.3" cy="430.7" r="4.75"/><circle cx="770.7" cy="431.2" r="4.75"/><circle cx="770.6" cy="431.6" r="4.75"/><circle cx="770.4" cy="432.3" r="4.75"/><circle cx="774.1" cy="432.6" r="4.75"/><circle cx="773.9" cy="433.3" r="4.75"/><circle cx="770.4" cy="434.2" r="4.75"/><circle cx="770.5" cy="434.8" r="4.75"/><circle cx="774.0" cy="435.5" r="4.75"/><circle cx="773.8" cy="435.9" r="4.75"/><circle cx="770.7" cy="436.5" r="4.75"/><circle cx="774.2" cy="436.9" r="4.75"/><circle cx="773.7" cy="437.4" r="4.75"/><circle cx="770.6" cy="437.9" r="4.75"/><circle cx="770.5" cy="438.8" r="4.75"/><circle cx="770.2" cy="439.4" r="4.75"/><circle cx="774.2" cy="439.7" r="4.75"/><circle cx="770.2" cy="440.7" r="4.75"/><circle cx="773.9" cy="441.3" r="4.75"/><circle cx="773.7" cy="441.8" r="4.75"/><circle cx="770.2" cy="442.4" r="4.75"/><circle cx="773.8" cy="443.1" r="4.75"/><circle cx="774.3" cy="443.5" r="4.75"/><circle cx="770.7" cy="444.0" r="4.75"/><circle cx="774.1" cy="444.6" r="4.75"/><circle cx="774.3" cy="445.3" r="4.75"/><circle cx="770.6" cy="445.9" r="4.75"/><circle cx="774.0" cy="446.4" r="4.75"/><circle cx="774.0" cy="446.9" r="4.75"/><circle cx="770.5" cy="447.8" r="4.75"/><circle cx="774.2" cy="448.1" r="4.75"/><circle cx="774.0" cy="448.7" r="4.75"/><circle cx="770.3" cy="449.4" r="4.75"/><circle cx="773.9" cy="449.7" r="4.75"/><circle cx="770.4" cy="450.7" r="4.75"/><circle cx="770.2" cy="450.8" r="4.75"/><circle cx="770.2" cy="451.7" r="4.75"/><circle cx="774.3" cy="452.2" r="4.75"/><circle cx="774.2" cy="452.6" r="4.75"/><circle cx="773.8" cy="453.4" r="4.75"/><circle cx="770.3" cy="454.1" r="4.75"/><circle cx="774.2" cy="454.8" r="4.75"/><circle cx="773.7" cy="455.2" r="4.75"/><circle cx="770.4" cy="455.9" r="4.75"/><circle cx="774.3" cy="456.3" r="4.75"/><circle cx="770.5" cy="456.8" r="4.75"/><circle cx="774.1" cy="457.3" r="4.75"/><circle cx="774.2" cy="457.9" r="4.75"/><circle cx="774.1" cy="458.7" r="4.75"/><circle cx="770.7" cy="459.4" r="4.75"/><circle cx="770.4" cy="459.7" r="4.75"/><circle cx="773.7" cy="460.3" r="4.75"/><circle cx="774.1" cy="461.3" r="4.75"/><circle cx="770.8" cy="461.4" r="4.75"/><circle cx="773.9" cy="462.1" r="4.75"/><circle cx="774.1" cy="462.9" r="4.75"/><circle cx="770.5" cy="463.6" r="4.75"/><circle cx="774.0" cy="463.8" r="4.75"/><circle cx="770.6" cy="464.8" r="4.75"/><circle cx="770.7" cy="465.1" r="4.75"/><circle cx="774.1" cy="465.4" r="4.75"/><circle cx="774.2" cy="466.5" r="4.75"/><circle cx="774.3" cy="466.9" r="4.75"/><circle cx="770.7" cy="467.7" r="4.75"/><circle cx="770.5" cy="467.9" r="4.75"/><circle cx="774.3" cy="468.8" r="4.75"/><circle cx="770.2" cy="469.3" r="4.75"/><circle cx="770.4" cy="469.9" r="4.75"/><circle cx="770.6" cy="470.6" r="4.75"/><circle cx="770.3" cy="470.9" r="4.75"/><circle cx="770.6" cy="471.4" r="4.75"/><circle cx="770.5" cy="472.3" r="4.75"/><circle cx="770.2" cy="472.7" r="4.75"/><circle cx="774.1" cy="473.5" r="4.75"/><circle cx="774.0" cy="474.1" r="4.75"/><circle cx="770.4" cy="474.5" r="4.75"/><circle cx="770.6" cy="474.9" r="4.75"/><circle cx="774.2" cy="475.8" r="4.75"/><circle cx="774.2" cy="475.9" r="4.75"/><circle cx="773.7" cy="476.6" r="4.75"/><circle cx="770.3" cy="477.2" r="4.75"/><circle cx="770.4" cy="477.7" r="4.75"/><circle cx="770.4" cy="478.3" r="4.75"/><circle cx="770.5" cy="479.3" r="4.75"/><circle cx="770.6" cy="479.9" r="4.75"/><circle cx="774.1" cy="480.3" r="4.75"/><circle cx="774.0" cy="481.1" r="4.75"/><circle cx="773.8" cy="481.4" r="4.75"/><circle cx="774.3" cy="482.0" r="4.75"/><circle cx="770.7" cy="482.7" r="4.75"/><circle cx="773.7" cy="483.2" r="4.75"/><circle cx="770.3" cy="483.7" r="4.75"/><circle cx="773.7" cy="484.2" r="4.75"/><circle cx="770.5" cy="485.1" r="4.75"/><circle cx="774.1" cy="485.8" r="4.75"/><circle cx="770.4" cy="486.2" r="4.75"/><circle cx="774.1" cy="486.8" r="4.75"/><circle cx="770.8" cy="487.3" r="4.75"/><circle cx="770.6" cy="488.1" r="4.75"/><circle cx="774.0" cy="488.2" r="4.75"/><circle cx="774.3" cy="488.9" r="4.75"/><circle cx="770.7" cy="489.8" r="4.75"/><circle cx="770.2" cy="490.2" r="4.75"/><circle cx="774.1" cy="490.8" r="4.75"/><circle cx="773.8" cy="491.4" r="4.75"/><circle cx="770.4" cy="491.9" r="4.75"/><circle cx="770.6" cy="492.4" r="4.75"/><circle cx="774.1" cy="493.2" r="4.75"/><circle cx="770.6" cy="494.1" r="4.75"/><circle cx="770.8" cy="494.3" r="4.75"/><circle cx="770.4" cy="495.0" r="4.75"/><circle cx="770.7" cy="495.3" r="4.75"/><circle cx="770.4" cy="496.1" r="4.75"/><circle cx="774.3" cy="496.8" r="4.75"/><circle cx="770.4" cy="497.6" r="4.75"/><circle cx="770.4" cy="497.6" r="4.75"/><circle cx="770.8" cy="498.7" r="4.75"/><circle cx="774.1" cy="499.0" r="4.75"/><circle cx="770.6" cy="499.6" r="4.75"/><circle cx="770.7" cy="500.3" r="4.75"/><circle cx="770.3" cy="500.9" r="4.75"/><circle cx="770.3" cy="501.5" r="4.75"/><circle cx="770.6" cy="502.2" r="4.75"/><circle cx="773.8" cy="502.7" r="4.75"/><circle cx="774.0" cy="503.4" r="4.75"/><circle cx="770.4" cy="503.5" r="4.75"/><circle cx="770.3" cy="504.2" r="4.75"/><circle cx="770.7" cy="505.0" r="4.75"/><circle cx="774.0" cy="505.4" r="4.75"/><circle cx="770.2" cy="506.2" r="4.75"/><circle cx="770.7" cy="506.6" r="4.75"/><circle cx="774.1" cy="507.3" r="4.75"/><circle cx="773.8" cy="507.8" r="4.75"/><circle cx="773.8" cy="508.7" r="4.75"/><circle cx="774.2" cy="509.2" r="4.75"/><circle cx="773.9" cy="509.6" r="4.75"/><circle cx="770.4" cy="510.3" r="4.75"/><circle cx="773.8" cy="510.8" r="4.75"/><circle cx="770.8" cy="511.5" r="4.75"/><circle cx="774.3" cy="511.8" r="4.75"/><circle cx="770.7" cy="512.3" r="4.75"/><circle cx="770.3" cy="512.9" r="4.75"/><circle cx="770.4" cy="513.4" r="4.75"/><circle cx="770.7" cy="514.5" r="4.75"/><circle cx="770.4" cy="514.9" r="4.75"/><circle cx="770.3" cy="515.7" r="4.75"/><circle cx="770.7" cy="515.9" r="4.75"/><circle cx="774.2" cy="516.5" r="4.75"/><circle cx="774.1" cy="517.2" r="4.75"/><circle cx="770.6" cy="517.7" r="4.75"/><circle cx="770.5" cy="518.5" r="4.75"/><circle cx="770.6" cy="518.7" r="4.75"/><circle cx="770.6" cy="519.7" r="4.75"/><circle cx="774.1" cy="520.0" r="4.75"/><circle cx="770.3" cy="521.0" r="4.75"/><circle cx="773.8" cy="521.6" r="4.75"/><circle cx="773.8" cy="522.0" r="4.75"/><circle cx="770.5" cy="522.4" r="4.75"/><circle cx="774.1" cy="523.0" r="4.75"/><circle cx="770.3" cy="523.9" r="4.75"/><circle cx="773.9" cy="524.3" r="4.75"/><circle cx="773.7" cy="525.1" r="4.75"/><circle cx="770.6" cy="525.2" r="4.75"/><circle cx="773.9" cy="526.3" r="4.75"/><circle cx="774.1" cy="526.3" r="4.75"/><circle cx="770.3" cy="527.1" r="4.75"/><circle cx="773.9" cy="527.8" r="4.75"/><circle cx="774.1" cy="528.1" r="4.75"/><circle cx="770.7" cy="528.8" r="4.75"/><circle cx="770.7" cy="529.5" r="4.75"/><circle cx="773.8" cy="530.0" r="4.75"/><circle cx="770.4" cy="530.5" r="4.75"/><circle cx="770.5" cy="531.3" r="4.75"/><circle cx="770.3" cy="532.0" r="4.75"/><circle cx="774.2" cy="532.7" r="4.75"/><circle cx="774.1" cy="533.2" r="4.75"/><circle cx="774.0" cy="533.7" r="4.75"/><circle cx="770.8" cy="534.3" r="4.75"/><circle cx="770.6" cy="534.6" r="4.75"/><circle cx="773.9" cy="535.3" r="4.75"/><circle cx="773.8" cy="535.9" r="4.75"/><circle cx="774.3" cy="536.5" r="4.75"/><circle cx="773.9" cy="537.1" r="4.75"/><circle cx="770.4" cy="538.0" r="4.75"/><circle cx="770.8" cy="538.0" r="4.75"/><circle cx="770.5" cy="539.2" r="4.75"/><circle cx="774.2" cy="539.3" r="4.75"/><circle cx="773.9" cy="540.2" r="4.75"/><circle cx="770.5" cy="540.8" r="4.75"/><circle cx="770.3" cy="541.4" r="4.75"/><circle cx="774.3" cy="541.8" r="4.75"/><circle cx="773.9" cy="542.2" r="4.75"/><circle cx="774.2" cy="543.0" r="4.75"/><circle cx="770.2" cy="543.6" r="4.75"/><circle cx="770.2" cy="543.9" r="4.75"/><circle cx="774.1" cy="544.8" r="4.75"/><circle cx="774.2" cy="545.4" r="4.75"/><circle cx="770.6" cy="545.8" r="4.75"/><circle cx="773.8" cy="546.4" r="4.75"/><circle cx="774.2" cy="547.0" r="4.75"/><circle cx="774.3" cy="547.6" r="4.75"/><circle cx="770.3" cy="548.3" r="4.75"/><circle cx="773.8" cy="549.1" r="4.75"/><circle cx="774.0" cy="549.1" r="4.75"/><circle cx="773.8" cy="549.8" r="4.75"/><circle cx="773.9" cy="550.8" r="4.75"/><circle cx="770.4" cy="551.5" r="4.75"/><circle cx="770.5" cy="551.7" r="4.75"/><circle cx="774.0" cy="552.6" r="4.75"/><circle cx="770.2" cy="552.7" r="4.75"/><circle cx="773.9" cy="553.5" r="4.75"/><circle cx="770.2" cy="554.3" r="4.75"/><circle cx="770.2" cy="554.6" r="4.75"/><circle cx="774.1" cy="555.1" r="4.75"/><circle cx="770.5" cy="556.1" r="4.75"/><circle cx="774.0" cy="556.2" r="4.75"/><circle cx="770.7" cy="557.0" r="4.75"/><circle cx="773.8" cy="557.7" r="4.75"/><circle cx="770.4" cy="558.2" r="4.75"/><circle cx="774.3" cy="558.9" r="4.75"/><circle cx="770.8" cy="559.6" r="4.75"/><circle cx="770.5" cy="560.0" r="4.75"/><circle cx="770.4" cy="560.7" r="4.75"/><circle cx="770.4" cy="561.4" r="4.75"/><circle cx="774.1" cy="561.6" r="4.75"/><circle cx="770.4" cy="562.2" r="4.75"/><circle cx="770.5" cy="562.9" r="4.75"/><circle cx="770.6" cy="563.6" r="4.75"/><circle cx="770.4" cy="564.2" r="4.75"/><circle cx="770.3" cy="564.4" r="4.75"/><circle cx="770.7" cy="565.3" r="4.75"/><circle cx="773.7" cy="565.6" r="4.75"/><circle cx="770.5" cy="566.6" r="4.75"/><circle cx="770.5" cy="567.3" r="4.75"/><circle cx="773.7" cy="567.4" r="4.75"/><circle cx="773.8" cy="568.4" r="4.75"/><circle cx="774.0" cy="568.9" r="4.75"/><circle cx="774.0" cy="569.3" r="4.75"/><circle cx="773.8" cy="570.0" r="4.75"/><circle cx="770.7" cy="570.5" r="4.75"/><circle cx="770.6" cy="571.3" r="4.75"/><circle cx="770.5" cy="571.6" r="4.75"/><circle cx="773.9" cy="572.1" r="4.75"/><circle cx="770.5" cy="572.9" r="4.75"/><circle cx="774.0" cy="573.5" r="4.75"/><circle cx="770.7" cy="574.3" r="4.75"/><circle cx="770.3" cy="574.7" r="4.75"/><circle cx="770.2" cy="575.2" r="4.75"/><circle cx="773.8" cy="575.6" r="4.75"/><circle cx="770.5" cy="576.3" r="4.75"/><circle cx="770.2" cy="577.1" r="4.75"/><circle cx="770.6" cy="577.6" r="4.75"/><circle cx="773.7" cy="578.2" r="4.75"/><circle cx="774.0" cy="578.8" r="4.75"/><circle cx="773.8" cy="579.1" r="4.75"/><circle cx="774.0" cy="579.8" r="4.75"/><circle cx="770.3" cy="580.3" r="4.75"/><circle cx="770.3" cy="581.2" r="4.75"/><circle cx="770.2" cy="581.4" r="4.75"/><circle cx="773.7" cy="582.2" r="4.75"/><circle cx="770.6" cy="582.9" r="4.75"/><circle cx="774.3" cy="583.1" r="4.75"/><circle cx="773.9" cy="584.2" r="4.75"/><circle cx="770.2" cy="584.7" r="4.75"/><circle cx="773.7" cy="585.1" r="4.75"/><circle cx="770.8" cy="585.9" r="4.75"/><circle cx="770.8" cy="586.3" r="4.75"/><circle cx="774.2" cy="586.7" r="4.75"/><circle cx="770.2" cy="587.5" r="4.75"/><circle cx="773.9" cy="588.3" r="4.75"/><circle cx="770.6" cy="588.5" r="4.75"/><circle cx="774.1" cy="589.5" r="4.75"/><circle cx="770.3" cy="589.8" r="4.75"/><circle cx="773.8" cy="590.6" r="4.75"/><circle cx="770.2" cy="591.1" r="4.75"/><circle cx="770.4" cy="591.7" r="4.75"/><circle cx="770.7" cy="591.9" r="4.75"/><circle cx="774.1" cy="592.8" r="4.75"/><circle cx="774.0" cy="593.3" r="4.75"/><circle cx="770.2" cy="593.7" r="4.75"/><circle cx="773.7" cy="594.6" r="4.75"/><circle cx="773.9" cy="595.1" r="4.75"/><circle cx="774.3" cy="595.5" r="4.75"/><circle cx="774.1" cy="596.4" r="4.75"/><circle cx="770.5" cy="596.9" r="4.75"/><circle cx="770.4" cy="597.4" r="4.75"/><circle cx="770.5" cy="597.9" r="4.75"/><circle cx="770.4" cy="598.8" r="4.75"/><circle cx="770.2" cy="599.2" r="4.75"/><circle cx="773.9" cy="600.0" r="4.75"/><circle cx="774.3" cy="600.1" r="4.75"/><circle cx="770.5" cy="600.9" r="4.75"/><circle cx="770.5" cy="601.6" r="4.75"/><circle cx="774.0" cy="601.9" r="4.75"/><circle cx="774.0" cy="602.7" r="4.75"/><circle cx="773.9" cy="603.2" r="4.75"/><circle cx="770.6" cy="603.7" r="4.75"/><circle cx="770.4" cy="604.5" r="4.75"/><circle cx="773.8" cy="604.9" r="4.75"/><circle cx="774.2" cy="605.8" r="4.75"/><circle cx="774.2" cy="606.4" r="4.75"/><circle cx="774.1" cy="607.0" r="4.75"/><circle cx="770.2" cy="607.4" r="4.75"/><circle cx="773.8" cy="608.0" r="4.75"/><circle cx="770.7" cy="608.7" r="4.75"/><circle cx="770.8" cy="608.9" r="4.75"/><circle cx="773.8" cy="609.9" r="4.75"/><circle cx="774.2" cy="610.0" r="4.75"/><circle cx="770.8" cy="610.8" r="4.75"/><circle cx="770.8" cy="611.7" r="4.75"/><circle cx="770.4" cy="612.3" r="4.75"/><circle cx="770.8" cy="612.5" r="4.75"/><circle cx="773.8" cy="613.5" r="4.75"/><circle cx="773.9" cy="613.9" r="4.75"/><circle cx="770.5" cy="614.2" r="4.75"/><circle cx="774.2" cy="614.8" r="4.75"/><circle cx="774.2" cy="615.6" r="4.75"/><circle cx="774.2" cy="616.5" r="4.75"/><circle cx="774.2" cy="617.0" r="4.75"/><circle cx="773.9" cy="617.4" r="4.75"/><circle cx="770.7" cy="617.9" r="4.75"/><circle cx="770.3" cy="618.8" r="4.75"/><circle cx="774.1" cy="619.2" r="4.75"/><circle cx="770.5" cy="619.6" r="4.75"/><circle cx="770.4" cy="620.5" r="4.75"/><circle cx="770.4" cy="620.7" r="4.75"/><circle cx="770.5" cy="621.6" r="4.75"/><circle cx="770.2" cy="621.9" r="4.75"/><circle cx="770.8" cy="622.6" r="4.75"/><circle cx="773.9" cy="623.3" r="4.75"/><circle cx="774.3" cy="623.5" r="4.75"/><circle cx="770.7" cy="624.4" r="4.75"/><circle cx="770.3" cy="624.9" r="4.75"/><circle cx="770.8" cy="625.6" r="4.75"/><circle cx="770.3" cy="625.9" r="4.75"/><circle cx="770.6" cy="626.6" r="4.75"/><circle cx="770.5" cy="627.4" r="4.75"/><circle cx="773.7" cy="628.2" r="4.75"/><circle cx="774.2" cy="628.4" r="4.75"/><circle cx="770.7" cy="629.2" r="4.75"/><circle cx="770.7" cy="629.7" r="4.75"/><circle cx="770.4" cy="630.3" r="4.75"/><circle cx="774.1" cy="630.6" r="4.75"/><circle cx="770.5" cy="631.5" r="4.75"/><circle cx="774.1" cy="631.7" r="4.75"/><circle cx="774.1" cy="632.4" r="4.75"/><circle cx="774.1" cy="633.2" r="4.75"/><circle cx="770.4" cy="634.0" r="4.75"/><circle cx="770.3" cy="634.6" r="4.75"/><circle cx="773.8" cy="635.1" r="4.75"/><circle cx="774.1" cy="635.4" r="4.75"/><circle cx="774.0" cy="635.9" r="4.75"/><circle cx="770.8" cy="636.6" r="4.75"/><circle cx="770.2" cy="637.1" r="4.75"/><circle cx="770.4" cy="637.8" r="4.75"/><circle cx="770.4" cy="638.6" r="4.75"/><circle cx="770.5" cy="639.1" r="4.75"/><circle cx="770.4" cy="639.4" r="4.75"/><circle cx="774.2" cy="640.2" r="4.75"/><circle cx="770.3" cy="640.7" r="4.75"/><circle cx="774.1" cy="641.6" r="4.75"/><circle cx="770.8" cy="641.9" r="4.75"/><circle cx="770.6" cy="642.4" r="4.75"/><circle cx="770.5" cy="643.0" r="4.75"/><circle cx="770.5" cy="643.9" r="4.75"/><circle cx="774.3" cy="644.2" r="4.75"/><circle cx="773.9" cy="644.9" r="4.75"/><circle cx="770.2" cy="645.3" r="4.75"/><circle cx="770.5" cy="645.9" r="4.75"/><circle cx="773.9" cy="646.4" r="4.75"/><circle cx="770.6" cy="647.0" r="4.75"/><circle cx="770.7" cy="647.9" r="4.75"/><circle cx="773.9" cy="648.2" r="4.75"/><circle cx="774.3" cy="648.8" r="4.75"/><circle cx="770.4" cy="649.6" r="4.75"/><circle cx="774.2" cy="650.3" r="4.75"/><circle cx="770.7" cy="650.6" r="4.75"/><circle cx="770.5" cy="651.0" r="4.75"/><circle cx="770.6" cy="651.7" r="4.75"/><circle cx="774.1" cy="652.5" r="4.75"/><circle cx="770.7" cy="653.4" r="4.75"/><circle cx="774.0" cy="653.7" r="4.75"/><circle cx="770.4" cy="654.4" r="4.75"/><circle cx="770.5" cy="654.7" r="4.75"/><circle cx="774.2" cy="655.2" r="4.75"/><circle cx="770.5" cy="656.2" r="4.75"/><circle cx="773.8" cy="656.6" r="4.75"/><circle cx="774.1" cy="657.0" r="4.75"/><circle cx="770.5" cy="657.6" r="4.75"/><circle cx="770.7" cy="658.3" r="4.75"/><circle cx="770.7" cy="659.2" r="4.75"/><circle cx="770.2" cy="659.4" r="4.75"/><circle cx="774.1" cy="659.9" r="4.75"/><circle cx="774.0" cy="660.5" r="4.75"/><circle cx="779.2" cy="447.3" r="4.75"/><circle cx="779.2" cy="448.4" r="4.75"/><circle cx="779.0" cy="450.9" r="4.75"/><circle cx="776.9" cy="451.7" r="4.75"/><circle cx="779.3" cy="453.0" r="4.75"/><circle cx="778.9" cy="454.9" r="4.75"/><circle cx="779.3" cy="455.7" r="4.75"/><circle cx="778.9" cy="455.9" r="4.75"/><circle cx="779.0" cy="456.5" r="4.75"/><circle cx="779.2" cy="457.6" r="4.75"/><circle cx="777.2" cy="458.1" r="4.75"/><circle cx="779.0" cy="459.2" r="4.75"/><circle cx="779.2" cy="459.8" r="4.75"/><circle cx="779.2" cy="460.3" r="4.75"/><circle cx="779.2" cy="461.0" r="4.75"/><circle cx="777.3" cy="462.3" r="4.75"/><circle cx="777.3" cy="462.9" r="4.75"/><circle cx="779.1" cy="463.1" r="4.75"/><circle cx="776.7" cy="463.9" r="4.75"/><circle cx="776.7" cy="464.6" r="4.75"/><circle cx="779.2" cy="465.7" r="4.75"/><circle cx="777.1" cy="466.3" r="4.75"/><circle cx="777.0" cy="467.3" r="4.75"/><circle cx="776.9" cy="467.9" r="4.75"/><circle cx="779.0" cy="468.6" r="4.75"/><circle cx="779.2" cy="469.1" r="4.75"/><circle cx="777.0" cy="469.6" r="4.75"/><circle cx="778.8" cy="470.7" r="4.75"/><circle cx="779.0" cy="471.6" r="4.75"/><circle cx="777.2" cy="472.0" r="4.75"/><circle cx="779.3" cy="472.9" r="4.75"/><circle cx="778.8" cy="473.8" r="4.75"/><circle cx="777.1" cy="474.6" r="4.75"/><circle cx="779.1" cy="475.2" r="4.75"/><circle cx="776.8" cy="476.1" r="4.75"/><circle cx="778.9" cy="476.6" r="4.75"/><circle cx="777.0" cy="477.2" r="4.75"/><circle cx="777.0" cy="477.9" r="4.75"/><circle cx="776.9" cy="479.1" r="4.75"/><circle cx="776.9" cy="479.8" r="4.75"/><circle cx="776.8" cy="480.0" r="4.75"/><circle cx="779.0" cy="481.0" r="4.75"/><circle cx="777.2" cy="481.4" r="4.75"/><circle cx="778.9" cy="482.7" r="4.75"/><circle cx="777.1" cy="483.0" r="4.75"/><circle cx="779.2" cy="483.9" r="4.75"/><circle cx="777.1" cy="485.0" r="4.75"/><circle cx="778.9" cy="485.2" r="4.75"/><circle cx="778.9" cy="486.3" r="4.75"/><circle cx="779.0" cy="486.5" r="4.75"/><circle cx="776.9" cy="487.3" r="4.75"/><circle cx="778.9" cy="488.2" r="4.75"/><circle cx="778.9" cy="489.3" r="4.75"/><circle cx="779.0" cy="490.0" r="4.75"/><circle cx="777.2" cy="490.8" r="4.75"/><circle cx="777.2" cy="491.4" r="4.75"/><circle cx="778.7" cy="491.7" r="4.75"/><circle cx="776.9" cy="492.8" r="4.75"/><circle cx="777.2" cy="493.3" r="4.75"/><circle cx="779.3" cy="493.8" r="4.75"/><circle cx="778.9" cy="495.2" r="4.75"/><circle cx="778.9" cy="495.6" r="4.75"/><circle cx="776.7" cy="496.6" r="4.75"/><circle cx="776.8" cy="497.0" r="4.75"/><circle cx="776.8" cy="497.6" r="4.75"/><circle cx="778.9" cy="498.5" r="4.75"/><circle cx="779.0" cy="499.5" r="4.75"/><circle cx="779.1" cy="500.2" r="4.75"/><circle cx="777.0" cy="500.7" r="4.75"/><circle cx="779.1" cy="501.2" r="4.75"/><circle cx="778.8" cy="502.4" r="4.75"/><circle cx="776.7" cy="503.1" r="4.75"/><circle cx="778.8" cy="503.9" r="4.75"/><circle cx="776.9" cy="504.1" r="4.75"/><circle cx="777.1" cy="504.8" r="4.75"/><circle cx="777.0" cy="505.8" r="4.75"/><circle cx="778.9" cy="506.4" r="4.75"/><circle cx="776.7" cy="507.0" r="4.75"/><circle cx="777.1" cy="508.0" r="4.75"/><circle cx="776.8" cy="508.8" r="4.75"/><circle cx="778.9" cy="509.5" r="4.75"/><circle cx="777.0" cy="510.4" r="4.75"/><circle cx="777.0" cy="511.2" r="4.75"/><circle cx="777.2" cy="512.1" r="4.75"/><circle cx="777.2" cy="512.6" r="4.75"/><circle cx="779.0" cy="512.8" r="4.75"/><circle cx="778.7" cy="514.1" r="4.75"/><circle cx="778.7" cy="514.9" r="4.75"/><circle cx="779.2" cy="515.3" r="4.75"/><circle cx="779.3" cy="516.3" r="4.75"/><circle cx="777.1" cy="516.7" r="4.75"/><circle cx="778.8" cy="517.3" r="4.75"/><circle cx="776.9" cy="518.2" r="4.75"/><circle cx="776.9" cy="519.2" r="4.75"/><circle cx="777.3" cy="519.9" r="4.75"/><circle cx="776.8" cy="520.8" r="4.75"/><circle cx="776.8" cy="521.2" r="4.75"/><circle cx="778.7" cy="521.7" r="4.75"/><circle cx="779.1" cy="522.3" r="4.75"/><circle cx="778.9" cy="523.3" r="4.75"/><circle cx="779.1" cy="524.3" r="4.75"/><circle cx="777.1" cy="524.6" r="4.75"/><circle cx="779.1" cy="525.9" r="4.75"/><circle cx="777.1" cy="526.0" r="4.75"/><circle cx="777.1" cy="527.0" r="4.75"/><circle cx="779.1" cy="527.6" r="4.75"/><circle cx="779.0" cy="528.6" r="4.75"/><circle cx="779.0" cy="528.9" r="4.75"/><circle cx="778.7" cy="530.1" r="4.75"/><circle cx="777.3" cy="530.9" r="4.75"/><circle cx="777.1" cy="531.4" r="4.75"/><circle cx="779.2" cy="531.9" r="4.75"/><circle cx="778.7" cy="533.2" r="4.75"/><circle cx="779.1" cy="533.5" r="4.75"/><circle cx="778.7" cy="534.2" r="4.75"/><circle cx="777.1" cy="535.5" r="4.75"/><circle cx="777.3" cy="535.6" r="4.75"/><circle cx="778.7" cy="536.4" r="4.75"/><circle cx="776.9" cy="537.2" r="4.75"/><circle cx="779.2" cy="538.1" r="4.75"/><circle cx="779.1" cy="538.5" r="4.75"/><circle cx="779.3" cy="539.8" r="4.75"/><circle cx="778.8" cy="540.4" r="4.75"/><circle cx="777.3" cy="540.8" r="4.75"/><circle cx="776.7" cy="541.4" r="4.75"/><circle cx="779.0" cy="542.2" r="4.75"/><circle cx="777.2" cy="543.5" r="4.75"/><circle cx="778.8" cy="544.0" r="4.75"/><circle cx="779.1" cy="544.8" r="4.75"/><circle cx="777.1" cy="545.4" r="4.75"/><circle cx="776.7" cy="546.3" r="4.75"/><circle cx="778.8" cy="546.8" r="4.75"/><circle cx="778.7" cy="547.8" r="4.75"/><circle cx="776.8" cy="548.4" r="4.75"/><circle cx="777.1" cy="549.4" r="4.75"/><circle cx="778.8" cy="549.7" r="4.75"/><circle cx="777.3" cy="550.8" r="4.75"/><circle cx="776.8" cy="551.3" r="4.75"/><circle cx="779.2" cy="551.7" r="4.75"/><circle cx="777.2" cy="552.8" r="4.75"/><circle cx="776.7" cy="553.7" r="4.75"/><circle cx="778.9" cy="554.0" r="4.75"/><circle cx="778.8" cy="554.6" r="4.75"/><circle cx="776.9" cy="555.9" r="4.75"/><circle cx="778.9" cy="556.1" r="4.75"/><circle cx="777.1" cy="556.9" r="4.75"/><circle cx="777.3" cy="557.5" r="4.75"/><circle cx="777.0" cy="558.9" r="4.75"/><circle cx="777.0" cy="559.4" r="4.75"/><circle cx="776.9" cy="559.9" r="4.75"/><circle cx="777.0" cy="560.8" r="4.75"/><circle cx="776.8" cy="561.3" r="4.75"/><circle cx="778.8" cy="561.8" r="4.75"/><circle cx="779.2" cy="563.1" r="4.75"/><circle cx="779.1" cy="564.0" r="4.75"/><circle cx="779.1" cy="564.4" r="4.75"/><circle cx="776.9" cy="565.1" r="4.75"/><circle cx="779.0" cy="565.7" r="4.75"/><circle cx="779.2" cy="566.4" r="4.75"/><circle cx="779.1" cy="567.3" r="4.75"/><circle cx="778.7" cy="568.0" r="4.75"/><circle cx="776.8" cy="568.8" r="4.75"/><circle cx="776.7" cy="569.6" r="4.75"/><circle cx="776.7" cy="570.3" r="4.75"/><circle cx="777.2" cy="571.2" r="4.75"/><circle cx="779.2" cy="571.4" r="4.75"/><circle cx="777.2" cy="572.4" r="4.75"/><circle cx="779.0" cy="573.0" r="4.75"/><circle cx="779.1" cy="574.2" r="4.75"/><circle cx="777.0" cy="575.0" r="4.75"/><circle cx="778.7" cy="575.4" r="4.75"/><circle cx="779.2" cy="576.4" r="4.75"/><circle cx="779.2" cy="577.0" r="4.75"/><circle cx="777.0" cy="577.8" r="4.75"/><circle cx="778.9" cy="578.0" r="4.75"/><circle cx="777.0" cy="579.2" r="4.75"/><circle cx="777.1" cy="580.0" r="4.75"/><circle cx="779.0" cy="580.7" r="4.75"/><circle cx="777.3" cy="581.4" r="4.75"/><circle cx="778.7" cy="582.2" r="4.75"/><circle cx="777.0" cy="582.8" r="4.75"/><circle cx="778.8" cy="583.1" r="4.75"/><circle cx="779.1" cy="584.0" r="4.75"/><circle cx="779.3" cy="584.9" r="4.75"/><circle cx="778.9" cy="585.5" r="4.75"/><circle cx="776.7" cy="586.7" r="4.75"/><circle cx="776.9" cy="587.1" r="4.75"/><circle cx="777.2" cy="587.7" r="4.75"/><circle cx="778.9" cy="588.8" r="4.75"/><circle cx="776.8" cy="589.3" r="4.75"/><circle cx="778.7" cy="589.8" r="4.75"/><circle cx="776.9" cy="590.5" r="4.75"/><circle cx="778.8" cy="591.2" r="4.75"/><circle cx="776.8" cy="592.5" r="4.75"/><circle cx="777.0" cy="592.7" r="4.75"/><circle cx="779.2" cy="593.6" r="4.75"/><circle cx="778.9" cy="594.7" r="4.75"/><circle cx="779.0" cy="594.9" r="4.75"/><circle cx="776.9" cy="595.8" r="4.75"/><circle cx="779.0" cy="596.8" r="4.75"/><circle cx="778.8" cy="597.1" r="4.75"/><circle cx="778.7" cy="597.8" r="4.75"/><circle cx="776.7" cy="599.1" r="4.75"/><circle cx="779.1" cy="599.5" r="4.75"/><circle cx="776.8" cy="600.4" r="4.75"/><circle cx="776.8" cy="600.8" r="4.75"/><circle cx="778.9" cy="601.5" r="4.75"/><circle cx="778.8" cy="602.7" r="4.75"/><circle cx="777.1" cy="603.3" r="4.75"/><circle cx="776.7" cy="604.0" r="4.75"/><circle cx="777.2" cy="604.8" r="4.75"/><circle cx="778.9" cy="605.6" r="4.75"/><circle cx="777.0" cy="606.3" r="4.75"/><circle cx="776.9" cy="606.5" r="4.75"/><circle cx="779.2" cy="607.4" r="4.75"/><circle cx="778.9" cy="608.0" r="4.75"/><circle cx="777.2" cy="609.0" r="4.75"/><circle cx="777.1" cy="610.0" r="4.75"/><circle cx="778.9" cy="610.5" r="4.75"/><circle cx="776.8" cy="610.9" r="4.75"/><circle cx="779.0" cy="611.7" r="4.75"/><circle cx="778.8" cy="612.5" r="4.75"/><circle cx="777.0" cy="613.4" r="4.75"/><circle cx="777.0" cy="614.0" r="4.75"/><circle cx="777.1" cy="614.6" r="4.75"/><circle cx="777.2" cy="615.4" r="4.75"/><circle cx="777.2" cy="616.1" r="4.75"/><circle cx="779.1" cy="617.6" r="4.75"/><circle cx="777.3" cy="618.3" r="4.75"/><circle cx="777.1" cy="619.6" r="4.75"/><circle cx="779.2" cy="621.0" r="4.75"/><circle cx="778.9" cy="622.0" r="4.75"/><circle cx="778.7" cy="623.0" r="4.75"/><circle cx="777.0" cy="624.3" r="4.75"/><circle cx="777.3" cy="625.5" r="4.75"/><circle cx="779.3" cy="627.2" r="4.75"/><circle cx="778.7" cy="627.7" r="4.75"/><circle cx="776.9" cy="628.8" r="4.75"/><circle cx="777.3" cy="630.6" r="4.75"/><circle cx="778.8" cy="632.0" r="4.75"/><circle cx="777.2" cy="632.2" r="4.75"/><circle cx="777.0" cy="634.0" r="4.75"/><circle cx="778.9" cy="634.9" r="4.75"/><circle cx="778.9" cy="636.1" r="4.75"/><circle cx="779.2" cy="637.5" r="4.75"/><circle cx="776.9" cy="638.4" r="4.75"/><circle cx="778.9" cy="639.1" r="4.75"/><circle cx="777.2" cy="640.4" r="4.75"/><circle cx="777.1" cy="641.4" r="4.75"/><circle cx="777.1" cy="642.8" r="4.75"/><circle cx="776.7" cy="643.9" r="4.75"/><circle cx="779.3" cy="645.3" r="4.75"/><circle cx="779.1" cy="646.7" r="4.75"/><circle cx="778.8" cy="647.9" r="4.75"/><circle cx="777.0" cy="648.2" r="4.75"/><circle cx="779.1" cy="649.8" r="4.75"/><circle cx="778.8" cy="651.0" r="4.75"/><circle cx="777.1" cy="651.8" r="4.75"/><circle cx="777.1" cy="653.5" r="4.75"/><circle cx="777.0" cy="654.5" r="4.75"/><circle cx="779.2" cy="655.5" r="4.75"/><circle cx="777.1" cy="657.3" r="4.75"/><circle cx="776.8" cy="657.9" r="4.75"/><circle cx="776.8" cy="658.8" r="4.75"/><circle cx="779.2" cy="660.2" r="4.75"/><circle cx="777.1" cy="660.9" r="4.75"/></g>
<g class="pt g"><circle cx="192.6" cy="505.0" r="4.75"/><circle cx="192.8" cy="544.0" r="4.75"/><circle cx="192.4" cy="626.0" r="4.75"/><circle cx="192.7" cy="658.0" r="4.75"/><circle cx="192.4" cy="665.0" r="4.75"/><circle cx="193.3" cy="689.0" r="4.75"/><circle cx="193.1" cy="699.0" r="4.75"/><circle cx="192.6" cy="717.0" r="4.75"/><circle cx="213.4" cy="356.0" r="4.75"/><circle cx="214.4" cy="585.7" r="4.75"/><circle cx="214.4" cy="592.0" r="4.75"/><circle cx="213.7" cy="597.0" r="4.75"/><circle cx="213.7" cy="597.6" r="4.75"/><circle cx="214.2" cy="603.8" r="4.75"/><circle cx="214.2" cy="610.1" r="4.75"/><circle cx="214.3" cy="613.2" r="4.75"/><circle cx="214.1" cy="616.7" r="4.75"/><circle cx="214.3" cy="619.3" r="4.75"/><circle cx="214.4" cy="624.5" r="4.75"/><circle cx="213.8" cy="630.7" r="4.75"/><circle cx="213.8" cy="632.8" r="4.75"/><circle cx="214.2" cy="639.5" r="4.75"/><circle cx="213.6" cy="641.5" r="4.75"/><circle cx="214.1" cy="647.7" r="4.75"/><circle cx="213.7" cy="651.5" r="4.75"/><circle cx="213.5" cy="656.9" r="4.75"/><circle cx="214.0" cy="659.9" r="4.75"/><circle cx="214.6" cy="672.0" r="4.75"/><circle cx="214.2" cy="682.0" r="4.75"/><circle cx="214.5" cy="717.0" r="4.75"/><circle cx="234.6" cy="369.0" r="4.75"/><circle cx="234.4" cy="600.0" r="4.75"/><circle cx="235.5" cy="613.0" r="4.75"/><circle cx="234.9" cy="630.0" r="4.75"/><circle cx="235.4" cy="636.0" r="4.75"/><circle cx="234.9" cy="642.0" r="4.75"/><circle cx="235.5" cy="702.0" r="4.75"/><circle cx="235.0" cy="717.0" r="4.75"/><circle cx="241.8" cy="700.0" r="4.75"/><circle cx="241.6" cy="717.0" r="4.75"/><circle cx="242.6" cy="717.0" r="4.75"/><circle cx="255.8" cy="396.0" r="4.75"/><circle cx="256.1" cy="602.0" r="4.75"/><circle cx="256.2" cy="633.0" r="4.75"/><circle cx="262.4" cy="324.0" r="4.75"/><circle cx="262.0" cy="500.0" r="4.75"/><circle cx="262.2" cy="684.0" r="4.75"/><circle cx="269.6" cy="600.0" r="4.75"/><circle cx="318.0" cy="496.0" r="4.75"/><circle cx="318.4" cy="577.0" r="4.75"/><circle cx="319.0" cy="644.0" r="4.75"/><circle cx="595.2" cy="604.7" r="4.75"/><circle cx="594.7" cy="606.4" r="4.75"/><circle cx="595.5" cy="615.6" r="4.75"/><circle cx="595.1" cy="618.2" r="4.75"/><circle cx="595.3" cy="628.2" r="4.75"/><circle cx="595.3" cy="632.1" r="4.75"/><circle cx="595.4" cy="638.8" r="4.75"/><circle cx="595.4" cy="642.1" r="4.75"/><circle cx="594.9" cy="650.5" r="4.75"/><circle cx="594.7" cy="654.5" r="4.75"/><circle cx="595.2" cy="668.1" r="4.75"/><circle cx="594.8" cy="669.2" r="4.75"/><circle cx="594.7" cy="672.0" r="4.75"/><circle cx="594.8" cy="675.1" r="4.75"/><circle cx="595.5" cy="680.0" r="4.75"/><circle cx="595.0" cy="682.3" r="4.75"/><circle cx="595.3" cy="684.3" r="4.75"/><circle cx="595.3" cy="688.2" r="4.75"/><circle cx="594.7" cy="690.3" r="4.75"/><circle cx="595.3" cy="693.1" r="4.75"/><circle cx="594.6" cy="696.3" r="4.75"/><circle cx="594.8" cy="699.0" r="4.75"/><circle cx="595.5" cy="700.2" r="4.75"/><circle cx="595.2" cy="704.5" r="4.75"/><circle cx="595.3" cy="705.8" r="4.75"/><circle cx="595.4" cy="710.8" r="4.75"/><circle cx="644.5" cy="717.0" r="4.75"/><circle cx="644.8" cy="717.0" r="4.75"/><circle cx="644.8" cy="717.0" r="4.75"/><circle cx="645.3" cy="717.0" r="4.75"/><circle cx="644.6" cy="717.0" r="4.75"/><circle cx="645.1" cy="717.0" r="4.75"/><circle cx="684.6" cy="717.0" r="4.75"/><circle cx="684.3" cy="717.0" r="4.75"/><circle cx="683.4" cy="717.0" r="4.75"/><circle cx="683.5" cy="717.0" r="4.75"/><circle cx="683.5" cy="717.0" r="4.75"/><circle cx="690.2" cy="717.0" r="4.75"/><circle cx="690.1" cy="717.0" r="4.75"/><circle cx="690.0" cy="717.0" r="4.75"/><circle cx="689.9" cy="717.0" r="4.75"/><circle cx="689.9" cy="717.0" r="4.75"/><circle cx="705.1" cy="717.0" r="4.75"/><circle cx="705.2" cy="717.0" r="4.75"/><circle cx="705.5" cy="717.0" r="4.75"/><circle cx="705.3" cy="717.0" r="4.75"/><circle cx="705.4" cy="717.0" r="4.75"/><circle cx="714.0" cy="717.0" r="4.75"/><circle cx="713.9" cy="717.0" r="4.75"/><circle cx="713.8" cy="717.0" r="4.75"/><circle cx="712.9" cy="717.0" r="4.75"/><circle cx="713.7" cy="717.0" r="4.75"/><circle cx="754.4" cy="717.0" r="4.75"/><circle cx="753.9" cy="717.0" r="4.75"/><circle cx="754.5" cy="717.0" r="4.75"/><circle cx="753.6" cy="717.0" r="4.75"/><circle cx="754.5" cy="717.0" r="4.75"/><circle cx="753.9" cy="717.0" r="4.75"/><circle cx="740.2" cy="717.0" r="4.75"/><circle cx="739.7" cy="717.0" r="4.75"/><circle cx="647.2" cy="597.2" r="4.75"/><circle cx="644.1" cy="606.6" r="4.75"/><circle cx="643.7" cy="607.6" r="4.75"/><circle cx="643.8" cy="615.8" r="4.75"/><circle cx="646.9" cy="619.5" r="4.75"/><circle cx="646.8" cy="624.7" r="4.75"/><circle cx="646.8" cy="630.0" r="4.75"/><circle cx="646.8" cy="637.2" r="4.75"/><circle cx="643.8" cy="643.0" r="4.75"/><circle cx="647.1" cy="651.9" r="4.75"/><circle cx="643.8" cy="657.9" r="4.75"/><circle cx="646.9" cy="659.4" r="4.75"/><circle cx="646.8" cy="666.5" r="4.75"/><circle cx="647.1" cy="667.2" r="4.75"/><circle cx="646.9" cy="669.0" r="4.75"/><circle cx="646.8" cy="671.0" r="4.75"/><circle cx="644.0" cy="671.3" r="4.75"/><circle cx="644.3" cy="673.7" r="4.75"/><circle cx="643.7" cy="675.2" r="4.75"/><circle cx="647.3" cy="676.5" r="4.75"/><circle cx="647.1" cy="677.6" r="4.75"/><circle cx="647.2" cy="680.4" r="4.75"/><circle cx="647.1" cy="682.0" r="4.75"/><circle cx="643.8" cy="683.4" r="4.75"/><circle cx="644.1" cy="684.4" r="4.75"/><circle cx="647.1" cy="685.4" r="4.75"/><circle cx="643.9" cy="687.7" r="4.75"/><circle cx="643.9" cy="688.7" r="4.75"/><circle cx="647.2" cy="691.3" r="4.75"/><circle cx="643.8" cy="692.7" r="4.75"/><circle cx="644.3" cy="694.3" r="4.75"/><circle cx="647.1" cy="695.2" r="4.75"/><circle cx="647.2" cy="697.3" r="4.75"/><circle cx="646.9" cy="698.1" r="4.75"/><circle cx="646.8" cy="701.0" r="4.75"/><circle cx="647.3" cy="702.5" r="4.75"/><circle cx="646.9" cy="703.1" r="4.75"/><circle cx="647.2" cy="705.3" r="4.75"/><circle cx="646.9" cy="706.7" r="4.75"/><circle cx="644.0" cy="708.7" r="4.75"/><circle cx="646.9" cy="710.1" r="4.75"/><circle cx="644.0" cy="711.4" r="4.75"/><circle cx="652.9" cy="440.0" r="4.75"/><circle cx="653.3" cy="455.0" r="4.75"/><circle cx="651.2" cy="470.0" r="4.75"/><circle cx="651.0" cy="483.0" r="4.75"/><circle cx="654.9" cy="500.0" r="4.75"/><circle cx="654.9" cy="510.0" r="4.75"/><circle cx="650.9" cy="560.0" r="4.75"/><circle cx="653.2" cy="590.0" r="4.75"/><circle cx="651.2" cy="620.0" r="4.75"/><circle cx="653.3" cy="660.0" r="4.75"/><circle cx="653.0" cy="675.0" r="4.75"/><circle cx="654.8" cy="695.0" r="4.75"/><circle cx="651.1" cy="702.0" r="4.75"/><circle cx="654.9" cy="664.3" r="4.75"/><circle cx="655.0" cy="667.3" r="4.75"/><circle cx="652.8" cy="669.0" r="4.75"/><circle cx="653.0" cy="673.5" r="4.75"/><circle cx="651.3" cy="678.7" r="4.75"/><circle cx="653.1" cy="685.2" r="4.75"/><circle cx="651.1" cy="689.0" r="4.75"/><circle cx="655.1" cy="694.2" r="4.75"/><circle cx="650.8" cy="697.1" r="4.75"/><circle cx="654.7" cy="700.1" r="4.75"/><circle cx="652.8" cy="706.1" r="4.75"/><circle cx="655.2" cy="709.8" r="4.75"/><circle cx="691.2" cy="601.2" r="4.75"/><circle cx="683.9" cy="603.2" r="4.75"/><circle cx="688.9" cy="604.5" r="4.75"/><circle cx="684.2" cy="606.6" r="4.75"/><circle cx="688.9" cy="608.9" r="4.75"/><circle cx="684.0" cy="612.7" r="4.75"/><circle cx="691.1" cy="613.3" r="4.75"/><circle cx="688.6" cy="616.3" r="4.75"/><circle cx="686.3" cy="617.6" r="4.75"/><circle cx="688.6" cy="619.9" r="4.75"/><circle cx="686.3" cy="622.9" r="4.75"/><circle cx="684.0" cy="625.6" r="4.75"/><circle cx="691.2" cy="627.3" r="4.75"/><circle cx="684.0" cy="630.2" r="4.75"/><circle cx="686.6" cy="631.7" r="4.75"/><circle cx="690.7" cy="633.2" r="4.75"/><circle cx="686.5" cy="634.9" r="4.75"/><circle cx="688.6" cy="638.6" r="4.75"/><circle cx="688.8" cy="639.3" r="4.75"/><circle cx="688.8" cy="642.0" r="4.75"/><circle cx="691.0" cy="645.3" r="4.75"/><circle cx="688.5" cy="647.3" r="4.75"/><circle cx="684.1" cy="649.2" r="4.75"/><circle cx="688.8" cy="651.7" r="4.75"/><circle cx="688.8" cy="653.1" r="4.75"/><circle cx="688.6" cy="655.4" r="4.75"/><circle cx="684.2" cy="656.6" r="4.75"/><circle cx="684.1" cy="659.2" r="4.75"/><circle cx="690.7" cy="662.1" r="4.75"/><circle cx="688.7" cy="664.6" r="4.75"/><circle cx="691.2" cy="666.2" r="4.75"/><circle cx="686.6" cy="668.3" r="4.75"/><circle cx="686.6" cy="669.5" r="4.75"/><circle cx="684.3" cy="672.4" r="4.75"/><circle cx="684.1" cy="673.7" r="4.75"/><circle cx="686.3" cy="677.3" r="4.75"/><circle cx="686.1" cy="679.7" r="4.75"/><circle cx="691.3" cy="681.1" r="4.75"/><circle cx="684.3" cy="683.8" r="4.75"/><circle cx="688.5" cy="685.9" r="4.75"/><circle cx="691.3" cy="687.9" r="4.75"/><circle cx="691.2" cy="688.6" r="4.75"/><circle cx="690.8" cy="692.1" r="4.75"/><circle cx="688.9" cy="694.1" r="4.75"/><circle cx="691.0" cy="694.9" r="4.75"/><circle cx="683.9" cy="698.2" r="4.75"/><circle cx="690.9" cy="700.7" r="4.75"/><circle cx="690.7" cy="703.4" r="4.75"/><circle cx="683.8" cy="703.7" r="4.75"/><circle cx="686.2" cy="706.4" r="4.75"/><circle cx="684.0" cy="708.7" r="4.75"/><circle cx="691.0" cy="711.0" r="4.75"/><circle cx="694.0" cy="601.5" r="4.75"/><circle cx="693.8" cy="602.0" r="4.75"/><circle cx="710.2" cy="603.4" r="4.75"/><circle cx="709.8" cy="605.6" r="4.75"/><circle cx="707.4" cy="606.8" r="4.75"/><circle cx="704.6" cy="608.6" r="4.75"/><circle cx="702.1" cy="611.1" r="4.75"/><circle cx="702.1" cy="612.7" r="4.75"/><circle cx="709.8" cy="613.9" r="4.75"/><circle cx="694.0" cy="616.0" r="4.75"/><circle cx="693.8" cy="617.6" r="4.75"/><circle cx="701.9" cy="619.4" r="4.75"/><circle cx="710.1" cy="620.2" r="4.75"/><circle cx="694.1" cy="621.8" r="4.75"/><circle cx="704.4" cy="624.1" r="4.75"/><circle cx="710.1" cy="624.8" r="4.75"/><circle cx="707.1" cy="627.1" r="4.75"/><circle cx="709.7" cy="627.6" r="4.75"/><circle cx="699.0" cy="630.6" r="4.75"/><circle cx="696.5" cy="631.6" r="4.75"/><circle cx="701.8" cy="632.7" r="4.75"/><circle cx="707.2" cy="634.2" r="4.75"/><circle cx="694.0" cy="636.1" r="4.75"/><circle cx="699.3" cy="639.0" r="4.75"/><circle cx="696.8" cy="640.6" r="4.75"/><circle cx="696.6" cy="641.4" r="4.75"/><circle cx="696.7" cy="643.5" r="4.75"/><circle cx="694.0" cy="645.0" r="4.75"/><circle cx="693.7" cy="647.0" r="4.75"/><circle cx="709.9" cy="647.5" r="4.75"/><circle cx="704.8" cy="649.0" r="4.75"/><circle cx="701.9" cy="651.0" r="4.75"/><circle cx="710.0" cy="652.2" r="4.75"/><circle cx="701.9" cy="653.9" r="4.75"/><circle cx="705.0" cy="655.4" r="4.75"/><circle cx="699.3" cy="657.8" r="4.75"/><circle cx="710.1" cy="659.5" r="4.75"/><circle cx="707.5" cy="660.5" r="4.75"/><circle cx="704.9" cy="663.1" r="4.75"/><circle cx="707.5" cy="664.1" r="4.75"/><circle cx="696.6" cy="665.3" r="4.75"/><circle cx="693.7" cy="668.7" r="4.75"/><circle cx="696.8" cy="669.0" r="4.75"/><circle cx="707.3" cy="671.8" r="4.75"/><circle cx="704.4" cy="673.3" r="4.75"/><circle cx="694.3" cy="675.2" r="4.75"/><circle cx="696.5" cy="678.0" r="4.75"/><circle cx="701.9" cy="679.8" r="4.75"/><circle cx="707.4" cy="680.4" r="4.75"/><circle cx="699.2" cy="682.9" r="4.75"/><circle cx="696.9" cy="685.5" r="4.75"/><circle cx="710.0" cy="687.1" r="4.75"/><circle cx="699.0" cy="687.6" r="4.75"/><circle cx="693.7" cy="690.8" r="4.75"/><circle cx="704.9" cy="693.1" r="4.75"/><circle cx="699.6" cy="694.6" r="4.75"/><circle cx="707.5" cy="696.8" r="4.75"/><circle cx="696.7" cy="698.3" r="4.75"/><circle cx="710.1" cy="699.1" r="4.75"/><circle cx="699.4" cy="701.9" r="4.75"/><circle cx="710.0" cy="704.0" r="4.75"/><circle cx="699.6" cy="704.5" r="4.75"/><circle cx="710.3" cy="706.4" r="4.75"/><circle cx="710.2" cy="709.9" r="4.75"/><circle cx="709.8" cy="711.1" r="4.75"/><circle cx="716.1" cy="601.6" r="4.75"/><circle cx="722.0" cy="604.2" r="4.75"/><circle cx="716.2" cy="606.9" r="4.75"/><circle cx="718.7" cy="610.0" r="4.75"/><circle cx="716.0" cy="612.4" r="4.75"/><circle cx="721.9" cy="613.3" r="4.75"/><circle cx="722.0" cy="616.1" r="4.75"/><circle cx="715.9" cy="620.0" r="4.75"/><circle cx="722.2" cy="621.9" r="4.75"/><circle cx="716.2" cy="623.9" r="4.75"/><circle cx="716.0" cy="626.4" r="4.75"/><circle cx="716.0" cy="630.8" r="4.75"/><circle cx="715.8" cy="633.7" r="4.75"/><circle cx="713.0" cy="634.2" r="4.75"/><circle cx="719.1" cy="638.2" r="4.75"/><circle cx="715.7" cy="639.2" r="4.75"/><circle cx="712.7" cy="644.0" r="4.75"/><circle cx="712.8" cy="644.4" r="4.75"/><circle cx="722.0" cy="647.8" r="4.75"/><circle cx="722.0" cy="650.3" r="4.75"/><circle cx="716.2" cy="653.5" r="4.75"/><circle cx="713.3" cy="656.0" r="4.75"/><circle cx="715.8" cy="659.2" r="4.75"/><circle cx="716.0" cy="660.8" r="4.75"/><circle cx="713.0" cy="663.6" r="4.75"/><circle cx="719.1" cy="666.1" r="4.75"/><circle cx="722.2" cy="669.9" r="4.75"/><circle cx="722.1" cy="670.6" r="4.75"/><circle cx="721.9" cy="672.5" r="4.75"/><circle cx="721.8" cy="675.0" r="4.75"/><circle cx="718.8" cy="679.4" r="4.75"/><circle cx="713.2" cy="681.0" r="4.75"/><circle cx="719.0" cy="683.4" r="4.75"/><circle cx="718.9" cy="685.5" r="4.75"/><circle cx="713.1" cy="687.6" r="4.75"/><circle cx="718.9" cy="689.9" r="4.75"/><circle cx="718.9" cy="693.1" r="4.75"/><circle cx="712.8" cy="695.7" r="4.75"/><circle cx="718.8" cy="699.5" r="4.75"/><circle cx="716.3" cy="700.4" r="4.75"/><circle cx="713.1" cy="703.2" r="4.75"/><circle cx="715.9" cy="706.0" r="4.75"/><circle cx="716.0" cy="707.1" r="4.75"/><circle cx="713.2" cy="711.0" r="4.75"/><circle cx="743.6" cy="601.7" r="4.75"/><circle cx="754.1" cy="604.2" r="4.75"/><circle cx="737.9" cy="605.7" r="4.75"/><circle cx="745.8" cy="607.6" r="4.75"/><circle cx="740.7" cy="610.7" r="4.75"/><circle cx="751.5" cy="612.9" r="4.75"/><circle cx="746.3" cy="613.9" r="4.75"/><circle cx="753.9" cy="615.9" r="4.75"/><circle cx="740.7" cy="618.0" r="4.75"/><circle cx="753.9" cy="621.1" r="4.75"/><circle cx="754.3" cy="623.5" r="4.75"/><circle cx="751.5" cy="625.4" r="4.75"/><circle cx="754.2" cy="627.8" r="4.75"/><circle cx="753.8" cy="628.9" r="4.75"/><circle cx="754.1" cy="630.7" r="4.75"/><circle cx="745.9" cy="633.7" r="4.75"/><circle cx="740.7" cy="634.8" r="4.75"/><circle cx="745.9" cy="638.3" r="4.75"/><circle cx="740.9" cy="641.1" r="4.75"/><circle cx="740.6" cy="641.8" r="4.75"/><circle cx="748.7" cy="644.8" r="4.75"/><circle cx="740.5" cy="647.1" r="4.75"/><circle cx="737.9" cy="648.0" r="4.75"/><circle cx="751.3" cy="651.8" r="4.75"/><circle cx="738.0" cy="652.6" r="4.75"/><circle cx="748.7" cy="654.9" r="4.75"/><circle cx="751.5" cy="657.9" r="4.75"/><circle cx="748.8" cy="659.5" r="4.75"/><circle cx="746.0" cy="662.7" r="4.75"/><circle cx="743.2" cy="664.4" r="4.75"/><circle cx="740.8" cy="665.6" r="4.75"/><circle cx="754.1" cy="667.4" r="4.75"/><circle cx="754.0" cy="670.4" r="4.75"/><circle cx="748.7" cy="672.1" r="4.75"/><circle cx="753.9" cy="673.9" r="4.75"/><circle cx="748.9" cy="675.4" r="4.75"/><circle cx="748.8" cy="678.2" r="4.75"/><circle cx="748.7" cy="680.6" r="4.75"/><circle cx="748.7" cy="682.3" r="4.75"/><circle cx="746.2" cy="683.8" r="4.75"/><circle cx="749.0" cy="686.2" r="4.75"/><circle cx="754.2" cy="686.7" r="4.75"/><circle cx="745.9" cy="689.4" r="4.75"/><circle cx="743.3" cy="692.3" r="4.75"/><circle cx="743.4" cy="693.4" r="4.75"/><circle cx="748.5" cy="695.5" r="4.75"/><circle cx="751.5" cy="697.9" r="4.75"/><circle cx="748.5" cy="698.5" r="4.75"/><circle cx="743.3" cy="701.7" r="4.75"/><circle cx="743.2" cy="703.5" r="4.75"/><circle cx="751.6" cy="705.4" r="4.75"/><circle cx="738.0" cy="707.0" r="4.75"/><circle cx="751.4" cy="708.2" r="4.75"/><circle cx="740.7" cy="710.3" r="4.75"/><circle cx="776.0" cy="612.5" r="4.75"/><circle cx="770.7" cy="614.9" r="4.75"/><circle cx="775.9" cy="617.4" r="4.75"/><circle cx="773.4" cy="619.6" r="4.75"/><circle cx="773.4" cy="623.2" r="4.75"/><circle cx="770.3" cy="624.9" r="4.75"/><circle cx="778.9" cy="626.8" r="4.75"/><circle cx="770.7" cy="631.4" r="4.75"/><circle cx="773.1" cy="634.0" r="4.75"/><circle cx="779.0" cy="636.8" r="4.75"/><circle cx="778.9" cy="637.8" r="4.75"/><circle cx="770.8" cy="641.8" r="4.75"/><circle cx="770.7" cy="645.1" r="4.75"/><circle cx="779.1" cy="646.4" r="4.75"/><circle cx="778.8" cy="649.8" r="4.75"/><circle cx="770.4" cy="652.0" r="4.75"/><circle cx="773.3" cy="655.3" r="4.75"/><circle cx="770.5" cy="658.3" r="4.75"/><circle cx="776.2" cy="660.9" r="4.75"/><circle cx="776.2" cy="663.6" r="4.75"/><circle cx="773.2" cy="665.8" r="4.75"/><circle cx="770.6" cy="668.9" r="4.75"/><circle cx="776.3" cy="671.3" r="4.75"/><circle cx="775.9" cy="673.3" r="4.75"/><circle cx="776.4" cy="678.0" r="4.75"/><circle cx="773.2" cy="680.1" r="4.75"/><circle cx="770.3" cy="683.2" r="4.75"/><circle cx="778.8" cy="685.6" r="4.75"/><circle cx="773.5" cy="688.0" r="4.75"/><circle cx="779.0" cy="690.3" r="4.75"/><circle cx="779.3" cy="693.2" r="4.75"/><circle cx="773.2" cy="697.4" r="4.75"/><circle cx="773.5" cy="699.7" r="4.75"/><circle cx="773.2" cy="700.8" r="4.75"/><circle cx="778.8" cy="705.1" r="4.75"/><circle cx="778.9" cy="707.6" r="4.75"/><circle cx="773.4" cy="711.2" r="4.75"/><circle cx="779.3" cy="712.8" r="4.75"/><circle cx="778.9" cy="716.4" r="4.75"/></g>
<g class="pt b"><circle cx="193.0" cy="587.0" r="4.75"/><circle cx="193.5" cy="626.0" r="4.75"/><circle cx="192.5" cy="636.0" r="4.75"/><circle cx="193.4" cy="641.0" r="4.75"/><circle cx="192.9" cy="677.0" r="4.75"/><circle cx="213.7" cy="577.0" r="4.75"/><circle cx="214.5" cy="581.9" r="4.75"/><circle cx="213.8" cy="591.2" r="4.75"/><circle cx="214.0" cy="593.2" r="4.75"/><circle cx="213.9" cy="603.7" r="4.75"/><circle cx="214.2" cy="607.4" r="4.75"/><circle cx="213.7" cy="618.0" r="4.75"/><circle cx="213.8" cy="618.7" r="4.75"/><circle cx="214.2" cy="627.5" r="4.75"/><circle cx="214.3" cy="632.5" r="4.75"/><circle cx="214.0" cy="642.3" r="4.75"/><circle cx="214.5" cy="645.2" r="4.75"/><circle cx="214.3" cy="652.3" r="4.75"/><circle cx="213.7" cy="658.1" r="4.75"/><circle cx="234.6" cy="613.0" r="4.75"/><circle cx="234.4" cy="623.0" r="4.75"/><circle cx="235.1" cy="630.0" r="4.75"/><circle cx="235.2" cy="640.0" r="4.75"/><circle cx="235.5" cy="643.0" r="4.75"/><circle cx="242.3" cy="623.0" r="4.75"/><circle cx="241.5" cy="652.0" r="4.75"/><circle cx="242.6" cy="655.0" r="4.75"/><circle cx="241.5" cy="658.0" r="4.75"/><circle cx="256.3" cy="590.0" r="4.75"/><circle cx="255.4" cy="600.0" r="4.75"/><circle cx="256.3" cy="620.0" r="4.75"/><circle cx="261.6" cy="560.0" r="4.75"/><circle cx="261.7" cy="580.0" r="4.75"/><circle cx="261.5" cy="600.0" r="4.75"/><circle cx="262.3" cy="610.0" r="4.75"/><circle cx="270.4" cy="596.0" r="4.75"/><circle cx="318.3" cy="582.0" r="4.75"/><circle cx="318.7" cy="596.0" r="4.75"/><circle cx="318.6" cy="635.0" r="4.75"/><circle cx="595.3" cy="592.5" r="4.75"/><circle cx="595.1" cy="596.1" r="4.75"/><circle cx="595.3" cy="598.2" r="4.75"/><circle cx="595.4" cy="602.7" r="4.75"/><circle cx="595.5" cy="604.5" r="4.75"/><circle cx="595.4" cy="608.6" r="4.75"/><circle cx="595.5" cy="610.6" r="4.75"/><circle cx="594.8" cy="616.2" r="4.75"/><circle cx="594.7" cy="619.7" r="4.75"/><circle cx="595.0" cy="620.9" r="4.75"/><circle cx="595.0" cy="624.4" r="4.75"/><circle cx="595.2" cy="630.1" r="4.75"/><circle cx="594.9" cy="632.8" r="4.75"/><circle cx="595.3" cy="636.4" r="4.75"/><circle cx="595.4" cy="639.4" r="4.75"/><circle cx="594.9" cy="643.2" r="4.75"/><circle cx="595.2" cy="644.1" r="4.75"/><circle cx="594.8" cy="650.0" r="4.75"/><circle cx="595.3" cy="652.5" r="4.75"/><circle cx="594.5" cy="656.6" r="4.75"/><circle cx="594.5" cy="658.9" r="4.75"/><circle cx="595.3" cy="661.0" r="4.75"/><circle cx="643.8" cy="587.2" r="4.75"/><circle cx="643.7" cy="587.4" r="4.75"/><circle cx="647.2" cy="590.8" r="4.75"/><circle cx="643.8" cy="593.1" r="4.75"/><circle cx="646.9" cy="596.3" r="4.75"/><circle cx="644.2" cy="598.4" r="4.75"/><circle cx="646.8" cy="600.0" r="4.75"/><circle cx="644.1" cy="601.5" r="4.75"/><circle cx="644.1" cy="605.7" r="4.75"/><circle cx="647.2" cy="606.3" r="4.75"/><circle cx="647.1" cy="609.5" r="4.75"/><circle cx="644.0" cy="611.6" r="4.75"/><circle cx="646.9" cy="615.5" r="4.75"/><circle cx="643.8" cy="615.7" r="4.75"/><circle cx="644.1" cy="618.1" r="4.75"/><circle cx="647.1" cy="622.0" r="4.75"/><circle cx="646.7" cy="623.3" r="4.75"/><circle cx="646.9" cy="626.1" r="4.75"/><circle cx="643.8" cy="628.0" r="4.75"/><circle cx="646.8" cy="630.9" r="4.75"/><circle cx="647.1" cy="632.3" r="4.75"/><circle cx="647.2" cy="635.3" r="4.75"/><circle cx="644.3" cy="638.0" r="4.75"/><circle cx="647.3" cy="641.3" r="4.75"/><circle cx="643.8" cy="643.5" r="4.75"/><circle cx="644.2" cy="645.1" r="4.75"/><circle cx="643.9" cy="647.5" r="4.75"/><circle cx="646.9" cy="650.2" r="4.75"/><circle cx="643.9" cy="652.3" r="4.75"/><circle cx="643.9" cy="653.6" r="4.75"/><circle cx="644.0" cy="657.5" r="4.75"/><circle cx="646.7" cy="659.5" r="4.75"/><circle cx="646.9" cy="660.7" r="4.75"/><circle cx="647.1" cy="663.6" r="4.75"/><circle cx="651.2" cy="591.3" r="4.75"/><circle cx="650.9" cy="595.1" r="4.75"/><circle cx="654.9" cy="600.9" r="4.75"/><circle cx="651.3" cy="602.2" r="4.75"/><circle cx="655.1" cy="609.1" r="4.75"/><circle cx="652.9" cy="612.3" r="4.75"/><circle cx="651.3" cy="616.0" r="4.75"/><circle cx="654.9" cy="617.7" r="4.75"/><circle cx="655.0" cy="623.7" r="4.75"/><circle cx="651.1" cy="629.0" r="4.75"/><circle cx="655.0" cy="632.7" r="4.75"/><circle cx="655.2" cy="634.4" r="4.75"/><circle cx="650.7" cy="637.6" r="4.75"/><circle cx="655.0" cy="642.5" r="4.75"/><circle cx="688.7" cy="591.3" r="4.75"/><circle cx="686.5" cy="594.6" r="4.75"/><circle cx="684.0" cy="595.2" r="4.75"/><circle cx="691.3" cy="599.3" r="4.75"/><circle cx="686.6" cy="601.7" r="4.75"/><circle cx="686.2" cy="603.1" r="4.75"/><circle cx="688.4" cy="606.0" r="4.75"/><circle cx="688.9" cy="608.8" r="4.75"/><circle cx="691.1" cy="612.0" r="4.75"/><circle cx="686.3" cy="613.2" r="4.75"/><circle cx="688.6" cy="616.2" r="4.75"/><circle cx="688.5" cy="617.7" r="4.75"/><circle cx="684.2" cy="622.2" r="4.75"/><circle cx="691.2" cy="624.5" r="4.75"/><circle cx="688.8" cy="625.6" r="4.75"/><circle cx="683.9" cy="630.0" r="4.75"/><circle cx="688.6" cy="631.5" r="4.75"/><circle cx="688.6" cy="634.4" r="4.75"/><circle cx="688.5" cy="636.8" r="4.75"/><circle cx="684.1" cy="639.5" r="4.75"/><circle cx="684.0" cy="642.1" r="4.75"/><circle cx="689.0" cy="645.0" r="4.75"/><circle cx="683.7" cy="647.3" r="4.75"/><circle cx="691.0" cy="648.0" r="4.75"/><circle cx="688.7" cy="652.4" r="4.75"/><circle cx="688.8" cy="652.7" r="4.75"/><circle cx="684.0" cy="656.6" r="4.75"/><circle cx="691.2" cy="659.8" r="4.75"/><circle cx="683.9" cy="660.6" r="4.75"/><circle cx="688.5" cy="662.6" r="4.75"/><circle cx="683.8" cy="665.9" r="4.75"/><circle cx="690.8" cy="669.3" r="4.75"/><circle cx="710.2" cy="595.3" r="4.75"/><circle cx="693.9" cy="595.9" r="4.75"/><circle cx="710.0" cy="598.1" r="4.75"/><circle cx="696.6" cy="600.3" r="4.75"/><circle cx="707.2" cy="601.3" r="4.75"/><circle cx="704.6" cy="602.7" r="4.75"/><circle cx="710.0" cy="605.7" r="4.75"/><circle cx="704.8" cy="606.4" r="4.75"/><circle cx="693.7" cy="609.5" r="4.75"/><circle cx="696.5" cy="610.9" r="4.75"/><circle cx="702.3" cy="613.1" r="4.75"/><circle cx="702.1" cy="613.2" r="4.75"/><circle cx="710.0" cy="615.7" r="4.75"/><circle cx="704.4" cy="617.7" r="4.75"/><circle cx="701.8" cy="618.6" r="4.75"/><circle cx="696.6" cy="620.8" r="4.75"/><circle cx="707.3" cy="623.2" r="4.75"/><circle cx="704.6" cy="623.9" r="4.75"/><circle cx="693.9" cy="625.4" r="4.75"/><circle cx="694.2" cy="627.1" r="4.75"/><circle cx="707.4" cy="628.8" r="4.75"/><circle cx="707.1" cy="630.8" r="4.75"/><circle cx="704.5" cy="633.7" r="4.75"/><circle cx="701.8" cy="634.8" r="4.75"/><circle cx="707.6" cy="636.2" r="4.75"/><circle cx="696.6" cy="638.4" r="4.75"/><circle cx="701.7" cy="640.7" r="4.75"/><circle cx="704.5" cy="641.3" r="4.75"/><circle cx="704.8" cy="643.1" r="4.75"/><circle cx="710.2" cy="645.3" r="4.75"/><circle cx="694.1" cy="646.6" r="4.75"/><circle cx="707.1" cy="648.7" r="4.75"/><circle cx="696.8" cy="649.7" r="4.75"/><circle cx="709.7" cy="652.3" r="4.75"/><circle cx="694.0" cy="653.8" r="4.75"/><circle cx="709.8" cy="655.3" r="4.75"/><circle cx="699.4" cy="656.4" r="4.75"/><circle cx="696.6" cy="659.6" r="4.75"/><circle cx="699.1" cy="660.5" r="4.75"/><circle cx="699.5" cy="662.5" r="4.75"/><circle cx="694.1" cy="664.2" r="4.75"/><circle cx="702.0" cy="665.2" r="4.75"/><circle cx="710.0" cy="667.2" r="4.75"/><circle cx="704.6" cy="668.8" r="4.75"/><circle cx="693.9" cy="672.0" r="4.75"/><circle cx="722.1" cy="598.7" r="4.75"/><circle cx="718.8" cy="600.9" r="4.75"/><circle cx="715.8" cy="603.7" r="4.75"/><circle cx="722.1" cy="605.4" r="4.75"/><circle cx="716.0" cy="608.2" r="4.75"/><circle cx="722.0" cy="611.2" r="4.75"/><circle cx="719.2" cy="613.1" r="4.75"/><circle cx="712.9" cy="614.0" r="4.75"/><circle cx="721.7" cy="617.8" r="4.75"/><circle cx="718.9" cy="620.2" r="4.75"/><circle cx="721.8" cy="620.8" r="4.75"/><circle cx="716.0" cy="624.6" r="4.75"/><circle cx="715.8" cy="626.9" r="4.75"/><circle cx="712.8" cy="627.8" r="4.75"/><circle cx="716.0" cy="630.1" r="4.75"/><circle cx="713.3" cy="633.1" r="4.75"/><circle cx="712.9" cy="635.3" r="4.75"/><circle cx="716.1" cy="637.7" r="4.75"/><circle cx="721.8" cy="639.9" r="4.75"/><circle cx="716.1" cy="640.8" r="4.75"/><circle cx="718.9" cy="644.2" r="4.75"/><circle cx="713.3" cy="647.3" r="4.75"/><circle cx="712.8" cy="649.7" r="4.75"/><circle cx="715.9" cy="650.3" r="4.75"/><circle cx="712.8" cy="653.7" r="4.75"/><circle cx="716.2" cy="655.4" r="4.75"/><circle cx="712.9" cy="657.5" r="4.75"/><circle cx="722.2" cy="659.5" r="4.75"/><circle cx="719.3" cy="661.4" r="4.75"/><circle cx="721.8" cy="664.2" r="4.75"/><circle cx="722.3" cy="667.2" r="4.75"/><circle cx="712.8" cy="668.1" r="4.75"/><circle cx="746.1" cy="590.6" r="4.75"/><circle cx="743.1" cy="594.1" r="4.75"/><circle cx="751.5" cy="594.8" r="4.75"/><circle cx="743.5" cy="597.0" r="4.75"/><circle cx="748.7" cy="599.7" r="4.75"/><circle cx="748.7" cy="601.7" r="4.75"/><circle cx="753.8" cy="603.2" r="4.75"/><circle cx="754.1" cy="605.4" r="4.75"/><circle cx="740.5" cy="608.7" r="4.75"/><circle cx="751.1" cy="610.4" r="4.75"/><circle cx="754.2" cy="611.1" r="4.75"/><circle cx="743.4" cy="614.6" r="4.75"/><circle cx="754.3" cy="616.2" r="4.75"/><circle cx="746.0" cy="617.4" r="4.75"/><circle cx="746.2" cy="620.6" r="4.75"/><circle cx="748.5" cy="622.4" r="4.75"/><circle cx="745.7" cy="623.9" r="4.75"/><circle cx="740.6" cy="626.9" r="4.75"/><circle cx="748.4" cy="628.5" r="4.75"/><circle cx="743.2" cy="631.6" r="4.75"/><circle cx="751.1" cy="632.7" r="4.75"/><circle cx="748.4" cy="635.2" r="4.75"/><circle cx="740.4" cy="637.3" r="4.75"/><circle cx="740.9" cy="639.4" r="4.75"/><circle cx="748.5" cy="641.7" r="4.75"/><circle cx="746.1" cy="642.5" r="4.75"/><circle cx="737.9" cy="644.7" r="4.75"/><circle cx="754.1" cy="647.0" r="4.75"/><circle cx="745.9" cy="649.8" r="4.75"/><circle cx="751.5" cy="651.2" r="4.75"/><circle cx="738.1" cy="654.5" r="4.75"/><circle cx="746.2" cy="655.3" r="4.75"/><circle cx="748.6" cy="657.1" r="4.75"/><circle cx="748.8" cy="660.4" r="4.75"/><circle cx="737.7" cy="661.0" r="4.75"/><circle cx="748.8" cy="664.6" r="4.75"/><circle cx="770.4" cy="600.9" r="4.75"/><circle cx="773.2" cy="603.7" r="4.75"/><circle cx="770.4" cy="604.4" r="4.75"/><circle cx="773.5" cy="606.9" r="4.75"/><circle cx="770.3" cy="609.8" r="4.75"/><circle cx="775.9" cy="612.8" r="4.75"/><circle cx="779.1" cy="613.0" r="4.75"/><circle cx="773.4" cy="617.1" r="4.75"/><circle cx="773.2" cy="617.6" r="4.75"/><circle cx="776.0" cy="620.8" r="4.75"/><circle cx="770.5" cy="623.6" r="4.75"/><circle cx="776.4" cy="624.5" r="4.75"/><circle cx="773.4" cy="628.0" r="4.75"/><circle cx="770.5" cy="628.2" r="4.75"/><circle cx="770.3" cy="630.6" r="4.75"/><circle cx="776.0" cy="633.8" r="4.75"/><circle cx="770.3" cy="636.7" r="4.75"/><circle cx="773.2" cy="638.5" r="4.75"/><circle cx="770.7" cy="639.8" r="4.75"/><circle cx="779.3" cy="642.0" r="4.75"/><circle cx="773.1" cy="644.7" r="4.75"/><circle cx="775.9" cy="647.0" r="4.75"/><circle cx="776.2" cy="648.6" r="4.75"/><circle cx="770.7" cy="651.8" r="4.75"/><circle cx="773.3" cy="653.4" r="4.75"/><circle cx="773.1" cy="655.6" r="4.75"/><circle cx="770.7" cy="657.9" r="4.75"/><circle cx="770.5" cy="658.9" r="4.75"/><circle cx="770.4" cy="662.0" r="4.75"/><circle cx="779.0" cy="663.6" r="4.75"/></g>
<g class="pt p"><circle cx="193.0" cy="149.0" r="4.75"/><circle cx="193.4" cy="152.0" r="4.75"/><circle cx="192.9" cy="155.0" r="4.75"/><circle cx="193.0" cy="209.0" r="4.75"/><circle cx="193.2" cy="211.0" r="4.75"/><circle cx="193.6" cy="253.0" r="4.75"/><circle cx="192.8" cy="288.0" r="4.75"/><circle cx="193.4" cy="298.0" r="4.75"/><circle cx="193.2" cy="329.0" r="4.75"/><circle cx="193.2" cy="332.0" r="4.75"/><circle cx="192.9" cy="335.0" r="4.75"/><circle cx="192.8" cy="341.0" r="4.75"/><circle cx="192.5" cy="350.0" r="4.75"/><circle cx="192.6" cy="614.0" r="4.75"/><circle cx="192.5" cy="641.0" r="4.75"/><circle cx="214.3" cy="140.0" r="4.75"/><circle cx="213.8" cy="196.0" r="4.75"/><circle cx="214.5" cy="200.0" r="4.75"/><circle cx="214.0" cy="216.0" r="4.75"/><circle cx="213.6" cy="217.0" r="4.75"/><circle cx="213.7" cy="219.0" r="4.75"/><circle cx="213.9" cy="232.0" r="4.75"/><circle cx="214.2" cy="270.0" r="4.75"/><circle cx="214.5" cy="272.0" r="4.75"/><circle cx="213.6" cy="275.0" r="4.75"/><circle cx="213.9" cy="298.0" r="4.75"/><circle cx="213.7" cy="301.0" r="4.75"/><circle cx="214.6" cy="303.0" r="4.75"/><circle cx="213.6" cy="306.0" r="4.75"/><circle cx="213.5" cy="343.0" r="4.75"/><circle cx="213.5" cy="386.0" r="4.75"/><circle cx="213.9" cy="574.0" r="4.75"/><circle cx="234.5" cy="160.0" r="4.75"/><circle cx="235.1" cy="183.0" r="4.75"/><circle cx="234.8" cy="197.0" r="4.75"/><circle cx="235.0" cy="200.0" r="4.75"/><circle cx="234.6" cy="250.0" r="4.75"/><circle cx="234.7" cy="273.0" r="4.75"/><circle cx="235.0" cy="305.0" r="4.75"/><circle cx="235.5" cy="337.0" r="4.75"/><circle cx="234.5" cy="340.0" r="4.75"/><circle cx="241.9" cy="116.0" r="4.75"/><circle cx="242.6" cy="199.0" r="4.75"/><circle cx="242.4" cy="201.0" r="4.75"/><circle cx="242.3" cy="286.0" r="4.75"/><circle cx="241.9" cy="318.0" r="4.75"/><circle cx="241.6" cy="318.0" r="4.75"/><circle cx="242.2" cy="655.0" r="4.75"/><circle cx="256.5" cy="188.0" r="4.75"/><circle cx="256.1" cy="300.0" r="4.75"/><circle cx="255.5" cy="590.0" r="4.75"/><circle cx="262.1" cy="168.0" r="4.75"/><circle cx="261.6" cy="205.0" r="4.75"/><circle cx="262.4" cy="229.0" r="4.75"/><circle cx="261.7" cy="320.0" r="4.75"/><circle cx="261.9" cy="330.0" r="4.75"/><circle cx="269.8" cy="319.0" r="4.75"/><circle cx="269.6" cy="321.0" r="4.75"/><circle cx="269.8" cy="327.0" r="4.75"/><circle cx="318.3" cy="223.0" r="4.75"/><circle cx="319.2" cy="252.0" r="4.75"/><circle cx="318.4" cy="329.0" r="4.75"/><circle cx="318.9" cy="373.0" r="4.75"/><circle cx="594.9" cy="250.0" r="4.75"/><circle cx="595.1" cy="291.0" r="4.75"/><circle cx="594.9" cy="323.0" r="4.75"/><circle cx="594.8" cy="338.0" r="4.75"/><circle cx="594.7" cy="350.0" r="4.75"/><circle cx="594.8" cy="352.0" r="4.75"/><circle cx="595.4" cy="355.0" r="4.75"/><circle cx="595.1" cy="374.0" r="4.75"/><circle cx="594.8" cy="390.0" r="4.75"/><circle cx="594.5" cy="403.0" r="4.75"/><circle cx="594.7" cy="409.0" r="4.75"/><circle cx="595.2" cy="412.0" r="4.75"/><circle cx="594.9" cy="420.0" r="4.75"/><circle cx="595.2" cy="430.0" r="4.75"/><circle cx="644.4" cy="230.0" r="4.75"/><circle cx="643.5" cy="236.0" r="4.75"/><circle cx="644.2" cy="310.0" r="4.75"/><circle cx="643.4" cy="337.0" r="4.75"/><circle cx="644.4" cy="354.0" r="4.75"/><circle cx="643.6" cy="383.0" r="4.75"/><circle cx="643.7" cy="390.0" r="4.75"/><circle cx="644.5" cy="397.0" r="4.75"/><circle cx="643.8" cy="404.0" r="4.75"/><circle cx="644.4" cy="378.1" r="4.75"/><circle cx="644.4" cy="384.7" r="4.75"/><circle cx="644.0" cy="388.5" r="4.75"/><circle cx="644.0" cy="396.0" r="4.75"/><circle cx="643.7" cy="400.9" r="4.75"/><circle cx="643.7" cy="409.8" r="4.75"/><circle cx="643.5" cy="413.9" r="4.75"/><circle cx="644.4" cy="417.7" r="4.75"/><circle cx="644.3" cy="425.2" r="4.75"/><circle cx="643.9" cy="429.8" r="4.75"/><circle cx="644.1" cy="434.8" r="4.75"/><circle cx="654.4" cy="238.0" r="4.75"/><circle cx="654.0" cy="253.0" r="4.75"/><circle cx="653.9" cy="257.0" r="4.75"/><circle cx="654.5" cy="259.0" r="4.75"/><circle cx="654.5" cy="277.0" r="4.75"/><circle cx="654.2" cy="306.0" r="4.75"/><circle cx="653.5" cy="318.0" r="4.75"/><circle cx="654.1" cy="326.0" r="4.75"/><circle cx="653.9" cy="330.0" r="4.75"/><circle cx="654.5" cy="344.0" r="4.75"/><circle cx="653.8" cy="350.0" r="4.75"/><circle cx="654.2" cy="358.0" r="4.75"/><circle cx="654.2" cy="407.0" r="4.75"/><circle cx="654.0" cy="378.5" r="4.75"/><circle cx="654.4" cy="383.7" r="4.75"/><circle cx="653.9" cy="387.0" r="4.75"/><circle cx="653.6" cy="392.9" r="4.75"/><circle cx="654.2" cy="396.3" r="4.75"/><circle cx="653.9" cy="399.2" r="4.75"/><circle cx="654.4" cy="410.0" r="4.75"/><circle cx="654.2" cy="416.5" r="4.75"/><circle cx="653.8" cy="418.6" r="4.75"/><circle cx="654.5" cy="425.9" r="4.75"/><circle cx="653.6" cy="437.6" r="4.75"/><circle cx="654.1" cy="442.3" r="4.75"/><circle cx="683.5" cy="166.0" r="4.75"/><circle cx="683.9" cy="207.0" r="4.75"/><circle cx="684.3" cy="225.0" r="4.75"/><circle cx="684.2" cy="229.0" r="4.75"/><circle cx="683.7" cy="242.0" r="4.75"/><circle cx="684.3" cy="246.0" r="4.75"/><circle cx="683.7" cy="250.0" r="4.75"/><circle cx="684.1" cy="254.0" r="4.75"/><circle cx="683.9" cy="256.0" r="4.75"/><circle cx="684.6" cy="260.0" r="4.75"/><circle cx="684.2" cy="266.0" r="4.75"/><circle cx="684.4" cy="271.0" r="4.75"/><circle cx="684.2" cy="277.0" r="4.75"/><circle cx="683.9" cy="294.0" r="4.75"/><circle cx="684.6" cy="306.0" r="4.75"/><circle cx="684.3" cy="310.0" r="4.75"/><circle cx="684.2" cy="315.0" r="4.75"/><circle cx="683.7" cy="320.0" r="4.75"/><circle cx="683.6" cy="330.0" r="4.75"/><circle cx="684.1" cy="364.0" r="4.75"/><circle cx="684.4" cy="367.0" r="4.75"/><circle cx="684.4" cy="370.0" r="4.75"/><circle cx="683.8" cy="389.0" r="4.75"/><circle cx="683.6" cy="409.0" r="4.75"/><circle cx="684.0" cy="412.0" r="4.75"/><circle cx="684.5" cy="415.0" r="4.75"/><circle cx="684.2" cy="401.2" r="4.75"/><circle cx="683.8" cy="408.8" r="4.75"/><circle cx="683.8" cy="415.4" r="4.75"/><circle cx="684.5" cy="425.4" r="4.75"/><circle cx="683.7" cy="463.3" r="4.75"/><circle cx="684.4" cy="469.9" r="4.75"/><circle cx="683.8" cy="486.7" r="4.75"/><circle cx="683.6" cy="510.3" r="4.75"/><circle cx="683.9" cy="525.9" r="4.75"/><circle cx="689.9" cy="236.0" r="4.75"/><circle cx="690.6" cy="267.0" r="4.75"/><circle cx="689.7" cy="283.0" r="4.75"/><circle cx="689.6" cy="300.0" r="4.75"/><circle cx="690.5" cy="320.0" r="4.75"/><circle cx="689.9" cy="325.0" r="4.75"/><circle cx="690.4" cy="330.0" r="4.75"/><circle cx="690.2" cy="334.0" r="4.75"/><circle cx="690.3" cy="362.0" r="4.75"/><circle cx="689.8" cy="367.0" r="4.75"/><circle cx="689.6" cy="372.0" r="4.75"/><circle cx="690.3" cy="403.0" r="4.75"/><circle cx="690.1" cy="408.1" r="4.75"/><circle cx="690.3" cy="416.1" r="4.75"/><circle cx="689.9" cy="420.2" r="4.75"/><circle cx="701.5" cy="224.0" r="4.75"/><circle cx="701.0" cy="236.0" r="4.75"/><circle cx="700.7" cy="245.0" r="4.75"/><circle cx="701.2" cy="263.0" r="4.75"/><circle cx="700.7" cy="279.0" r="4.75"/><circle cx="701.3" cy="298.0" r="4.75"/><circle cx="700.4" cy="304.0" r="4.75"/><circle cx="701.4" cy="310.0" r="4.75"/><circle cx="701.1" cy="344.0" r="4.75"/><circle cx="700.8" cy="348.0" r="4.75"/><circle cx="701.5" cy="360.0" r="4.75"/><circle cx="700.7" cy="362.0" r="4.75"/><circle cx="700.7" cy="376.0" r="4.75"/><circle cx="700.5" cy="393.0" r="4.75"/><circle cx="701.3" cy="402.5" r="4.75"/><circle cx="700.9" cy="407.6" r="4.75"/><circle cx="700.6" cy="412.6" r="4.75"/><circle cx="701.1" cy="414.9" r="4.75"/><circle cx="701.1" cy="422.4" r="4.75"/><circle cx="701.3" cy="425.6" r="4.75"/><circle cx="701.4" cy="428.8" r="4.75"/><circle cx="700.8" cy="434.8" r="4.75"/><circle cx="701.3" cy="437.8" r="4.75"/><circle cx="700.7" cy="442.1" r="4.75"/><circle cx="701.0" cy="458.8" r="4.75"/><circle cx="701.2" cy="469.1" r="4.75"/><circle cx="700.6" cy="490.9" r="4.75"/><circle cx="700.6" cy="497.9" r="4.75"/><circle cx="701.0" cy="514.9" r="4.75"/><circle cx="701.2" cy="537.7" r="4.75"/><circle cx="706.1" cy="237.0" r="4.75"/><circle cx="705.9" cy="263.0" r="4.75"/><circle cx="706.1" cy="271.0" r="4.75"/><circle cx="705.7" cy="288.0" r="4.75"/><circle cx="706.4" cy="326.0" r="4.75"/><circle cx="706.3" cy="330.0" r="4.75"/><circle cx="706.4" cy="334.0" r="4.75"/><circle cx="705.6" cy="338.0" r="4.75"/><circle cx="706.2" cy="370.0" r="4.75"/><circle cx="706.3" cy="374.0" r="4.75"/><circle cx="706.0" cy="378.0" r="4.75"/><circle cx="706.4" cy="405.1" r="4.75"/><circle cx="706.3" cy="409.8" r="4.75"/><circle cx="706.4" cy="414.9" r="4.75"/><circle cx="706.2" cy="417.6" r="4.75"/><circle cx="706.1" cy="426.5" r="4.75"/><circle cx="705.6" cy="429.7" r="4.75"/><circle cx="706.3" cy="437.1" r="4.75"/><circle cx="705.7" cy="440.9" r="4.75"/><circle cx="705.6" cy="449.3" r="4.75"/><circle cx="706.5" cy="476.8" r="4.75"/><circle cx="705.9" cy="498.2" r="4.75"/><circle cx="705.6" cy="515.3" r="4.75"/><circle cx="705.8" cy="536.9" r="4.75"/><circle cx="712.4" cy="237.0" r="4.75"/><circle cx="713.2" cy="257.0" r="4.75"/><circle cx="712.6" cy="262.0" r="4.75"/><circle cx="712.7" cy="267.0" r="4.75"/><circle cx="712.5" cy="273.0" r="4.75"/><circle cx="712.9" cy="285.0" r="4.75"/><circle cx="713.1" cy="290.0" r="4.75"/><circle cx="713.4" cy="295.0" r="4.75"/><circle cx="712.4" cy="300.0" r="4.75"/><circle cx="713.4" cy="304.0" r="4.75"/><circle cx="712.5" cy="320.0" r="4.75"/><circle cx="712.7" cy="334.0" r="4.75"/><circle cx="713.2" cy="360.0" r="4.75"/><circle cx="712.8" cy="376.0" r="4.75"/><circle cx="712.8" cy="379.0" r="4.75"/><circle cx="713.1" cy="381.0" r="4.75"/><circle cx="712.7" cy="405.0" r="4.75"/><circle cx="712.7" cy="404.0" r="4.75"/><circle cx="713.3" cy="409.2" r="4.75"/><circle cx="712.5" cy="412.7" r="4.75"/><circle cx="712.5" cy="418.9" r="4.75"/><circle cx="712.9" cy="422.5" r="4.75"/><circle cx="713.1" cy="425.3" r="4.75"/><circle cx="713.1" cy="433.6" r="4.75"/><circle cx="713.0" cy="437.0" r="4.75"/><circle cx="721.1" cy="328.0" r="4.75"/><circle cx="720.7" cy="333.0" r="4.75"/><circle cx="721.4" cy="338.0" r="4.75"/><circle cx="721.6" cy="343.0" r="4.75"/><circle cx="721.4" cy="348.0" r="4.75"/><circle cx="721.6" cy="358.0" r="4.75"/><circle cx="720.8" cy="374.0" r="4.75"/><circle cx="721.6" cy="378.0" r="4.75"/><circle cx="721.0" cy="400.5" r="4.75"/><circle cx="721.0" cy="407.6" r="4.75"/><circle cx="721.2" cy="417.9" r="4.75"/><circle cx="720.8" cy="423.0" r="4.75"/><circle cx="720.9" cy="427.9" r="4.75"/><circle cx="720.7" cy="435.2" r="4.75"/><circle cx="738.3" cy="287.0" r="4.75"/><circle cx="738.0" cy="292.0" r="4.75"/><circle cx="737.9" cy="296.0" r="4.75"/><circle cx="737.6" cy="316.0" r="4.75"/><circle cx="738.2" cy="326.0" r="4.75"/><circle cx="737.6" cy="342.0" r="4.75"/><circle cx="737.7" cy="348.0" r="4.75"/><circle cx="738.1" cy="354.0" r="4.75"/><circle cx="738.2" cy="366.0" r="4.75"/><circle cx="738.6" cy="372.0" r="4.75"/><circle cx="738.3" cy="378.0" r="4.75"/><circle cx="738.5" cy="385.0" r="4.75"/><circle cx="738.2" cy="410.7" r="4.75"/><circle cx="737.6" cy="415.7" r="4.75"/><circle cx="737.5" cy="418.8" r="4.75"/><circle cx="738.2" cy="429.1" r="4.75"/><circle cx="737.8" cy="433.9" r="4.75"/><circle cx="737.7" cy="438.5" r="4.75"/><circle cx="738.5" cy="446.5" r="4.75"/><circle cx="737.5" cy="450.7" r="4.75"/><circle cx="737.9" cy="458.1" r="4.75"/><circle cx="738.3" cy="488.2" r="4.75"/><circle cx="737.6" cy="498.0" r="4.75"/><circle cx="737.7" cy="509.4" r="4.75"/><circle cx="738.0" cy="538.6" r="4.75"/><circle cx="738.4" cy="559.8" r="4.75"/><circle cx="753.4" cy="249.0" r="4.75"/><circle cx="753.0" cy="251.0" r="4.75"/><circle cx="752.6" cy="289.9" r="4.75"/><circle cx="753.1" cy="291.3" r="4.75"/><circle cx="752.7" cy="298.0" r="4.75"/><circle cx="752.5" cy="301.6" r="4.75"/><circle cx="753.2" cy="309.6" r="4.75"/><circle cx="753.5" cy="314.5" r="4.75"/><circle cx="753.2" cy="316.9" r="4.75"/><circle cx="753.3" cy="321.4" r="4.75"/><circle cx="752.6" cy="328.4" r="4.75"/><circle cx="752.7" cy="329.3" r="4.75"/><circle cx="752.9" cy="350.7" r="4.75"/><circle cx="753.3" cy="352.6" r="4.75"/><circle cx="753.0" cy="360.7" r="4.75"/><circle cx="753.4" cy="361.9" r="4.75"/><circle cx="752.6" cy="368.7" r="4.75"/><circle cx="753.1" cy="372.3" r="4.75"/><circle cx="753.0" cy="379.5" r="4.75"/><circle cx="752.7" cy="391.2" r="4.75"/><circle cx="753.4" cy="393.4" r="4.75"/><circle cx="752.6" cy="397.3" r="4.75"/><circle cx="752.6" cy="401.6" r="4.75"/><circle cx="753.0" cy="406.2" r="4.75"/><circle cx="753.1" cy="414.9" r="4.75"/><circle cx="752.9" cy="421.9" r="4.75"/><circle cx="753.2" cy="424.2" r="4.75"/><circle cx="753.0" cy="430.3" r="4.75"/><circle cx="753.2" cy="438.8" r="4.75"/><circle cx="752.7" cy="447.0" r="4.75"/><circle cx="753.2" cy="452.8" r="4.75"/><circle cx="752.6" cy="464.9" r="4.75"/><circle cx="753.1" cy="495.1" r="4.75"/><circle cx="752.7" cy="498.3" r="4.75"/><circle cx="752.7" cy="538.7" r="4.75"/><circle cx="753.3" cy="547.2" r="4.75"/><circle cx="771.4" cy="224.0" r="4.75"/><circle cx="771.2" cy="238.0" r="4.75"/><circle cx="771.3" cy="257.0" r="4.75"/><circle cx="770.4" cy="283.0" r="4.75"/><circle cx="770.5" cy="289.0" r="4.75"/><circle cx="771.6" cy="295.0" r="4.75"/><circle cx="771.4" cy="354.0" r="4.75"/><circle cx="770.5" cy="304.2" r="4.75"/><circle cx="771.4" cy="310.0" r="4.75"/><circle cx="771.2" cy="314.8" r="4.75"/><circle cx="771.1" cy="323.1" r="4.75"/><circle cx="770.8" cy="327.9" r="4.75"/><circle cx="770.5" cy="329.0" r="4.75"/><circle cx="770.6" cy="336.8" r="4.75"/><circle cx="771.2" cy="382.4" r="4.75"/><circle cx="771.3" cy="383.2" r="4.75"/><circle cx="771.0" cy="386.6" r="4.75"/><circle cx="771.3" cy="389.9" r="4.75"/><circle cx="771.4" cy="410.1" r="4.75"/><circle cx="771.4" cy="410.7" r="4.75"/><circle cx="771.3" cy="419.6" r="4.75"/><circle cx="771.1" cy="425.0" r="4.75"/><circle cx="771.3" cy="431.3" r="4.75"/><circle cx="770.6" cy="434.0" r="4.75"/><circle cx="770.8" cy="442.4" r="4.75"/><circle cx="778.9" cy="287.0" r="4.75"/><circle cx="778.4" cy="296.0" r="4.75"/><circle cx="779.3" cy="304.0" r="4.75"/><circle cx="778.4" cy="314.0" r="4.75"/><circle cx="779.4" cy="332.0" r="4.75"/><circle cx="779.4" cy="360.0" r="4.75"/><circle cx="778.9" cy="380.0" r="4.75"/><circle cx="778.5" cy="385.0" r="4.75"/><circle cx="779.2" cy="389.0" r="4.75"/><circle cx="778.9" cy="401.9" r="4.75"/><circle cx="779.5" cy="410.0" r="4.75"/><circle cx="778.9" cy="422.9" r="4.75"/><circle cx="779.2" cy="427.8" r="4.75"/><circle cx="779.3" cy="443.6" r="4.75"/><circle cx="739.8" cy="717.0" r="4.75"/><circle cx="694.9" cy="412.0" r="4.75"/><circle cx="700.7" cy="414.5" r="4.75"/><circle cx="703.9" cy="417.5" r="4.75"/><circle cx="697.7" cy="419.7" r="4.75"/><circle cx="704.1" cy="421.3" r="4.75"/><circle cx="695.1" cy="422.3" r="4.75"/><circle cx="694.9" cy="425.9" r="4.75"/><circle cx="701.2" cy="426.6" r="4.75"/><circle cx="703.8" cy="429.8" r="4.75"/><circle cx="697.8" cy="431.5" r="4.75"/><circle cx="700.9" cy="432.5" r="4.75"/><circle cx="704.2" cy="434.8" r="4.75"/><circle cx="700.9" cy="437.9" r="4.75"/><circle cx="704.0" cy="438.2" r="4.75"/><circle cx="716.5" cy="405.3" r="4.75"/><circle cx="722.0" cy="410.6" r="4.75"/><circle cx="719.3" cy="414.2" r="4.75"/><circle cx="716.5" cy="416.7" r="4.75"/><circle cx="719.1" cy="417.7" r="4.75"/><circle cx="721.9" cy="421.3" r="4.75"/><circle cx="719.3" cy="423.8" r="4.75"/><circle cx="716.3" cy="429.8" r="4.75"/><circle cx="749.2" cy="412.8" r="4.75"/><circle cx="753.8" cy="416.5" r="4.75"/><circle cx="751.3" cy="422.8" r="4.75"/><circle cx="753.7" cy="428.9" r="4.75"/><circle cx="753.9" cy="431.0" r="4.75"/><circle cx="751.5" cy="437.0" r="4.75"/><circle cx="746.5" cy="444.9" r="4.75"/><circle cx="746.4" cy="447.0" r="4.75"/><circle cx="749.2" cy="451.1" r="4.75"/><circle cx="749.3" cy="455.0" r="4.75"/><circle cx="749.3" cy="463.4" r="4.75"/><circle cx="754.3" cy="465.4" r="4.75"/><circle cx="770.3" cy="414.3" r="4.75"/><circle cx="774.2" cy="418.1" r="4.75"/><circle cx="774.2" cy="423.6" r="4.75"/><circle cx="770.6" cy="429.8" r="4.75"/><circle cx="770.6" cy="430.7" r="4.75"/><circle cx="770.2" cy="435.4" r="4.75"/></g>
<line x1="193.5" y1="283.46" x2="778.7" y2="400.68" stroke="#A95EC1" stroke-width="10.8"/>
<rect x="164.4" y="86.2" width="643.5" height="660.2" fill="none" stroke="#3a3a3a" stroke-width="1.8"/>
<g stroke="#111" stroke-width="2.6"><line x1="155.1" y1="716.9" x2="162.2" y2="716.9"/><line x1="155.1" y1="565.0" x2="162.2" y2="565.0"/><line x1="155.1" y1="413.1" x2="162.2" y2="413.1"/><line x1="155.1" y1="261.1" x2="162.2" y2="261.1"/><line x1="155.1" y1="109.2" x2="162.2" y2="109.2"/><line x1="808.6" y1="718.6" x2="816" y2="718.6"/><line x1="808.6" y1="523.4" x2="816" y2="523.4"/><line x1="808.6" y1="328.1" x2="816" y2="328.1"/><line x1="808.6" y1="132.9" x2="816" y2="132.9"/><line x1="276.6" y1="749" y2="756" x2="276.6"/><line x1="416.1" y1="749" y2="756" x2="416.1"/><line x1="555.7" y1="749" y2="756" x2="555.7"/><line x1="695.2" y1="749" y2="756" x2="695.2"/></g>
<g font-size="26" fill="#000" stroke="#000" stroke-width="0.35"><text x="146.5" y="725.5" text-anchor="end">0.00</text><text x="146.5" y="573.6" text-anchor="end">0.25</text><text x="146.5" y="421.7" text-anchor="end">0.50</text><text x="146.5" y="269.7" text-anchor="end">0.75</text><text x="146.5" y="117.8" text-anchor="end">1.00</text><text x="823" y="727.2">0</text><text x="823" y="532.0">20</text><text x="823" y="336.7">40</text><text x="823" y="141.5">60</text><text x="276.2" y="781.6" text-anchor="middle">0</text><text x="415.7" y="781.6" text-anchor="middle">1</text><text x="555.3" y="781.6" text-anchor="middle">2</text><text x="694.8" y="781.6" text-anchor="middle">3</text></g>
<g font-size="27" fill="#000" stroke="#000" stroke-width="0.55"><rect x="8.2" y="2.4" width="25.5" height="25.4" fill="#CB6B3F" stroke="#000" stroke-width="2.6"/><rect x="8.2" y="38.6" width="25.5" height="25.4" fill="#C8579D" stroke="#000" stroke-width="2.6"/><rect x="343.9" y="2.1" width="25.5" height="25.4" fill="#78A456" stroke="#000" stroke-width="2.6"/><rect x="343.9" y="38.9" width="25.5" height="25.4" fill="#7678CE" stroke="#000" stroke-width="2.6"/><rect x="759.9" y="20.3" width="25.5" height="25.4" fill="#A95EC1" stroke="#000" stroke-width="2.6"/><text x="47" y="25.3" textLength="219" lengthAdjust="spacingAndGlyphs">functional potential</text><text x="47" y="61" textLength="258.5" lengthAdjust="spacingAndGlyphs">taxonomy (16S rRNA)</text><text x="383" y="25.3" textLength="329.7" lengthAdjust="spacingAndGlyphs">biosynthetic potential (GCFs)</text><text x="383" y="61" textLength="334.3" lengthAdjust="spacingAndGlyphs">biosynthetic potential (OBUs)</text><text x="798.7" y="42.6" textLength="142.3" lengthAdjust="spacingAndGlyphs">metabolome</text></g>
<g fill="#000" stroke="#000" stroke-width="0.6"><text x="487.75" y="825.5" text-anchor="middle" font-size="38" textLength="392.5" lengthAdjust="spacingAndGlyphs">log (spatial distance (m))</text><text transform="translate(29.7,416.8) rotate(-90)" text-anchor="middle" font-size="37.5" textLength="314.4" lengthAdjust="spacingAndGlyphs">community similarity</text><text transform="translate(70.8,417.55) rotate(-90)" text-anchor="middle" font-size="37.5" textLength="239.9" lengthAdjust="spacingAndGlyphs">(1 - Bray-Curtis)</text><text transform="translate(918.3,417.1) rotate(90)" text-anchor="middle" font-size="37.5" textLength="341.2" lengthAdjust="spacingAndGlyphs">metabolome similarity</text><text transform="translate(877.3,416.55) rotate(90)" text-anchor="middle" font-size="37.5" textLength="252.9" lengthAdjust="spacingAndGlyphs">(max(Euc) - Euc)</text></g>
</svg>
</body></html>
